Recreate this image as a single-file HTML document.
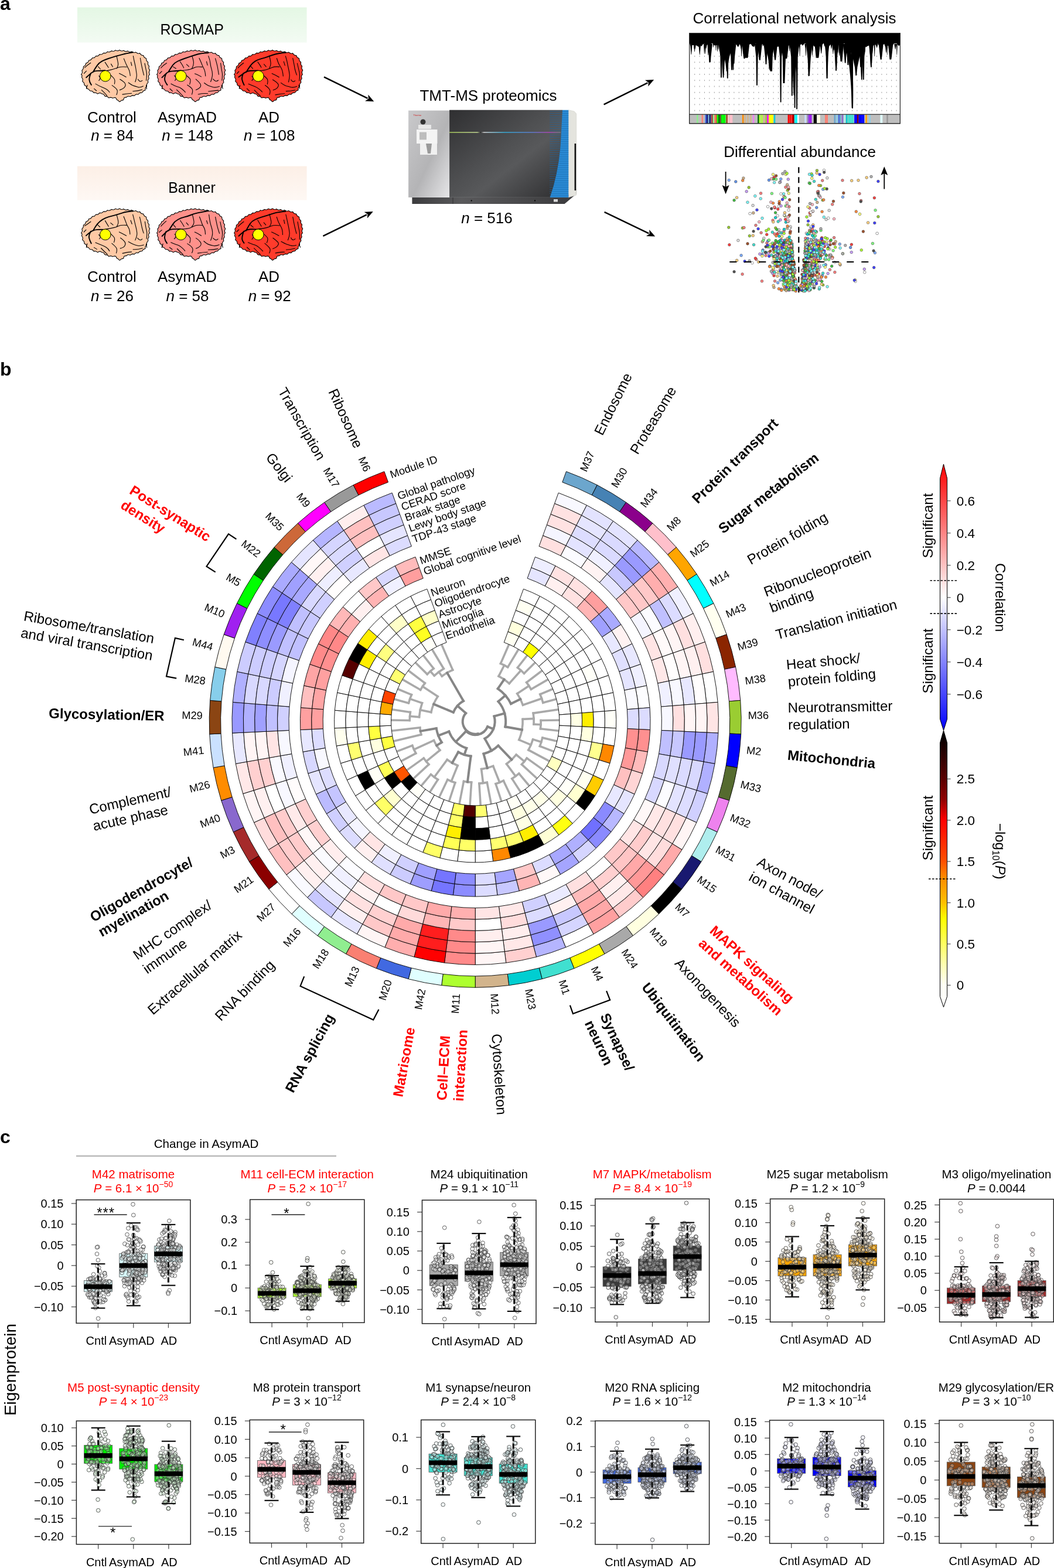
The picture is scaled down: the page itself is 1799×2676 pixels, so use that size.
<!DOCTYPE html><html><head><meta charset="utf-8"><title>Figure</title><style>html,body{margin:0;padding:0;background:#fff}svg{display:block}text{font-family:"Liberation Sans",Arial,Helvetica,sans-serif}</style></head><body><svg xmlns="http://www.w3.org/2000/svg" width="1799" height="2676" viewBox="0 0 1799 2676"><rect width="1799" height="2676" fill="#fff"/><text x="0" y="17" font-size="32" font-weight="bold">a</text>
<defs><linearGradient id="gR" x1="0" y1="0" x2="0" y2="1"><stop offset="0" stop-color="#E4F7E4"/><stop offset="1" stop-color="#F3FBF3"/></linearGradient><linearGradient id="gB" x1="0" y1="0" x2="0" y2="1"><stop offset="0" stop-color="#FCEFE6"/><stop offset="1" stop-color="#FEF8F4"/></linearGradient></defs>
<rect x="132" y="12.6" width="391.6" height="60" fill="url(#gR)"/>
<rect x="132" y="283.6" width="391.6" height="58" fill="url(#gB)"/>
<text x="327.7" y="59" font-size="25" text-anchor="middle">ROSMAP</text>
<text x="327.5" y="328.5" font-size="25" text-anchor="middle">Banner</text>
<path d="M138.6,127.1 L139.4,126.0 L140.0,124.9 L140.4,123.6 L140.4,122.3 L139.9,120.8 L140.3,119.6 L141.2,118.6 L142.0,117.3 L142.3,116.1 L142.3,114.7 L142.8,113.3 L144.4,112.4 L145.3,111.7 L146.0,110.6 L146.4,109.2 L146.9,107.8 L148.5,107.3 L149.8,106.6 L150.6,105.5 L151.2,104.2 L151.7,102.9 L153.1,102.7 L154.3,102.4 L155.4,101.8 L156.2,100.9 L156.9,99.8 L157.7,98.9 L159.1,98.8 L160.5,98.6 L161.6,98.0 L162.5,97.0 L163.4,95.7 L164.8,95.6 L166.3,95.6 L167.6,95.2 L168.7,94.3 L169.6,93.1 L170.9,92.8 L172.3,93.0 L173.7,92.7 L174.8,92.1 L175.9,91.1 L177.1,90.4 L178.5,90.6 L179.9,90.6 L181.1,90.2 L182.2,89.4 L183.2,88.3 L184.6,88.6 L186.0,88.8 L187.2,88.6 L188.4,88.1 L189.5,87.2 L190.8,86.9 L192.1,87.3 L193.3,87.5 L194.5,87.3 L195.6,86.7 L196.7,85.9 L198.0,86.0 L199.2,86.5 L200.4,86.8 L201.6,86.6 L202.8,86.1 L204.1,85.3 L205.4,86.2 L206.7,86.8 L208.0,87.0 L209.3,86.8 L210.8,86.2 L212.0,86.7 L213.3,87.5 L214.6,87.9 L215.8,87.8 L217.1,87.4 L218.3,87.1 L219.4,87.9 L220.6,88.5 L221.8,88.7 L223.0,88.6 L224.3,88.1 L225.5,88.2 L226.6,89.1 L227.7,89.7 L229.0,89.8 L230.3,89.6 L231.6,89.1 L232.8,89.7 L233.8,90.6 L234.9,91.1 L236.1,91.2 L237.4,91.1 L238.8,90.9 L239.6,92.2 L240.5,93.3 L241.6,94.1 L243.0,94.4 L244.6,94.6 L245.3,95.9 L245.8,97.2 L246.6,98.2 L247.7,98.8 L249.1,99.5 L249.8,100.6 L249.8,102.0 L250.1,103.3 L250.8,104.4 L251.9,105.4 L252.7,106.6 L252.4,108.2 L252.4,109.4 L252.8,110.5 L253.5,111.6 L254.5,112.7 L254.3,114.1 L254.0,115.4 L254.0,116.7 L254.4,117.8 L255.1,118.9 L255.7,120.0 L254.9,121.5 L254.5,122.8 L254.4,124.2 L254.8,125.5 L255.4,126.9 L254.4,128.1 L253.7,129.4 L253.5,130.6 L253.6,131.8 L254.1,133.1 L254.0,134.3 L253.2,135.4 L252.6,136.5 L252.4,137.7 L252.5,139.0 L252.9,140.4 L252.1,141.5 L251.2,142.6 L250.6,143.8 L250.4,145.1 L250.5,146.5 L250.4,147.7 L249.4,148.5 L248.3,149.9 L248.0,151.2 L248.0,152.6 L247.8,154.1 L246.2,154.6 L245.2,155.1 L244.2,155.7 L243.4,156.7 L242.6,158.0 L241.2,158.3 L239.6,158.4 L238.2,158.9 L237.3,159.7 L236.5,160.7 L235.3,161.2 L233.9,160.9 L232.6,161.0 L231.4,161.5 L230.3,162.4 L229.3,163.5 L227.8,163.1 L226.5,162.9 L225.3,163.1 L224.1,163.7 L222.9,164.7 L221.5,164.7 L220.1,164.2 L218.8,164.2 L217.6,164.6 L216.5,165.4 L215.7,166.2 L214.6,166.1 L212.6,166.4 L211.5,167.6 L211.2,168.9 L210.8,170.3 L209.6,170.9 L208.1,171.1 L206.9,171.6 L206.0,172.4 L205.2,173.2 L203.9,173.6 L202.8,172.6 L201.9,171.6 L201.0,171.1 L200.1,170.6 L199.0,169.8 L198.6,168.5 L197.6,167.0 L196.4,166.6 L195.1,166.6 L193.7,167.1 L192.3,167.5 L190.9,166.7 L189.5,166.3 L188.1,166.4 L186.9,166.7 L185.4,166.9 L184.4,165.8 L183.4,165.0 L182.3,164.5 L181.1,164.3 L179.8,164.4 L178.8,163.9 L178.0,162.4 L177.2,161.3 L176.1,160.5 L174.6,160.2 L173.3,160.0 L172.1,159.1 L170.7,158.6 L169.3,158.8 L167.9,159.5 L166.6,160.2 L165.4,159.4 L164.2,158.6 L163.0,158.2 L161.7,158.1 L160.1,158.3 L159.0,157.1 L158.2,156.2 L157.1,155.5 L155.7,155.3 L154.2,155.3 L153.1,154.7 L152.3,153.5 L151.6,152.6 L150.6,151.9 L149.5,151.5 L148.2,151.1 L147.8,149.9 L147.6,148.5 L147.0,147.3 L146.1,146.4 L144.9,145.7 L143.9,144.7 L143.8,143.1 L143.4,141.7 L142.7,140.7 L141.7,139.8 L140.7,138.7 L141.0,137.3 L141.3,136.0 L141.1,134.8 L140.6,133.7 L139.9,132.7 L139.5,131.3 L139.9,129.9 L140.0,128.6Z" fill="#FFC9A5" stroke="#000" stroke-width="1.1"/>
<path d="M158.6,123.2 Q162.7,116.1 166.1,111.4 Q169.5,106.7 174.2,104.3 Q179.0,102.0 184.8,100.0 Q190.5,98.1 197.0,96.2 Q203.4,94.4 209.2,92.8 Q215.1,91.3 226.9,89.3 M147.2,132.3 Q154.9,125.0 158.2,123.0 Q161.5,121.0 166.4,120.9 Q171.2,120.9 179.4,120.2 M155.3,124.7 Q152.0,132.4 152.4,136.4 Q152.8,140.4 155.9,144.9" fill="none" stroke="#000" stroke-width="1.9" stroke-linecap="round"/>
<path d="M179.5,121.3 Q191.5,119.0 195.0,117.6 Q198.6,116.2 203.1,114.8 Q207.6,113.4 216.2,114.3 M199.0,95.4 Q200.8,103.6 201.5,107.8 Q202.1,112.0 199.2,117.0 M211.4,100.1 Q214.2,107.1 215.8,110.6 Q217.4,114.1 219.5,117.8 Q221.5,121.6 222.3,129.2 M227.4,95.6 Q228.7,103.0 230.1,108.5 Q231.4,114.1 232.0,118.0 Q232.5,121.9 233.2,126.5 Q233.9,131.1 230.8,139.8 M239.4,99.0 Q241.1,109.0 242.2,114.1 Q243.3,119.3 245.5,128.1 M247.0,108.1 Q248.8,117.0 249.9,122.0 Q251.1,126.9 249.6,137.4 M163.1,143.1 Q169.5,146.9 173.6,148.5 Q177.8,150.1 181.6,152.2 Q185.5,154.4 187.0,157.5 M191.2,145.6 Q197.1,149.6 199.3,152.6 Q201.5,155.5 198.9,161.8 M204.7,135.3 Q211.6,139.5 213.3,142.2 Q215.1,144.9 213.0,148.3 Q210.9,151.6 204.4,153.6 M219.2,141.0 Q225.2,145.5 228.2,146.4 Q231.2,147.3 235.2,148.6 Q239.2,149.8 244.4,147.0 M179.2,106.1 Q182.7,111.4 185.1,115.3 M168.8,129.3 Q172.8,133.6 168.8,137.4 M187.3,126.9 Q193.1,131.8 194.9,134.5 Q196.8,137.2 195.4,143.2 M144.6,115.4 Q149.2,111.0 154.8,107.3 M143.4,125.4 L147.4,121.1 M226.8,155.7 Q235.5,155.4 242.7,153.0 M209.0,161.1 Q217.4,159.9 224.6,159.2 M173.4,153.7 Q179.4,159.3 182.6,163.3 M235.4,135.2 Q238.8,141.4 242.9,137.4 M189.5,109.1 L192.4,114.0 M223.5,106.1 L224.9,112.0 M203.5,125.2 Q209.3,127.9 215.2,131.5 M160.7,151.3 L164.7,155.0 M149.1,145.2 L147.4,151.0 M167.5,113.7 L171.5,118.0 M249.5,145.6 L250.4,151.8" fill="none" stroke="#000" stroke-width="1.1" stroke-linecap="round"/>
<circle cx="179.8" cy="129.8" r="9.3" fill="#FFFF00" stroke="#000" stroke-width="1"/>
<path d="M267.6,127.1 L268.4,126.0 L269.0,124.9 L269.4,123.6 L269.4,122.3 L268.9,120.8 L269.3,119.6 L270.2,118.6 L271.0,117.3 L271.3,116.1 L271.3,114.7 L271.8,113.3 L273.4,112.4 L274.3,111.7 L275.0,110.6 L275.4,109.2 L275.9,107.8 L277.5,107.3 L278.8,106.6 L279.6,105.5 L280.2,104.2 L280.7,102.9 L282.1,102.7 L283.3,102.4 L284.4,101.8 L285.2,100.9 L285.9,99.8 L286.7,98.9 L288.1,98.8 L289.5,98.6 L290.6,98.0 L291.5,97.0 L292.4,95.7 L293.8,95.6 L295.3,95.6 L296.6,95.2 L297.7,94.3 L298.6,93.1 L299.9,92.8 L301.3,93.0 L302.7,92.7 L303.8,92.1 L304.9,91.1 L306.1,90.4 L307.5,90.6 L308.9,90.6 L310.1,90.2 L311.2,89.4 L312.2,88.3 L313.6,88.6 L315.0,88.8 L316.2,88.6 L317.4,88.1 L318.5,87.2 L319.8,86.9 L321.1,87.3 L322.3,87.5 L323.5,87.3 L324.6,86.7 L325.7,85.9 L327.0,86.0 L328.2,86.5 L329.4,86.8 L330.6,86.6 L331.8,86.1 L333.1,85.3 L334.4,86.2 L335.7,86.8 L337.0,87.0 L338.3,86.8 L339.8,86.2 L341.0,86.7 L342.3,87.5 L343.6,87.9 L344.8,87.8 L346.1,87.4 L347.3,87.1 L348.4,87.9 L349.6,88.5 L350.8,88.7 L352.0,88.6 L353.3,88.1 L354.5,88.2 L355.6,89.1 L356.7,89.7 L358.0,89.8 L359.3,89.6 L360.6,89.1 L361.8,89.7 L362.8,90.6 L363.9,91.1 L365.1,91.2 L366.4,91.1 L367.8,90.9 L368.6,92.2 L369.5,93.3 L370.6,94.1 L372.0,94.4 L373.6,94.6 L374.3,95.9 L374.8,97.2 L375.6,98.2 L376.7,98.8 L378.1,99.5 L378.8,100.6 L378.8,102.0 L379.1,103.3 L379.8,104.4 L380.9,105.4 L381.7,106.6 L381.4,108.2 L381.4,109.4 L381.8,110.5 L382.5,111.6 L383.5,112.7 L383.3,114.1 L383.0,115.4 L383.0,116.7 L383.4,117.8 L384.1,118.9 L384.7,120.0 L383.9,121.5 L383.5,122.8 L383.4,124.2 L383.8,125.5 L384.4,126.9 L383.4,128.1 L382.7,129.4 L382.5,130.6 L382.6,131.8 L383.1,133.1 L383.0,134.3 L382.2,135.4 L381.6,136.5 L381.4,137.7 L381.5,139.0 L381.9,140.4 L381.1,141.5 L380.2,142.6 L379.6,143.8 L379.4,145.1 L379.5,146.5 L379.4,147.7 L378.4,148.5 L377.3,149.9 L377.0,151.2 L377.0,152.6 L376.8,154.1 L375.2,154.6 L374.2,155.1 L373.2,155.7 L372.4,156.7 L371.6,158.0 L370.2,158.3 L368.6,158.4 L367.2,158.9 L366.3,159.7 L365.5,160.7 L364.3,161.2 L362.9,160.9 L361.6,161.0 L360.4,161.5 L359.3,162.4 L358.3,163.5 L356.8,163.1 L355.5,162.9 L354.3,163.1 L353.1,163.7 L351.9,164.7 L350.5,164.7 L349.1,164.2 L347.8,164.2 L346.6,164.6 L345.5,165.4 L344.7,166.2 L343.6,166.1 L341.6,166.4 L340.5,167.6 L340.2,168.9 L339.8,170.3 L338.6,170.9 L337.1,171.1 L335.9,171.6 L335.0,172.4 L334.2,173.2 L332.9,173.6 L331.8,172.6 L330.9,171.6 L330.0,171.1 L329.1,170.6 L328.0,169.8 L327.6,168.5 L326.6,167.0 L325.4,166.6 L324.1,166.6 L322.7,167.1 L321.3,167.5 L319.9,166.7 L318.5,166.3 L317.1,166.4 L315.9,166.7 L314.4,166.9 L313.4,165.8 L312.4,165.0 L311.3,164.5 L310.1,164.3 L308.8,164.4 L307.8,163.9 L307.0,162.4 L306.2,161.3 L305.1,160.5 L303.6,160.2 L302.3,160.0 L301.1,159.1 L299.7,158.6 L298.3,158.8 L296.9,159.5 L295.6,160.2 L294.4,159.4 L293.2,158.6 L292.0,158.2 L290.7,158.1 L289.1,158.3 L288.0,157.1 L287.2,156.2 L286.1,155.5 L284.7,155.3 L283.2,155.3 L282.1,154.7 L281.3,153.5 L280.6,152.6 L279.6,151.9 L278.5,151.5 L277.2,151.1 L276.8,149.9 L276.6,148.5 L276.0,147.3 L275.1,146.4 L273.9,145.7 L272.9,144.7 L272.8,143.1 L272.4,141.7 L271.7,140.7 L270.7,139.8 L269.7,138.7 L270.0,137.3 L270.3,136.0 L270.1,134.8 L269.6,133.7 L268.9,132.7 L268.5,131.3 L268.9,129.9 L269.0,128.6Z" fill="#FF918B" stroke="#000" stroke-width="1.1"/>
<path d="M287.6,122.6 Q291.8,115.6 294.8,111.3 Q297.8,107.1 303.4,104.5 Q309.1,102.0 314.6,100.0 Q320.1,98.1 326.0,96.1 Q331.8,94.1 337.6,92.5 Q343.3,90.8 355.4,90.2 M276.4,132.3 Q284.3,124.3 287.2,123.0 Q290.1,121.7 295.1,121.4 Q300.2,121.2 309.1,120.3 M284.0,124.9 Q280.7,131.5 281.1,135.5 Q281.5,139.4 285.5,144.9" fill="none" stroke="#000" stroke-width="1.9" stroke-linecap="round"/>
<path d="M308.7,120.6 Q320.5,119.6 324.5,118.3 Q328.5,116.9 332.2,115.2 Q336.0,113.4 345.1,114.4 M327.6,95.3 Q330.4,103.0 330.4,107.3 Q330.5,111.7 327.7,116.5 M340.0,99.3 Q343.6,107.1 344.7,110.1 Q345.9,113.1 348.0,117.2 Q350.2,121.2 350.8,129.8 M355.8,95.6 Q358.5,103.0 359.0,108.1 Q359.5,113.2 360.9,117.4 Q362.3,121.6 362.5,126.5 Q362.7,131.3 359.6,139.5 M367.5,99.7 Q370.5,110.0 371.4,115.0 Q372.3,120.1 373.4,127.2 M376.6,107.8 Q377.9,118.0 379.0,123.0 Q380.1,127.9 378.8,137.1 M291.9,143.1 Q298.9,147.1 302.8,148.0 Q306.8,148.9 310.1,151.5 Q313.5,154.1 316.3,157.3 M319.7,145.0 Q326.6,149.4 328.1,152.2 Q329.6,155.0 327.5,161.1 M334.2,135.1 Q339.4,139.5 341.6,142.8 Q343.7,146.1 341.6,148.8 Q339.5,151.5 334.3,153.4 M348.6,141.5 Q353.7,145.4 356.6,146.4 Q359.4,147.4 363.6,148.7 Q367.7,150.0 374.4,147.5 M307.4,105.2 Q311.7,111.1 313.7,115.9 M297.6,129.0 Q302.5,133.6 298.6,137.4 M316.5,127.7 Q322.3,131.8 324.2,134.4 Q326.0,137.0 323.7,143.9 M274.5,116.0 Q277.8,111.7 284.4,107.7 M272.4,125.5 L276.2,121.7 M355.7,156.0 Q364.5,155.0 372.6,154.1 M338.2,161.0 Q346.5,159.1 354.6,159.7 M301.5,153.1 Q308.2,159.6 312.3,164.0 M363.7,134.9 Q368.5,140.9 372.5,137.0 M318.4,109.8 L322.5,113.6 M352.5,105.1 L354.2,111.3 M332.5,125.8 Q338.0,127.5 343.4,130.9 M290.1,151.5 L294.4,155.6 M277.6,145.3 L276.3,151.5 M295.4,113.9 L300.4,117.0 M378.1,145.4 L380.3,151.3" fill="none" stroke="#000" stroke-width="1.1" stroke-linecap="round"/>
<circle cx="308.8" cy="129.8" r="9.3" fill="#FFFF00" stroke="#000" stroke-width="1"/>
<path d="M399.6,127.1 L400.4,126.0 L401.0,124.9 L401.4,123.6 L401.4,122.3 L400.9,120.8 L401.3,119.6 L402.2,118.6 L403.0,117.3 L403.3,116.1 L403.3,114.7 L403.8,113.3 L405.4,112.4 L406.3,111.7 L407.0,110.6 L407.4,109.2 L407.9,107.8 L409.5,107.3 L410.8,106.6 L411.6,105.5 L412.2,104.2 L412.7,102.9 L414.1,102.7 L415.3,102.4 L416.4,101.8 L417.2,100.9 L417.9,99.8 L418.7,98.9 L420.1,98.8 L421.5,98.6 L422.6,98.0 L423.5,97.0 L424.4,95.7 L425.8,95.6 L427.3,95.6 L428.6,95.2 L429.7,94.3 L430.6,93.1 L431.9,92.8 L433.3,93.0 L434.7,92.7 L435.8,92.1 L436.9,91.1 L438.1,90.4 L439.5,90.6 L440.9,90.6 L442.1,90.2 L443.2,89.4 L444.2,88.3 L445.6,88.6 L447.0,88.8 L448.2,88.6 L449.4,88.1 L450.5,87.2 L451.8,86.9 L453.1,87.3 L454.3,87.5 L455.5,87.3 L456.6,86.7 L457.7,85.9 L459.0,86.0 L460.2,86.5 L461.4,86.8 L462.6,86.6 L463.8,86.1 L465.1,85.3 L466.4,86.2 L467.7,86.8 L469.0,87.0 L470.3,86.8 L471.8,86.2 L473.0,86.7 L474.3,87.5 L475.6,87.9 L476.8,87.8 L478.1,87.4 L479.3,87.1 L480.4,87.9 L481.6,88.5 L482.8,88.7 L484.0,88.6 L485.3,88.1 L486.5,88.2 L487.6,89.1 L488.7,89.7 L490.0,89.8 L491.3,89.6 L492.6,89.1 L493.8,89.7 L494.8,90.6 L495.9,91.1 L497.1,91.2 L498.4,91.1 L499.8,90.9 L500.6,92.2 L501.5,93.3 L502.6,94.1 L504.0,94.4 L505.6,94.6 L506.3,95.9 L506.8,97.2 L507.6,98.2 L508.7,98.8 L510.1,99.5 L510.8,100.6 L510.8,102.0 L511.1,103.3 L511.8,104.4 L512.9,105.4 L513.7,106.6 L513.4,108.2 L513.4,109.4 L513.8,110.5 L514.5,111.6 L515.5,112.7 L515.3,114.1 L515.0,115.4 L515.0,116.7 L515.4,117.8 L516.1,118.9 L516.7,120.0 L515.9,121.5 L515.5,122.8 L515.4,124.2 L515.8,125.5 L516.4,126.9 L515.4,128.1 L514.7,129.4 L514.5,130.6 L514.6,131.8 L515.1,133.1 L515.0,134.3 L514.2,135.4 L513.6,136.5 L513.4,137.7 L513.5,139.0 L513.9,140.4 L513.1,141.5 L512.2,142.6 L511.6,143.8 L511.4,145.1 L511.5,146.5 L511.4,147.7 L510.4,148.5 L509.3,149.9 L509.0,151.2 L509.0,152.6 L508.8,154.1 L507.2,154.6 L506.2,155.1 L505.2,155.7 L504.4,156.7 L503.6,158.0 L502.2,158.3 L500.6,158.4 L499.2,158.9 L498.3,159.7 L497.5,160.7 L496.3,161.2 L494.9,160.9 L493.6,161.0 L492.4,161.5 L491.3,162.4 L490.3,163.5 L488.8,163.1 L487.5,162.9 L486.3,163.1 L485.1,163.7 L483.9,164.7 L482.5,164.7 L481.1,164.2 L479.8,164.2 L478.6,164.6 L477.5,165.4 L476.7,166.2 L475.6,166.1 L473.6,166.4 L472.5,167.6 L472.2,168.9 L471.8,170.3 L470.6,170.9 L469.1,171.1 L467.9,171.6 L467.0,172.4 L466.2,173.2 L464.9,173.6 L463.8,172.6 L462.9,171.6 L462.0,171.1 L461.1,170.6 L460.0,169.8 L459.6,168.5 L458.6,167.0 L457.4,166.6 L456.1,166.6 L454.7,167.1 L453.3,167.5 L451.9,166.7 L450.5,166.3 L449.1,166.4 L447.9,166.7 L446.4,166.9 L445.4,165.8 L444.4,165.0 L443.3,164.5 L442.1,164.3 L440.8,164.4 L439.8,163.9 L439.0,162.4 L438.2,161.3 L437.1,160.5 L435.6,160.2 L434.3,160.0 L433.1,159.1 L431.7,158.6 L430.3,158.8 L428.9,159.5 L427.6,160.2 L426.4,159.4 L425.2,158.6 L424.0,158.2 L422.7,158.1 L421.1,158.3 L420.0,157.1 L419.2,156.2 L418.1,155.5 L416.7,155.3 L415.2,155.3 L414.1,154.7 L413.3,153.5 L412.6,152.6 L411.6,151.9 L410.5,151.5 L409.2,151.1 L408.8,149.9 L408.6,148.5 L408.0,147.3 L407.1,146.4 L405.9,145.7 L404.9,144.7 L404.8,143.1 L404.4,141.7 L403.7,140.7 L402.7,139.8 L401.7,138.7 L402.0,137.3 L402.3,136.0 L402.1,134.8 L401.6,133.7 L400.9,132.7 L400.5,131.3 L400.9,129.9 L401.0,128.6Z" fill="#FF3B2B" stroke="#000" stroke-width="1.1"/>
<path d="M420.0,123.4 Q424.3,116.5 427.4,112.1 Q430.6,107.7 435.3,104.6 Q440.0,101.6 446.2,100.1 Q452.3,98.6 458.3,96.3 Q464.3,93.9 470.0,92.5 Q475.7,91.0 487.8,89.8 M407.4,131.6 Q415.6,125.2 419.1,123.1 Q422.6,121.1 427.4,120.7 Q432.3,120.4 440.7,120.4 M415.3,125.1 Q412.4,131.6 413.2,136.0 Q414.1,140.3 416.7,145.1" fill="none" stroke="#000" stroke-width="1.9" stroke-linecap="round"/>
<path d="M440.6,121.0 Q451.6,120.0 455.9,118.5 Q460.2,117.1 464.4,115.2 Q468.5,113.3 476.8,114.1 M459.6,95.0 Q461.8,103.6 462.1,107.7 Q462.4,111.7 459.8,116.3 M472.4,99.5 Q474.8,107.5 476.5,110.2 Q478.2,113.0 480.4,116.9 Q482.6,120.9 483.3,129.9 M487.4,95.8 Q489.8,103.6 490.6,108.3 Q491.4,113.0 492.5,117.5 Q493.6,122.0 494.1,126.9 Q494.6,131.8 492.5,140.0 M499.8,99.3 Q502.0,109.8 502.8,114.8 Q503.5,119.8 506.4,127.9 M507.4,108.0 Q509.5,117.3 510.8,122.7 Q512.1,128.0 510.8,138.0 M424.1,143.3 Q430.8,146.1 434.6,147.6 Q438.5,149.1 442.4,152.1 Q446.2,155.1 447.6,157.0 M452.6,145.5 Q457.9,149.2 460.0,152.5 Q462.1,155.9 459.9,161.4 M465.5,136.0 Q471.4,139.5 473.9,142.3 Q476.4,145.1 474.3,148.5 Q472.3,152.0 466.2,153.8 M479.5,141.4 Q485.6,145.9 488.7,146.7 Q491.8,147.4 496.2,148.7 Q500.6,149.9 506.6,147.4 M440.0,105.8 Q444.0,111.2 445.9,115.1 M429.9,130.1 Q434.6,133.7 430.0,137.3 M447.5,127.2 Q454.3,131.9 456.1,134.9 Q457.8,137.8 456.3,143.7 M406.2,115.8 Q409.8,111.7 415.7,107.5 M404.3,125.7 L407.8,122.0 M488.2,155.6 Q495.4,155.6 503.7,153.7 M470.0,161.9 Q478.2,159.9 485.8,159.7 M434.3,153.9 Q439.8,159.9 444.4,163.7 M496.6,136.0 Q500.0,141.5 503.6,137.9 M450.5,109.5 L454.2,113.8 M484.3,105.1 L486.3,111.6 M464.2,125.4 Q470.1,127.8 476.2,131.8 M421.4,151.1 L425.9,155.7 M409.7,145.7 L408.2,151.0 M428.0,113.2 L431.5,117.1 M509.8,145.1 L511.6,150.9" fill="none" stroke="#000" stroke-width="1.1" stroke-linecap="round"/>
<circle cx="440.8" cy="129.8" r="9.3" fill="#FFFF00" stroke="#000" stroke-width="1"/>
<path d="M138.6,397.6 L139.4,396.5 L140.0,395.4 L140.4,394.1 L140.4,392.8 L139.9,391.3 L140.3,390.1 L141.2,389.1 L142.0,387.8 L142.3,386.6 L142.3,385.2 L142.8,383.8 L144.4,382.9 L145.3,382.2 L146.0,381.1 L146.4,379.7 L146.9,378.3 L148.5,377.8 L149.8,377.1 L150.6,376.0 L151.2,374.7 L151.7,373.4 L153.1,373.2 L154.3,372.9 L155.4,372.3 L156.2,371.4 L156.9,370.3 L157.7,369.4 L159.1,369.3 L160.5,369.1 L161.6,368.5 L162.5,367.5 L163.4,366.2 L164.8,366.1 L166.3,366.1 L167.6,365.7 L168.7,364.8 L169.6,363.6 L170.9,363.3 L172.3,363.5 L173.7,363.2 L174.8,362.6 L175.9,361.6 L177.1,360.9 L178.5,361.1 L179.9,361.1 L181.1,360.7 L182.2,359.9 L183.2,358.8 L184.6,359.1 L186.0,359.3 L187.2,359.1 L188.4,358.6 L189.5,357.7 L190.8,357.4 L192.1,357.8 L193.3,358.0 L194.5,357.8 L195.6,357.2 L196.7,356.4 L198.0,356.5 L199.2,357.0 L200.4,357.3 L201.6,357.1 L202.8,356.6 L204.1,355.8 L205.4,356.7 L206.7,357.3 L208.0,357.5 L209.3,357.3 L210.8,356.7 L212.0,357.2 L213.3,358.0 L214.6,358.4 L215.8,358.3 L217.1,357.9 L218.3,357.6 L219.4,358.4 L220.6,359.0 L221.8,359.2 L223.0,359.1 L224.3,358.6 L225.5,358.7 L226.6,359.6 L227.7,360.2 L229.0,360.3 L230.3,360.1 L231.6,359.6 L232.8,360.2 L233.8,361.1 L234.9,361.6 L236.1,361.7 L237.4,361.6 L238.8,361.4 L239.6,362.7 L240.5,363.8 L241.6,364.6 L243.0,364.9 L244.6,365.1 L245.3,366.4 L245.8,367.7 L246.6,368.7 L247.7,369.3 L249.1,370.0 L249.8,371.1 L249.8,372.5 L250.1,373.8 L250.8,374.9 L251.9,375.9 L252.7,377.1 L252.4,378.7 L252.4,379.9 L252.8,381.0 L253.5,382.1 L254.5,383.2 L254.3,384.6 L254.0,385.9 L254.0,387.2 L254.4,388.3 L255.1,389.4 L255.7,390.5 L254.9,392.0 L254.5,393.3 L254.4,394.7 L254.8,396.0 L255.4,397.4 L254.4,398.6 L253.7,399.9 L253.5,401.1 L253.6,402.3 L254.1,403.6 L254.0,404.8 L253.2,405.9 L252.6,407.0 L252.4,408.2 L252.5,409.5 L252.9,410.9 L252.1,412.0 L251.2,413.1 L250.6,414.3 L250.4,415.6 L250.5,417.0 L250.4,418.2 L249.4,419.0 L248.3,420.4 L248.0,421.7 L248.0,423.1 L247.8,424.6 L246.2,425.1 L245.2,425.6 L244.2,426.2 L243.4,427.2 L242.6,428.5 L241.2,428.8 L239.6,428.9 L238.2,429.4 L237.3,430.2 L236.5,431.2 L235.3,431.7 L233.9,431.4 L232.6,431.5 L231.4,432.0 L230.3,432.9 L229.3,434.0 L227.8,433.6 L226.5,433.4 L225.3,433.6 L224.1,434.2 L222.9,435.2 L221.5,435.2 L220.1,434.7 L218.8,434.7 L217.6,435.1 L216.5,435.9 L215.7,436.7 L214.6,436.6 L212.6,436.9 L211.5,438.1 L211.2,439.4 L210.8,440.8 L209.6,441.4 L208.1,441.6 L206.9,442.1 L206.0,442.9 L205.2,443.7 L203.9,444.1 L202.8,443.1 L201.9,442.1 L201.0,441.6 L200.1,441.1 L199.0,440.3 L198.6,439.0 L197.6,437.5 L196.4,437.1 L195.1,437.1 L193.7,437.6 L192.3,438.0 L190.9,437.2 L189.5,436.8 L188.1,436.9 L186.9,437.2 L185.4,437.4 L184.4,436.3 L183.4,435.5 L182.3,435.0 L181.1,434.8 L179.8,434.9 L178.8,434.4 L178.0,432.9 L177.2,431.8 L176.1,431.0 L174.6,430.7 L173.3,430.5 L172.1,429.6 L170.7,429.1 L169.3,429.3 L167.9,430.0 L166.6,430.7 L165.4,429.9 L164.2,429.1 L163.0,428.7 L161.7,428.6 L160.1,428.8 L159.0,427.6 L158.2,426.7 L157.1,426.0 L155.7,425.8 L154.2,425.8 L153.1,425.2 L152.3,424.0 L151.6,423.1 L150.6,422.4 L149.5,422.0 L148.2,421.6 L147.8,420.4 L147.6,419.0 L147.0,417.8 L146.1,416.9 L144.9,416.2 L143.9,415.2 L143.8,413.6 L143.4,412.2 L142.7,411.2 L141.7,410.3 L140.7,409.2 L141.0,407.8 L141.3,406.5 L141.1,405.3 L140.6,404.2 L139.9,403.2 L139.5,401.8 L139.9,400.4 L140.0,399.1Z" fill="#FFC9A5" stroke="#000" stroke-width="1.1"/>
<path d="M159.0,393.5 Q163.0,386.1 166.3,382.1 Q169.7,378.1 174.7,374.9 Q179.8,371.7 185.3,370.2 Q190.8,368.7 196.7,367.1 Q202.5,365.4 208.9,363.3 Q215.3,361.3 227.1,360.3 M146.9,402.1 Q155.1,395.1 158.3,393.7 Q161.5,392.2 166.0,391.9 Q170.5,391.6 180.2,391.9 M155.0,394.7 Q151.1,402.0 152.1,406.1 Q153.0,410.2 155.8,415.5" fill="none" stroke="#000" stroke-width="1.9" stroke-linecap="round"/>
<path d="M179.4,391.4 Q190.9,389.5 195.0,388.4 Q199.1,387.4 202.8,385.5 Q206.6,383.7 215.9,384.4 M199.0,366.4 Q201.2,374.0 201.8,377.8 Q202.4,381.6 199.1,386.8 M211.1,369.5 Q214.3,377.5 215.5,380.9 Q216.6,384.4 219.1,388.1 Q221.5,391.9 221.9,399.7 M226.7,366.1 Q228.6,373.5 229.8,378.6 Q230.9,383.6 232.1,388.0 Q233.2,392.4 233.8,397.2 Q234.3,402.0 230.8,409.9 M238.4,370.3 Q240.8,379.8 241.6,384.9 Q242.5,389.9 245.1,397.9 M247.4,378.2 Q248.7,388.0 250.1,393.0 Q251.5,398.0 250.1,407.5 M163.0,414.0 Q169.9,416.9 174.0,418.5 Q178.1,420.0 181.5,422.3 Q185.0,424.6 186.9,428.6 M190.9,415.4 Q196.4,420.0 198.4,422.8 Q200.5,425.5 198.5,431.9 M205.6,406.0 Q211.0,409.9 213.0,412.9 Q215.0,415.9 213.1,419.2 Q211.3,422.5 205.2,423.9 M219.2,412.5 Q224.6,415.7 227.9,417.0 Q231.1,418.2 235.2,419.2 Q239.2,420.1 245.4,418.0 M179.4,376.6 Q182.9,382.4 185.3,386.5 M168.5,400.5 Q173.3,404.6 169.6,407.7 M187.2,397.6 Q193.1,402.5 194.9,405.2 Q196.6,407.8 194.5,413.6 M144.6,385.5 Q149.6,382.5 155.0,378.3 M143.2,396.0 L146.9,392.2 M227.1,425.7 Q234.8,426.2 243.2,423.7 M209.1,432.4 Q217.4,430.2 224.5,429.9 M172.5,423.5 Q178.7,429.9 183.3,434.2 M234.7,406.2 Q239.0,412.0 242.7,407.9 M188.8,380.3 L193.0,383.9 M223.0,376.0 L225.2,382.3 M203.4,395.9 Q209.4,398.6 215.6,402.3 M160.5,422.4 L165.4,425.4 M148.8,415.8 L147.3,422.1 M166.7,383.6 L170.6,387.5 M249.3,416.5 L250.7,422.3" fill="none" stroke="#000" stroke-width="1.1" stroke-linecap="round"/>
<circle cx="179.8" cy="400.3" r="9.3" fill="#FFFF00" stroke="#000" stroke-width="1"/>
<path d="M267.6,397.6 L268.4,396.5 L269.0,395.4 L269.4,394.1 L269.4,392.8 L268.9,391.3 L269.3,390.1 L270.2,389.1 L271.0,387.8 L271.3,386.6 L271.3,385.2 L271.8,383.8 L273.4,382.9 L274.3,382.2 L275.0,381.1 L275.4,379.7 L275.9,378.3 L277.5,377.8 L278.8,377.1 L279.6,376.0 L280.2,374.7 L280.7,373.4 L282.1,373.2 L283.3,372.9 L284.4,372.3 L285.2,371.4 L285.9,370.3 L286.7,369.4 L288.1,369.3 L289.5,369.1 L290.6,368.5 L291.5,367.5 L292.4,366.2 L293.8,366.1 L295.3,366.1 L296.6,365.7 L297.7,364.8 L298.6,363.6 L299.9,363.3 L301.3,363.5 L302.7,363.2 L303.8,362.6 L304.9,361.6 L306.1,360.9 L307.5,361.1 L308.9,361.1 L310.1,360.7 L311.2,359.9 L312.2,358.8 L313.6,359.1 L315.0,359.3 L316.2,359.1 L317.4,358.6 L318.5,357.7 L319.8,357.4 L321.1,357.8 L322.3,358.0 L323.5,357.8 L324.6,357.2 L325.7,356.4 L327.0,356.5 L328.2,357.0 L329.4,357.3 L330.6,357.1 L331.8,356.6 L333.1,355.8 L334.4,356.7 L335.7,357.3 L337.0,357.5 L338.3,357.3 L339.8,356.7 L341.0,357.2 L342.3,358.0 L343.6,358.4 L344.8,358.3 L346.1,357.9 L347.3,357.6 L348.4,358.4 L349.6,359.0 L350.8,359.2 L352.0,359.1 L353.3,358.6 L354.5,358.7 L355.6,359.6 L356.7,360.2 L358.0,360.3 L359.3,360.1 L360.6,359.6 L361.8,360.2 L362.8,361.1 L363.9,361.6 L365.1,361.7 L366.4,361.6 L367.8,361.4 L368.6,362.7 L369.5,363.8 L370.6,364.6 L372.0,364.9 L373.6,365.1 L374.3,366.4 L374.8,367.7 L375.6,368.7 L376.7,369.3 L378.1,370.0 L378.8,371.1 L378.8,372.5 L379.1,373.8 L379.8,374.9 L380.9,375.9 L381.7,377.1 L381.4,378.7 L381.4,379.9 L381.8,381.0 L382.5,382.1 L383.5,383.2 L383.3,384.6 L383.0,385.9 L383.0,387.2 L383.4,388.3 L384.1,389.4 L384.7,390.5 L383.9,392.0 L383.5,393.3 L383.4,394.7 L383.8,396.0 L384.4,397.4 L383.4,398.6 L382.7,399.9 L382.5,401.1 L382.6,402.3 L383.1,403.6 L383.0,404.8 L382.2,405.9 L381.6,407.0 L381.4,408.2 L381.5,409.5 L381.9,410.9 L381.1,412.0 L380.2,413.1 L379.6,414.3 L379.4,415.6 L379.5,417.0 L379.4,418.2 L378.4,419.0 L377.3,420.4 L377.0,421.7 L377.0,423.1 L376.8,424.6 L375.2,425.1 L374.2,425.6 L373.2,426.2 L372.4,427.2 L371.6,428.5 L370.2,428.8 L368.6,428.9 L367.2,429.4 L366.3,430.2 L365.5,431.2 L364.3,431.7 L362.9,431.4 L361.6,431.5 L360.4,432.0 L359.3,432.9 L358.3,434.0 L356.8,433.6 L355.5,433.4 L354.3,433.6 L353.1,434.2 L351.9,435.2 L350.5,435.2 L349.1,434.7 L347.8,434.7 L346.6,435.1 L345.5,435.9 L344.7,436.7 L343.6,436.6 L341.6,436.9 L340.5,438.1 L340.2,439.4 L339.8,440.8 L338.6,441.4 L337.1,441.6 L335.9,442.1 L335.0,442.9 L334.2,443.7 L332.9,444.1 L331.8,443.1 L330.9,442.1 L330.0,441.6 L329.1,441.1 L328.0,440.3 L327.6,439.0 L326.6,437.5 L325.4,437.1 L324.1,437.1 L322.7,437.6 L321.3,438.0 L319.9,437.2 L318.5,436.8 L317.1,436.9 L315.9,437.2 L314.4,437.4 L313.4,436.3 L312.4,435.5 L311.3,435.0 L310.1,434.8 L308.8,434.9 L307.8,434.4 L307.0,432.9 L306.2,431.8 L305.1,431.0 L303.6,430.7 L302.3,430.5 L301.1,429.6 L299.7,429.1 L298.3,429.3 L296.9,430.0 L295.6,430.7 L294.4,429.9 L293.2,429.1 L292.0,428.7 L290.7,428.6 L289.1,428.8 L288.0,427.6 L287.2,426.7 L286.1,426.0 L284.7,425.8 L283.2,425.8 L282.1,425.2 L281.3,424.0 L280.6,423.1 L279.6,422.4 L278.5,422.0 L277.2,421.6 L276.8,420.4 L276.6,419.0 L276.0,417.8 L275.1,416.9 L273.9,416.2 L272.9,415.2 L272.8,413.6 L272.4,412.2 L271.7,411.2 L270.7,410.3 L269.7,409.2 L270.0,407.8 L270.3,406.5 L270.1,405.3 L269.6,404.2 L268.9,403.2 L268.5,401.8 L268.9,400.4 L269.0,399.1Z" fill="#FF918B" stroke="#000" stroke-width="1.1"/>
<path d="M287.8,393.7 Q292.4,386.5 295.4,382.1 Q298.3,377.8 303.3,375.0 Q308.2,372.1 314.1,370.7 Q320.0,369.3 325.6,367.0 Q331.3,364.7 337.3,363.4 Q343.2,362.2 355.9,359.7 M276.6,403.0 Q284.1,395.3 287.0,393.4 Q289.9,391.4 294.9,391.1 Q299.9,390.8 308.2,391.0 M283.3,395.2 Q280.6,402.8 281.1,406.7 Q281.5,410.6 285.0,415.2" fill="none" stroke="#000" stroke-width="1.9" stroke-linecap="round"/>
<path d="M308.5,391.0 Q320.6,390.6 324.5,388.9 Q328.4,387.2 332.1,385.5 Q335.8,383.7 344.7,384.5 M328.3,365.9 Q330.4,373.9 331.0,378.1 Q331.5,382.4 327.4,386.7 M340.5,370.0 Q343.6,377.9 344.5,381.0 Q345.5,384.2 347.9,387.9 Q350.3,391.7 350.5,399.8 M356.6,366.3 Q357.5,373.7 358.5,378.6 Q359.5,383.5 360.9,387.5 Q362.4,391.6 362.7,396.8 Q363.1,401.9 359.6,410.3 M367.6,370.2 Q369.5,379.9 370.6,384.8 Q371.7,389.7 374.6,398.4 M375.8,378.5 Q377.7,387.9 379.0,393.0 Q380.4,398.2 378.5,408.6 M291.7,413.7 Q299.3,416.8 303.0,418.1 Q306.8,419.5 310.1,422.3 Q313.5,425.1 315.7,428.1 M319.8,415.9 Q326.6,420.0 328.3,423.2 Q330.1,426.4 327.6,431.6 M334.5,406.4 Q339.7,409.6 342.0,413.1 Q344.3,416.5 342.0,419.5 Q339.6,422.5 334.5,424.1 M347.9,411.5 Q353.4,416.6 356.6,417.4 Q359.7,418.2 363.7,419.3 Q367.7,420.4 374.1,417.8 M307.6,376.3 Q311.5,381.7 314.1,386.4 M298.1,399.7 Q302.5,403.6 297.4,407.7 M315.9,397.5 Q321.6,401.8 323.8,404.7 Q326.1,407.6 323.8,414.5 M274.6,386.2 Q278.2,382.1 283.6,377.4 M271.4,396.5 L276.2,392.6 M355.4,426.2 Q364.0,426.3 371.8,424.6 M337.5,432.1 Q346.3,430.5 354.3,430.2 M302.4,424.5 Q307.8,430.2 312.5,434.4 M363.9,406.3 Q368.4,412.1 372.1,407.9 M318.1,380.1 L321.5,384.2 M352.6,376.5 L354.3,381.9 M332.3,396.1 Q337.9,398.4 343.5,402.3 M289.4,422.1 L294.0,425.7 M278.2,416.0 L276.1,422.5 M295.7,383.4 L299.8,388.2 M377.6,415.6 L380.5,422.2" fill="none" stroke="#000" stroke-width="1.1" stroke-linecap="round"/>
<circle cx="308.8" cy="400.3" r="9.3" fill="#FFFF00" stroke="#000" stroke-width="1"/>
<path d="M399.6,397.6 L400.4,396.5 L401.0,395.4 L401.4,394.1 L401.4,392.8 L400.9,391.3 L401.3,390.1 L402.2,389.1 L403.0,387.8 L403.3,386.6 L403.3,385.2 L403.8,383.8 L405.4,382.9 L406.3,382.2 L407.0,381.1 L407.4,379.7 L407.9,378.3 L409.5,377.8 L410.8,377.1 L411.6,376.0 L412.2,374.7 L412.7,373.4 L414.1,373.2 L415.3,372.9 L416.4,372.3 L417.2,371.4 L417.9,370.3 L418.7,369.4 L420.1,369.3 L421.5,369.1 L422.6,368.5 L423.5,367.5 L424.4,366.2 L425.8,366.1 L427.3,366.1 L428.6,365.7 L429.7,364.8 L430.6,363.6 L431.9,363.3 L433.3,363.5 L434.7,363.2 L435.8,362.6 L436.9,361.6 L438.1,360.9 L439.5,361.1 L440.9,361.1 L442.1,360.7 L443.2,359.9 L444.2,358.8 L445.6,359.1 L447.0,359.3 L448.2,359.1 L449.4,358.6 L450.5,357.7 L451.8,357.4 L453.1,357.8 L454.3,358.0 L455.5,357.8 L456.6,357.2 L457.7,356.4 L459.0,356.5 L460.2,357.0 L461.4,357.3 L462.6,357.1 L463.8,356.6 L465.1,355.8 L466.4,356.7 L467.7,357.3 L469.0,357.5 L470.3,357.3 L471.8,356.7 L473.0,357.2 L474.3,358.0 L475.6,358.4 L476.8,358.3 L478.1,357.9 L479.3,357.6 L480.4,358.4 L481.6,359.0 L482.8,359.2 L484.0,359.1 L485.3,358.6 L486.5,358.7 L487.6,359.6 L488.7,360.2 L490.0,360.3 L491.3,360.1 L492.6,359.6 L493.8,360.2 L494.8,361.1 L495.9,361.6 L497.1,361.7 L498.4,361.6 L499.8,361.4 L500.6,362.7 L501.5,363.8 L502.6,364.6 L504.0,364.9 L505.6,365.1 L506.3,366.4 L506.8,367.7 L507.6,368.7 L508.7,369.3 L510.1,370.0 L510.8,371.1 L510.8,372.5 L511.1,373.8 L511.8,374.9 L512.9,375.9 L513.7,377.1 L513.4,378.7 L513.4,379.9 L513.8,381.0 L514.5,382.1 L515.5,383.2 L515.3,384.6 L515.0,385.9 L515.0,387.2 L515.4,388.3 L516.1,389.4 L516.7,390.5 L515.9,392.0 L515.5,393.3 L515.4,394.7 L515.8,396.0 L516.4,397.4 L515.4,398.6 L514.7,399.9 L514.5,401.1 L514.6,402.3 L515.1,403.6 L515.0,404.8 L514.2,405.9 L513.6,407.0 L513.4,408.2 L513.5,409.5 L513.9,410.9 L513.1,412.0 L512.2,413.1 L511.6,414.3 L511.4,415.6 L511.5,417.0 L511.4,418.2 L510.4,419.0 L509.3,420.4 L509.0,421.7 L509.0,423.1 L508.8,424.6 L507.2,425.1 L506.2,425.6 L505.2,426.2 L504.4,427.2 L503.6,428.5 L502.2,428.8 L500.6,428.9 L499.2,429.4 L498.3,430.2 L497.5,431.2 L496.3,431.7 L494.9,431.4 L493.6,431.5 L492.4,432.0 L491.3,432.9 L490.3,434.0 L488.8,433.6 L487.5,433.4 L486.3,433.6 L485.1,434.2 L483.9,435.2 L482.5,435.2 L481.1,434.7 L479.8,434.7 L478.6,435.1 L477.5,435.9 L476.7,436.7 L475.6,436.6 L473.6,436.9 L472.5,438.1 L472.2,439.4 L471.8,440.8 L470.6,441.4 L469.1,441.6 L467.9,442.1 L467.0,442.9 L466.2,443.7 L464.9,444.1 L463.8,443.1 L462.9,442.1 L462.0,441.6 L461.1,441.1 L460.0,440.3 L459.6,439.0 L458.6,437.5 L457.4,437.1 L456.1,437.1 L454.7,437.6 L453.3,438.0 L451.9,437.2 L450.5,436.8 L449.1,436.9 L447.9,437.2 L446.4,437.4 L445.4,436.3 L444.4,435.5 L443.3,435.0 L442.1,434.8 L440.8,434.9 L439.8,434.4 L439.0,432.9 L438.2,431.8 L437.1,431.0 L435.6,430.7 L434.3,430.5 L433.1,429.6 L431.7,429.1 L430.3,429.3 L428.9,430.0 L427.6,430.7 L426.4,429.9 L425.2,429.1 L424.0,428.7 L422.7,428.6 L421.1,428.8 L420.0,427.6 L419.2,426.7 L418.1,426.0 L416.7,425.8 L415.2,425.8 L414.1,425.2 L413.3,424.0 L412.6,423.1 L411.6,422.4 L410.5,422.0 L409.2,421.6 L408.8,420.4 L408.6,419.0 L408.0,417.8 L407.1,416.9 L405.9,416.2 L404.9,415.2 L404.8,413.6 L404.4,412.2 L403.7,411.2 L402.7,410.3 L401.7,409.2 L402.0,407.8 L402.3,406.5 L402.1,405.3 L401.6,404.2 L400.9,403.2 L400.5,401.8 L400.9,400.4 L401.0,399.1Z" fill="#FF3B2B" stroke="#000" stroke-width="1.1"/>
<path d="M419.9,393.8 Q424.1,386.1 426.9,381.8 Q429.7,377.5 435.0,375.0 Q440.3,372.5 446.2,370.7 Q452.0,369.0 457.9,367.1 Q463.9,365.1 469.6,363.4 Q475.3,361.7 487.3,360.7 M407.5,402.8 Q415.4,395.4 418.7,393.7 Q422.1,391.9 427.2,391.3 Q432.3,390.7 440.1,391.8 M415.9,394.7 Q413.3,402.9 413.2,406.6 Q413.0,410.3 416.6,414.8" fill="none" stroke="#000" stroke-width="1.9" stroke-linecap="round"/>
<path d="M440.7,390.9 Q452.2,389.5 455.9,388.4 Q459.6,387.4 463.7,385.6 Q467.9,383.9 477.1,385.0 M459.9,365.4 Q462.3,374.6 462.9,378.4 Q463.6,382.2 459.8,386.8 M472.2,370.2 Q474.5,377.7 476.2,380.8 Q477.8,384.0 480.1,388.0 Q482.4,392.0 482.4,400.4 M487.9,366.0 Q489.7,373.9 490.8,379.1 Q491.9,384.3 492.7,388.2 Q493.5,392.1 494.1,397.1 Q494.6,402.2 491.4,409.7 M499.8,370.2 Q501.5,380.0 502.6,384.8 Q503.7,389.7 506.0,398.6 M508.0,378.5 Q509.6,388.5 510.7,393.1 Q511.8,397.6 511.3,408.5 M423.4,413.7 Q431.3,416.8 435.0,418.1 Q438.7,419.4 442.1,422.3 Q445.4,425.1 448.6,428.6 M452.0,415.4 Q457.8,420.3 460.1,423.3 Q462.4,426.2 459.7,432.0 M466.0,406.2 Q471.7,410.5 474.1,413.1 Q476.5,415.6 474.1,419.0 Q471.7,422.4 465.7,424.5 M480.0,412.2 Q486.2,415.7 489.0,416.7 Q491.7,417.7 496.0,419.0 Q500.2,420.2 505.6,418.5 M439.9,375.7 Q443.9,382.6 446.1,386.1 M430.5,400.6 Q434.3,403.9 430.1,408.5 M448.3,398.1 Q453.8,401.8 456.0,405.0 Q458.3,408.1 455.4,414.3 M406.5,386.4 Q410.5,382.5 416.0,378.3 M403.9,395.5 L407.8,391.8 M488.5,426.2 Q496.0,426.1 503.5,424.0 M470.2,431.9 Q477.7,429.9 485.8,430.2 M433.6,423.5 Q439.8,430.2 444.3,434.2 M496.5,405.8 Q499.4,412.0 503.9,407.6 M450.2,379.8 L453.7,383.8 M484.5,375.4 L485.8,381.7 M463.6,395.9 Q469.7,398.5 476.0,402.2 M421.6,422.0 L426.1,426.4 M409.7,416.0 L408.4,422.4 M427.7,384.0 L432.3,387.9 M510.2,416.2 L512.6,422.1" fill="none" stroke="#000" stroke-width="1.1" stroke-linecap="round"/>
<circle cx="440.8" cy="400.3" r="9.3" fill="#FFFF00" stroke="#000" stroke-width="1"/>
<text x="191.0" y="208.6" font-size="26" text-anchor="middle">Control</text>
<text x="191.0" y="480.7" font-size="26" text-anchor="middle">Control</text>
<text x="319.6" y="208.6" font-size="26" text-anchor="middle">AsymAD</text>
<text x="319.6" y="480.7" font-size="26" text-anchor="middle">AsymAD</text>
<text x="459.1" y="208.6" font-size="26" text-anchor="middle">AD</text>
<text x="459.1" y="480.7" font-size="26" text-anchor="middle">AD</text>
<text x="191.7" y="240.3" font-size="26" text-anchor="middle"><tspan font-style="italic">n</tspan> = 84</text>
<text x="319.9" y="240.3" font-size="26" text-anchor="middle"><tspan font-style="italic">n</tspan> = 148</text>
<text x="459.8" y="240.3" font-size="26" text-anchor="middle"><tspan font-style="italic">n</tspan> = 108</text>
<text x="191.4" y="514" font-size="26" text-anchor="middle"><tspan font-style="italic">n</tspan> = 26</text>
<text x="320.0" y="514" font-size="26" text-anchor="middle"><tspan font-style="italic">n</tspan> = 58</text>
<text x="460.2" y="514" font-size="26" text-anchor="middle"><tspan font-style="italic">n</tspan> = 92</text>
<line x1="553.0" y1="131.3" x2="627.5" y2="167.9" stroke="#000" stroke-width="2.4"/><path d="M638.3,173.2 L623.1,172.4 L628.9,168.6 L628.4,161.6Z" fill="#000"/>
<line x1="551.4" y1="402.9" x2="626.0" y2="366.3" stroke="#000" stroke-width="2.4"/><path d="M636.8,361.0 L626.9,372.6 L627.4,365.6 L621.6,361.8Z" fill="#000"/>
<line x1="1030.6" y1="178.3" x2="1105.4" y2="141.3" stroke="#000" stroke-width="2.4"/><path d="M1116.2,136.0 L1106.3,147.6 L1106.8,140.7 L1101.0,136.8Z" fill="#000"/>
<line x1="1031.6" y1="361.8" x2="1107.4" y2="398.4" stroke="#000" stroke-width="2.4"/><path d="M1118.2,403.6 L1103.0,402.9 L1108.7,399.0 L1108.2,392.1Z" fill="#000"/>
<text x="833.5" y="172" font-size="26" text-anchor="middle">TMT-MS proteomics</text>
<text x="831" y="381" font-size="26" text-anchor="middle"><tspan font-style="italic">n</tspan> = 516</text>
<defs><linearGradient id="gL" x1="0" y1="0" x2="1" y2="1"><stop offset="0" stop-color="#C9C9CB"/><stop offset="0.55" stop-color="#B4B4B6"/><stop offset="1" stop-color="#E6E6E8"/></linearGradient><linearGradient id="gD" x1="0" y1="0" x2="1" y2="1"><stop offset="0" stop-color="#2F2F31"/><stop offset="0.45" stop-color="#4F5052"/><stop offset="0.6" stop-color="#58595B"/><stop offset="1" stop-color="#2E2E30"/></linearGradient><linearGradient id="gBase" x1="0" y1="0" x2="1" y2="0"><stop offset="0" stop-color="#3C3C3E"/><stop offset="0.3" stop-color="#5A5A5C"/><stop offset="1" stop-color="#3A3A3C"/></linearGradient><linearGradient id="gLine" x1="0" y1="0" x2="1" y2="0"><stop offset="0" stop-color="#B8E060"/><stop offset="0.25" stop-color="#D8F0A0"/><stop offset="0.28" stop-color="#202020"/><stop offset="0.31" stop-color="#F0F0F0"/><stop offset="0.5" stop-color="#30B8E8"/><stop offset="0.75" stop-color="#6080E0"/><stop offset="0.9" stop-color="#C040C0"/><stop offset="1" stop-color="#808080"/></linearGradient></defs>
<path d="M703.4,336.9 L963.6,336.9 L983.7,322 L983.7,331 L963.6,348 L703.4,348Z" fill="url(#gBase)"/>
<line x1="773" y1="337" x2="773" y2="348" stroke="#2A2A2A" stroke-width="0.8"/>
<circle cx="804.7" cy="342.4" r="1.1" fill="#000"/><circle cx="913" cy="342.4" r="1.1" fill="#000"/>
<rect x="945" y="340" width="7" height="4.5" fill="#D8D8D8"/>
<rect x="697.1" y="188.6" width="70" height="148.3" fill="url(#gL)"/>
<rect x="767.1" y="187.7" width="193" height="149.2" fill="url(#gD)"/>
<path d="M970.3,187.7 L980,190 L983.7,194 L983.7,333 L970.3,336.9Z" fill="#E4E4DE" stroke="#C8C8C0" stroke-width="0.5"/>
<rect x="980.6" y="245" width="2.6" height="80" fill="#111"/>
<path d="M960,187.7 L970.3,187.7 L970.3,336.9 L938.7,336.9 Q955,290 957.5,235 Z" fill="#2A8AD4"/>
<line x1="938" y1="190.0" x2="970.3" y2="190.0" stroke="#1766A8" stroke-width="0.6"/>
<line x1="938" y1="193.7" x2="970.3" y2="193.7" stroke="#1766A8" stroke-width="0.6"/>
<line x1="938" y1="197.4" x2="970.3" y2="197.4" stroke="#1766A8" stroke-width="0.6"/>
<line x1="938" y1="201.1" x2="970.3" y2="201.1" stroke="#1766A8" stroke-width="0.6"/>
<line x1="938" y1="204.8" x2="970.3" y2="204.8" stroke="#1766A8" stroke-width="0.6"/>
<line x1="938" y1="208.5" x2="970.3" y2="208.5" stroke="#1766A8" stroke-width="0.6"/>
<line x1="938" y1="212.2" x2="970.3" y2="212.2" stroke="#1766A8" stroke-width="0.6"/>
<line x1="938" y1="215.9" x2="970.3" y2="215.9" stroke="#1766A8" stroke-width="0.6"/>
<line x1="938" y1="219.6" x2="970.3" y2="219.6" stroke="#1766A8" stroke-width="0.6"/>
<line x1="938" y1="223.3" x2="970.3" y2="223.3" stroke="#1766A8" stroke-width="0.6"/>
<line x1="938" y1="227.0" x2="970.3" y2="227.0" stroke="#1766A8" stroke-width="0.6"/>
<line x1="938" y1="230.7" x2="970.3" y2="230.7" stroke="#1766A8" stroke-width="0.6"/>
<line x1="938" y1="234.4" x2="970.3" y2="234.4" stroke="#1766A8" stroke-width="0.6"/>
<line x1="938" y1="238.1" x2="970.3" y2="238.1" stroke="#1766A8" stroke-width="0.6"/>
<line x1="938" y1="241.8" x2="970.3" y2="241.8" stroke="#1766A8" stroke-width="0.6"/>
<line x1="938" y1="245.5" x2="970.3" y2="245.5" stroke="#1766A8" stroke-width="0.6"/>
<line x1="938" y1="249.2" x2="970.3" y2="249.2" stroke="#1766A8" stroke-width="0.6"/>
<line x1="938" y1="252.9" x2="970.3" y2="252.9" stroke="#1766A8" stroke-width="0.6"/>
<line x1="938" y1="256.6" x2="970.3" y2="256.6" stroke="#1766A8" stroke-width="0.6"/>
<line x1="938" y1="260.3" x2="970.3" y2="260.3" stroke="#1766A8" stroke-width="0.6"/>
<line x1="938" y1="264.0" x2="970.3" y2="264.0" stroke="#1766A8" stroke-width="0.6"/>
<line x1="938" y1="267.7" x2="970.3" y2="267.7" stroke="#1766A8" stroke-width="0.6"/>
<line x1="938" y1="271.4" x2="970.3" y2="271.4" stroke="#1766A8" stroke-width="0.6"/>
<line x1="938" y1="275.1" x2="970.3" y2="275.1" stroke="#1766A8" stroke-width="0.6"/>
<line x1="938" y1="278.8" x2="970.3" y2="278.8" stroke="#1766A8" stroke-width="0.6"/>
<line x1="938" y1="282.5" x2="970.3" y2="282.5" stroke="#1766A8" stroke-width="0.6"/>
<line x1="938" y1="286.2" x2="970.3" y2="286.2" stroke="#1766A8" stroke-width="0.6"/>
<line x1="938" y1="289.9" x2="970.3" y2="289.9" stroke="#1766A8" stroke-width="0.6"/>
<line x1="938" y1="293.6" x2="970.3" y2="293.6" stroke="#1766A8" stroke-width="0.6"/>
<line x1="938" y1="297.3" x2="970.3" y2="297.3" stroke="#1766A8" stroke-width="0.6"/>
<line x1="938" y1="301.0" x2="970.3" y2="301.0" stroke="#1766A8" stroke-width="0.6"/>
<line x1="938" y1="304.7" x2="970.3" y2="304.7" stroke="#1766A8" stroke-width="0.6"/>
<line x1="938" y1="308.4" x2="970.3" y2="308.4" stroke="#1766A8" stroke-width="0.6"/>
<line x1="938" y1="312.1" x2="970.3" y2="312.1" stroke="#1766A8" stroke-width="0.6"/>
<line x1="938" y1="315.8" x2="970.3" y2="315.8" stroke="#1766A8" stroke-width="0.6"/>
<line x1="938" y1="319.5" x2="970.3" y2="319.5" stroke="#1766A8" stroke-width="0.6"/>
<line x1="938" y1="323.2" x2="970.3" y2="323.2" stroke="#1766A8" stroke-width="0.6"/>
<line x1="938" y1="326.9" x2="970.3" y2="326.9" stroke="#1766A8" stroke-width="0.6"/>
<line x1="938" y1="330.6" x2="970.3" y2="330.6" stroke="#1766A8" stroke-width="0.6"/>
<line x1="938" y1="334.3" x2="970.3" y2="334.3" stroke="#1766A8" stroke-width="0.6"/>
<path d="M960,187.7 L970.3,187.7 L970.3,336.9 L938.7,336.9 Q955,290 957.5,235 Z" fill="none"/>
<rect x="767.1" y="225.3" width="190" height="1.3" fill="url(#gLine)"/>
<rect x="711" y="221" width="35.4" height="24" fill="#F4F4F4"/><rect x="716" y="225.5" width="12" height="13" fill="#BDBDBD"/><rect x="717" y="245" width="29" height="19" fill="#F0F0F0"/><path d="M727,245 L737,245 L735,262 L730,262Z" fill="#9A9A9A"/><circle cx="722" cy="208" r="4.5" fill="#333"/><rect x="714" y="213" width="22" height="7" fill="#E8E8E8"/><text x="705.3" y="198.4" font-size="4" fill="#D02020">Thermo</text>
<text x="1356" y="39.7" font-size="26" text-anchor="middle">Correlational network analysis</text>
<line x1="1185.7" y1="95" x2="1185.7" y2="193" stroke="#555" stroke-width="0.6" stroke-dasharray="2 8.3"/>
<line x1="1194.1" y1="95" x2="1194.1" y2="193" stroke="#555" stroke-width="0.6" stroke-dasharray="2 8.3"/>
<line x1="1202.5" y1="95" x2="1202.5" y2="193" stroke="#555" stroke-width="0.6" stroke-dasharray="2 8.3"/>
<line x1="1210.9" y1="95" x2="1210.9" y2="193" stroke="#555" stroke-width="0.6" stroke-dasharray="2 8.3"/>
<line x1="1219.3" y1="95" x2="1219.3" y2="193" stroke="#555" stroke-width="0.6" stroke-dasharray="2 8.3"/>
<line x1="1227.7" y1="95" x2="1227.7" y2="193" stroke="#555" stroke-width="0.6" stroke-dasharray="2 8.3"/>
<line x1="1236.1" y1="95" x2="1236.1" y2="193" stroke="#555" stroke-width="0.6" stroke-dasharray="2 8.3"/>
<line x1="1244.5" y1="95" x2="1244.5" y2="193" stroke="#555" stroke-width="0.6" stroke-dasharray="2 8.3"/>
<line x1="1252.9" y1="95" x2="1252.9" y2="193" stroke="#555" stroke-width="0.6" stroke-dasharray="2 8.3"/>
<line x1="1261.3" y1="95" x2="1261.3" y2="193" stroke="#555" stroke-width="0.6" stroke-dasharray="2 8.3"/>
<line x1="1269.7" y1="95" x2="1269.7" y2="193" stroke="#555" stroke-width="0.6" stroke-dasharray="2 8.3"/>
<line x1="1278.1" y1="95" x2="1278.1" y2="193" stroke="#555" stroke-width="0.6" stroke-dasharray="2 8.3"/>
<line x1="1286.5" y1="95" x2="1286.5" y2="193" stroke="#555" stroke-width="0.6" stroke-dasharray="2 8.3"/>
<line x1="1294.9" y1="95" x2="1294.9" y2="193" stroke="#555" stroke-width="0.6" stroke-dasharray="2 8.3"/>
<line x1="1303.3" y1="95" x2="1303.3" y2="193" stroke="#555" stroke-width="0.6" stroke-dasharray="2 8.3"/>
<line x1="1311.7" y1="95" x2="1311.7" y2="193" stroke="#555" stroke-width="0.6" stroke-dasharray="2 8.3"/>
<line x1="1320.1" y1="95" x2="1320.1" y2="193" stroke="#555" stroke-width="0.6" stroke-dasharray="2 8.3"/>
<line x1="1328.5" y1="95" x2="1328.5" y2="193" stroke="#555" stroke-width="0.6" stroke-dasharray="2 8.3"/>
<line x1="1336.9" y1="95" x2="1336.9" y2="193" stroke="#555" stroke-width="0.6" stroke-dasharray="2 8.3"/>
<line x1="1345.3" y1="95" x2="1345.3" y2="193" stroke="#555" stroke-width="0.6" stroke-dasharray="2 8.3"/>
<line x1="1353.7" y1="95" x2="1353.7" y2="193" stroke="#555" stroke-width="0.6" stroke-dasharray="2 8.3"/>
<line x1="1362.1" y1="95" x2="1362.1" y2="193" stroke="#555" stroke-width="0.6" stroke-dasharray="2 8.3"/>
<line x1="1370.5" y1="95" x2="1370.5" y2="193" stroke="#555" stroke-width="0.6" stroke-dasharray="2 8.3"/>
<line x1="1378.9" y1="95" x2="1378.9" y2="193" stroke="#555" stroke-width="0.6" stroke-dasharray="2 8.3"/>
<line x1="1387.3" y1="95" x2="1387.3" y2="193" stroke="#555" stroke-width="0.6" stroke-dasharray="2 8.3"/>
<line x1="1395.7" y1="95" x2="1395.7" y2="193" stroke="#555" stroke-width="0.6" stroke-dasharray="2 8.3"/>
<line x1="1404.1" y1="95" x2="1404.1" y2="193" stroke="#555" stroke-width="0.6" stroke-dasharray="2 8.3"/>
<line x1="1412.5" y1="95" x2="1412.5" y2="193" stroke="#555" stroke-width="0.6" stroke-dasharray="2 8.3"/>
<line x1="1420.9" y1="95" x2="1420.9" y2="193" stroke="#555" stroke-width="0.6" stroke-dasharray="2 8.3"/>
<line x1="1429.3" y1="95" x2="1429.3" y2="193" stroke="#555" stroke-width="0.6" stroke-dasharray="2 8.3"/>
<line x1="1437.7" y1="95" x2="1437.7" y2="193" stroke="#555" stroke-width="0.6" stroke-dasharray="2 8.3"/>
<line x1="1446.1" y1="95" x2="1446.1" y2="193" stroke="#555" stroke-width="0.6" stroke-dasharray="2 8.3"/>
<line x1="1454.5" y1="95" x2="1454.5" y2="193" stroke="#555" stroke-width="0.6" stroke-dasharray="2 8.3"/>
<line x1="1462.9" y1="95" x2="1462.9" y2="193" stroke="#555" stroke-width="0.6" stroke-dasharray="2 8.3"/>
<line x1="1471.3" y1="95" x2="1471.3" y2="193" stroke="#555" stroke-width="0.6" stroke-dasharray="2 8.3"/>
<line x1="1479.7" y1="95" x2="1479.7" y2="193" stroke="#555" stroke-width="0.6" stroke-dasharray="2 8.3"/>
<line x1="1488.1" y1="95" x2="1488.1" y2="193" stroke="#555" stroke-width="0.6" stroke-dasharray="2 8.3"/>
<line x1="1496.5" y1="95" x2="1496.5" y2="193" stroke="#555" stroke-width="0.6" stroke-dasharray="2 8.3"/>
<line x1="1504.9" y1="95" x2="1504.9" y2="193" stroke="#555" stroke-width="0.6" stroke-dasharray="2 8.3"/>
<line x1="1513.3" y1="95" x2="1513.3" y2="193" stroke="#555" stroke-width="0.6" stroke-dasharray="2 8.3"/>
<line x1="1521.7" y1="95" x2="1521.7" y2="193" stroke="#555" stroke-width="0.6" stroke-dasharray="2 8.3"/>
<line x1="1530.1" y1="95" x2="1530.1" y2="193" stroke="#555" stroke-width="0.6" stroke-dasharray="2 8.3"/>
<path d="M1176.7,56.7 L1536.4,56.7 L1536.4,76.0 L1534.6,78.3 L1533.0,77.5 L1530.7,74.1 L1528.2,74.0 L1525.8,74.2 L1524.2,76.7 L1521.0,74.6 L1519.1,78.1 L1515.7,77.7 L1513.4,80.5 L1511.8,79.7 L1509.7,74.7 L1508.0,75.9 L1504.8,75.0 L1502.2,78.2 L1499.9,77.5 L1498.3,74.1 L1496.4,78.5 L1494.0,75.9 L1491.4,76.9 L1489.3,79.3 L1486.4,75.4 L1483.7,77.4 L1480.5,78.8 L1478.4,80.6 L1476.6,76.6 L1473.6,74.8 L1471.2,74.0 L1468.3,79.1 L1465.7,79.8 L1463.5,78.6 L1460.9,77.8 L1458.4,79.6 L1455.1,77.0 L1452.2,74.1 L1449.3,78.2 L1445.8,79.5 L1443.8,76.4 L1440.9,73.9 L1438.5,74.9 L1436.8,74.1 L1433.7,74.6 L1431.7,76.4 L1428.5,74.3 L1426.1,77.5 L1422.8,79.4 L1419.6,75.6 L1417.3,76.2 L1414.0,80.4 L1412.2,74.9 L1410.2,75.3 L1407.8,77.8 L1405.7,73.7 L1403.4,76.3 L1400.8,80.4 L1397.9,77.3 L1395.2,78.4 L1393.6,80.0 L1390.5,79.8 L1387.4,76.4 L1385.1,74.4 L1382.3,74.1 L1380.7,75.2 L1378.9,76.1 L1377.3,73.7 L1375.5,74.4 L1373.2,73.9 L1370.0,78.0 L1368.2,75.5 L1366.0,76.2 L1364.2,79.6 L1360.8,77.0 L1358.3,74.3 L1356.6,76.1 L1354.6,79.5 L1352.7,73.9 L1349.3,77.4 L1347.5,77.5 L1346.0,77.4 L1342.5,79.7 L1339.6,75.5 L1337.4,74.9 L1334.4,77.4 L1331.3,76.0 L1329.4,79.4 L1325.9,79.7 L1322.8,79.4 L1319.8,75.3 L1317.3,76.2 L1315.7,73.9 L1313.6,75.5 L1310.8,80.4 L1308.4,80.3 L1304.9,80.4 L1302.7,75.2 L1300.7,75.1 L1298.8,78.1 L1295.5,79.6 L1293.0,78.3 L1289.9,74.3 L1287.1,80.1 L1284.1,79.0 L1281.6,74.9 L1278.5,76.0 L1275.4,80.5 L1273.1,76.5 L1269.7,78.8 L1267.9,74.6 L1266.1,80.0 L1263.0,74.7 L1259.8,80.6 L1257.0,76.2 L1254.4,74.6 L1252.9,80.5 L1250.1,77.4 L1246.7,76.7 L1243.5,79.5 L1241.6,75.5 L1239.5,75.4 L1236.8,75.5 L1234.5,74.6 L1231.1,76.2 L1228.7,77.8 L1225.4,76.6 L1222.1,77.2 L1219.5,77.4 L1218.0,76.8 L1216.1,73.7 L1213.0,74.9 L1210.6,78.8 L1207.9,76.0 L1205.4,77.6 L1202.3,74.4 L1199.7,75.4 L1197.7,79.1 L1195.2,77.6 L1192.1,80.1 L1189.7,78.0 L1187.2,77.3 L1184.3,76.9 L1181.8,77.0 L1178.4,78.6 L1176.7,72.7Z" fill="#000"/>
<path d="M1512.3,74.7 L1515.4,74.7 L1514.1,82.6 L1513.5,82.6Z" fill="#000"/>
<path d="M1513.2,74.7 L1515.2,74.7 L1514.5,93.7 L1513.9,93.7Z" fill="#000"/>
<path d="M1221.1,74.7 L1222.9,74.7 L1222.3,86.1 L1221.7,86.1Z" fill="#000"/>
<path d="M1262.6,74.7 L1266.0,74.7 L1264.6,79.1 L1264.0,79.1Z" fill="#000"/>
<path d="M1456.5,74.7 L1458.6,74.7 L1457.8,94.7 L1457.2,94.7Z" fill="#000"/>
<path d="M1432.4,74.7 L1434.4,74.7 L1433.7,90.2 L1433.1,90.2Z" fill="#000"/>
<path d="M1491.6,74.7 L1493.8,74.7 L1493.0,96.1 L1492.4,96.1Z" fill="#000"/>
<path d="M1516.0,74.7 L1519.0,74.7 L1517.8,85.3 L1517.2,85.3Z" fill="#000"/>
<path d="M1529.8,74.7 L1531.8,74.7 L1531.1,93.5 L1530.5,93.5Z" fill="#000"/>
<path d="M1330.9,74.7 L1333.5,74.7 L1332.5,87.5 L1331.9,87.5Z" fill="#000"/>
<path d="M1246.5,74.7 L1250.1,74.7 L1248.6,83.8 L1248.0,83.8Z" fill="#000"/>
<path d="M1184.2,74.7 L1187.0,74.7 L1185.9,88.2 L1185.3,88.2Z" fill="#000"/>
<path d="M1183.5,74.7 L1186.8,74.7 L1185.4,84.0 L1184.8,84.0Z" fill="#000"/>
<path d="M1358.7,74.7 L1363.1,74.7 L1361.2,78.9 L1360.6,78.9Z" fill="#000"/>
<path d="M1458.2,74.7 L1460.1,74.7 L1459.4,96.2 L1458.8,96.2Z" fill="#000"/>
<path d="M1271.3,74.7 L1275.1,74.7 L1273.5,78.5 L1272.9,78.5Z" fill="#000"/>
<path d="M1273.5,74.7 L1276.3,74.7 L1275.2,80.2 L1274.6,80.2Z" fill="#000"/>
<path d="M1501.7,74.7 L1504.1,74.7 L1503.2,93.3 L1502.6,93.3Z" fill="#000"/>
<path d="M1230.2,74.7 L1233.4,74.7 L1232.1,95.2 L1231.5,95.2Z" fill="#000"/>
<path d="M1427.0,74.7 L1428.7,74.7 L1428.1,79.4 L1427.5,79.4Z" fill="#000"/>
<path d="M1422.6,74.7 L1424.4,74.7 L1423.8,85.8 L1423.2,85.8Z" fill="#000"/>
<path d="M1510.5,74.7 L1514.4,74.7 L1512.8,89.8 L1512.2,89.8Z" fill="#000"/>
<path d="M1207.6,74.7 L1209.4,74.7 L1208.8,94.0 L1208.2,94.0Z" fill="#000"/>
<path d="M1484.3,74.7 L1486.9,74.7 L1485.9,86.3 L1485.3,86.3Z" fill="#000"/>
<path d="M1374.2,74.7 L1376.6,74.7 L1375.7,95.3 L1375.1,95.3Z" fill="#000"/>
<path d="M1223.5,74.7 L1225.8,74.7 L1225.0,87.7 L1224.4,87.7Z" fill="#000"/>
<path d="M1216.8,74.7 L1218.5,74.7 L1217.9,80.8 L1217.3,80.8Z" fill="#000"/>
<path d="M1249.2,74.7 L1251.7,74.7 L1250.8,83.6 L1250.2,83.6Z" fill="#000"/>
<path d="M1447.4,74.7 L1450.4,74.7 L1449.2,83.2 L1448.6,83.2Z" fill="#000"/>
<path d="M1241.2,74.7 L1242.8,74.7 L1242.3,84.3 L1241.7,84.3Z" fill="#000"/>
<path d="M1266.0,74.7 L1269.6,74.7 L1268.1,78.0 L1267.5,78.0Z" fill="#000"/>
<path d="M1373.2,74.7 L1376.2,74.7 L1375.0,81.3 L1374.4,81.3Z" fill="#000"/>
<path d="M1509.2,74.7 L1513.1,74.7 L1511.5,79.7 L1510.9,79.7Z" fill="#000"/>
<path d="M1330.5,74.7 L1334.4,74.7 L1332.7,87.1 L1332.1,87.1Z" fill="#000"/>
<path d="M1316.8,74.7 L1320.3,74.7 L1318.8,87.3 L1318.2,87.3Z" fill="#000"/>
<path d="M1526.2,74.7 L1530.1,74.7 L1528.5,84.2 L1527.9,84.2Z" fill="#000"/>
<path d="M1428.7,74.7 L1431.4,74.7 L1430.4,89.8 L1429.8,89.8Z" fill="#000"/>
<path d="M1301.3,74.7 L1303.3,74.7 L1302.6,78.7 L1302.0,78.7Z" fill="#000"/>
<path d="M1202.7,74.7 L1205.0,74.7 L1204.2,91.8 L1203.6,91.8Z" fill="#000"/>
<path d="M1234.8,74.7 L1238.7,74.7 L1237.1,79.3 L1236.5,79.3Z" fill="#000"/>
<path d="M1487.2,74.7 L1489.5,74.7 L1488.7,90.4 L1488.1,90.4Z" fill="#000"/>
<path d="M1263.4,74.7 L1266.3,74.7 L1265.2,83.3 L1264.6,83.3Z" fill="#000"/>
<path d="M1233.6,74.7 L1235.9,74.7 L1235.0,86.2 L1234.4,86.2Z" fill="#000"/>
<path d="M1519.2,74.7 L1522.4,74.7 L1521.1,96.2 L1520.5,96.2Z" fill="#000"/>
<path d="M1264.4,74.7 L1266.9,74.7 L1265.9,96.0 L1265.3,96.0Z" fill="#000"/>
<path d="M1304.2,74.7 L1306.9,74.7 L1305.8,77.7 L1305.2,77.7Z" fill="#000"/>
<path d="M1346.4,74.7 L1348.6,74.7 L1347.8,87.3 L1347.2,87.3Z" fill="#000"/>
<path d="M1357.1,74.7 L1359.4,74.7 L1358.5,77.8 L1357.9,77.8Z" fill="#000"/>
<path d="M1209.8,74.7 L1211.5,74.7 L1210.9,85.3 L1210.3,85.3Z" fill="#000"/>
<path d="M1185.6,74.7 L1187.8,74.7 L1187.0,83.5 L1186.4,83.5Z" fill="#000"/>
<path d="M1385.1,74.7 L1388.8,74.7 L1387.3,87.8 L1386.7,87.8Z" fill="#000"/>
<path d="M1410.6,74.7 L1414.6,74.7 L1412.9,91.3 L1412.3,91.3Z" fill="#000"/>
<path d="M1315.1,74.7 L1319.4,74.7 L1317.6,83.9 L1317.0,83.9Z" fill="#000"/>
<path d="M1230.2,74.7 L1233.6,74.7 L1232.2,91.5 L1231.6,91.5Z" fill="#000"/>
<path d="M1192.2,74.7 L1196.3,74.7 L1194.6,93.6 L1194.0,93.6Z" fill="#000"/>
<path d="M1399.9,74.7 L1403.8,74.7 L1402.1,91.6 L1401.5,91.6Z" fill="#000"/>
<path d="M1226.7,74.7 L1229.8,74.7 L1228.6,87.7 L1228.0,87.7Z" fill="#000"/>
<path d="M1473.7,74.7 L1477.6,74.7 L1476.0,93.0 L1475.4,93.0Z" fill="#000"/>
<path d="M1384.7,74.7 L1388.2,74.7 L1386.8,94.7 L1386.2,94.7Z" fill="#000"/>
<path d="M1424.5,74.7 L1426.2,74.7 L1425.6,82.1 L1425.0,82.1Z" fill="#000"/>
<path d="M1225.1,74.7 L1227.0,74.7 L1226.3,84.6 L1225.7,84.6Z" fill="#000"/>
<path d="M1474.3,74.7 L1477.7,74.7 L1476.3,88.3 L1475.7,88.3Z" fill="#000"/>
<path d="M1400.0,74.7 L1402.9,74.7 L1401.7,90.6 L1401.1,90.6Z" fill="#000"/>
<path d="M1178.0,74.7 L1181.7,74.7 L1180.2,92.9 L1179.6,92.9Z" fill="#000"/>
<path d="M1355.9,74.7 L1359.3,74.7 L1357.9,87.9 L1357.3,87.9Z" fill="#000"/>
<path d="M1201.0,74.7 L1203.3,74.7 L1202.5,91.7 L1201.9,91.7Z" fill="#000"/>
<path d="M1203.4,74.7 L1207.0,74.7 L1205.5,82.7 L1204.9,82.7Z" fill="#000"/>
<path d="M1249.5,74.7 L1253.9,74.7 L1252.0,91.8 L1251.4,91.8Z" fill="#000"/>
<path d="M1352.9,74.7 L1355.9,74.7 L1354.7,85.0 L1354.1,85.0Z" fill="#000"/>
<path d="M1420.2,74.7 L1423.6,74.7 L1422.2,92.3 L1421.6,92.3Z" fill="#000"/>
<path d="M1406.3,74.7 L1408.3,74.7 L1407.6,79.2 L1407.0,79.2Z" fill="#000"/>
<path d="M1267.8,74.7 L1270.3,74.7 L1269.3,91.8 L1268.7,91.8Z" fill="#000"/>
<path d="M1379.8,74.7 L1381.5,74.7 L1381.0,77.9 L1380.4,77.9Z" fill="#000"/>
<path d="M1272.5,74.7 L1276.1,74.7 L1274.6,90.5 L1274.0,90.5Z" fill="#000"/>
<path d="M1417.5,74.7 L1420.6,74.7 L1419.3,83.2 L1418.7,83.2Z" fill="#000"/>
<path d="M1343.0,74.7 L1344.9,74.7 L1344.3,86.6 L1343.7,86.6Z" fill="#000"/>
<path d="M1494.4,74.7 L1498.7,74.7 L1496.9,81.5 L1496.3,81.5Z" fill="#000"/>
<path d="M1510.3,74.7 L1513.2,74.7 L1512.0,78.0 L1511.4,78.0Z" fill="#000"/>
<path d="M1468.9,74.7 L1471.8,74.7 L1470.6,96.1 L1470.0,96.1Z" fill="#000"/>
<path d="M1272.1,74.7 L1276.4,74.7 L1274.6,81.7 L1274.0,81.7Z" fill="#000"/>
<path d="M1252.7,74.7 L1254.6,74.7 L1253.9,88.7 L1253.3,88.7Z" fill="#000"/>
<path d="M1364.1,74.7 L1366.1,74.7 L1365.4,95.8 L1364.8,95.8Z" fill="#000"/>
<path d="M1468.4,74.7 L1472.5,74.7 L1470.8,87.4 L1470.2,87.4Z" fill="#000"/>
<path d="M1426.8,74.7 L1430.9,74.7 L1429.2,82.1 L1428.6,82.1Z" fill="#000"/>
<path d="M1350.8,74.7 L1352.4,74.7 L1351.9,78.2 L1351.3,78.2Z" fill="#000"/>
<path d="M1352.4,74.7 L1354.8,74.7 L1353.9,86.3 L1353.3,86.3Z" fill="#000"/>
<path d="M1227.5,74.7 L1230.0,74.7 L1229.0,84.2 L1228.4,84.2Z" fill="#000"/>
<path d="M1475.7,74.7 L1479.4,74.7 L1477.9,77.7 L1477.3,77.7Z" fill="#000"/>
<path d="M1475.1,74.7 L1479.3,74.7 L1477.5,80.0 L1476.9,80.0Z" fill="#000"/>
<path d="M1431.1,74.7 L1433.5,74.7 L1432.6,94.8 L1432.0,94.8Z" fill="#000"/>
<path d="M1207.9,74.7 L1215.9,74.7 L1213.5,96.7 L1212.8,106.2 L1211.0,106.2 L1210.3,96.7Z" fill="#000"/>
<path d="M1227.0,74.7 L1235.0,74.7 L1232.6,96.7 L1231.9,132.5 L1230.1,132.5 L1229.4,96.7Z" fill="#000"/>
<path d="M1237.8,74.7 L1245.8,74.7 L1243.4,96.7 L1242.7,133.7 L1240.9,133.7 L1240.2,96.7Z" fill="#000"/>
<path d="M1244.9,74.7 L1252.9,74.7 L1250.5,96.7 L1249.8,119.4 L1248.0,119.4 L1247.3,96.7Z" fill="#000"/>
<path d="M1248.5,74.7 L1256.5,74.7 L1254.1,96.7 L1253.4,108.6 L1251.6,108.6 L1250.9,96.7Z" fill="#000"/>
<path d="M1266.5,74.7 L1274.5,74.7 L1272.1,96.7 L1271.4,100.2 L1269.6,100.2 L1268.9,96.7Z" fill="#000"/>
<path d="M1271.2,74.7 L1279.2,74.7 L1276.8,96.7 L1276.1,99.0 L1274.3,99.0 L1273.6,96.7Z" fill="#000"/>
<path d="M1288.0,74.7 L1296.0,74.7 L1293.6,96.7 L1292.9,145.7 L1291.1,145.7 L1290.4,96.7Z" fill="#000"/>
<path d="M1292.8,74.7 L1300.8,74.7 L1298.4,96.7 L1297.7,102.6 L1295.9,102.6 L1295.2,96.7Z" fill="#000"/>
<path d="M1303.5,74.7 L1311.5,74.7 L1309.1,96.7 L1308.4,109.8 L1306.6,109.8 L1305.9,96.7Z" fill="#000"/>
<path d="M1309.5,74.7 L1317.5,74.7 L1315.1,96.7 L1314.4,117.0 L1312.6,117.0 L1311.9,96.7Z" fill="#000"/>
<path d="M1313.1,74.7 L1321.1,74.7 L1318.7,96.7 L1318.0,121.8 L1316.2,121.8 L1315.5,96.7Z" fill="#000"/>
<path d="M1319.1,74.7 L1327.1,74.7 L1324.7,96.7 L1324.0,102.6 L1322.2,102.6 L1321.5,96.7Z" fill="#000"/>
<path d="M1328.6,74.7 L1336.6,74.7 L1334.2,96.7 L1333.5,174.4 L1331.7,174.4 L1331.0,96.7Z" fill="#000"/>
<path d="M1333.4,74.7 L1341.4,74.7 L1339.0,96.7 L1338.3,142.1 L1336.5,142.1 L1335.8,96.7Z" fill="#000"/>
<path d="M1338.2,74.7 L1346.2,74.7 L1343.8,96.7 L1343.1,100.2 L1341.3,100.2 L1340.6,96.7Z" fill="#000"/>
<path d="M1347.8,74.7 L1355.8,74.7 L1353.4,96.7 L1352.7,163.6 L1350.9,163.6 L1350.2,96.7Z" fill="#000"/>
<path d="M1352.6,74.7 L1360.6,74.7 L1358.2,96.7 L1357.5,183.9 L1355.7,183.9 L1355.0,96.7Z" fill="#000"/>
<path d="M1356.1,74.7 L1364.1,74.7 L1361.7,96.7 L1361.0,186.3 L1359.2,186.3 L1358.5,96.7Z" fill="#000"/>
<path d="M1376.5,74.7 L1384.5,74.7 L1382.1,96.7 L1381.4,130.1 L1379.6,130.1 L1378.9,96.7Z" fill="#000"/>
<path d="M1392.0,74.7 L1400.0,74.7 L1397.6,96.7 L1396.9,99.0 L1395.1,99.0 L1394.4,96.7Z" fill="#000"/>
<path d="M1407.6,74.7 L1415.6,74.7 L1413.2,96.7 L1412.5,133.7 L1410.7,133.7 L1410.0,96.7Z" fill="#000"/>
<path d="M1423.1,74.7 L1431.1,74.7 L1428.7,96.7 L1428.0,120.6 L1426.2,120.6 L1425.5,96.7Z" fill="#000"/>
<path d="M1431.5,74.7 L1439.5,74.7 L1437.1,96.7 L1436.4,105.0 L1434.6,105.0 L1433.9,96.7Z" fill="#000"/>
<path d="M1438.7,74.7 L1446.7,74.7 L1444.3,96.7 L1443.6,107.4 L1441.8,107.4 L1441.1,96.7Z" fill="#000"/>
<path d="M1443.4,74.7 L1451.4,74.7 L1449.0,96.7 L1448.3,111.0 L1446.5,111.0 L1445.8,96.7Z" fill="#000"/>
<path d="M1450.6,74.7 L1458.6,74.7 L1456.2,96.7 L1455.5,183.9 L1453.7,183.9 L1453.0,96.7Z" fill="#000"/>
<path d="M1459.0,74.7 L1467.0,74.7 L1464.6,96.7 L1463.9,102.6 L1462.1,102.6 L1461.4,96.7Z" fill="#000"/>
<path d="M1465.0,74.7 L1473.0,74.7 L1470.6,96.7 L1469.9,114.6 L1468.1,114.6 L1467.4,96.7Z" fill="#000"/>
<path d="M1469.8,74.7 L1477.8,74.7 L1475.4,96.7 L1474.7,136.1 L1472.9,136.1 L1472.2,96.7Z" fill="#000"/>
<path d="M1482.9,74.7 L1490.9,74.7 L1488.5,96.7 L1487.8,114.6 L1486.0,114.6 L1485.3,96.7Z" fill="#000"/>
<path d="M1499.7,74.7 L1507.7,74.7 L1505.3,96.7 L1504.6,101.4 L1502.8,101.4 L1502.1,96.7Z" fill="#000"/>
<path d="M1516.4,74.7 L1524.4,74.7 L1522.0,96.7 L1521.3,101.4 L1519.5,101.4 L1518.8,96.7Z" fill="#000"/>
<path d="M1227.4,71.7 L1253.7,71.7 Q1242.6,96.7 1241.4,121.8 L1239.8,121.8 Q1238.6,96.7 1227.4,71.7Z" fill="#000"/>
<path d="M1229.8,71.7 L1239.4,71.7 Q1236.6,102.1 1235.4,132.5 L1233.8,132.5 Q1232.6,102.1 1229.8,71.7Z" fill="#000"/>
<path d="M1303.9,71.7 L1324.3,71.7 Q1316.1,95.5 1314.9,119.4 L1313.3,119.4 Q1312.1,95.5 1303.9,71.7Z" fill="#000"/>
<path d="M1311.1,71.7 L1319.5,71.7 Q1317.3,96.7 1316.1,121.8 L1314.5,121.8 Q1313.3,96.7 1311.1,71.7Z" fill="#000"/>
<path d="M1347.0,71.7 L1364.9,71.7 Q1358.0,108.7 1356.8,145.7 L1355.2,145.7 Q1354.0,108.7 1347.0,71.7Z" fill="#000"/>
<path d="M1349.4,71.7 L1361.3,71.7 Q1357.4,117.1 1356.2,162.4 L1354.6,162.4 Q1353.4,117.1 1349.4,71.7Z" fill="#000"/>
<path d="M1445.1,71.7 L1477.3,71.7 Q1463.2,100.3 1462.0,128.9 L1460.4,128.9 Q1459.2,100.3 1445.1,71.7Z" fill="#000"/>
<path d="M1466.6,71.7 L1475.0,71.7 Q1472.8,103.9 1471.6,136.1 L1470.0,136.1 Q1468.8,103.9 1466.6,71.7Z" fill="#000"/>
<path d="M1375.7,71.7 L1386.5,71.7 Q1383.1,100.3 1381.9,128.9 L1380.3,128.9 Q1379.1,100.3 1375.7,71.7Z" fill="#000"/>
<path d="M1268.1,71.7 L1277.6,71.7 Q1274.8,85.4 1273.6,99.0 L1272.0,99.0 Q1270.8,85.4 1268.1,71.7Z" fill="#000"/>
<path d="M1208.3,71.7 L1214.2,71.7 Q1213.3,89.0 1212.1,106.2 L1210.5,106.2 Q1209.3,89.0 1208.3,71.7Z" fill="#000"/>
<path d="M1483.3,71.7 L1490.5,71.7 Q1488.9,93.1 1487.7,114.6 L1486.1,114.6 Q1484.9,93.1 1483.3,71.7Z" fill="#000"/>
<path d="M1500.1,71.7 L1507.2,71.7 Q1505.7,86.6 1504.5,101.4 L1502.9,101.4 Q1501.7,86.6 1500.1,71.7Z" fill="#000"/>
<path d="M1423.5,71.7 L1430.7,71.7 Q1429.1,96.1 1427.9,120.6 L1426.3,120.6 Q1425.1,96.1 1423.5,71.7Z" fill="#000"/>
<path d="M1409.2,71.7 L1414.0,71.7 Q1413.6,102.7 1412.4,133.7 L1410.8,133.7 Q1409.6,102.7 1409.2,71.7Z" fill="#000"/>
<path d="M1335.0,71.7 L1342.2,71.7 Q1340.6,106.9 1339.4,142.1 L1337.8,142.1 Q1336.6,106.9 1335.0,71.7Z" fill="#000"/>
<path d="M1294.4,71.7 L1299.2,71.7 Q1298.8,87.2 1297.6,102.6 L1296.0,102.6 Q1294.8,87.2 1294.4,71.7Z" fill="#000"/>
<path d="M1390.0,71.7 L1397.2,71.7 Q1395.6,85.4 1394.4,99.0 L1392.8,99.0 Q1391.6,85.4 1390.0,71.7Z" fill="#000"/>
<path d="M1433.1,71.7 L1440.3,71.7 Q1438.7,88.4 1437.5,105.0 L1435.9,105.0 Q1434.7,88.4 1433.1,71.7Z" fill="#000"/>
<path d="M1515.6,71.7 L1522.8,71.7 Q1521.2,86.6 1520.0,101.4 L1518.4,101.4 Q1517.2,86.6 1515.6,71.7Z" fill="#000"/>
<path d="M1248.9,71.7 L1253.7,71.7 Q1253.3,95.5 1252.1,119.4 L1250.5,119.4 Q1249.3,95.5 1248.9,71.7Z" fill="#000"/>
<path d="M1446,64.7 Q1458,90 1456,185 L1454,185 Q1452,100 1440,66.7Z" fill="#000"/>
<rect x="1176.7" y="56.7" width="359.7" height="154.0" fill="none" stroke="#222" stroke-width="1.2"/>
<rect x="1176.7" y="195.2" width="359.7" height="15.5" fill="#BEBEBE"/>
<rect x="1189.1" y="195.2" width="2.6" height="15.5" fill="#90EE90"/>
<rect x="1197.5" y="195.2" width="2.6" height="15.5" fill="#FA8072"/>
<rect x="1203.5" y="195.2" width="2.6" height="15.5" fill="#4169E1"/>
<rect x="1205.9" y="195.2" width="2.6" height="15.5" fill="#191970"/>
<rect x="1208.3" y="195.2" width="2.6" height="15.5" fill="#6CA6CD"/>
<rect x="1210.7" y="195.2" width="2.6" height="15.5" fill="#191970"/>
<rect x="1214.2" y="195.2" width="2.6" height="15.5" fill="#A52A2A"/>
<rect x="1216.6" y="195.2" width="2.6" height="15.5" fill="#90EE90"/>
<rect x="1219.0" y="195.2" width="2.6" height="15.5" fill="#FA8072"/>
<rect x="1221.4" y="195.2" width="2.6" height="15.5" fill="#CD6839"/>
<rect x="1223.8" y="195.2" width="2.6" height="15.5" fill="#00FF00"/>
<rect x="1226.2" y="195.2" width="2.6" height="15.5" fill="#006400"/>
<rect x="1228.6" y="195.2" width="2.6" height="15.5" fill="#556B2F"/>
<rect x="1231.0" y="195.2" width="2.6" height="15.5" fill="#00FF00"/>
<rect x="1233.4" y="195.2" width="2.6" height="15.5" fill="#00FF00"/>
<rect x="1235.8" y="195.2" width="2.6" height="15.5" fill="#00FF00"/>
<rect x="1239.4" y="195.2" width="2.6" height="15.5" fill="#8B4513"/>
<rect x="1241.8" y="195.2" width="2.6" height="15.5" fill="#FFC0CB"/>
<rect x="1245.3" y="195.2" width="2.6" height="15.5" fill="#FFC0CB"/>
<rect x="1247.7" y="195.2" width="2.6" height="15.5" fill="#FFC0CB"/>
<rect x="1266.9" y="195.2" width="2.6" height="15.5" fill="#FF8C00"/>
<rect x="1270.5" y="195.2" width="2.6" height="15.5" fill="#D2B48C"/>
<rect x="1275.2" y="195.2" width="2.6" height="15.5" fill="#D2B48C"/>
<rect x="1280.0" y="195.2" width="2.6" height="15.5" fill="#D2B48C"/>
<rect x="1284.8" y="195.2" width="2.6" height="15.5" fill="#EE82EE"/>
<rect x="1293.2" y="195.2" width="2.6" height="15.5" fill="#006400"/>
<rect x="1295.6" y="195.2" width="2.6" height="15.5" fill="#ADFF2F"/>
<rect x="1299.2" y="195.2" width="2.6" height="15.5" fill="#ADFF2F"/>
<rect x="1302.7" y="195.2" width="2.6" height="15.5" fill="#D2B48C"/>
<rect x="1306.3" y="195.2" width="2.6" height="15.5" fill="#9ACD32"/>
<rect x="1309.2" y="195.2" width="2.6" height="15.5" fill="#FF00FF"/>
<rect x="1312.3" y="195.2" width="2.6" height="15.5" fill="#FFFF00"/>
<rect x="1314.7" y="195.2" width="2.6" height="15.5" fill="#FFFF00"/>
<rect x="1317.1" y="195.2" width="2.6" height="15.5" fill="#FFFF00"/>
<rect x="1320.7" y="195.2" width="2.6" height="15.5" fill="#00CED1"/>
<rect x="1344.6" y="195.2" width="2.6" height="15.5" fill="#FF0000"/>
<rect x="1347.5" y="195.2" width="2.6" height="15.5" fill="#FF0000"/>
<rect x="1350.6" y="195.2" width="2.6" height="15.5" fill="#FF0000"/>
<rect x="1353.0" y="195.2" width="2.6" height="15.5" fill="#8B0000"/>
<rect x="1356.1" y="195.2" width="2.6" height="15.5" fill="#00FFFF"/>
<rect x="1359.0" y="195.2" width="2.6" height="15.5" fill="#00FFFF"/>
<rect x="1360.9" y="195.2" width="2.6" height="15.5" fill="#FFFFFF"/>
<rect x="1373.3" y="195.2" width="2.6" height="15.5" fill="#CAE1FF"/>
<rect x="1378.1" y="195.2" width="2.6" height="15.5" fill="#8968CD"/>
<rect x="1380.5" y="195.2" width="2.6" height="15.5" fill="#A020F0"/>
<rect x="1382.9" y="195.2" width="2.6" height="15.5" fill="#A020F0"/>
<rect x="1388.8" y="195.2" width="2.6" height="15.5" fill="#000000"/>
<rect x="1391.2" y="195.2" width="2.6" height="15.5" fill="#000000"/>
<rect x="1394.8" y="195.2" width="2.6" height="15.5" fill="#FFFFF0"/>
<rect x="1397.2" y="195.2" width="2.6" height="15.5" fill="#FFFFE0"/>
<rect x="1408.0" y="195.2" width="2.6" height="15.5" fill="#FA8072"/>
<rect x="1410.4" y="195.2" width="2.6" height="15.5" fill="#FA8072"/>
<rect x="1423.5" y="195.2" width="2.6" height="15.5" fill="#6CA6CD"/>
<rect x="1427.1" y="195.2" width="2.6" height="15.5" fill="#87CEEB"/>
<rect x="1430.7" y="195.2" width="2.6" height="15.5" fill="#4169E1"/>
<rect x="1433.1" y="195.2" width="2.6" height="15.5" fill="#6CA6CD"/>
<rect x="1436.7" y="195.2" width="2.6" height="15.5" fill="#8968CD"/>
<rect x="1440.3" y="195.2" width="2.6" height="15.5" fill="#AFEEEE"/>
<rect x="1443.9" y="195.2" width="2.6" height="15.5" fill="#00CED1"/>
<rect x="1447.4" y="195.2" width="2.6" height="15.5" fill="#40E0D0"/>
<rect x="1449.8" y="195.2" width="2.6" height="15.5" fill="#40E0D0"/>
<rect x="1452.2" y="195.2" width="2.6" height="15.5" fill="#40E0D0"/>
<rect x="1454.6" y="195.2" width="2.6" height="15.5" fill="#40E0D0"/>
<rect x="1458.2" y="195.2" width="2.6" height="15.5" fill="#0000FF"/>
<rect x="1460.6" y="195.2" width="2.6" height="15.5" fill="#0000FF"/>
<rect x="1463.0" y="195.2" width="2.6" height="15.5" fill="#8B0000"/>
<rect x="1465.4" y="195.2" width="2.6" height="15.5" fill="#0000FF"/>
<rect x="1467.8" y="195.2" width="2.6" height="15.5" fill="#0000FF"/>
<rect x="1470.2" y="195.2" width="2.6" height="15.5" fill="#0000FF"/>
<rect x="1472.6" y="195.2" width="2.6" height="15.5" fill="#0000FF"/>
<rect x="1477.3" y="195.2" width="2.6" height="15.5" fill="#FFA500"/>
<rect x="1483.3" y="195.2" width="2.6" height="15.5" fill="#87CEEB"/>
<rect x="1502.5" y="195.2" width="2.6" height="15.5" fill="#E0FFFF"/>
<rect x="1503.7" y="195.2" width="2.6" height="15.5" fill="#E0FFFF"/>
<rect x="1513.2" y="195.2" width="2.6" height="15.5" fill="#999999"/>
<rect x="1176.7" y="195.2" width="359.7" height="15.5" fill="none" stroke="#222" stroke-width="1.2"/>
<text x="1365" y="267.5" font-size="26" text-anchor="middle">Differential abundance</text>
<defs><marker id="m1" markerUnits="userSpaceOnUse" markerWidth="7.6" markerHeight="7.6" refX="3.80" refY="3.80" overflow="visible"><circle cx="3.80" cy="3.80" r="2.3" fill="#F08080" stroke="#333" stroke-width="0.5"/></marker></defs><path d="M1322.6 415.5l66 18.9l-4.3 -18.8l31.4 19.9l-125.7 -51.0l93 52.1l-1.1 -81.5l-82.8 42.1l50.2 -2.4l23.9 66.1l-46.3 -29.8l111.1 -123.3l-58.9 169.2l-28.8 -65.7l-6.7 19.7l53 -104.3l-1.8 103.1l-68.9 18.9l67.9 -5.6l75.8 -100.7l-127.7 152.6l27.1 -19.1l-78.2 -33.2l118.3 9.2l-58.1 -20.5l21.4 14.7l-.1 43.2l5.3 -52.9l26.1 -128.3l-57.9 105.8l4.9 18.8l22.9 44.9l51.2 -61.5l-84.7 21.1l76.8 -25.3l-75.8 23.1l5.7 12.3l10.9 30.1l40.1 -33.5l-15.6 29.8l-59.6 6.0l101 -74.1l-69.6 77.2l-20.8 -45.8l13.8 -84.2l25.9 107.5l24.5 -40.4l-48.5 14.8l40.9 7.6l-4 -5.1l-29.2 28.5l-15 -16.1l47.8 20.0l-56 -60.8l49.7 2.5l12.4 -83.9l-86.6 87.3l158.1 -84.2l-123.9 106.9l37.4 -.6" fill="none" stroke="none" marker-start="url(#m1)" marker-mid="url(#m1)" marker-end="url(#m1)"/>
<defs><marker id="m2" markerUnits="userSpaceOnUse" markerWidth="7.6" markerHeight="7.6" refX="3.80" refY="3.80" overflow="visible"><circle cx="3.80" cy="3.80" r="2.3" fill="#9ACD32" stroke="#333" stroke-width="0.5"/></marker></defs><path d="M1346.8 408.2l22.6 73.7l-15.7 12.7l33 -46.0l-47.5 45.0l-14 -80.5l52.2 65.5l27.3 7.7l-126.5 -166.4l1.2 82.7l64.9 59.5l-5.7 -126.4l62 -19.0l-90.1 104.6l28.9 -53.1l40.8 90.7l-1.1 -75.2l-4 67.1l-33.9 -5.5l-20.3 -14.9l55.8 51.7l25.7 -46.7l-60.9 -1.6l-74.1 -44.7l85.2 41.9l-10.1 36.9l43.1 -42.9l-9 33.5l5.7 -2.5l-30 34.1l-28.5 -101.0l31.7 94.1l23.5 -63.1l119.9 -50.3l-104.4 -78.8l12.7 121.9l-163.4 -24.8l107.6 63.0l17.5 37.1l-24.7 -163.4l32.7 161.3l-4.8 -11.0l8.6 -8.3l-35.2 -4.8l-3.1 -36.4l43.6 -15.0l-2 25.8l20.1 -94.9" fill="none" stroke="none" marker-start="url(#m2)" marker-mid="url(#m2)" marker-end="url(#m2)"/>
<defs><marker id="m3" markerUnits="userSpaceOnUse" markerWidth="7.6" markerHeight="7.6" refX="3.80" refY="3.80" overflow="visible"><circle cx="3.80" cy="3.80" r="2.3" fill="#FF4040" stroke="#333" stroke-width="0.5"/></marker></defs><path d="M1397.5 467.4l-27.3 -6.3l17 -100.3l8.6 71.4l-68.4 21.3l75.8 -43.6l4.1 10.8l-48 68.5l13.8 -25.2l1.7 -40.4l7.1 40.0l-92.5 -22.8l51.2 -66.5l62.1 31.5l-61.7 29.6l42.2 42.7l-31.8 1.7l24.8 -42.6l-48.4 -80.3l13.3 96.4l51.8 -5.5l-71.9 22.6l1.6 -115.7l32.8 102.8l-34.4 -154.6l-12.2 97.3l29.1 22.6l5.3 24.0l39.1 -83.4l-35.3 111.2l31.9 -46.8l-51.9 -28.9l-6.5 39.4l72.6 31.3l99.3 -131.9l-247.5 80.1l98.1 22.4l110.4 -22.9l-72.5 42.6" fill="none" stroke="none" marker-start="url(#m3)" marker-mid="url(#m3)" marker-end="url(#m3)"/>
<defs><marker id="m4" markerUnits="userSpaceOnUse" markerWidth="7.6" markerHeight="7.6" refX="3.80" refY="3.80" overflow="visible"><circle cx="3.80" cy="3.80" r="2.3" fill="#E0E0E0" stroke="#333" stroke-width="0.5"/></marker></defs><path d="M1389.1 459.3l-40.6 -70.5l-7.3 55.5l-56.1 -93.7l49.8 68.5l83.6 17.5l-94.5 .7l21.7 -13.0l-13.6 8.0l12.7 -16.7l40.9 15.1l.1 43.7l-3.5 15.7l-34.6 -33.3l-13.1 -8.1l77.3 -145.0l-82.5 88.4l2 67.6l7.3 -92.4l7.8 60.4l2.8 17.8l65.9 -86.4l-78.1 71.2l10.7 62.8l41.2 -69.3l-12.8 40.7l33.9 -90.0l-106.3 32.1l112.2 18.3l-33 12.6l1.5 -26.8l-35.4 -23.8l19 99.5l15.7 -34.4l-60.9 -5.7l13 31.7l51.7 -117.7l-19.7 127.6l-108 -77.6l116.5 -12.3l-32.1 -47.5l-11.1 120.6l47.1 -31.2l-5.2 -24.1l5.7 30.5l-58.8 -30.2l7.2 49.4l46.9 19.7" fill="none" stroke="none" marker-start="url(#m4)" marker-mid="url(#m4)" marker-end="url(#m4)"/>
<defs><marker id="m5" markerUnits="userSpaceOnUse" markerWidth="7.6" markerHeight="7.6" refX="3.80" refY="3.80" overflow="visible"><circle cx="3.80" cy="3.80" r="2.3" fill="#7FAFFF" stroke="#333" stroke-width="0.5"/></marker></defs><path d="M1388.1 480.8l-4 -92.7l-31.9 84.2l.1 -41.8l-87.2 5.4l121.2 40.6l-6.4 -39.1l-2.6 9.8l-40.6 21.2l-8.8 -41.8l81 25.4l-69 -7.4l36.3 49.8l-25.4 -57.0l8.3 51.4l16.1 2.2l-47.5 -8.4l105.6 -66.0l-80.1 75.8l-21.4 -14.2l65.3 -49.7l-42.5 21.0l31.6 1.0l-47.2 -3.4l15.2 4.3l19.5 44.4l119.7 -64.3l-119 28.9l-25.4 -13.7l55.7 -123.6l-52 155.3l23 -12.5l-35.3 -9.4l-17.4 -3.6l71.4 -35.3l-16.7 32.8l60.8 -114.1l-49.7 98.9l2.9 1.5l-58.9 -131.2l1.8 92.0l69.1 72.8l-27.2 -33.6l-24.1 4.1l28.1 -4.5l3 .1l-55.9 -1.8l6.9 .2l63.2 -13.1l-64.2 71.9l-89.3 -186.1l158.1 100.3l-65.4 37.4l71.4 -11.6l-33.6 -22.8l39.1 7.6l-28.5 30.3l-59.3 -11.9" fill="none" stroke="none" marker-start="url(#m5)" marker-mid="url(#m5)" marker-end="url(#m5)"/>
<defs><marker id="m6" markerUnits="userSpaceOnUse" markerWidth="7.6" markerHeight="7.6" refX="3.80" refY="3.80" overflow="visible"><circle cx="3.80" cy="3.80" r="2.3" fill="#FF7F7F" stroke="#333" stroke-width="0.5"/></marker></defs><path d="M1357.4 477.3l59 -17.0l-117.8 -130.4l80.8 139.6l-60 -8.8l56.1 -31.1l-37.3 -35.8l3 83.3l33.7 -70.5l-53.1 8.8l-2.7 -39.4l101.6 -27.2l-28.3 98.6l-51.5 -128.0l13.8 172.6l32 -100.6l-3.1 41.9l-50.1 9.4l-26.4 -6.6l25.5 25.4l43.2 -46.8l7.8 2.0l-36.7 20.8l24 23.3l-49 -107.4l103 111.2l-77.2 11.8l49.8 -65.3l-53.3 36.1l2.5 -10.9l-14.2 -12.0l22.4 55.9l-32.8 -81.0l32.1 52.8l19.7 2.7l-3.9 19.1l15.1 -50.5l-84.6 56.5l31.4 -60.8l53.3 -1.7l-118.1 50.6l84.6 -1.2l-29.7 -51.4l57.7 15.6l-33.4 -12.3l-76.4 -30.1l65.1 49.0l51.5 22.9l-4.8 -67.2" fill="none" stroke="none" marker-start="url(#m6)" marker-mid="url(#m6)" marker-end="url(#m6)"/>
<defs><marker id="m7" markerUnits="userSpaceOnUse" markerWidth="7.6" markerHeight="7.6" refX="3.80" refY="3.80" overflow="visible"><circle cx="3.80" cy="3.80" r="2.3" fill="#6495ED" stroke="#333" stroke-width="0.5"/></marker></defs><path d="M1383.9 469.7l3.8 -74.3l-37.6 40.2l-37.6 -128.2l139.1 115.0l-97.8 33.0l39.6 -59.8l-14.8 62.5l-32.5 -25.7l-12.4 -8.5l63.4 -6.1l-72 4.8l-24.1 11.6l92.8 -80.0l-11.7 114.8l-48.9 -57.2l57.9 1.0l-42.8 39.7l-2.7 -19.3l-5.8 -3.5l13 56.1l28.3 -86.5l-6.9 54.2l6.1 -16.9l-34.7 21.1l31.9 -17.4l-66.8 -29.0l74.3 11.2l-82.9 4.2l76.6 -19.7l14.5 2.6l-55.1 27.9l8.5 4.1l11.4 42.0l-25.8 -31.1l-76.4 -142.5l96.1 106.0l20.5 39.6" fill="none" stroke="none" marker-start="url(#m7)" marker-mid="url(#m7)" marker-end="url(#m7)"/>
<defs><marker id="m8" markerUnits="userSpaceOnUse" markerWidth="7.6" markerHeight="7.6" refX="3.80" refY="3.80" overflow="visible"><circle cx="3.80" cy="3.80" r="2.3" fill="#D2B48C" stroke="#333" stroke-width="0.5"/></marker></defs><path d="M1382.9 367.4l15.3 48.2l-56.3 80.3l-40.6 -83.3l68.2 66.4l-28 -10.4l-72.6 -164.6l74.9 152.1l51.5 16.7l-8.2 -23.8l-34 44.5l-22.2 -72.3l14.8 .5l-7.8 -86.1l35.2 134.2l-87.3 -106.4l64.5 115.3l30.9 -35.0l-28.7 5.6l-6.2 24.5l37.8 -60.1l-32.4 63.5l43.1 -131.8l39.3 106.7l-90.4 -136.9l9 122.1l-32.2 -21.7l51 81.1l-29.5 -52.2l-2.5 47.4l4 -84.5l.5 29.2l32.8 32.3l3.1 -43.5l6.6 59.3l-42.7 -95.3l14.5 95.8l-37.3 5.3l66.9 -29.5l-37.6 1.3l75.9 -50.1l-73.6 16.3l25.5 10.9l-30.6 10.7l38.2 20.4" fill="none" stroke="none" marker-start="url(#m8)" marker-mid="url(#m8)" marker-end="url(#m8)"/>
<defs><marker id="m9" markerUnits="userSpaceOnUse" markerWidth="7.6" markerHeight="7.6" refX="3.80" refY="3.80" overflow="visible"><circle cx="3.80" cy="3.80" r="2.3" fill="#FFD27F" stroke="#333" stroke-width="0.5"/></marker></defs><path d="M1349.0 485.6l-7.8 -27.5l123.8 -150.4l-138.6 132.6l28 22.3l25.6 -16.1l-48.6 -14.1l69.2 -2.6l-6.4 -134.5l-99.5 151.8l45.9 -22.0l16.3 69.6l-31.8 -49.5l18.1 8.6l1.6 40.1l-17.9 -22.7l106.6 -20.9l-25.9 -7.8l-72.5 13.2l67.2 29.4l-82.5 -106.3l.8 43.5l-63 -85.1l118.7 111.5l-40.1 -14.3l38.9 33.1l-29.9 -.7l-8.3 1.6l-25.1 -37.5l89.7 40.8l-56.3 -19.3l-5.7 -89.4l36 84.5l-30 -22.2l36 42.6l-123.8 -23.5l84.1 19.9l137.4 -161.2l-152.3 147.5l75.2 -15.0l-23.5 34.3l103 -89.9l-93.8 3.7l-102.6 18.4l88.4 77.3l-24.2 -57.8l42.9 15.1l-36.4 37.6l-35.8 12.9l56 -27.2l27.1 -44.4l-16.5 36.1l67 -143.4l-115.3 123.4" fill="none" stroke="none" marker-start="url(#m9)" marker-mid="url(#m9)" marker-end="url(#m9)"/>
<defs><marker id="m10" markerUnits="userSpaceOnUse" markerWidth="7.6" markerHeight="7.6" refX="3.80" refY="3.80" overflow="visible"><circle cx="3.80" cy="3.80" r="2.3" fill="#FFFF7F" stroke="#333" stroke-width="0.5"/></marker></defs><path d="M1375.9 412.8l-32 4.0l41.6 39.5l-13 -3.5l-53 -155.1l68.4 102.1l-66.8 42.1l20.9 20.2l44.1 -25.4l-35.9 -3.9l28.7 -12.1l-26.9 63.0l-18 -22.8l5.9 2.8l11.2 -47.8l-1.4 65.0l33 -48.5l-7.7 -2.0l-1.5 28.5l-27.1 -45.6l32.6 -60.2l-58.6 105.2l48.4 31.4l-34.2 -86.1l11.7 -73.6l-2.1 105.5l-8.4 38.9l17 -10.6l-51.9 -26.9l85.2 4.4l-48.9 -13.0l48.2 9.1l-47.9 -3.2l57.5 34.0l-42.7 -15.3l41.7 -.3l-79 -35.5l73.2 -4.5l-50.8 74.7l15.7 -5.4l32.7 -177.7l-44.5 -6.6l47.7 156.0l78.6 -88.2l-148.3 91.4l71.7 -21.3l-43.5 1.7l41.2 -9.2l71 49.9l-51.3 -22.1l-66.3 5.3l8.3 28.1l-17.5 -26.2l15.5 -9.4l31 -18.6l-4.5 -23.0l-47.9 52.3l69.8 -28.6l13.9 -22.5l-32.9 22.4l18.3 -105.7" fill="none" stroke="none" marker-start="url(#m10)" marker-mid="url(#m10)" marker-end="url(#m10)"/>
<defs><marker id="m11" markerUnits="userSpaceOnUse" markerWidth="7.6" markerHeight="7.6" refX="3.80" refY="3.80" overflow="visible"><circle cx="3.80" cy="3.80" r="2.3" fill="#7FFF7F" stroke="#333" stroke-width="0.5"/></marker></defs><path d="M1351.2 439.5l8.3 49.6l25.3 -27.4l-47.1 -28.0l32.7 53.2l26.9 -55.1l-42 54.9l-8.4 -49.7l44.6 -34.5l102.6 -43.7l-101.2 37.5l-45.9 84.6l30.1 -66.7l32.3 28.7l-69.3 -105.7l14.7 154.2l-8.4 -53.1l34.3 -40.9l-67 24.1l79.9 8.6l-38.3 18.9l-15 -25.3l26 69.7l-9.8 -7.2l40 -29.6l93 -41.1l-152.3 69.2l19.9 8.1l23.4 -55.5l20.6 -44.1l-98.2 16.9l49.4 83.4l40.1 -61.8l-51.3 -80.2l-22.5 63.5l64.1 -20.5l-29.9 53.8l28.4 -136.1l-28.9 108.8l37.2 70.4l-49.5 -59.5l14.5 37.7l-42 -59.8l73.3 36.4l-68.4 -116.0l97.3 112.9l-69.5 -65.2l44.8 49.2l-15.4 2.7l47.5 -2.1l-70.4 -1.2l-27.1 -120.6l79.1 128.1l-56.5 9.5l36 41.8l-52.4 -74.2l2.6 57.1l45.8 -31.5l-40 24.0l38.1 -50.5l-36.5 14.0l36.1 62.7l1.5 -.7l-25.7 -28.5l35.7 -33.1" fill="none" stroke="none" marker-start="url(#m11)" marker-mid="url(#m11)" marker-end="url(#m11)"/>
<defs><marker id="m12" markerUnits="userSpaceOnUse" markerWidth="7.6" markerHeight="7.6" refX="3.80" refY="3.80" overflow="visible"><circle cx="3.80" cy="3.80" r="2.3" fill="#00CED1" stroke="#333" stroke-width="0.5"/></marker></defs><path d="M1331.2 437.5l9.3 8.3l-.1 30.8l-12.2 -62.4l45 44.0l-38.9 -15.8l12.9 -37.8l22.8 56.2l-40 -57.7l6 13.5l9.5 57.7l-4.7 -31.1l37.3 -43.5l12.9 52.3l-67.4 -80.5l29.1 97.1l42.8 -35.6l4 -15.6l-60.1 56.8l-1.6 -23.3l33.1 18.1l-22.2 -19.1l3 -31.7l21.6 54.7l-59.1 -18.7l23 .3l49.7 -17.2l-8.1 -8.3l-31.3 .9l-21.3 16.0l12.2 -54.5l49.7 62.2l-56.1 -43.3l48.5 24.4l-41.4 -24.7l2.3 -30.8l45.1 22.7l-1.7 26.3l-77.7 2.4l77.7 48.2l20.8 -48.1l-11.2 -4.5" fill="none" stroke="none" marker-start="url(#m12)" marker-mid="url(#m12)" marker-end="url(#m12)"/>
<defs><marker id="m13" markerUnits="userSpaceOnUse" markerWidth="7.6" markerHeight="7.6" refX="3.80" refY="3.80" overflow="visible"><circle cx="3.80" cy="3.80" r="2.3" fill="#FFFFFF" stroke="#333" stroke-width="0.5"/></marker></defs><path d="M1372.1 477.7l-24.6 -88.3l70.2 49.3l-71.5 -69.6l38.8 17.5l-44.4 70.6l38.4 -44.9l8.7 23.5l-54.7 -104.9l52.7 88.2l-3.2 37.6l-9.2 -2.5l-93.2 -89.7l65.9 -6.0l151.1 39.8l-102 37.7l-46.7 -25.9l46.1 67.1l-15 -63.8l-6.9 83.6l41.2 -124.8l-29.9 39.8l-60.4 8.0l101.3 27.5l-18.3 -156.9l-16.3 133.3l-57 .0l25.1 59.3l25.6 -74.5l6.7 76.1l-8 -39.3l-3.9 .3l2.6 46.5l-70.7 -139.6l23.5 105.1l-7 -89.6l71.6 84.1l-52.6 -75.5l1.9 62.7l111.9 40.7l15.9 -15.5l-146.2 -112.7l22.1 124.0l46.4 .1l-14.2 -113.9l-1.8 47.1l-7.8 68.9l-2.3 6.9l-88.1 -36.4l66.3 -4.6l20.4 17.4l-45.8 1.8" fill="none" stroke="none" marker-start="url(#m13)" marker-mid="url(#m13)" marker-end="url(#m13)"/>
<defs><marker id="m14" markerUnits="userSpaceOnUse" markerWidth="7.6" markerHeight="7.6" refX="3.80" refY="3.80" overflow="visible"><circle cx="3.80" cy="3.80" r="2.3" fill="#505050" stroke="#333" stroke-width="0.5"/></marker></defs><path d="M1307.1 421.1l75.9 31.0l-34.1 39.8l-95.8 -28.2l143.3 -134.0l-23.4 125.4l-34.8 18.1l31.2 11.0l37.3 -190.1l6.6 129.1l-24.1 67.6l5 -26.2l-56.1 -41.0l-4.1 28.3l48.5 -13.6l-45.5 -25.5l53.7 43.6l-38.9 -32.6l-2.1 35.8l-43.3 -28.7l65.5 12.9l39.3 -121.4l-37.3 149.0l-57.1 -115.3l12 76.9l19.4 32.2l27.1 12.1l115.8 -49.3l-136.9 29.1l25.7 -38.1l-4.3 14.7l-31.1 7.0l-.2 -20.1l1.1 27.9l36.2 21.3l-26.1 10.0l-17.7 -64.9l37.1 34.6l12.9 17.0l-42.5 -32.3l124 -90.2l-149.3 77.3l-33.9 -26.5l100.7 75.9l17.6 -54.0l-28.3 77.2l-23.9 -26.5" fill="none" stroke="none" marker-start="url(#m14)" marker-mid="url(#m14)" marker-end="url(#m14)"/>
<defs><marker id="m15" markerUnits="userSpaceOnUse" markerWidth="7.6" markerHeight="7.6" refX="3.80" refY="3.80" overflow="visible"><circle cx="3.80" cy="3.80" r="2.3" fill="#C9A0FF" stroke="#333" stroke-width="0.5"/></marker></defs><path d="M1346.6 495.4l-28.1 -29.1l-6.9 -34.1l70 27.6l5.9 -20.7l-61.8 -3.9l6 -124.6l48.2 126.9l-47.1 17.9l120.5 -24.9l-120.2 -79.1l42.7 135.7l-31.4 -49.7l3.1 28.1l50.6 -40.0l-66.2 -50.2l37.3 110.5l30.9 -7.4l-23.1 -25.4l.2 -16.0l-26.4 -14.3l48.9 -7.7l-31.8 77.2l-32.7 -81.3l18 34.0l56.8 -28.6l-113.1 17.2l97 46.3l-119.7 -153.1l100 105.6l-20.9 35.6l-8 -161.9l130 153.3l-104.7 11.7l3 -8.1l2.3 11.9l-40.3 -50.1l-4.6 11.7l68.3 19.2l-26.6 26.1l8.9 -65.4l-43.3 35.2l5.4 19.9l-1.5 3.8l70.9 -8.5l-74.3 -25.5l12 -12.8" fill="none" stroke="none" marker-start="url(#m15)" marker-mid="url(#m15)" marker-end="url(#m15)"/>
<defs><marker id="m16" markerUnits="userSpaceOnUse" markerWidth="7.6" markerHeight="7.6" refX="3.80" refY="3.80" overflow="visible"><circle cx="3.80" cy="3.80" r="2.3" fill="#FF8C40" stroke="#333" stroke-width="0.5"/></marker></defs><path d="M1393.7 444.1l-45.6 -13.7l54.3 42.6l7.1 -.1l-51.3 23.9l-16.2 -16.9l24.8 7.7l-17 -72.5l.5 15.3l30.6 -5.1l-67.3 29.6l32.1 -12.8l-.3 -31.1l52.3 -94.5l-23.2 143.2l46.5 -20.4l-17.9 -78.1l-16.2 75.9l-50.9 -16.9l67.7 5.5l-55.1 -27.4l24.5 89.1l-34.5 -35.4l122.7 -90.9l-107.1 83.8l42.5 -24.7l-67.3 72.7l.8 -148.9l75.6 -2.9l-66.1 148.6l48.7 -72.0l-45.8 -6.7l32.1 13.1l-28.1 5.5l39 17.0l-51.8 48.8l18.3 -65.6l-27.3 -27.2l-57.1 -94.6l76.4 77.9l-16.2 68.7l67.7 6.0l-76 -113.9l53 136.0l30.5 -54.1" fill="none" stroke="none" marker-start="url(#m16)" marker-mid="url(#m16)" marker-end="url(#m16)"/>
<defs><marker id="m17" markerUnits="userSpaceOnUse" markerWidth="7.6" markerHeight="7.6" refX="3.80" refY="3.80" overflow="visible"><circle cx="3.80" cy="3.80" r="2.3" fill="#A0522D" stroke="#333" stroke-width="0.5"/></marker></defs><path d="M1375.6 438.9l-54.8 -21.3l51.2 34.9l-57.2 -23.9l19.4 15.9l-.5 -30.4l1.3 48.4l64 -45.3l-61.8 48.4l-11.3 -10.7l8.6 -18.8l17.8 .2l22.8 -16.2l-33.5 16.4l5.1 -7.5l25.2 14.2l-20.3 8.5l-8.8 17.3l12.9 -17.8l13.3 17.1l-14.5 3.6l21.1 14.0l97.8 -90.8l-148.7 -95.1l97.6 115.9l-56.1 78.8l-36.2 -147.4l54.5 118.5l-52.5 -23.3l-56 -26.6l163.8 -86.5l-93.1 135.2l1.9 -68.4l68.5 21.5l-69.4 -76.8l2.4 80.8l72.4 -78.2l-41.9 120.3l-30.2 -20.1l35.4 -6.6l-37.4 -21.5l52 21.4l-21.4 -20.3l6.8 54.0l-39.8 -148.1l-26.1 103.0l32.9 38.9l-5.3 -97.4l48.8 48.2l-22.1 16.0l10.1 -36.3" fill="none" stroke="none" marker-start="url(#m17)" marker-mid="url(#m17)" marker-end="url(#m17)"/>
<defs><marker id="m18" markerUnits="userSpaceOnUse" markerWidth="7.6" markerHeight="7.6" refX="3.80" refY="3.80" overflow="visible"><circle cx="3.80" cy="3.80" r="2.3" fill="#40C040" stroke="#333" stroke-width="0.5"/></marker></defs><path d="M1343.0 482.8l35.1 -65.1l-7.7 56.7l-16.4 12.8l36.9 -8.5l-43.7 -63.1l39.1 39.1l-12.3 -26.6l-32.3 43.8l58.6 -31.8l-26.5 21.8l-24.1 22.9l37.2 -8.8l-58.4 -63.4l-4.9 -49.6l.5 47.6l1.8 -18.8l54.5 46.9l-60.4 -133.2l54.8 156.3l3.6 30.0l-40.9 -34.1l21.8 34.8l17.7 -39.4l21.4 -28.9l-145.3 -82.4l129.3 -28.7l-31.4 121.9l-14.5 17.1l54.1 5.9l-53.3 10.4l.5 10.8l-16.3 -41.7l54.9 -5.2l6.5 62.3l19.9 -14.4l-10 -32.0l-44.9 8.1l52.9 -42.3l-54.6 73.1l.4 6.9l-6.5 -63.1l78.2 -21.0l-7.9 25.9l-68.2 -21.5l33.2 23.2l44.3 16.7l-37.4 29.6l-28.5 -11.8l15.2 23.7" fill="none" stroke="none" marker-start="url(#m18)" marker-mid="url(#m18)" marker-end="url(#m18)"/>
<defs><marker id="m19" markerUnits="userSpaceOnUse" markerWidth="7.6" markerHeight="7.6" refX="3.80" refY="3.80" overflow="visible"><circle cx="3.80" cy="3.80" r="2.3" fill="#FFB6C1" stroke="#333" stroke-width="0.5"/></marker></defs><path d="M1343.1 417.8l53.2 60.0l-14.9 -.1l-.6 18.3l-38.2 -44.2l-21.1 15.2l28.8 27.1l29.7 -15.9l-4.4 2.6l11.5 -35.6l-36.7 -25.7l-16.9 27.1l13 -26.4l-1.7 -49.8l41.2 63.8l-69.3 -129.1l14.5 132.0l66.4 -103.1l-11.1 15.1l-70.7 -4.1l27.4 1.2l36 68.2l8.8 41.7l-10.5 33.3l-36.7 -5.2l63 -50.4l-56.4 21.5l-12.5 -2.5l10.9 -133.6l.1 134.7l-13.6 1.8l-36.5 -77.0l103.6 98.1l24.2 -103.2l-32.9 77.4l-1.2 -54.0l-2.7 24.7l-46.8 -.5l51.6 -11.0l-59.4 51.6l88.2 -20.8l-63.6 20.2l-13.4 -109.1l56.8 -15.4l-18.4 114.0l-12.1 10.8l-25.1 -83.7" fill="none" stroke="none" marker-start="url(#m19)" marker-mid="url(#m19)" marker-end="url(#m19)"/>
<defs><marker id="m20" markerUnits="userSpaceOnUse" markerWidth="7.6" markerHeight="7.6" refX="3.80" refY="3.80" overflow="visible"><circle cx="3.80" cy="3.80" r="2.3" fill="#4040FF" stroke="#333" stroke-width="0.5"/></marker></defs><path d="M1492.8 380.5l-144.6 57.0l50.9 -139.8l-107.1 60.5l2.1 32.3l24.4 30.3l88.5 7.6l-71.3 34.9l48.8 17.1l-74.5 -61.9l77.8 -32.1l-8.3 -9.1l11.5 81.1l-48.4 31.4l32 -20.7l-49.6 -21.5l68.6 -9.7l-16 -13.3l-106.5 21.3l107.4 -28.3l15.1 66.5l-25.5 10.3l-31.6 -21.4l34.6 -.3l120.6 -16.1l-159.5 5.9l14.1 -26.9l44.8 17.0l-65 -31.5l78.8 -5.0l-59.8 23.8l45.3 19.1l-6.3 -27.1l-48.6 -91.5l-22.7 96.9l14 -7.9l10.4 -11.6l-2.7 5.0l54.4 4.2l13.2 -19.4l-58.8 21.9l46.1 -6.0l109.5 -114.0l-122.8 110.4l1.4 19.5l2.7 -8.5l-21.4 63.1l99.5 -15.7l-63.7 -61.8" fill="none" stroke="none" marker-start="url(#m20)" marker-mid="url(#m20)" marker-end="url(#m20)"/>
<defs><marker id="m21" markerUnits="userSpaceOnUse" markerWidth="7.6" markerHeight="7.6" refX="3.80" refY="3.80" overflow="visible"><circle cx="3.80" cy="3.80" r="2.3" fill="#ADFF2F" stroke="#333" stroke-width="0.5"/></marker></defs><path d="M1371.8 481.7l9.6 -6.9l-34.5 -59.8l60.5 -93.2l-18 97.3l-51.2 -20.8l10 84.0l-14.8 -37.5l60.9 3.1l-48.6 -21.8l-15.2 -7.6l66.1 -4.0l-51.7 72.4l-4.7 -60.9l3 -130.1l34 192.7l-48.1 -40.5l56.4 -13.4l27.5 -9.9l-36 -54.6l11.7 75.9l-37 43.0l74 -67.2l-40.6 -125.2l26.9 110.6l-65 24.8l-4.9 -10.2l128.2 4.9l-147.5 23.2l-10.9 -58.9l39.1 36.1l-4.6 51.0l26.8 -32.7l8.5 -21.9l-73.8 -29.9l47.9 100.4l-2.8 -26.1l55.6 -62.2l-28 26.0l-3.7 1.0l-45.7 -2.7l24.4 32.1l82.9 -29.3" fill="none" stroke="none" marker-start="url(#m21)" marker-mid="url(#m21)" marker-end="url(#m21)"/>
<defs><marker id="m22" markerUnits="userSpaceOnUse" markerWidth="7.6" markerHeight="7.6" refX="3.80" refY="3.80" overflow="visible"><circle cx="3.80" cy="3.80" r="2.3" fill="#40E0D0" stroke="#333" stroke-width="0.5"/></marker></defs><path d="M1351.9 483.8l-13.4 -24.1l63.9 -42.0l-48.7 67.7l38.6 -145.1l-.7 117.6l-12.3 -21.6l-52.4 4.9l69.5 -4.0l-4.9 -42.8l-73.1 1.8l83.8 28.7l-30.5 43.9l9.2 -34.7l5.2 -134.9l-34 131.2l-7.3 -5.5l-11.5 -11.2l2.3 19.5l13.6 -22.7l39.2 25.2l-5.5 23.4l-66.2 -23.9l-30.1 -17.5l41.5 -39.6l70.2 115.1l-8.1 -59.1l-38 7.9l-28.3 -14.0l50.3 68.4l4.2 -31.7l-55 -28.5l81.2 30.0l-29.4 -34.6l-40 .4l9 13.2l56.3 -4.3l-10.9 -131.4l-44.1 127.5l33.7 .4l-7.3 42.2l2.7 -.3l-52.8 -14.8l4.5 -23.6l64.2 -4.8l-6.7 28.8l-51.2 -67.6l56.5 8.1l-55.2 32.7" fill="none" stroke="none" marker-start="url(#m22)" marker-mid="url(#m22)" marker-end="url(#m22)"/>
<defs><marker id="m23" markerUnits="userSpaceOnUse" markerWidth="7.6" markerHeight="7.6" refX="3.80" refY="3.80" overflow="visible"><circle cx="3.80" cy="3.80" r="2.3" fill="#7FFFFF" stroke="#333" stroke-width="0.5"/></marker></defs><path d="M1390.0 461.0l-56.1 15.5l8.6 -46.4l-40.9 -1.3l-3.3 -89.8l100.4 151.7l-47.9 -42.5l-2 38.8l-10.7 -60.6l52.7 -4.0l-102 -87.9l12.2 37.9l47.5 69.8l-10.9 -111.4l4.5 134.4l33.6 -28.9l-27.7 37.7l27.1 -37.7l37 52.9l-55.8 -29.8l28.8 3.2l19.7 -43.3l-83.2 -107.8l7 117.2l30.1 51.6l46.7 -50.1l-59.5 12.3l28.9 .9l-32.1 31.1l17.1 14.6l30.1 -58.6l-61 19.5l59.9 30.7l20.2 -40.6l-3.1 12.4l.4 -81.9l-53 85.5l28.4 38.0l-41.5 -55.1l41.4 -141.6l-105.6 47.8l64 139.8l54.3 -54.0l-10.6 -17.7l4 62.5l46.4 -52.6l-50.7 68.5l-6.8 -70.4l-28.3 41.5l-12.4 -22.8l47.3 -11.9l-34.3 35.1" fill="none" stroke="none" marker-start="url(#m23)" marker-mid="url(#m23)" marker-end="url(#m23)"/>
<defs><marker id="m24" markerUnits="userSpaceOnUse" markerWidth="7.6" markerHeight="7.6" refX="3.80" refY="3.80" overflow="visible"><circle cx="3.80" cy="3.80" r="2.3" fill="#B0B0B0" stroke="#333" stroke-width="0.5"/></marker></defs><path d="M1374.2 432.3l112.8 -130.8l-96.4 110.1l-55.6 56.3l.9 -171.5l11.5 132.7l-3.9 -1.4l32.6 -1.5l5.5 27.4l-28.5 -18.3l38.8 1.2l24.4 1.4l-31.6 -28.3l3.8 41.9l-44 -21.5l5.9 59.7l17.5 2.6l74.9 -73.5l-87.7 44.7l-35.9 -15.6l81.7 -16.0l-17 46.2l-32.6 8.5l5.6 2.1l25.7 -141.3l-66.2 115.7l56 11.5l4.5 -42.9l40.9 3.3l-138.7 10.3l102.3 21.5l-27.9 -17.7l37.4 -14.4l-15.7 -16.1l-27.3 25.3l39 21.7l-4.2 14.4l-38.1 -66.5l56.4 -23.1l-77.6 47.0l6.2 -40.9l3.1 36.9l23.9 28.3l-15.7 5.1l56.3 -5.8l-71.4 -13.0l5 -136.6l48 145.8l-28.1 17.9l-10.8 -182.3l98.4 140.1l-61.3 -16.7l12.7 72.1l9.2 -154.2" fill="none" stroke="none" marker-start="url(#m24)" marker-mid="url(#m24)" marker-end="url(#m24)"/>
<line x1="1363.3" y1="285.3" x2="1363.3" y2="500.5" stroke="#000" stroke-width="2.2" stroke-dasharray="10 7"/>
<line x1="1245.3" y1="447" x2="1488.3" y2="447" stroke="#000" stroke-width="2.2" stroke-dasharray="12 13"/>
<line x1="1238.6" y1="293" x2="1238.6" y2="322" stroke="#000" stroke-width="1.8"/><path d="M1238.6,331.2 L1232.6,316 L1238.6,319 L1244.6,316Z" fill="#000"/>
<line x1="1509.3" y1="322.6" x2="1509.3" y2="293" stroke="#000" stroke-width="1.8"/><path d="M1509.3,284.3 L1503.3,299 L1509.3,296 L1515.3,299Z" fill="#000"/>
<text x="0" y="641" font-size="32" font-weight="bold">b</text>
<g stroke-linecap="square"><line x1="854.5" y1="1132.4" x2="868.9" y2="1099.4" stroke="#A9A9A9" stroke-width="3.6"/><line x1="866.7" y1="1138.6" x2="885.2" y2="1107.8" stroke="#A9A9A9" stroke-width="3.6"/><path d="M854.50,1132.36A108,108 0 0 1 866.68,1138.64" fill="none" stroke="#A9A9A9" stroke-width="3.6"/><line x1="883.5" y1="1139.3" x2="900.2" y2="1118.1" stroke="#A9A9A9" stroke-width="3.6"/><line x1="894.6" y1="1149.2" x2="913.8" y2="1130.3" stroke="#A9A9A9" stroke-width="3.6"/><path d="M883.52,1139.33A117,117 0 0 1 894.59,1149.23" fill="none" stroke="#A9A9A9" stroke-width="3.6"/><line x1="851.1" y1="1154.0" x2="860.7" y2="1135.3" stroke="#A9A9A9" stroke-width="3.6"/><line x1="869.2" y1="1166.5" x2="889.2" y2="1144.1" stroke="#A9A9A9" stroke-width="3.6"/><path d="M851.07,1153.97A87,87 0 0 1 869.21,1166.46" fill="none" stroke="#A9A9A9" stroke-width="3.6"/><line x1="898.7" y1="1164.7" x2="925.8" y2="1144.1" stroke="#A9A9A9" stroke-width="3.6"/><line x1="906.5" y1="1176.3" x2="935.9" y2="1159.3" stroke="#A9A9A9" stroke-width="3.6"/><path d="M898.73,1164.68A110,110 0 0 1 906.46,1176.30" fill="none" stroke="#A9A9A9" stroke-width="3.6"/><line x1="921.9" y1="1184.9" x2="944.0" y2="1175.7" stroke="#A9A9A9" stroke-width="3.6"/><line x1="926.9" y1="1199.3" x2="950.0" y2="1192.9" stroke="#A9A9A9" stroke-width="3.6"/><path d="M921.88,1184.94A120,120 0 0 1 926.86,1199.32" fill="none" stroke="#A9A9A9" stroke-width="3.6"/><line x1="882.8" y1="1183.7" x2="902.8" y2="1170.4" stroke="#A9A9A9" stroke-width="3.6"/><line x1="892.5" y1="1203.2" x2="924.6" y2="1192.1" stroke="#A9A9A9" stroke-width="3.6"/><path d="M882.80,1183.66A86,86 0 0 1 892.47,1203.17" fill="none" stroke="#A9A9A9" stroke-width="3.6"/><line x1="923.2" y1="1229.5" x2="955.2" y2="1229.0" stroke="#A9A9A9" stroke-width="3.6"/><line x1="922.5" y1="1243.7" x2="954.3" y2="1247.3" stroke="#A9A9A9" stroke-width="3.6"/><path d="M923.19,1229.52A112,112 0 0 1 922.51,1243.71" fill="none" stroke="#A9A9A9" stroke-width="3.6"/><line x1="910.2" y1="1217.1" x2="953.7" y2="1210.8" stroke="#A9A9A9" stroke-width="3.6"/><line x1="911.1" y1="1236.1" x2="923.1" y2="1236.6" stroke="#A9A9A9" stroke-width="3.6"/><path d="M910.18,1217.07A100,100 0 0 1 911.09,1236.06" fill="none" stroke="#A9A9A9" stroke-width="3.6"/><line x1="925.9" y1="1259.1" x2="951.1" y2="1265.2" stroke="#A9A9A9" stroke-width="3.6"/><line x1="921.4" y1="1273.4" x2="945.7" y2="1282.7" stroke="#A9A9A9" stroke-width="3.6"/><path d="M925.87,1259.12A118,118 0 0 1 921.43,1273.41" fill="none" stroke="#A9A9A9" stroke-width="3.6"/><line x1="909.6" y1="1261.9" x2="923.9" y2="1266.3" stroke="#A9A9A9" stroke-width="3.6"/><line x1="902.0" y1="1279.9" x2="938.1" y2="1299.3" stroke="#A9A9A9" stroke-width="3.6"/><path d="M909.55,1261.88A103,103 0 0 1 901.99,1279.94" fill="none" stroke="#A9A9A9" stroke-width="3.6"/><line x1="892.1" y1="1227.4" x2="911.1" y2="1226.5" stroke="#A9A9A9" stroke-width="3.6"/><line x1="885.9" y1="1262.6" x2="906.2" y2="1271.1" stroke="#A9A9A9" stroke-width="3.6"/><path d="M892.11,1227.45A81,81 0 0 1 885.91,1262.59" fill="none" stroke="#A9A9A9" stroke-width="3.6"/><line x1="899.2" y1="1293.9" x2="928.5" y2="1314.8" stroke="#A9A9A9" stroke-width="3.6"/><line x1="890.5" y1="1304.6" x2="917.0" y2="1329.0" stroke="#A9A9A9" stroke-width="3.6"/><path d="M899.17,1293.95A108,108 0 0 1 890.54,1304.58" fill="none" stroke="#A9A9A9" stroke-width="3.6"/><line x1="885.8" y1="1320.2" x2="903.8" y2="1341.6" stroke="#A9A9A9" stroke-width="3.6"/><line x1="873.9" y1="1328.9" x2="889.1" y2="1352.4" stroke="#A9A9A9" stroke-width="3.6"/><path d="M885.76,1320.16A116,116 0 0 1 873.91,1328.89" fill="none" stroke="#A9A9A9" stroke-width="3.6"/><line x1="881.1" y1="1288.0" x2="895.0" y2="1299.4" stroke="#A9A9A9" stroke-width="3.6"/><line x1="864.6" y1="1303.8" x2="880.0" y2="1324.7" stroke="#A9A9A9" stroke-width="3.6"/><path d="M881.05,1288.05A90,90 0 0 1 864.56,1303.77" fill="none" stroke="#A9A9A9" stroke-width="3.6"/><line x1="859.3" y1="1332.4" x2="873.1" y2="1361.3" stroke="#A9A9A9" stroke-width="3.6"/><line x1="846.1" y1="1337.7" x2="856.1" y2="1368.1" stroke="#A9A9A9" stroke-width="3.6"/><path d="M859.34,1332.43A112,112 0 0 1 846.15,1337.71" fill="none" stroke="#A9A9A9" stroke-width="3.6"/><line x1="831.3" y1="1335.4" x2="838.5" y2="1372.7" stroke="#A9A9A9" stroke-width="3.6"/><line x1="817.9" y1="1337.1" x2="820.3" y2="1375.0" stroke="#A9A9A9" stroke-width="3.6"/><path d="M831.26,1335.38A106,106 0 0 1 817.92,1337.09" fill="none" stroke="#A9A9A9" stroke-width="3.6"/><line x1="841.7" y1="1307.4" x2="852.8" y2="1335.3" stroke="#A9A9A9" stroke-width="3.6"/><line x1="821.6" y1="1312.6" x2="824.6" y2="1336.4" stroke="#A9A9A9" stroke-width="3.6"/><path d="M841.68,1307.43A82,82 0 0 1 821.58,1312.64" fill="none" stroke="#A9A9A9" stroke-width="3.6"/><line x1="804.6" y1="1335.1" x2="802.1" y2="1375.0" stroke="#A9A9A9" stroke-width="3.6"/><line x1="791.5" y1="1333.4" x2="783.9" y2="1372.7" stroke="#A9A9A9" stroke-width="3.6"/><path d="M804.60,1335.09A104,104 0 0 1 791.52,1333.42" fill="none" stroke="#A9A9A9" stroke-width="3.6"/><line x1="776.9" y1="1335.8" x2="766.3" y2="1368.1" stroke="#A9A9A9" stroke-width="3.6"/><line x1="763.9" y1="1330.6" x2="749.3" y2="1361.3" stroke="#A9A9A9" stroke-width="3.6"/><path d="M776.88,1335.81A110,110 0 0 1 763.92,1330.62" fill="none" stroke="#A9A9A9" stroke-width="3.6"/><line x1="747.4" y1="1330.6" x2="733.3" y2="1352.4" stroke="#A9A9A9" stroke-width="3.6"/><line x1="735.4" y1="1321.7" x2="718.6" y2="1341.6" stroke="#A9A9A9" stroke-width="3.6"/><path d="M747.40,1330.57A118,118 0 0 1 735.35,1321.69" fill="none" stroke="#A9A9A9" stroke-width="3.6"/><line x1="781.1" y1="1306.5" x2="770.3" y2="1333.4" stroke="#A9A9A9" stroke-width="3.6"/><line x1="763.2" y1="1296.5" x2="741.2" y2="1326.3" stroke="#A9A9A9" stroke-width="3.6"/><path d="M781.10,1306.50A81,81 0 0 1 763.17,1296.53" fill="none" stroke="#A9A9A9" stroke-width="3.6"/><line x1="731.9" y1="1304.6" x2="705.4" y2="1329.0" stroke="#A9A9A9" stroke-width="3.6"/><line x1="723.2" y1="1293.9" x2="693.9" y2="1314.8" stroke="#A9A9A9" stroke-width="3.6"/><path d="M731.86,1304.58A108,108 0 0 1 723.23,1293.95" fill="none" stroke="#A9A9A9" stroke-width="3.6"/><line x1="709.8" y1="1285.6" x2="684.3" y2="1299.3" stroke="#A9A9A9" stroke-width="3.6"/><line x1="703.8" y1="1272.3" x2="676.7" y2="1282.7" stroke="#A9A9A9" stroke-width="3.6"/><path d="M709.83,1285.61A115,115 0 0 1 703.77,1272.34" fill="none" stroke="#A9A9A9" stroke-width="3.6"/><line x1="750.9" y1="1280.3" x2="727.4" y2="1299.4" stroke="#A9A9A9" stroke-width="3.6"/><line x1="740.5" y1="1263.6" x2="706.6" y2="1279.1" stroke="#A9A9A9" stroke-width="3.6"/><path d="M750.89,1280.29A77.7,77.7 0 0 1 740.52,1263.58" fill="none" stroke="#A9A9A9" stroke-width="3.6"/><line x1="718.9" y1="1253.7" x2="671.3" y2="1265.2" stroke="#A9A9A9" stroke-width="3.6"/><line x1="716.8" y1="1241.8" x2="668.1" y2="1247.3" stroke="#A9A9A9" stroke-width="3.6"/><path d="M718.88,1253.70A95,95 0 0 1 716.79,1241.83" fill="none" stroke="#A9A9A9" stroke-width="3.6"/><line x1="699.2" y1="1229.5" x2="667.2" y2="1229.0" stroke="#A9A9A9" stroke-width="3.6"/><line x1="700.3" y1="1215.4" x2="668.7" y2="1210.8" stroke="#A9A9A9" stroke-width="3.6"/><path d="M699.21,1229.52A112,112 0 0 1 700.34,1215.36" fill="none" stroke="#A9A9A9" stroke-width="3.6"/><line x1="697.5" y1="1199.9" x2="672.4" y2="1192.9" stroke="#A9A9A9" stroke-width="3.6"/><line x1="702.4" y1="1185.7" x2="678.4" y2="1175.7" stroke="#A9A9A9" stroke-width="3.6"/><path d="M697.47,1199.86A118,118 0 0 1 702.36,1185.71" fill="none" stroke="#A9A9A9" stroke-width="3.6"/><line x1="715.5" y1="1223.7" x2="699.6" y2="1222.4" stroke="#A9A9A9" stroke-width="3.6"/><line x1="720.5" y1="1199.9" x2="699.7" y2="1192.7" stroke="#A9A9A9" stroke-width="3.6"/><path d="M715.50,1223.69A96,96 0 0 1 720.48,1199.90" fill="none" stroke="#A9A9A9" stroke-width="3.6"/><line x1="717.7" y1="1177.3" x2="686.5" y2="1159.3" stroke="#A9A9A9" stroke-width="3.6"/><line x1="725.3" y1="1165.9" x2="696.6" y2="1144.1" stroke="#A9A9A9" stroke-width="3.6"/><path d="M717.67,1177.30A108,108 0 0 1 725.26,1165.89" fill="none" stroke="#A9A9A9" stroke-width="3.6"/><line x1="735.8" y1="1215.5" x2="717.2" y2="1211.6" stroke="#A9A9A9" stroke-width="3.6"/><line x1="747.1" y1="1188.6" x2="721.3" y2="1171.5" stroke="#A9A9A9" stroke-width="3.6"/><path d="M735.83,1215.53A77,77 0 0 1 747.09,1188.65" fill="none" stroke="#A9A9A9" stroke-width="3.6"/><line x1="729.2" y1="1150.6" x2="708.6" y2="1130.3" stroke="#A9A9A9" stroke-width="3.6"/><line x1="740.1" y1="1140.9" x2="722.2" y2="1118.1" stroke="#A9A9A9" stroke-width="3.6"/><path d="M729.24,1150.63A115,115 0 0 1 740.11,1140.90" fill="none" stroke="#A9A9A9" stroke-width="3.6"/><line x1="741.2" y1="1153.0" x2="734.5" y2="1145.6" stroke="#A9A9A9" stroke-width="3.6"/><line x1="757.3" y1="1141.2" x2="737.2" y2="1107.8" stroke="#A9A9A9" stroke-width="3.6"/><path d="M741.19,1153.05A105,105 0 0 1 757.26,1141.21" fill="none" stroke="#A9A9A9" stroke-width="3.6"/><line x1="754.3" y1="1154.0" x2="748.9" y2="1146.7" stroke="#A9A9A9" stroke-width="3.6"/><line x1="772.7" y1="1143.4" x2="753.5" y2="1099.4" stroke="#A9A9A9" stroke-width="3.6"/><path d="M754.28,1153.99A96,96 0 0 1 772.71,1143.35" fill="none" stroke="#A9A9A9" stroke-width="3.6"/><line x1="849.8" y1="1175.3" x2="860.5" y2="1159.6" stroke="#868686" stroke-width="4.0"/><line x1="872.1" y1="1201.1" x2="888.3" y2="1193.1" stroke="#868686" stroke-width="4.0"/><path d="M849.76,1175.29A68,68 0 0 1 872.13,1201.10" fill="none" stroke="#868686" stroke-width="4.0"/><line x1="850.5" y1="1197.2" x2="862.6" y2="1186.8" stroke="#868686" stroke-width="4.0"/><line x1="862.4" y1="1240.3" x2="891.0" y2="1245.4" stroke="#868686" stroke-width="4.0"/><path d="M850.50,1197.25A52,52 0 0 1 862.41,1240.33" fill="none" stroke="#868686" stroke-width="4.0"/><line x1="850.5" y1="1272.6" x2="873.3" y2="1296.4" stroke="#868686" stroke-width="4.0"/><line x1="825.5" y1="1286.5" x2="831.8" y2="1310.7" stroke="#868686" stroke-width="4.0"/><path d="M850.53,1272.55A57,57 0 0 1 825.52,1286.47" fill="none" stroke="#868686" stroke-width="4.0"/><line x1="843.5" y1="1222.4" x2="861.3" y2="1217.4" stroke="#868686" stroke-width="4.0"/><line x1="827.5" y1="1260.6" x2="838.9" y2="1281.1" stroke="#868686" stroke-width="4.0"/><path d="M843.49,1222.37A33.5,33.5 0 0 1 827.49,1260.57" fill="none" stroke="#868686" stroke-width="4.0"/><line x1="803.6" y1="1290.5" x2="798.0" y2="1334.5" stroke="#868686" stroke-width="4.0"/><line x1="782.2" y1="1283.5" x2="771.8" y2="1302.1" stroke="#868686" stroke-width="4.0"/><path d="M803.64,1290.52A59.7,59.7 0 0 1 782.17,1283.47" fill="none" stroke="#868686" stroke-width="4.0"/><line x1="753.8" y1="1266.9" x2="745.2" y2="1272.3" stroke="#868686" stroke-width="4.0"/><line x1="744.7" y1="1243.0" x2="717.6" y2="1247.8" stroke="#868686" stroke-width="4.0"/><path d="M753.84,1266.89A67.5,67.5 0 0 1 744.73,1243.02" fill="none" stroke="#868686" stroke-width="4.0"/><line x1="796.2" y1="1276.9" x2="792.6" y2="1288.0" stroke="#868686" stroke-width="4.0"/><line x1="766.4" y1="1248.4" x2="748.1" y2="1255.4" stroke="#868686" stroke-width="4.0"/><path d="M796.22,1276.90A48,48 0 0 1 766.36,1248.43" fill="none" stroke="#868686" stroke-width="4.0"/><line x1="832.2" y1="1240.1" x2="842.1" y2="1244.2" stroke="#868686" stroke-width="4.0"/><line x1="795.5" y1="1247.8" x2="778.1" y2="1266.0" stroke="#868686" stroke-width="4.0"/><path d="M832.23,1240.11A22.8,22.8 0 0 1 795.47,1247.80" fill="none" stroke="#868686" stroke-width="4.0"/><line x1="773.8" y1="1215.7" x2="740.2" y2="1201.6" stroke="#868686" stroke-width="4.0"/><line x1="791.0" y1="1196.2" x2="763.2" y2="1148.2" stroke="#868686" stroke-width="4.0"/><path d="M773.84,1215.65A40.5,40.5 0 0 1 790.95,1196.23" fill="none" stroke="#868686" stroke-width="4.0"/><line x1="815.6" y1="1252.3" x2="815.9" y2="1253.6" stroke="#868686" stroke-width="4.0"/><line x1="795.1" y1="1217.1" x2="780.8" y2="1204.5" stroke="#868686" stroke-width="4.0"/><path d="M815.60,1252.34A21.5,21.5 0 0 1 795.06,1217.09" fill="none" stroke="#868686" stroke-width="4.0"/></g>
<g stroke="#000" stroke-width="0.9" stroke-linejoin="round"><path d="M953.21,841.14A415.2,415.2 0 0 1 1001.46,862.26L992.57,879.50A395.8,395.8 0 0 0 946.57,859.37Z" fill="#F8F8FF"/><path d="M946.57,859.37A395.8,395.8 0 0 1 992.57,879.50L983.68,896.74A376.40000000000003,376.40000000000003 0 0 0 939.94,877.60Z" fill="#FFE2E2"/><path d="M939.94,877.60A376.4,376.4 0 0 1 983.68,896.74L974.79,913.99A357.0,357.0 0 0 0 933.30,895.83Z" fill="#FFE2E2"/><path d="M933.30,895.83A357.0,357.0 0 0 1 974.79,913.99L965.90,931.23A337.6,337.6 0 0 0 926.67,914.06Z" fill="#F5F5FF"/><path d="M926.67,914.06A337.6,337.6 0 0 1 965.90,931.23L957.01,948.47A318.20000000000005,318.20000000000005 0 0 0 920.03,932.29Z" fill="#FFE0E0"/><path d="M913.40,950.52A298.8,298.8 0 0 1 948.12,965.72L939.23,982.96A279.4,279.4 0 0 0 906.76,968.75Z" fill="#EEEEFF"/><path d="M906.76,968.75A279.4,279.4 0 0 1 939.23,982.96L930.34,1000.20A260.0,260.0 0 0 0 900.13,986.98Z" fill="#E5E5FF"/><path d="M893.49,1005.21A240.6,240.6 0 0 1 921.45,1017.45L912.56,1034.69A221.2,221.2 0 0 0 886.85,1023.44Z" fill="#FFFFFF"/><path d="M886.85,1023.44A221.2,221.2 0 0 1 912.56,1034.69L903.67,1051.93A201.79999999999998,201.79999999999998 0 0 0 880.22,1041.67Z" fill="#FFFFF2"/><path d="M880.22,1041.67A201.8,201.8 0 0 1 903.67,1051.93L894.78,1069.18A182.4,182.4 0 0 0 873.58,1059.90Z" fill="#FFFFFF"/><path d="M873.58,1059.90A182.4,182.4 0 0 1 894.78,1069.18L885.89,1086.42A163.0,163.0 0 0 0 866.95,1078.13Z" fill="#FFFFDD"/><path d="M866.95,1078.13A163.0,163.0 0 0 1 885.89,1086.42L877.00,1103.66A143.6,143.6 0 0 0 860.31,1096.36Z" fill="#FFFFF2"/><path d="M966.48,804.68A454.0,454.0 0 0 1 1019.23,827.77L1010.35,845.01A434.6,434.6 0 0 0 959.84,822.91Z" fill="#6CA6CD"/><path d="M1001.46,862.26A415.2,415.2 0 0 1 1046.64,889.31L1035.64,905.29A395.8,395.8 0 0 0 992.57,879.50Z" fill="#E3E3FF"/><path d="M992.57,879.50A395.8,395.8 0 0 1 1035.64,905.29L1024.64,921.27A376.40000000000003,376.40000000000003 0 0 0 983.68,896.74Z" fill="#E5E5FF"/><path d="M983.68,896.74A376.4,376.4 0 0 1 1024.64,921.27L1013.64,937.25A357.0,357.0 0 0 0 974.79,913.99Z" fill="#DDDDFF"/><path d="M974.79,913.99A357.0,357.0 0 0 1 1013.64,937.25L1002.64,953.23A337.6,337.6 0 0 0 965.90,931.23Z" fill="#E3E3FF"/><path d="M965.90,931.23A337.6,337.6 0 0 1 1002.64,953.23L991.64,969.21A318.20000000000005,318.20000000000005 0 0 0 957.01,948.47Z" fill="#FBFBFF"/><path d="M948.12,965.72A298.8,298.8 0 0 1 980.64,985.19L969.64,1001.16A279.4,279.4 0 0 0 939.23,982.96Z" fill="#FFE2E2"/><path d="M939.23,982.96A279.4,279.4 0 0 1 969.64,1001.16L958.64,1017.14A260.0,260.0 0 0 0 930.34,1000.20Z" fill="#FFF0F0"/><path d="M921.45,1017.45A240.6,240.6 0 0 1 947.63,1033.12L936.63,1049.10A221.2,221.2 0 0 0 912.56,1034.69Z" fill="#FFFFFF"/><path d="M912.56,1034.69A221.2,221.2 0 0 1 936.63,1049.10L925.63,1065.08A201.79999999999998,201.79999999999998 0 0 0 903.67,1051.93Z" fill="#FFFFFF"/><path d="M903.67,1051.93A201.8,201.8 0 0 1 925.63,1065.08L914.63,1081.06A182.4,182.4 0 0 0 894.78,1069.18Z" fill="#FFFFFF"/><path d="M894.78,1069.18A182.4,182.4 0 0 1 914.63,1081.06L903.63,1097.04A163.0,163.0 0 0 0 885.89,1086.42Z" fill="#FFFFFF"/><path d="M885.89,1086.42A163.0,163.0 0 0 1 903.63,1097.04L892.63,1113.02A143.6,143.6 0 0 0 877.00,1103.66Z" fill="#FFFFFF"/><path d="M1019.23,827.77A454.0,454.0 0 0 1 1068.65,857.35L1057.64,873.33A434.6,434.6 0 0 0 1010.35,845.01Z" fill="#4682B4"/><path d="M1046.64,889.31A415.2,415.2 0 0 1 1088.04,921.87L1075.11,936.32A395.8,395.8 0 0 0 1035.64,905.29Z" fill="#E3E3FF"/><path d="M1035.64,905.29A395.8,395.8 0 0 1 1075.11,936.32L1062.17,950.78A376.40000000000003,376.40000000000003 0 0 0 1024.64,921.27Z" fill="#DADAFF"/><path d="M1024.64,921.27A376.4,376.4 0 0 1 1062.17,950.78L1049.24,965.24A357.0,357.0 0 0 0 1013.64,937.25Z" fill="#DADAFF"/><path d="M1013.64,937.25A357.0,357.0 0 0 1 1049.24,965.24L1036.30,979.70A337.6,337.6 0 0 0 1002.64,953.23Z" fill="#F0F0FF"/><path d="M1002.64,953.23A337.6,337.6 0 0 1 1036.30,979.70L1023.37,994.16A318.20000000000005,318.20000000000005 0 0 0 991.64,969.21Z" fill="#FFF3F3"/><path d="M980.64,985.19A298.8,298.8 0 0 1 1010.43,1008.61L997.50,1023.07A279.4,279.4 0 0 0 969.64,1001.16Z" fill="#FFE2E2"/><path d="M969.64,1001.16A279.4,279.4 0 0 1 997.50,1023.07L984.56,1037.53A260.0,260.0 0 0 0 958.64,1017.14Z" fill="#FFE2E2"/><path d="M947.63,1033.12A240.6,240.6 0 0 1 971.62,1051.99L958.69,1066.45A221.2,221.2 0 0 0 936.63,1049.10Z" fill="#FFFFFF"/><path d="M936.63,1049.10A221.2,221.2 0 0 1 958.69,1066.45L945.75,1080.91A201.79999999999998,201.79999999999998 0 0 0 925.63,1065.08Z" fill="#FFFFFF"/><path d="M925.63,1065.08A201.8,201.8 0 0 1 945.75,1080.91L932.82,1095.36A182.4,182.4 0 0 0 914.63,1081.06Z" fill="#FFFFFF"/><path d="M914.63,1081.06A182.4,182.4 0 0 1 932.82,1095.36L919.88,1109.82A163.0,163.0 0 0 0 903.63,1097.04Z" fill="#FFFFFF"/><path d="M903.63,1097.04A163.0,163.0 0 0 1 919.88,1109.82L906.95,1124.28A143.6,143.6 0 0 0 892.63,1113.02Z" fill="#FFFF00"/><path d="M1068.65,857.35A454.0,454.0 0 0 1 1113.91,892.95L1100.98,907.41A434.6,434.6 0 0 0 1057.64,873.33Z" fill="#8B008B"/><path d="M1088.04,921.87A415.2,415.2 0 0 1 1124.99,959.40L1110.33,972.11A395.8,395.8 0 0 0 1075.11,936.32Z" fill="#B8B8FF"/><path d="M1075.11,936.32A395.8,395.8 0 0 1 1110.33,972.11L1095.66,984.81A376.40000000000003,376.40000000000003 0 0 0 1062.17,950.78Z" fill="#9A9AFF"/><path d="M1062.17,950.78A376.4,376.4 0 0 1 1095.66,984.81L1081.00,997.51A357.0,357.0 0 0 0 1049.24,965.24Z" fill="#9A9AFF"/><path d="M1049.24,965.24A357.0,357.0 0 0 1 1081.00,997.51L1066.34,1010.22A337.6,337.6 0 0 0 1036.30,979.70Z" fill="#C8C8FF"/><path d="M1036.30,979.70A337.6,337.6 0 0 1 1066.34,1010.22L1051.68,1022.92A318.20000000000005,318.20000000000005 0 0 0 1023.37,994.16Z" fill="#E5E5FF"/><path d="M1010.43,1008.61A298.8,298.8 0 0 1 1037.02,1035.63L1022.36,1048.33A279.4,279.4 0 0 0 997.50,1023.07Z" fill="#FF9E9E"/><path d="M997.50,1023.07A279.4,279.4 0 0 1 1022.36,1048.33L1007.69,1061.04A260.0,260.0 0 0 0 984.56,1037.53Z" fill="#FFB5B5"/><path d="M971.62,1051.99A240.6,240.6 0 0 1 993.03,1073.74L978.37,1086.44A221.2,221.2 0 0 0 958.69,1066.45Z" fill="#FFFFFF"/><path d="M958.69,1066.45A221.2,221.2 0 0 1 978.37,1086.44L963.71,1099.15A201.79999999999998,201.79999999999998 0 0 0 945.75,1080.91Z" fill="#FFFFFF"/><path d="M945.75,1080.91A201.8,201.8 0 0 1 963.71,1099.15L949.05,1111.85A182.4,182.4 0 0 0 932.82,1095.36Z" fill="#FFFFFF"/><path d="M932.82,1095.36A182.4,182.4 0 0 1 949.05,1111.85L934.39,1124.56A163.0,163.0 0 0 0 919.88,1109.82Z" fill="#FFFFFF"/><path d="M919.88,1109.82A163.0,163.0 0 0 1 934.39,1124.56L919.73,1137.26A143.6,143.6 0 0 0 906.95,1124.28Z" fill="#FFFFFF"/><path d="M1113.91,892.95A454.0,454.0 0 0 1 1154.31,933.99L1139.65,946.70A434.6,434.6 0 0 0 1100.98,907.41Z" fill="#FFC0CB"/><path d="M1124.99,959.40A415.2,415.2 0 0 1 1156.88,1001.31L1140.73,1012.06A395.8,395.8 0 0 0 1110.33,972.11Z" fill="#FFB0B0"/><path d="M1110.33,972.11A395.8,395.8 0 0 1 1140.73,1012.06L1124.58,1022.80A376.40000000000003,376.40000000000003 0 0 0 1095.66,984.81Z" fill="#FFAEAE"/><path d="M1095.66,984.81A376.4,376.4 0 0 1 1124.58,1022.80L1108.43,1033.55A357.0,357.0 0 0 0 1081.00,997.51Z" fill="#FFC8C8"/><path d="M1081.00,997.51A357.0,357.0 0 0 1 1108.43,1033.55L1092.28,1044.30A337.6,337.6 0 0 0 1066.34,1010.22Z" fill="#FFC8C8"/><path d="M1066.34,1010.22A337.6,337.6 0 0 1 1092.28,1044.30L1076.12,1055.04A318.20000000000005,318.20000000000005 0 0 0 1051.68,1022.92Z" fill="#FFC8C8"/><path d="M1037.02,1035.63A298.8,298.8 0 0 1 1059.97,1065.79L1043.82,1076.53A279.4,279.4 0 0 0 1022.36,1048.33Z" fill="#AAAAFF"/><path d="M1022.36,1048.33A279.4,279.4 0 0 1 1043.82,1076.53L1027.67,1087.28A260.0,260.0 0 0 0 1007.69,1061.04Z" fill="#A0A0FF"/><path d="M993.03,1073.74A240.6,240.6 0 0 1 1011.52,1098.03L995.36,1108.77A221.2,221.2 0 0 0 978.37,1086.44Z" fill="#FFFFFF"/><path d="M978.37,1086.44A221.2,221.2 0 0 1 995.36,1108.77L979.21,1119.52A201.79999999999998,201.79999999999998 0 0 0 963.71,1099.15Z" fill="#FFFFFF"/><path d="M963.71,1099.15A201.8,201.8 0 0 1 979.21,1119.52L963.06,1130.26A182.4,182.4 0 0 0 949.05,1111.85Z" fill="#FFFFFF"/><path d="M949.05,1111.85A182.4,182.4 0 0 1 963.06,1130.26L946.91,1141.01A163.0,163.0 0 0 0 934.39,1124.56Z" fill="#FFFFFF"/><path d="M934.39,1124.56A163.0,163.0 0 0 1 946.91,1141.01L930.76,1151.76A143.6,143.6 0 0 0 919.73,1137.26Z" fill="#FFFFFF"/><path d="M1154.31,933.99A454.0,454.0 0 0 1 1189.19,979.82L1173.03,990.57A434.6,434.6 0 0 0 1139.65,946.70Z" fill="#FFA500"/><path d="M1156.88,1001.31A415.2,415.2 0 0 1 1183.22,1046.92L1165.83,1055.54A395.8,395.8 0 0 0 1140.73,1012.06Z" fill="#F0F0FF"/><path d="M1140.73,1012.06A395.8,395.8 0 0 1 1165.83,1055.54L1148.45,1064.15A376.40000000000003,376.40000000000003 0 0 0 1124.58,1022.80Z" fill="#DCDCFF"/><path d="M1124.58,1022.80A376.4,376.4 0 0 1 1148.45,1064.15L1131.07,1072.77A357.0,357.0 0 0 0 1108.43,1033.55Z" fill="#C0C0FF"/><path d="M1108.43,1033.55A357.0,357.0 0 0 1 1131.07,1072.77L1113.69,1081.38A337.6,337.6 0 0 0 1092.28,1044.30Z" fill="#FCFCFF"/><path d="M1092.28,1044.30A337.6,337.6 0 0 1 1113.69,1081.38L1096.31,1090.00A318.20000000000005,318.20000000000005 0 0 0 1076.12,1055.04Z" fill="#F5F5FF"/><path d="M1059.97,1065.79A298.8,298.8 0 0 1 1078.92,1098.61L1061.54,1107.23A279.4,279.4 0 0 0 1043.82,1076.53Z" fill="#FFF2F2"/><path d="M1043.82,1076.53A279.4,279.4 0 0 1 1061.54,1107.23L1044.16,1115.84A260.0,260.0 0 0 0 1027.67,1087.28Z" fill="#E8E8FF"/><path d="M1011.52,1098.03A240.6,240.6 0 0 1 1026.78,1124.46L1009.39,1133.07A221.2,221.2 0 0 0 995.36,1108.77Z" fill="#FFFFFF"/><path d="M995.36,1108.77A221.2,221.2 0 0 1 1009.39,1133.07L992.01,1141.69A201.79999999999998,201.79999999999998 0 0 0 979.21,1119.52Z" fill="#FFFFFF"/><path d="M979.21,1119.52A201.8,201.8 0 0 1 992.01,1141.69L974.63,1150.30A182.4,182.4 0 0 0 963.06,1130.26Z" fill="#FFFFFF"/><path d="M963.06,1130.26A182.4,182.4 0 0 1 974.63,1150.30L957.25,1158.92A163.0,163.0 0 0 0 946.91,1141.01Z" fill="#FFFFFF"/><path d="M946.91,1141.01A163.0,163.0 0 0 1 957.25,1158.92L939.86,1167.53A143.6,143.6 0 0 0 930.76,1151.76Z" fill="#FFFFFF"/><path d="M1189.19,979.82A454.0,454.0 0 0 1 1217.98,1029.69L1200.60,1038.31A434.6,434.6 0 0 0 1173.03,990.57Z" fill="#00FFFF"/><path d="M1183.22,1046.92A415.2,415.2 0 0 1 1203.56,1095.50L1185.23,1101.85A395.8,395.8 0 0 0 1165.83,1055.54Z" fill="#FFEFEF"/><path d="M1165.83,1055.54A395.8,395.8 0 0 1 1185.23,1101.85L1166.90,1108.19A376.40000000000003,376.40000000000003 0 0 0 1148.45,1064.15Z" fill="#FFE0E0"/><path d="M1148.45,1064.15A376.4,376.4 0 0 1 1166.90,1108.19L1148.57,1114.54A357.0,357.0 0 0 0 1131.07,1072.77Z" fill="#FFF5F5"/><path d="M1131.07,1072.77A357.0,357.0 0 0 1 1148.57,1114.54L1130.23,1120.88A337.6,337.6 0 0 0 1113.69,1081.38Z" fill="#FFFAFA"/><path d="M1113.69,1081.38A337.6,337.6 0 0 1 1130.23,1120.88L1111.90,1127.23A318.20000000000005,318.20000000000005 0 0 0 1096.31,1090.00Z" fill="#FFE5E5"/><path d="M1078.92,1098.61A298.8,298.8 0 0 1 1093.57,1133.57L1075.23,1139.92A279.4,279.4 0 0 0 1061.54,1107.23Z" fill="#E8E8FF"/><path d="M1061.54,1107.23A279.4,279.4 0 0 1 1075.23,1139.92L1056.90,1146.26A260.0,260.0 0 0 0 1044.16,1115.84Z" fill="#E0E0FF"/><path d="M1026.78,1124.46A240.6,240.6 0 0 1 1038.57,1152.61L1020.23,1158.95A221.2,221.2 0 0 0 1009.39,1133.07Z" fill="#FFFFFF"/><path d="M1009.39,1133.07A221.2,221.2 0 0 1 1020.23,1158.95L1001.90,1165.30A201.79999999999998,201.79999999999998 0 0 0 992.01,1141.69Z" fill="#FFFFF8"/><path d="M992.01,1141.69A201.8,201.8 0 0 1 1001.90,1165.30L983.57,1171.64A182.4,182.4 0 0 0 974.63,1150.30Z" fill="#FFFFFF"/><path d="M974.63,1150.30A182.4,182.4 0 0 1 983.57,1171.64L965.24,1177.99A163.0,163.0 0 0 0 957.25,1158.92Z" fill="#FFFFFF"/><path d="M957.25,1158.92A163.0,163.0 0 0 1 965.24,1177.99L946.90,1184.33A143.6,143.6 0 0 0 939.86,1167.53Z" fill="#FFFFFF"/><path d="M1217.98,1029.69A454.0,454.0 0 0 1 1240.23,1082.81L1221.90,1089.16A434.6,434.6 0 0 0 1200.60,1038.31Z" fill="#FFFFF0"/><path d="M1203.56,1095.50A415.2,415.2 0 0 1 1217.60,1146.26L1198.61,1150.24A395.8,395.8 0 0 0 1185.23,1101.85Z" fill="#FFE0E0"/><path d="M1185.23,1101.85A395.8,395.8 0 0 1 1198.61,1150.24L1179.62,1154.21A376.40000000000003,376.40000000000003 0 0 0 1166.90,1108.19Z" fill="#FFF0F0"/><path d="M1166.90,1108.19A376.4,376.4 0 0 1 1179.62,1154.21L1160.63,1158.18A357.0,357.0 0 0 0 1148.57,1114.54Z" fill="#FFF5F5"/><path d="M1148.57,1114.54A357.0,357.0 0 0 1 1160.63,1158.18L1141.64,1162.16A337.6,337.6 0 0 0 1130.23,1120.88Z" fill="#FFFDFD"/><path d="M1130.23,1120.88A337.6,337.6 0 0 1 1141.64,1162.16L1122.65,1166.13A318.20000000000005,318.20000000000005 0 0 0 1111.90,1127.23Z" fill="#FFE8E8"/><path d="M1093.57,1133.57A298.8,298.8 0 0 1 1103.67,1170.10L1084.68,1174.08A279.4,279.4 0 0 0 1075.23,1139.92Z" fill="#F0F0FF"/><path d="M1075.23,1139.92A279.4,279.4 0 0 1 1084.68,1174.08L1065.69,1178.05A260.0,260.0 0 0 0 1056.90,1146.26Z" fill="#E5E5FF"/><path d="M1038.57,1152.61A240.6,240.6 0 0 1 1046.70,1182.02L1027.71,1186.00A221.2,221.2 0 0 0 1020.23,1158.95Z" fill="#FFFFFF"/><path d="M1020.23,1158.95A221.2,221.2 0 0 1 1027.71,1186.00L1008.72,1189.97A201.79999999999998,201.79999999999998 0 0 0 1001.90,1165.30Z" fill="#FFFFFF"/><path d="M1001.90,1165.30A201.8,201.8 0 0 1 1008.72,1189.97L989.73,1193.94A182.4,182.4 0 0 0 983.57,1171.64Z" fill="#FFFFFF"/><path d="M983.57,1171.64A182.4,182.4 0 0 1 989.73,1193.94L970.74,1197.92A163.0,163.0 0 0 0 965.24,1177.99Z" fill="#FFFFFF"/><path d="M965.24,1177.99A163.0,163.0 0 0 1 970.74,1197.92L951.76,1201.89A143.6,143.6 0 0 0 946.90,1184.33Z" fill="#FFFFFF"/><path d="M1240.23,1082.81A454.0,454.0 0 0 1 1255.58,1138.32L1236.59,1142.29A434.6,434.6 0 0 0 1221.90,1089.16Z" fill="#8B2500"/><path d="M1217.60,1146.26A415.2,415.2 0 0 1 1225.09,1198.40L1205.76,1199.93A395.8,395.8 0 0 0 1198.61,1150.24Z" fill="#FFFFFF"/><path d="M1198.61,1150.24A395.8,395.8 0 0 1 1205.76,1199.93L1186.42,1201.47A376.40000000000003,376.40000000000003 0 0 0 1179.62,1154.21Z" fill="#FFFDFD"/><path d="M1179.62,1154.21A376.4,376.4 0 0 1 1186.42,1201.47L1167.08,1203.01A357.0,357.0 0 0 0 1160.63,1158.18Z" fill="#E8E8FF"/><path d="M1160.63,1158.18A357.0,357.0 0 0 1 1167.08,1203.01L1147.74,1204.55A337.6,337.6 0 0 0 1141.64,1162.16Z" fill="#F8F8FF"/><path d="M1141.64,1162.16A337.6,337.6 0 0 1 1147.74,1204.55L1128.40,1206.08A318.20000000000005,318.20000000000005 0 0 0 1122.65,1166.13Z" fill="#F0F0FF"/><path d="M1103.67,1170.10A298.8,298.8 0 0 1 1109.06,1207.62L1089.72,1209.16A279.4,279.4 0 0 0 1084.68,1174.08Z" fill="#FDFDFF"/><path d="M1084.68,1174.08A279.4,279.4 0 0 1 1089.72,1209.16L1070.38,1210.70A260.0,260.0 0 0 0 1065.69,1178.05Z" fill="#FAFAFF"/><path d="M1046.70,1182.02A240.6,240.6 0 0 1 1051.04,1212.23L1031.70,1213.77A221.2,221.2 0 0 0 1027.71,1186.00Z" fill="#FFFFFF"/><path d="M1027.71,1186.00A221.2,221.2 0 0 1 1031.70,1213.77L1012.37,1215.31A201.79999999999998,201.79999999999998 0 0 0 1008.72,1189.97Z" fill="#FFFFFF"/><path d="M1008.72,1189.97A201.8,201.8 0 0 1 1012.37,1215.31L993.03,1216.84A182.4,182.4 0 0 0 989.73,1193.94Z" fill="#FFFFFF"/><path d="M989.73,1193.94A182.4,182.4 0 0 1 993.03,1216.84L973.69,1218.38A163.0,163.0 0 0 0 970.74,1197.92Z" fill="#FFFFFF"/><path d="M970.74,1197.92A163.0,163.0 0 0 1 973.69,1218.38L954.35,1219.92A143.6,143.6 0 0 0 951.76,1201.89Z" fill="#FFFFFF"/><path d="M1255.58,1138.32A454.0,454.0 0 0 1 1263.77,1195.32L1244.43,1196.86A434.6,434.6 0 0 0 1236.59,1142.29Z" fill="#FFBBFF"/><path d="M1225.09,1198.40A415.2,415.2 0 0 1 1225.93,1251.06L1206.55,1250.13A395.8,395.8 0 0 0 1205.76,1199.93Z" fill="#FFE5E5"/><path d="M1205.76,1199.93A395.8,395.8 0 0 1 1206.55,1250.13L1187.17,1249.21A376.40000000000003,376.40000000000003 0 0 0 1186.42,1201.47Z" fill="#FFF5F5"/><path d="M1186.42,1201.47A376.4,376.4 0 0 1 1187.17,1249.21L1167.80,1248.29A357.0,357.0 0 0 0 1167.08,1203.01Z" fill="#FFF5F5"/><path d="M1167.08,1203.01A357.0,357.0 0 0 1 1167.80,1248.29L1148.42,1247.36A337.6,337.6 0 0 0 1147.74,1204.55Z" fill="#FFE0E0"/><path d="M1147.74,1204.55A337.6,337.6 0 0 1 1148.42,1247.36L1129.04,1246.44A318.20000000000005,318.20000000000005 0 0 0 1128.40,1206.08Z" fill="#F8F8FF"/><path d="M1109.06,1207.62A298.8,298.8 0 0 1 1109.66,1245.52L1090.28,1244.59A279.4,279.4 0 0 0 1089.72,1209.16Z" fill="#DCDCFF"/><path d="M1089.72,1209.16A279.4,279.4 0 0 1 1090.28,1244.59L1070.91,1243.67A260.0,260.0 0 0 0 1070.38,1210.70Z" fill="#DCDCFF"/><path d="M1051.04,1212.23A240.6,240.6 0 0 1 1051.53,1242.75L1032.15,1241.83A221.2,221.2 0 0 0 1031.70,1213.77Z" fill="#FFFFF8"/><path d="M1031.70,1213.77A221.2,221.2 0 0 1 1032.15,1241.83L1012.77,1240.90A201.79999999999998,201.79999999999998 0 0 0 1012.37,1215.31Z" fill="#FFFFFF"/><path d="M1012.37,1215.31A201.8,201.8 0 0 1 1012.77,1240.90L993.39,1239.98A182.4,182.4 0 0 0 993.03,1216.84Z" fill="#FFEE00"/><path d="M993.03,1216.84A182.4,182.4 0 0 1 993.39,1239.98L974.02,1239.06A163.0,163.0 0 0 0 973.69,1218.38Z" fill="#FFFFE5"/><path d="M973.69,1218.38A163.0,163.0 0 0 1 974.02,1239.06L954.64,1238.13A143.6,143.6 0 0 0 954.35,1219.92Z" fill="#FFFFFF"/><path d="M1263.77,1195.32A454.0,454.0 0 0 1 1264.69,1252.90L1245.31,1251.98A434.6,434.6 0 0 0 1244.43,1196.86Z" fill="#9ACD32"/><path d="M1225.93,1251.06A415.2,415.2 0 0 1 1220.09,1303.40L1200.99,1300.03A395.8,395.8 0 0 0 1206.55,1250.13Z" fill="#B0B0FF"/><path d="M1206.55,1250.13A395.8,395.8 0 0 1 1200.99,1300.03L1181.88,1296.66A376.40000000000003,376.40000000000003 0 0 0 1187.17,1249.21Z" fill="#9A9AFF"/><path d="M1187.17,1249.21A376.4,376.4 0 0 1 1181.88,1296.66L1162.78,1293.29A357.0,357.0 0 0 0 1167.80,1248.29Z" fill="#9A9AFF"/><path d="M1167.80,1248.29A357.0,357.0 0 0 1 1162.78,1293.29L1143.67,1289.92A337.6,337.6 0 0 0 1148.42,1247.36Z" fill="#C8C8FF"/><path d="M1148.42,1247.36A337.6,337.6 0 0 1 1143.67,1289.92L1124.57,1286.55A318.20000000000005,318.20000000000005 0 0 0 1129.04,1246.44Z" fill="#C0C0FF"/><path d="M1109.66,1245.52A298.8,298.8 0 0 1 1105.46,1283.19L1086.36,1279.82A279.4,279.4 0 0 0 1090.28,1244.59Z" fill="#FF9090"/><path d="M1090.28,1244.59A279.4,279.4 0 0 1 1086.36,1279.82L1067.25,1276.45A260.0,260.0 0 0 0 1070.91,1243.67Z" fill="#FF9090"/><path d="M1051.53,1242.75A240.6,240.6 0 0 1 1048.14,1273.08L1029.04,1269.71A221.2,221.2 0 0 0 1032.15,1241.83Z" fill="#FFFFFF"/><path d="M1032.15,1241.83A221.2,221.2 0 0 1 1029.04,1269.71L1009.93,1266.34A201.79999999999998,201.79999999999998 0 0 0 1012.77,1240.90Z" fill="#FFFFFF"/><path d="M1012.77,1240.90A201.8,201.8 0 0 1 1009.93,1266.34L990.83,1262.97A182.4,182.4 0 0 0 993.39,1239.98Z" fill="#FFFFE0"/><path d="M993.39,1239.98A182.4,182.4 0 0 1 990.83,1262.97L971.72,1259.60A163.0,163.0 0 0 0 974.02,1239.06Z" fill="#FFFFFF"/><path d="M974.02,1239.06A163.0,163.0 0 0 1 971.72,1259.60L952.62,1256.24A143.6,143.6 0 0 0 954.64,1238.13Z" fill="#FFFFFF"/><path d="M1264.69,1252.90A454.0,454.0 0 0 1 1258.30,1310.14L1239.20,1306.77A434.6,434.6 0 0 0 1245.31,1251.98Z" fill="#0000FF"/><path d="M1220.09,1303.40A415.2,415.2 0 0 1 1207.68,1354.58L1189.15,1348.82A395.8,395.8 0 0 0 1200.99,1300.03Z" fill="#B0B0FF"/><path d="M1200.99,1300.03A395.8,395.8 0 0 1 1189.15,1348.82L1170.63,1343.06A376.40000000000003,376.40000000000003 0 0 0 1181.88,1296.66Z" fill="#D8D8FF"/><path d="M1181.88,1296.66A376.4,376.4 0 0 1 1170.63,1343.06L1152.10,1337.30A357.0,357.0 0 0 0 1162.78,1293.29Z" fill="#DADAFF"/><path d="M1162.78,1293.29A357.0,357.0 0 0 1 1152.10,1337.30L1133.57,1331.54A337.6,337.6 0 0 0 1143.67,1289.92Z" fill="#E0E0FF"/><path d="M1143.67,1289.92A337.6,337.6 0 0 1 1133.57,1331.54L1115.05,1325.78A318.20000000000005,318.20000000000005 0 0 0 1124.57,1286.55Z" fill="#D8D8FF"/><path d="M1105.46,1283.19A298.8,298.8 0 0 1 1096.52,1320.02L1078.00,1314.26A279.4,279.4 0 0 0 1086.36,1279.82Z" fill="#FFBBBB"/><path d="M1086.36,1279.82A279.4,279.4 0 0 1 1078.00,1314.26L1059.47,1308.50A260.0,260.0 0 0 0 1067.25,1276.45Z" fill="#FF9999"/><path d="M1048.14,1273.08A240.6,240.6 0 0 1 1040.95,1302.74L1022.42,1296.98A221.2,221.2 0 0 0 1029.04,1269.71Z" fill="#FF8800"/><path d="M1029.04,1269.71A221.2,221.2 0 0 1 1022.42,1296.98L1003.90,1291.22A201.79999999999998,201.79999999999998 0 0 0 1009.93,1266.34Z" fill="#FFFF90"/><path d="M1009.93,1266.34A201.8,201.8 0 0 1 1003.90,1291.22L985.37,1285.46A182.4,182.4 0 0 0 990.83,1262.97Z" fill="#FFFFFF"/><path d="M990.83,1262.97A182.4,182.4 0 0 1 985.37,1285.46L966.85,1279.70A163.0,163.0 0 0 0 971.72,1259.60Z" fill="#FFFFFF"/><path d="M971.72,1259.60A163.0,163.0 0 0 1 966.85,1279.70L948.32,1273.94A143.6,143.6 0 0 0 952.62,1256.24Z" fill="#FFFFFF"/><path d="M1258.30,1310.14A454.0,454.0 0 0 1 1244.73,1366.10L1226.20,1360.34A434.6,434.6 0 0 0 1239.20,1306.77Z" fill="#556B2F"/><path d="M1207.68,1354.58A415.2,415.2 0 0 1 1188.88,1403.78L1171.23,1395.72A395.8,395.8 0 0 0 1189.15,1348.82Z" fill="#D0D0FF"/><path d="M1189.15,1348.82A395.8,395.8 0 0 1 1171.23,1395.72L1153.59,1387.66A376.40000000000003,376.40000000000003 0 0 0 1170.63,1343.06Z" fill="#DDDDFF"/><path d="M1170.63,1343.06A376.4,376.4 0 0 1 1153.59,1387.66L1135.94,1379.60A357.0,357.0 0 0 0 1152.10,1337.30Z" fill="#E3E3FF"/><path d="M1152.10,1337.30A357.0,357.0 0 0 1 1135.94,1379.60L1118.29,1371.54A337.6,337.6 0 0 0 1133.57,1331.54Z" fill="#FCFCFF"/><path d="M1133.57,1331.54A337.6,337.6 0 0 1 1118.29,1371.54L1100.64,1363.49A318.20000000000005,318.20000000000005 0 0 0 1115.05,1325.78Z" fill="#D8D8FF"/><path d="M1096.52,1320.02A298.8,298.8 0 0 1 1083.00,1355.43L1065.35,1347.37A279.4,279.4 0 0 0 1078.00,1314.26Z" fill="#FFD5D5"/><path d="M1078.00,1314.26A279.4,279.4 0 0 1 1065.35,1347.37L1047.70,1339.31A260.0,260.0 0 0 0 1059.47,1308.50Z" fill="#FFC0C0"/><path d="M1040.95,1302.74A240.6,240.6 0 0 1 1030.06,1331.25L1012.41,1323.19A221.2,221.2 0 0 0 1022.42,1296.98Z" fill="#FFFFFF"/><path d="M1022.42,1296.98A221.2,221.2 0 0 1 1012.41,1323.19L994.76,1315.13A201.79999999999998,201.79999999999998 0 0 0 1003.90,1291.22Z" fill="#FFFFFF"/><path d="M1003.90,1291.22A201.8,201.8 0 0 1 994.76,1315.13L977.12,1307.07A182.4,182.4 0 0 0 985.37,1285.46Z" fill="#FFFFFF"/><path d="M985.37,1285.46A182.4,182.4 0 0 1 977.12,1307.07L959.47,1299.01A163.0,163.0 0 0 0 966.85,1279.70Z" fill="#FFFFFF"/><path d="M966.85,1279.70A163.0,163.0 0 0 1 959.47,1299.01L941.82,1290.95A143.6,143.6 0 0 0 948.32,1273.94Z" fill="#FFFFFF"/><path d="M1244.73,1366.10A454.0,454.0 0 0 1 1224.17,1419.90L1206.53,1411.84A434.6,434.6 0 0 0 1226.20,1360.34Z" fill="#EE82EE"/><path d="M1188.88,1403.78A415.2,415.2 0 0 1 1164.01,1450.20L1147.52,1439.98A395.8,395.8 0 0 0 1171.23,1395.72Z" fill="#FFF5F5"/><path d="M1171.23,1395.72A395.8,395.8 0 0 1 1147.52,1439.98L1131.04,1429.75A376.40000000000003,376.40000000000003 0 0 0 1153.59,1387.66Z" fill="#FFE0E0"/><path d="M1153.59,1387.66A376.4,376.4 0 0 1 1131.04,1429.75L1114.55,1419.52A357.0,357.0 0 0 0 1135.94,1379.60Z" fill="#FFE0E0"/><path d="M1135.94,1379.60A357.0,357.0 0 0 1 1114.55,1419.52L1098.07,1409.29A337.6,337.6 0 0 0 1118.29,1371.54Z" fill="#FFE8E8"/><path d="M1118.29,1371.54A337.6,337.6 0 0 1 1098.07,1409.29L1081.58,1399.06A318.20000000000005,318.20000000000005 0 0 0 1100.64,1363.49Z" fill="#FFF8F8"/><path d="M1083.00,1355.43A298.8,298.8 0 0 1 1065.10,1388.83L1048.61,1378.61A279.4,279.4 0 0 0 1065.35,1347.37Z" fill="#E5E5FF"/><path d="M1065.35,1347.37A279.4,279.4 0 0 1 1048.61,1378.61L1032.13,1368.38A260.0,260.0 0 0 0 1047.70,1339.31Z" fill="#E8E8FF"/><path d="M1030.06,1331.25A240.6,240.6 0 0 1 1015.64,1358.15L999.16,1347.92A221.2,221.2 0 0 0 1012.41,1323.19Z" fill="#FFCC00"/><path d="M1012.41,1323.19A221.2,221.2 0 0 1 999.16,1347.92L982.67,1337.69A201.79999999999998,201.79999999999998 0 0 0 994.76,1315.13Z" fill="#FFFFF0"/><path d="M994.76,1315.13A201.8,201.8 0 0 1 982.67,1337.69L966.19,1327.47A182.4,182.4 0 0 0 977.12,1307.07Z" fill="#FFFFFF"/><path d="M977.12,1307.07A182.4,182.4 0 0 1 966.19,1327.47L949.71,1317.24A163.0,163.0 0 0 0 959.47,1299.01Z" fill="#FFFFFF"/><path d="M959.47,1299.01A163.0,163.0 0 0 1 949.71,1317.24L933.22,1307.01A143.6,143.6 0 0 0 941.82,1290.95Z" fill="#FFFFC0"/><path d="M1224.17,1419.90A454.0,454.0 0 0 1 1196.98,1470.66L1180.49,1460.43A434.6,434.6 0 0 0 1206.53,1411.84Z" fill="#AFEEEE"/><path d="M1164.01,1450.20A415.2,415.2 0 0 1 1133.46,1493.11L1118.40,1480.87A395.8,395.8 0 0 0 1147.52,1439.98Z" fill="#FFAAAA"/><path d="M1147.52,1439.98A395.8,395.8 0 0 1 1118.40,1480.87L1103.34,1468.64A376.40000000000003,376.40000000000003 0 0 0 1131.04,1429.75Z" fill="#FFDDDD"/><path d="M1131.04,1429.75A376.4,376.4 0 0 1 1103.34,1468.64L1088.28,1456.41A357.0,357.0 0 0 0 1114.55,1419.52Z" fill="#FFE5E5"/><path d="M1114.55,1419.52A357.0,357.0 0 0 1 1088.28,1456.41L1073.23,1444.17A337.6,337.6 0 0 0 1098.07,1409.29Z" fill="#FFCCCC"/><path d="M1098.07,1409.29A337.6,337.6 0 0 1 1073.23,1444.17L1058.17,1431.94A318.20000000000005,318.20000000000005 0 0 0 1081.58,1399.06Z" fill="#FFE5E5"/><path d="M1065.10,1388.83A298.8,298.8 0 0 1 1043.11,1419.71L1028.06,1407.48A279.4,279.4 0 0 0 1048.61,1378.61Z" fill="#B8B8FF"/><path d="M1048.61,1378.61A279.4,279.4 0 0 1 1028.06,1407.48L1013.00,1395.24A260.0,260.0 0 0 0 1032.13,1368.38Z" fill="#8A8AFF"/><path d="M1015.64,1358.15A240.6,240.6 0 0 1 997.94,1383.01L982.88,1370.78A221.2,221.2 0 0 0 999.16,1347.92Z" fill="#000000"/><path d="M999.16,1347.92A221.2,221.2 0 0 1 982.88,1370.78L967.83,1358.55A201.79999999999998,201.79999999999998 0 0 0 982.67,1337.69Z" fill="#FFFFD0"/><path d="M982.67,1337.69A201.8,201.8 0 0 1 967.83,1358.55L952.77,1346.31A182.4,182.4 0 0 0 966.19,1327.47Z" fill="#FFFFF8"/><path d="M966.19,1327.47A182.4,182.4 0 0 1 952.77,1346.31L937.71,1334.08A163.0,163.0 0 0 0 949.71,1317.24Z" fill="#FFFFFF"/><path d="M949.71,1317.24A163.0,163.0 0 0 1 937.71,1334.08L922.65,1321.85A143.6,143.6 0 0 0 933.22,1307.01Z" fill="#FFFFFF"/><path d="M1196.98,1470.66A454.0,454.0 0 0 1 1163.57,1517.57L1148.51,1505.34A434.6,434.6 0 0 0 1180.49,1460.43Z" fill="#191970"/><path d="M1133.46,1493.11A415.2,415.2 0 0 1 1097.72,1531.79L1084.33,1517.75A395.8,395.8 0 0 0 1118.40,1480.87Z" fill="#FF8080"/><path d="M1118.40,1480.87A395.8,395.8 0 0 1 1084.33,1517.75L1070.95,1503.71A376.40000000000003,376.40000000000003 0 0 0 1103.34,1468.64Z" fill="#FF9898"/><path d="M1103.34,1468.64A376.4,376.4 0 0 1 1070.95,1503.71L1057.56,1489.67A357.0,357.0 0 0 0 1088.28,1456.41Z" fill="#FFA8A8"/><path d="M1088.28,1456.41A357.0,357.0 0 0 1 1057.56,1489.67L1044.17,1475.63A337.6,337.6 0 0 0 1073.23,1444.17Z" fill="#FFC5C5"/><path d="M1073.23,1444.17A337.6,337.6 0 0 1 1044.17,1475.63L1030.78,1461.59A318.20000000000005,318.20000000000005 0 0 0 1058.17,1431.94Z" fill="#FFC8C8"/><path d="M1043.11,1419.71A298.8,298.8 0 0 1 1017.40,1447.55L1004.01,1433.51A279.4,279.4 0 0 0 1028.06,1407.48Z" fill="#8A8AFF"/><path d="M1028.06,1407.48A279.4,279.4 0 0 1 1004.01,1433.51L990.62,1419.47A260.0,260.0 0 0 0 1013.00,1395.24Z" fill="#7070FF"/><path d="M997.94,1383.01A240.6,240.6 0 0 1 977.23,1405.43L963.85,1391.39A221.2,221.2 0 0 0 982.88,1370.78Z" fill="#FFFFFF"/><path d="M982.88,1370.78A221.2,221.2 0 0 1 963.85,1391.39L950.46,1377.35A201.79999999999998,201.79999999999998 0 0 0 967.83,1358.55Z" fill="#FFFFFF"/><path d="M967.83,1358.55A201.8,201.8 0 0 1 950.46,1377.35L937.07,1363.31A182.4,182.4 0 0 0 952.77,1346.31Z" fill="#FFFFE0"/><path d="M952.77,1346.31A182.4,182.4 0 0 1 937.07,1363.31L923.68,1349.27A163.0,163.0 0 0 0 937.71,1334.08Z" fill="#FFFFFF"/><path d="M937.71,1334.08A163.0,163.0 0 0 1 923.68,1349.27L910.30,1335.23A143.6,143.6 0 0 0 922.65,1321.85Z" fill="#FFFFFF"/><path d="M1163.57,1517.57A454.0,454.0 0 0 1 1124.50,1559.88L1111.11,1545.83A434.6,434.6 0 0 0 1148.51,1505.34Z" fill="#000000"/><path d="M1097.72,1531.79A415.2,415.2 0 0 1 1057.38,1565.65L1045.87,1550.03A395.8,395.8 0 0 0 1084.33,1517.75Z" fill="#FFCCCC"/><path d="M1084.33,1517.75A395.8,395.8 0 0 1 1045.87,1550.03L1034.37,1534.40A376.40000000000003,376.40000000000003 0 0 0 1070.95,1503.71Z" fill="#FFE8E8"/><path d="M1070.95,1503.71A376.4,376.4 0 0 1 1034.37,1534.40L1022.87,1518.78A357.0,357.0 0 0 0 1057.56,1489.67Z" fill="#FFF0F0"/><path d="M1057.56,1489.67A357.0,357.0 0 0 1 1022.87,1518.78L1011.37,1503.16A337.6,337.6 0 0 0 1044.17,1475.63Z" fill="#FFD0D0"/><path d="M1044.17,1475.63A337.6,337.6 0 0 1 1011.37,1503.16L999.86,1487.54A318.20000000000005,318.20000000000005 0 0 0 1030.78,1461.59Z" fill="#FFFEFE"/><path d="M1017.40,1447.55A298.8,298.8 0 0 1 988.36,1471.91L976.86,1456.29A279.4,279.4 0 0 0 1004.01,1433.51Z" fill="#D5D5FF"/><path d="M1004.01,1433.51A279.4,279.4 0 0 1 976.86,1456.29L965.36,1440.67A260.0,260.0 0 0 0 990.62,1419.47Z" fill="#B0B0FF"/><path d="M977.23,1405.43A240.6,240.6 0 0 1 953.85,1425.05L942.35,1409.43A221.2,221.2 0 0 0 963.85,1391.39Z" fill="#FFFF10"/><path d="M963.85,1391.39A221.2,221.2 0 0 1 942.35,1409.43L930.85,1393.80A201.79999999999998,201.79999999999998 0 0 0 950.46,1377.35Z" fill="#FFFFFF"/><path d="M950.46,1377.35A201.8,201.8 0 0 1 930.85,1393.80L919.35,1378.18A182.4,182.4 0 0 0 937.07,1363.31Z" fill="#FFFFFF"/><path d="M937.07,1363.31A182.4,182.4 0 0 1 919.35,1378.18L907.84,1362.56A163.0,163.0 0 0 0 923.68,1349.27Z" fill="#FFFFE8"/><path d="M923.68,1349.27A163.0,163.0 0 0 1 907.84,1362.56L896.34,1346.94A143.6,143.6 0 0 0 910.30,1335.23Z" fill="#FFFFFF"/><path d="M1124.50,1559.88A454.0,454.0 0 0 1 1080.38,1596.89L1068.88,1581.27A434.6,434.6 0 0 0 1111.11,1545.83Z" fill="#FFFFE0"/><path d="M1057.38,1565.65A415.2,415.2 0 0 1 1013.07,1594.12L1003.64,1577.17A395.8,395.8 0 0 0 1045.87,1550.03Z" fill="#FFA0A0"/><path d="M1045.87,1550.03A395.8,395.8 0 0 1 1003.64,1577.17L994.20,1560.22A376.40000000000003,376.40000000000003 0 0 0 1034.37,1534.40Z" fill="#FFA8A8"/><path d="M1034.37,1534.40A376.4,376.4 0 0 1 994.20,1560.22L984.77,1543.26A357.0,357.0 0 0 0 1022.87,1518.78Z" fill="#FFA8A8"/><path d="M1022.87,1518.78A357.0,357.0 0 0 1 984.77,1543.26L975.34,1526.31A337.6,337.6 0 0 0 1011.37,1503.16Z" fill="#FFBBBB"/><path d="M1011.37,1503.16A337.6,337.6 0 0 1 975.34,1526.31L965.91,1509.36A318.20000000000005,318.20000000000005 0 0 0 999.86,1487.54Z" fill="#FFE0E0"/><path d="M988.36,1471.91A298.8,298.8 0 0 1 956.48,1492.41L947.04,1475.45A279.4,279.4 0 0 0 976.86,1456.29Z" fill="#A5A5FF"/><path d="M976.86,1456.29A279.4,279.4 0 0 1 947.04,1475.45L937.61,1458.50A260.0,260.0 0 0 0 965.36,1440.67Z" fill="#A8A8FF"/><path d="M953.85,1425.05A240.6,240.6 0 0 1 928.18,1441.55L918.75,1424.60A221.2,221.2 0 0 0 942.35,1409.43Z" fill="#FFFFD5"/><path d="M942.35,1409.43A221.2,221.2 0 0 1 918.75,1424.60L909.31,1407.64A201.79999999999998,201.79999999999998 0 0 0 930.85,1393.80Z" fill="#FFFFFF"/><path d="M930.85,1393.80A201.8,201.8 0 0 1 909.31,1407.64L899.88,1390.69A182.4,182.4 0 0 0 919.35,1378.18Z" fill="#FFFFFF"/><path d="M919.35,1378.18A182.4,182.4 0 0 1 899.88,1390.69L890.45,1373.74A163.0,163.0 0 0 0 907.84,1362.56Z" fill="#FFFFE8"/><path d="M907.84,1362.56A163.0,163.0 0 0 1 890.45,1373.74L881.02,1356.78A143.6,143.6 0 0 0 896.34,1346.94Z" fill="#FFFFFF"/><path d="M1080.38,1596.89A454.0,454.0 0 0 1 1031.93,1628.03L1022.50,1611.07A434.6,434.6 0 0 0 1068.88,1581.27Z" fill="#A9A9A9"/><path d="M1013.07,1594.12A415.2,415.2 0 0 1 965.51,1616.76L958.30,1598.75A395.8,395.8 0 0 0 1003.64,1577.17Z" fill="#FFFFFF"/><path d="M1003.64,1577.17A395.8,395.8 0 0 1 958.30,1598.75L951.09,1580.74A376.40000000000003,376.40000000000003 0 0 0 994.20,1560.22Z" fill="#D5D5FF"/><path d="M994.20,1560.22A376.4,376.4 0 0 1 951.09,1580.74L943.88,1562.73A357.0,357.0 0 0 0 984.77,1543.26Z" fill="#C8C8FF"/><path d="M984.77,1543.26A357.0,357.0 0 0 1 943.88,1562.73L936.67,1544.72A337.6,337.6 0 0 0 975.34,1526.31Z" fill="#FFF0F0"/><path d="M975.34,1526.31A337.6,337.6 0 0 1 936.67,1544.72L929.46,1526.71A318.20000000000005,318.20000000000005 0 0 0 965.91,1509.36Z" fill="#EAEAFF"/><path d="M956.48,1492.41A298.8,298.8 0 0 1 922.25,1508.70L915.04,1490.69A279.4,279.4 0 0 0 947.04,1475.45Z" fill="#FFF8F8"/><path d="M947.04,1475.45A279.4,279.4 0 0 1 915.04,1490.69L907.83,1472.68A260.0,260.0 0 0 0 937.61,1458.50Z" fill="#DCDCFF"/><path d="M928.18,1441.55A240.6,240.6 0 0 1 900.62,1454.67L893.41,1436.65A221.2,221.2 0 0 0 918.75,1424.60Z" fill="#000000"/><path d="M918.75,1424.60A221.2,221.2 0 0 1 893.41,1436.65L886.20,1418.64A201.79999999999998,201.79999999999998 0 0 0 909.31,1407.64Z" fill="#FFEE00"/><path d="M909.31,1407.64A201.8,201.8 0 0 1 886.20,1418.64L878.99,1400.63A182.4,182.4 0 0 0 899.88,1390.69Z" fill="#FFFFE5"/><path d="M899.88,1390.69A182.4,182.4 0 0 1 878.99,1400.63L871.78,1382.62A163.0,163.0 0 0 0 890.45,1373.74Z" fill="#FFFFE0"/><path d="M890.45,1373.74A163.0,163.0 0 0 1 871.78,1382.62L864.57,1364.61A143.6,143.6 0 0 0 881.02,1356.78Z" fill="#FFFFF5"/><path d="M1031.93,1628.03A454.0,454.0 0 0 1 979.93,1652.78L972.72,1634.77A434.6,434.6 0 0 0 1022.50,1611.07Z" fill="#FFFF00"/><path d="M965.51,1616.76A415.2,415.2 0 0 1 915.48,1633.19L910.60,1614.41A395.8,395.8 0 0 0 958.30,1598.75Z" fill="#B5B5FF"/><path d="M958.30,1598.75A395.8,395.8 0 0 1 910.60,1614.41L905.73,1595.64A376.40000000000003,376.40000000000003 0 0 0 951.09,1580.74Z" fill="#9090FF"/><path d="M951.09,1580.74A376.4,376.4 0 0 1 905.73,1595.64L900.86,1576.86A357.0,357.0 0 0 0 943.88,1562.73Z" fill="#9A9AFF"/><path d="M943.88,1562.73A357.0,357.0 0 0 1 900.86,1576.86L895.99,1558.08A337.6,337.6 0 0 0 936.67,1544.72Z" fill="#DCDCFF"/><path d="M936.67,1544.72A337.6,337.6 0 0 1 895.99,1558.08L891.12,1539.30A318.20000000000005,318.20000000000005 0 0 0 929.46,1526.71Z" fill="#D0D0FF"/><path d="M922.25,1508.70A298.8,298.8 0 0 1 886.24,1520.52L881.37,1501.74A279.4,279.4 0 0 0 915.04,1490.69Z" fill="#FFB5B5"/><path d="M915.04,1490.69A279.4,279.4 0 0 1 881.37,1501.74L876.50,1482.97A260.0,260.0 0 0 0 907.83,1472.68Z" fill="#FFC8C8"/><path d="M900.62,1454.67A240.6,240.6 0 0 1 871.63,1464.19L866.75,1445.41A221.2,221.2 0 0 0 893.41,1436.65Z" fill="#000000"/><path d="M893.41,1436.65A221.2,221.2 0 0 1 866.75,1445.41L861.88,1426.63A201.79999999999998,201.79999999999998 0 0 0 886.20,1418.64Z" fill="#FFFF70"/><path d="M886.20,1418.64A201.8,201.8 0 0 1 861.88,1426.63L857.01,1407.85A182.4,182.4 0 0 0 878.99,1400.63Z" fill="#FFFFFF"/><path d="M878.99,1400.63A182.4,182.4 0 0 1 857.01,1407.85L852.14,1389.08A163.0,163.0 0 0 0 871.78,1382.62Z" fill="#FFFFFF"/><path d="M871.78,1382.62A163.0,163.0 0 0 1 852.14,1389.08L847.26,1370.30A143.6,143.6 0 0 0 864.57,1364.61Z" fill="#FFFFFF"/><path d="M979.93,1652.78A454.0,454.0 0 0 1 925.22,1670.75L920.35,1651.97A434.6,434.6 0 0 0 972.72,1634.77Z" fill="#40E0D0"/><path d="M915.48,1633.19A415.2,415.2 0 0 1 863.76,1643.16L861.31,1623.92A395.8,395.8 0 0 0 910.60,1614.41Z" fill="#FFD0D0"/><path d="M910.60,1614.41A395.8,395.8 0 0 1 861.31,1623.92L858.85,1604.67A376.40000000000003,376.40000000000003 0 0 0 905.73,1595.64Z" fill="#FFE8E8"/><path d="M905.73,1595.64A376.4,376.4 0 0 1 858.85,1604.67L856.39,1585.43A357.0,357.0 0 0 0 900.86,1576.86Z" fill="#FFEEEE"/><path d="M900.86,1576.86A357.0,357.0 0 0 1 856.39,1585.43L853.94,1566.18A337.6,337.6 0 0 0 895.99,1558.08Z" fill="#FFDCDC"/><path d="M895.99,1558.08A337.6,337.6 0 0 1 853.94,1566.18L851.48,1546.94A318.20000000000005,318.20000000000005 0 0 0 891.12,1539.30Z" fill="#FFE8E8"/><path d="M886.24,1520.52A298.8,298.8 0 0 1 849.03,1527.70L846.57,1508.45A279.4,279.4 0 0 0 881.37,1501.74Z" fill="#C8C8FF"/><path d="M881.37,1501.74A279.4,279.4 0 0 1 846.57,1508.45L844.11,1489.21A260.0,260.0 0 0 0 876.50,1482.97Z" fill="#A5A5FF"/><path d="M871.63,1464.19A240.6,240.6 0 0 1 841.66,1469.96L839.20,1450.72A221.2,221.2 0 0 0 866.75,1445.41Z" fill="#FF8800"/><path d="M866.75,1445.41A221.2,221.2 0 0 1 839.20,1450.72L836.75,1431.48A201.79999999999998,201.79999999999998 0 0 0 861.88,1426.63Z" fill="#FFFF70"/><path d="M861.88,1426.63A201.8,201.8 0 0 1 836.75,1431.48L834.29,1412.23A182.4,182.4 0 0 0 857.01,1407.85Z" fill="#FFFFFF"/><path d="M857.01,1407.85A182.4,182.4 0 0 1 834.29,1412.23L831.83,1392.99A163.0,163.0 0 0 0 852.14,1389.08Z" fill="#FFFFFF"/><path d="M852.14,1389.08A163.0,163.0 0 0 1 831.83,1392.99L829.38,1373.74A143.6,143.6 0 0 0 847.26,1370.30Z" fill="#FFFFFF"/><path d="M925.22,1670.75A454.0,454.0 0 0 1 868.67,1681.65L866.22,1662.40A434.6,434.6 0 0 0 920.35,1651.97Z" fill="#00CED1"/><path d="M863.76,1643.16A415.2,415.2 0 0 1 811.20,1646.50L811.20,1627.10A395.8,395.8 0 0 0 861.31,1623.92Z" fill="#FFF5F5"/><path d="M861.31,1623.92A395.8,395.8 0 0 1 811.20,1627.10L811.20,1607.70A376.40000000000003,376.40000000000003 0 0 0 858.85,1604.67Z" fill="#FFF5F5"/><path d="M858.85,1604.67A376.4,376.4 0 0 1 811.20,1607.70L811.20,1588.30A357.0,357.0 0 0 0 856.39,1585.43Z" fill="#FFEEEE"/><path d="M856.39,1585.43A357.0,357.0 0 0 1 811.20,1588.30L811.20,1568.90A337.6,337.6 0 0 0 853.94,1566.18Z" fill="#FFFFFF"/><path d="M853.94,1566.18A337.6,337.6 0 0 1 811.20,1568.90L811.20,1549.50A318.20000000000005,318.20000000000005 0 0 0 851.48,1546.94Z" fill="#FFE5E5"/><path d="M849.03,1527.70A298.8,298.8 0 0 1 811.20,1530.10L811.20,1510.70A279.4,279.4 0 0 0 846.57,1508.45Z" fill="#DCDCFF"/><path d="M846.57,1508.45A279.4,279.4 0 0 1 811.20,1510.70L811.20,1491.30A260.0,260.0 0 0 0 844.11,1489.21Z" fill="#DCDCFF"/><path d="M841.66,1469.96A240.6,240.6 0 0 1 811.20,1471.90L811.20,1452.50A221.2,221.2 0 0 0 839.20,1450.72Z" fill="#FFFFFF"/><path d="M839.20,1450.72A221.2,221.2 0 0 1 811.20,1452.50L811.20,1433.10A201.79999999999998,201.79999999999998 0 0 0 836.75,1431.48Z" fill="#FFFFFF"/><path d="M836.75,1431.48A201.8,201.8 0 0 1 811.20,1433.10L811.20,1413.70A182.4,182.4 0 0 0 834.29,1412.23Z" fill="#000000"/><path d="M834.29,1412.23A182.4,182.4 0 0 1 811.20,1413.70L811.20,1394.30A163.0,163.0 0 0 0 831.83,1392.99Z" fill="#FFFFFF"/><path d="M831.83,1392.99A163.0,163.0 0 0 1 811.20,1394.30L811.20,1374.90A143.6,143.6 0 0 0 829.38,1373.74Z" fill="#FFFF70"/><path d="M868.67,1681.65A454.0,454.0 0 0 1 811.20,1685.30L811.20,1665.90A434.6,434.6 0 0 0 866.22,1662.40Z" fill="#D2B48C"/><path d="M811.20,1646.50A415.2,415.2 0 0 1 758.64,1643.16L761.09,1623.92A395.8,395.8 0 0 0 811.20,1627.10Z" fill="#FF8A8A"/><path d="M811.20,1627.10A395.8,395.8 0 0 1 761.09,1623.92L763.55,1604.67A376.40000000000003,376.40000000000003 0 0 0 811.20,1607.70Z" fill="#FF8A8A"/><path d="M811.20,1607.70A376.4,376.4 0 0 1 763.55,1604.67L766.01,1585.43A357.0,357.0 0 0 0 811.20,1588.30Z" fill="#FF8A8A"/><path d="M811.20,1588.30A357.0,357.0 0 0 1 766.01,1585.43L768.46,1566.18A337.6,337.6 0 0 0 811.20,1568.90Z" fill="#FFCACA"/><path d="M811.20,1568.90A337.6,337.6 0 0 1 768.46,1566.18L770.92,1546.94A318.20000000000005,318.20000000000005 0 0 0 811.20,1549.50Z" fill="#FFB0B0"/><path d="M811.20,1530.10A298.8,298.8 0 0 1 773.37,1527.70L775.83,1508.45A279.4,279.4 0 0 0 811.20,1510.70Z" fill="#8C8CFF"/><path d="M811.20,1510.70A279.4,279.4 0 0 1 775.83,1508.45L778.29,1489.21A260.0,260.0 0 0 0 811.20,1491.30Z" fill="#8C8CFF"/><path d="M811.20,1471.90A240.6,240.6 0 0 1 780.74,1469.96L783.20,1450.72A221.2,221.2 0 0 0 811.20,1452.50Z" fill="#FFFFFF"/><path d="M811.20,1452.50A221.2,221.2 0 0 1 783.20,1450.72L785.65,1431.48A201.79999999999998,201.79999999999998 0 0 0 811.20,1433.10Z" fill="#FFFF66"/><path d="M811.20,1433.10A201.8,201.8 0 0 1 785.65,1431.48L788.11,1412.23A182.4,182.4 0 0 0 811.20,1413.70Z" fill="#000000"/><path d="M811.20,1413.70A182.4,182.4 0 0 1 788.11,1412.23L790.57,1392.99A163.0,163.0 0 0 0 811.20,1394.30Z" fill="#000000"/><path d="M811.20,1394.30A163.0,163.0 0 0 1 790.57,1392.99L793.02,1373.74A143.6,143.6 0 0 0 811.20,1374.90Z" fill="#500000"/><path d="M811.20,1685.30A454.0,454.0 0 0 1 753.73,1681.65L756.18,1662.40A434.6,434.6 0 0 0 811.20,1665.90Z" fill="#ADFF2F"/><path d="M758.64,1643.16A415.2,415.2 0 0 1 706.92,1633.19L711.80,1614.41A395.8,395.8 0 0 0 761.09,1623.92Z" fill="#FF0000"/><path d="M761.09,1623.92A395.8,395.8 0 0 1 711.80,1614.41L716.67,1595.64A376.40000000000003,376.40000000000003 0 0 0 763.55,1604.67Z" fill="#FF1E1E"/><path d="M763.55,1604.67A376.4,376.4 0 0 1 716.67,1595.64L721.54,1576.86A357.0,357.0 0 0 0 766.01,1585.43Z" fill="#FF1E1E"/><path d="M766.01,1585.43A357.0,357.0 0 0 1 721.54,1576.86L726.41,1558.08A337.6,337.6 0 0 0 768.46,1566.18Z" fill="#FFB5B5"/><path d="M768.46,1566.18A337.6,337.6 0 0 1 726.41,1558.08L731.28,1539.30A318.20000000000005,318.20000000000005 0 0 0 770.92,1546.94Z" fill="#FFAAAA"/><path d="M773.37,1527.70A298.8,298.8 0 0 1 736.16,1520.52L741.03,1501.74A279.4,279.4 0 0 0 775.83,1508.45Z" fill="#7575FF"/><path d="M775.83,1508.45A279.4,279.4 0 0 1 741.03,1501.74L745.90,1482.97A260.0,260.0 0 0 0 778.29,1489.21Z" fill="#7575FF"/><path d="M780.74,1469.96A240.6,240.6 0 0 1 750.77,1464.19L755.65,1445.41A221.2,221.2 0 0 0 783.20,1450.72Z" fill="#FFFFFF"/><path d="M783.20,1450.72A221.2,221.2 0 0 1 755.65,1445.41L760.52,1426.63A201.79999999999998,201.79999999999998 0 0 0 785.65,1431.48Z" fill="#FFFF55"/><path d="M785.65,1431.48A201.8,201.8 0 0 1 760.52,1426.63L765.39,1407.85A182.4,182.4 0 0 0 788.11,1412.23Z" fill="#FFEE00"/><path d="M788.11,1412.23A182.4,182.4 0 0 1 765.39,1407.85L770.26,1389.08A163.0,163.0 0 0 0 790.57,1392.99Z" fill="#FFFF66"/><path d="M790.57,1392.99A163.0,163.0 0 0 1 770.26,1389.08L775.14,1370.30A143.6,143.6 0 0 0 793.02,1373.74Z" fill="#FFFF66"/><path d="M753.73,1681.65A454.0,454.0 0 0 1 697.18,1670.75L702.05,1651.97A434.6,434.6 0 0 0 756.18,1662.40Z" fill="#E0FFFF"/><path d="M706.92,1633.19A415.2,415.2 0 0 1 656.89,1616.76L664.10,1598.75A395.8,395.8 0 0 0 711.80,1614.41Z" fill="#FFAEAE"/><path d="M711.80,1614.41A395.8,395.8 0 0 1 664.10,1598.75L671.31,1580.74A376.40000000000003,376.40000000000003 0 0 0 716.67,1595.64Z" fill="#FFAAAA"/><path d="M716.67,1595.64A376.4,376.4 0 0 1 671.31,1580.74L678.52,1562.73A357.0,357.0 0 0 0 721.54,1576.86Z" fill="#FFAAAA"/><path d="M721.54,1576.86A357.0,357.0 0 0 1 678.52,1562.73L685.73,1544.72A337.6,337.6 0 0 0 726.41,1558.08Z" fill="#FFDADA"/><path d="M726.41,1558.08A337.6,337.6 0 0 1 685.73,1544.72L692.94,1526.71A318.20000000000005,318.20000000000005 0 0 0 731.28,1539.30Z" fill="#FFC8C8"/><path d="M736.16,1520.52A298.8,298.8 0 0 1 700.15,1508.70L707.36,1490.69A279.4,279.4 0 0 0 741.03,1501.74Z" fill="#9E9EFF"/><path d="M741.03,1501.74A279.4,279.4 0 0 1 707.36,1490.69L714.57,1472.68A260.0,260.0 0 0 0 745.90,1482.97Z" fill="#A0A0FF"/><path d="M750.77,1464.19A240.6,240.6 0 0 1 721.78,1454.67L728.99,1436.65A221.2,221.2 0 0 0 755.65,1445.41Z" fill="#FFFF66"/><path d="M755.65,1445.41A221.2,221.2 0 0 1 728.99,1436.65L736.20,1418.64A201.79999999999998,201.79999999999998 0 0 0 760.52,1426.63Z" fill="#FFFFFF"/><path d="M760.52,1426.63A201.8,201.8 0 0 1 736.20,1418.64L743.41,1400.63A182.4,182.4 0 0 0 765.39,1407.85Z" fill="#FFFFFF"/><path d="M765.39,1407.85A182.4,182.4 0 0 1 743.41,1400.63L750.62,1382.62A163.0,163.0 0 0 0 770.26,1389.08Z" fill="#FFFFFF"/><path d="M770.26,1389.08A163.0,163.0 0 0 1 750.62,1382.62L757.83,1364.61A143.6,143.6 0 0 0 775.14,1370.30Z" fill="#FFFFFF"/><path d="M697.18,1670.75A454.0,454.0 0 0 1 642.47,1652.78L649.68,1634.77A434.6,434.6 0 0 0 702.05,1651.97Z" fill="#4169E1"/><path d="M656.89,1616.76A415.2,415.2 0 0 1 609.33,1594.12L618.76,1577.17A395.8,395.8 0 0 0 664.10,1598.75Z" fill="#FFF5F5"/><path d="M664.10,1598.75A395.8,395.8 0 0 1 618.76,1577.17L628.20,1560.22A376.40000000000003,376.40000000000003 0 0 0 671.31,1580.74Z" fill="#FFC8C8"/><path d="M671.31,1580.74A376.4,376.4 0 0 1 628.20,1560.22L637.63,1543.26A357.0,357.0 0 0 0 678.52,1562.73Z" fill="#FFD0D0"/><path d="M678.52,1562.73A357.0,357.0 0 0 1 637.63,1543.26L647.06,1526.31A337.6,337.6 0 0 0 685.73,1544.72Z" fill="#FFFFFF"/><path d="M685.73,1544.72A337.6,337.6 0 0 1 647.06,1526.31L656.49,1509.36A318.20000000000005,318.20000000000005 0 0 0 692.94,1526.71Z" fill="#FFC8C8"/><path d="M700.15,1508.70A298.8,298.8 0 0 1 665.92,1492.41L675.36,1475.45A279.4,279.4 0 0 0 707.36,1490.69Z" fill="#CCCCFF"/><path d="M707.36,1490.69A279.4,279.4 0 0 1 675.36,1475.45L684.79,1458.50A260.0,260.0 0 0 0 714.57,1472.68Z" fill="#D0D0FF"/><path d="M721.78,1454.67A240.6,240.6 0 0 1 694.22,1441.55L703.65,1424.60A221.2,221.2 0 0 0 728.99,1436.65Z" fill="#FFFFFF"/><path d="M728.99,1436.65A221.2,221.2 0 0 1 703.65,1424.60L713.09,1407.64A201.79999999999998,201.79999999999998 0 0 0 736.20,1418.64Z" fill="#FFFFFF"/><path d="M736.20,1418.64A201.8,201.8 0 0 1 713.09,1407.64L722.52,1390.69A182.4,182.4 0 0 0 743.41,1400.63Z" fill="#FFFFFF"/><path d="M743.41,1400.63A182.4,182.4 0 0 1 722.52,1390.69L731.95,1373.74A163.0,163.0 0 0 0 750.62,1382.62Z" fill="#FFFFFF"/><path d="M750.62,1382.62A163.0,163.0 0 0 1 731.95,1373.74L741.38,1356.78A143.6,143.6 0 0 0 757.83,1364.61Z" fill="#FFFFFF"/><path d="M642.47,1652.78A454.0,454.0 0 0 1 590.47,1628.03L599.90,1611.07A434.6,434.6 0 0 0 649.68,1634.77Z" fill="#FA8072"/><path d="M609.33,1594.12A415.2,415.2 0 0 1 565.02,1565.65L576.53,1550.03A395.8,395.8 0 0 0 618.76,1577.17Z" fill="#E5E5FF"/><path d="M618.76,1577.17A395.8,395.8 0 0 1 576.53,1550.03L588.03,1534.40A376.40000000000003,376.40000000000003 0 0 0 628.20,1560.22Z" fill="#FFF0F0"/><path d="M628.20,1560.22A376.4,376.4 0 0 1 588.03,1534.40L599.53,1518.78A357.0,357.0 0 0 0 637.63,1543.26Z" fill="#FFE0E0"/><path d="M637.63,1543.26A357.0,357.0 0 0 1 599.53,1518.78L611.03,1503.16A337.6,337.6 0 0 0 647.06,1526.31Z" fill="#FFF3F3"/><path d="M647.06,1526.31A337.6,337.6 0 0 1 611.03,1503.16L622.54,1487.54A318.20000000000005,318.20000000000005 0 0 0 656.49,1509.36Z" fill="#FFE0E0"/><path d="M665.92,1492.41A298.8,298.8 0 0 1 634.04,1471.91L645.54,1456.29A279.4,279.4 0 0 0 675.36,1475.45Z" fill="#E0E0FF"/><path d="M675.36,1475.45A279.4,279.4 0 0 1 645.54,1456.29L657.04,1440.67A260.0,260.0 0 0 0 684.79,1458.50Z" fill="#F0F0FF"/><path d="M694.22,1441.55A240.6,240.6 0 0 1 668.55,1425.05L680.05,1409.43A221.2,221.2 0 0 0 703.65,1424.60Z" fill="#FFFFFF"/><path d="M703.65,1424.60A221.2,221.2 0 0 1 680.05,1409.43L691.55,1393.80A201.79999999999998,201.79999999999998 0 0 0 713.09,1407.64Z" fill="#FFFFFF"/><path d="M713.09,1407.64A201.8,201.8 0 0 1 691.55,1393.80L703.05,1378.18A182.4,182.4 0 0 0 722.52,1390.69Z" fill="#FFFFFF"/><path d="M722.52,1390.69A182.4,182.4 0 0 1 703.05,1378.18L714.56,1362.56A163.0,163.0 0 0 0 731.95,1373.74Z" fill="#FFFFFF"/><path d="M731.95,1373.74A163.0,163.0 0 0 1 714.56,1362.56L726.06,1346.94A143.6,143.6 0 0 0 741.38,1356.78Z" fill="#FFFFFF"/><path d="M590.47,1628.03A454.0,454.0 0 0 1 542.02,1596.89L553.52,1581.27A434.6,434.6 0 0 0 599.90,1611.07Z" fill="#90EE90"/><path d="M565.02,1565.65A415.2,415.2 0 0 1 524.68,1531.79L538.07,1517.75A395.8,395.8 0 0 0 576.53,1550.03Z" fill="#C8C8FF"/><path d="M576.53,1550.03A395.8,395.8 0 0 1 538.07,1517.75L551.45,1503.71A376.40000000000003,376.40000000000003 0 0 0 588.03,1534.40Z" fill="#E5E5FF"/><path d="M588.03,1534.40A376.4,376.4 0 0 1 551.45,1503.71L564.84,1489.67A357.0,357.0 0 0 0 599.53,1518.78Z" fill="#F8F8FF"/><path d="M599.53,1518.78A357.0,357.0 0 0 1 564.84,1489.67L578.23,1475.63A337.6,337.6 0 0 0 611.03,1503.16Z" fill="#F0F0FF"/><path d="M611.03,1503.16A337.6,337.6 0 0 1 578.23,1475.63L591.62,1461.59A318.20000000000005,318.20000000000005 0 0 0 622.54,1487.54Z" fill="#FCFCFF"/><path d="M634.04,1471.91A298.8,298.8 0 0 1 605.00,1447.55L618.39,1433.51A279.4,279.4 0 0 0 645.54,1456.29Z" fill="#FFF0F0"/><path d="M645.54,1456.29A279.4,279.4 0 0 1 618.39,1433.51L631.78,1419.47A260.0,260.0 0 0 0 657.04,1440.67Z" fill="#FFE5E5"/><path d="M668.55,1425.05A240.6,240.6 0 0 1 645.17,1405.43L658.55,1391.39A221.2,221.2 0 0 0 680.05,1409.43Z" fill="#FFFFFF"/><path d="M680.05,1409.43A221.2,221.2 0 0 1 658.55,1391.39L671.94,1377.35A201.79999999999998,201.79999999999998 0 0 0 691.55,1393.80Z" fill="#FFFFFF"/><path d="M691.55,1393.80A201.8,201.8 0 0 1 671.94,1377.35L685.33,1363.31A182.4,182.4 0 0 0 703.05,1378.18Z" fill="#FFFFFF"/><path d="M703.05,1378.18A182.4,182.4 0 0 1 685.33,1363.31L698.72,1349.27A163.0,163.0 0 0 0 714.56,1362.56Z" fill="#FFFFFF"/><path d="M714.56,1362.56A163.0,163.0 0 0 1 698.72,1349.27L712.10,1335.23A143.6,143.6 0 0 0 726.06,1346.94Z" fill="#FFFFF8"/><path d="M542.02,1596.89A454.0,454.0 0 0 1 497.90,1559.88L511.29,1545.83A434.6,434.6 0 0 0 553.52,1581.27Z" fill="#E0FFFF"/><path d="M524.68,1531.79A415.2,415.2 0 0 1 488.94,1493.11L504.00,1480.87A395.8,395.8 0 0 0 538.07,1517.75Z" fill="#FAFAFF"/><path d="M538.07,1517.75A395.8,395.8 0 0 1 504.00,1480.87L519.06,1468.64A376.40000000000003,376.40000000000003 0 0 0 551.45,1503.71Z" fill="#FFF0F0"/><path d="M551.45,1503.71A376.4,376.4 0 0 1 519.06,1468.64L534.12,1456.41A357.0,357.0 0 0 0 564.84,1489.67Z" fill="#FFF0F0"/><path d="M564.84,1489.67A357.0,357.0 0 0 1 534.12,1456.41L549.17,1444.17A337.6,337.6 0 0 0 578.23,1475.63Z" fill="#FBFBFF"/><path d="M578.23,1475.63A337.6,337.6 0 0 1 549.17,1444.17L564.23,1431.94A318.20000000000005,318.20000000000005 0 0 0 591.62,1461.59Z" fill="#FFEEEE"/><path d="M605.00,1447.55A298.8,298.8 0 0 1 579.29,1419.71L594.34,1407.48A279.4,279.4 0 0 0 618.39,1433.51Z" fill="#DCDCFF"/><path d="M618.39,1433.51A279.4,279.4 0 0 1 594.34,1407.48L609.40,1395.24A260.0,260.0 0 0 0 631.78,1419.47Z" fill="#F5F5FF"/><path d="M645.17,1405.43A240.6,240.6 0 0 1 624.46,1383.01L639.52,1370.78A221.2,221.2 0 0 0 658.55,1391.39Z" fill="#FFFFFF"/><path d="M658.55,1391.39A221.2,221.2 0 0 1 639.52,1370.78L654.57,1358.55A201.79999999999998,201.79999999999998 0 0 0 671.94,1377.35Z" fill="#FFFF66"/><path d="M671.94,1377.35A201.8,201.8 0 0 1 654.57,1358.55L669.63,1346.31A182.4,182.4 0 0 0 685.33,1363.31Z" fill="#FFFFD0"/><path d="M685.33,1363.31A182.4,182.4 0 0 1 669.63,1346.31L684.69,1334.08A163.0,163.0 0 0 0 698.72,1349.27Z" fill="#FFFFFF"/><path d="M698.72,1349.27A163.0,163.0 0 0 1 684.69,1334.08L699.75,1321.85A143.6,143.6 0 0 0 712.10,1335.23Z" fill="#000000"/><path d="M497.90,1559.88A454.0,454.0 0 0 1 458.83,1517.57L473.89,1505.34A434.6,434.6 0 0 0 511.29,1545.83Z" fill="#FFFFFF"/><path d="M488.94,1493.11A415.2,415.2 0 0 1 458.39,1450.20L474.88,1439.98A395.8,395.8 0 0 0 504.00,1480.87Z" fill="#FFC0C0"/><path d="M504.00,1480.87A395.8,395.8 0 0 1 474.88,1439.98L491.36,1429.75A376.40000000000003,376.40000000000003 0 0 0 519.06,1468.64Z" fill="#FFCCCC"/><path d="M519.06,1468.64A376.4,376.4 0 0 1 491.36,1429.75L507.85,1419.52A357.0,357.0 0 0 0 534.12,1456.41Z" fill="#FFCCCC"/><path d="M534.12,1456.41A357.0,357.0 0 0 1 507.85,1419.52L524.33,1409.29A337.6,337.6 0 0 0 549.17,1444.17Z" fill="#FFF8F8"/><path d="M549.17,1444.17A337.6,337.6 0 0 1 524.33,1409.29L540.82,1399.06A318.20000000000005,318.20000000000005 0 0 0 564.23,1431.94Z" fill="#FFD0D0"/><path d="M579.29,1419.71A298.8,298.8 0 0 1 557.30,1388.83L573.79,1378.61A279.4,279.4 0 0 0 594.34,1407.48Z" fill="#CFCFFF"/><path d="M594.34,1407.48A279.4,279.4 0 0 1 573.79,1378.61L590.27,1368.38A260.0,260.0 0 0 0 609.40,1395.24Z" fill="#E8E8FF"/><path d="M624.46,1383.01A240.6,240.6 0 0 1 606.76,1358.15L623.24,1347.92A221.2,221.2 0 0 0 639.52,1370.78Z" fill="#FFFFFF"/><path d="M639.52,1370.78A221.2,221.2 0 0 1 623.24,1347.92L639.73,1337.69A201.79999999999998,201.79999999999998 0 0 0 654.57,1358.55Z" fill="#FFFFFF"/><path d="M654.57,1358.55A201.8,201.8 0 0 1 639.73,1337.69L656.21,1327.47A182.4,182.4 0 0 0 669.63,1346.31Z" fill="#FFFFFF"/><path d="M669.63,1346.31A182.4,182.4 0 0 1 656.21,1327.47L672.69,1317.24A163.0,163.0 0 0 0 684.69,1334.08Z" fill="#000000"/><path d="M684.69,1334.08A163.0,163.0 0 0 1 672.69,1317.24L689.18,1307.01A143.6,143.6 0 0 0 699.75,1321.85Z" fill="#FF5500"/><path d="M458.83,1517.57A454.0,454.0 0 0 1 425.42,1470.66L441.91,1460.43A434.6,434.6 0 0 0 473.89,1505.34Z" fill="#8B0000"/><path d="M458.39,1450.20A415.2,415.2 0 0 1 433.52,1403.78L451.17,1395.72A395.8,395.8 0 0 0 474.88,1439.98Z" fill="#FFDCDC"/><path d="M474.88,1439.98A395.8,395.8 0 0 1 451.17,1395.72L468.81,1387.66A376.40000000000003,376.40000000000003 0 0 0 491.36,1429.75Z" fill="#FFC0C0"/><path d="M491.36,1429.75A376.4,376.4 0 0 1 468.81,1387.66L486.46,1379.60A357.0,357.0 0 0 0 507.85,1419.52Z" fill="#FFCCCC"/><path d="M507.85,1419.52A357.0,357.0 0 0 1 486.46,1379.60L504.11,1371.54A337.6,337.6 0 0 0 524.33,1409.29Z" fill="#FFEAEA"/><path d="M524.33,1409.29A337.6,337.6 0 0 1 504.11,1371.54L521.76,1363.49A318.20000000000005,318.20000000000005 0 0 0 540.82,1399.06Z" fill="#FFD0D0"/><path d="M557.30,1388.83A298.8,298.8 0 0 1 539.40,1355.43L557.05,1347.37A279.4,279.4 0 0 0 573.79,1378.61Z" fill="#BBBBFF"/><path d="M573.79,1378.61A279.4,279.4 0 0 1 557.05,1347.37L574.70,1339.31A260.0,260.0 0 0 0 590.27,1368.38Z" fill="#C5C5FF"/><path d="M606.76,1358.15A240.6,240.6 0 0 1 592.34,1331.25L609.99,1323.19A221.2,221.2 0 0 0 623.24,1347.92Z" fill="#FFFFFF"/><path d="M623.24,1347.92A221.2,221.2 0 0 1 609.99,1323.19L627.64,1315.13A201.79999999999998,201.79999999999998 0 0 0 639.73,1337.69Z" fill="#000000"/><path d="M639.73,1337.69A201.8,201.8 0 0 1 627.64,1315.13L645.28,1307.07A182.4,182.4 0 0 0 656.21,1327.47Z" fill="#FFFFF5"/><path d="M656.21,1327.47A182.4,182.4 0 0 1 645.28,1307.07L662.93,1299.01A163.0,163.0 0 0 0 672.69,1317.24Z" fill="#FFFF55"/><path d="M672.69,1317.24A163.0,163.0 0 0 1 662.93,1299.01L680.58,1290.95A143.6,143.6 0 0 0 689.18,1307.01Z" fill="#FFFFFF"/><path d="M425.42,1470.66A454.0,454.0 0 0 1 398.23,1419.90L415.87,1411.84A434.6,434.6 0 0 0 441.91,1460.43Z" fill="#A52A2A"/><path d="M433.52,1403.78A415.2,415.2 0 0 1 414.72,1354.58L433.25,1348.82A395.8,395.8 0 0 0 451.17,1395.72Z" fill="#FFF5F5"/><path d="M451.17,1395.72A395.8,395.8 0 0 1 433.25,1348.82L451.77,1343.06A376.40000000000003,376.40000000000003 0 0 0 468.81,1387.66Z" fill="#FFF0F0"/><path d="M468.81,1387.66A376.4,376.4 0 0 1 451.77,1343.06L470.30,1337.30A357.0,357.0 0 0 0 486.46,1379.60Z" fill="#FFFFFF"/><path d="M486.46,1379.60A357.0,357.0 0 0 1 470.30,1337.30L488.83,1331.54A337.6,337.6 0 0 0 504.11,1371.54Z" fill="#F8F8FF"/><path d="M504.11,1371.54A337.6,337.6 0 0 1 488.83,1331.54L507.35,1325.78A318.20000000000005,318.20000000000005 0 0 0 521.76,1363.49Z" fill="#FFFCFC"/><path d="M539.40,1355.43A298.8,298.8 0 0 1 525.88,1320.02L544.40,1314.26A279.4,279.4 0 0 0 557.05,1347.37Z" fill="#E5E5FF"/><path d="M557.05,1347.37A279.4,279.4 0 0 1 544.40,1314.26L562.93,1308.50A260.0,260.0 0 0 0 574.70,1339.31Z" fill="#DDDDFF"/><path d="M592.34,1331.25A240.6,240.6 0 0 1 581.45,1302.74L599.98,1296.98A221.2,221.2 0 0 0 609.99,1323.19Z" fill="#FFFFFF"/><path d="M609.99,1323.19A221.2,221.2 0 0 1 599.98,1296.98L618.50,1291.22A201.79999999999998,201.79999999999998 0 0 0 627.64,1315.13Z" fill="#FFFFFF"/><path d="M627.64,1315.13A201.8,201.8 0 0 1 618.50,1291.22L637.03,1285.46A182.4,182.4 0 0 0 645.28,1307.07Z" fill="#FFFFFF"/><path d="M645.28,1307.07A182.4,182.4 0 0 1 637.03,1285.46L655.55,1279.70A163.0,163.0 0 0 0 662.93,1299.01Z" fill="#FFFFFF"/><path d="M662.93,1299.01A163.0,163.0 0 0 1 655.55,1279.70L674.08,1273.94A143.6,143.6 0 0 0 680.58,1290.95Z" fill="#FFFFFF"/><path d="M398.23,1419.90A454.0,454.0 0 0 1 377.67,1366.10L396.20,1360.34A434.6,434.6 0 0 0 415.87,1411.84Z" fill="#8968CD"/><path d="M414.72,1354.58A415.2,415.2 0 0 1 402.31,1303.40L421.41,1300.03A395.8,395.8 0 0 0 433.25,1348.82Z" fill="#FFE8E8"/><path d="M433.25,1348.82A395.8,395.8 0 0 1 421.41,1300.03L440.52,1296.66A376.40000000000003,376.40000000000003 0 0 0 451.77,1343.06Z" fill="#FFD0D0"/><path d="M451.77,1343.06A376.4,376.4 0 0 1 440.52,1296.66L459.62,1293.29A357.0,357.0 0 0 0 470.30,1337.30Z" fill="#FFD0D0"/><path d="M470.30,1337.30A357.0,357.0 0 0 1 459.62,1293.29L478.73,1289.92A337.6,337.6 0 0 0 488.83,1331.54Z" fill="#FAFAFF"/><path d="M488.83,1331.54A337.6,337.6 0 0 1 478.73,1289.92L497.83,1286.55A318.20000000000005,318.20000000000005 0 0 0 507.35,1325.78Z" fill="#F0F0FF"/><path d="M525.88,1320.02A298.8,298.8 0 0 1 516.94,1283.19L536.04,1279.82A279.4,279.4 0 0 0 544.40,1314.26Z" fill="#D8D8FF"/><path d="M544.40,1314.26A279.4,279.4 0 0 1 536.04,1279.82L555.15,1276.45A260.0,260.0 0 0 0 562.93,1308.50Z" fill="#F8F8FF"/><path d="M581.45,1302.74A240.6,240.6 0 0 1 574.26,1273.08L593.36,1269.71A221.2,221.2 0 0 0 599.98,1296.98Z" fill="#FFFFFF"/><path d="M599.98,1296.98A221.2,221.2 0 0 1 593.36,1269.71L612.47,1266.34A201.79999999999998,201.79999999999998 0 0 0 618.50,1291.22Z" fill="#FFFF70"/><path d="M618.50,1291.22A201.8,201.8 0 0 1 612.47,1266.34L631.57,1262.97A182.4,182.4 0 0 0 637.03,1285.46Z" fill="#FFFFFF"/><path d="M637.03,1285.46A182.4,182.4 0 0 1 631.57,1262.97L650.68,1259.60A163.0,163.0 0 0 0 655.55,1279.70Z" fill="#FFFFE0"/><path d="M655.55,1279.70A163.0,163.0 0 0 1 650.68,1259.60L669.78,1256.24A143.6,143.6 0 0 0 674.08,1273.94Z" fill="#FFFF40"/><path d="M377.67,1366.10A454.0,454.0 0 0 1 364.10,1310.14L383.20,1306.77A434.6,434.6 0 0 0 396.20,1360.34Z" fill="#FF8C00"/><path d="M402.31,1303.40A415.2,415.2 0 0 1 396.47,1251.06L415.85,1250.13A395.8,395.8 0 0 0 421.41,1300.03Z" fill="#E8E8FF"/><path d="M421.41,1300.03A395.8,395.8 0 0 1 415.85,1250.13L435.23,1249.21A376.40000000000003,376.40000000000003 0 0 0 440.52,1296.66Z" fill="#FFF5F5"/><path d="M440.52,1296.66A376.4,376.4 0 0 1 435.23,1249.21L454.60,1248.29A357.0,357.0 0 0 0 459.62,1293.29Z" fill="#FFF5F5"/><path d="M459.62,1293.29A357.0,357.0 0 0 1 454.60,1248.29L473.98,1247.36A337.6,337.6 0 0 0 478.73,1289.92Z" fill="#FFE5E5"/><path d="M478.73,1289.92A337.6,337.6 0 0 1 473.98,1247.36L493.36,1246.44A318.20000000000005,318.20000000000005 0 0 0 497.83,1286.55Z" fill="#F8F8FF"/><path d="M516.94,1283.19A298.8,298.8 0 0 1 512.74,1245.52L532.12,1244.59A279.4,279.4 0 0 0 536.04,1279.82Z" fill="#E8E8FF"/><path d="M536.04,1279.82A279.4,279.4 0 0 1 532.12,1244.59L551.49,1243.67A260.0,260.0 0 0 0 555.15,1276.45Z" fill="#DDDDFF"/><path d="M574.26,1273.08A240.6,240.6 0 0 1 570.87,1242.75L590.25,1241.83A221.2,221.2 0 0 0 593.36,1269.71Z" fill="#FFFFEE"/><path d="M593.36,1269.71A221.2,221.2 0 0 1 590.25,1241.83L609.63,1240.90A201.79999999999998,201.79999999999998 0 0 0 612.47,1266.34Z" fill="#FFFFFF"/><path d="M612.47,1266.34A201.8,201.8 0 0 1 609.63,1240.90L629.01,1239.98A182.4,182.4 0 0 0 631.57,1262.97Z" fill="#FFFFFF"/><path d="M631.57,1262.97A182.4,182.4 0 0 1 629.01,1239.98L648.38,1239.06A163.0,163.0 0 0 0 650.68,1259.60Z" fill="#FFFF40"/><path d="M650.68,1259.60A163.0,163.0 0 0 1 648.38,1239.06L667.76,1238.13A143.6,143.6 0 0 0 669.78,1256.24Z" fill="#FFFFFF"/><path d="M364.10,1310.14A454.0,454.0 0 0 1 357.71,1252.90L377.09,1251.98A434.6,434.6 0 0 0 383.20,1306.77Z" fill="#CAE1FF"/><path d="M396.47,1251.06A415.2,415.2 0 0 1 397.31,1198.40L416.64,1199.93A395.8,395.8 0 0 0 415.85,1250.13Z" fill="#9999FF"/><path d="M415.85,1250.13A395.8,395.8 0 0 1 416.64,1199.93L435.98,1201.47A376.40000000000003,376.40000000000003 0 0 0 435.23,1249.21Z" fill="#B0B0FF"/><path d="M435.23,1249.21A376.4,376.4 0 0 1 435.98,1201.47L455.32,1203.01A357.0,357.0 0 0 0 454.60,1248.29Z" fill="#A0A0FF"/><path d="M454.60,1248.29A357.0,357.0 0 0 1 455.32,1203.01L474.66,1204.55A337.6,337.6 0 0 0 473.98,1247.36Z" fill="#C0C0FF"/><path d="M473.98,1247.36A337.6,337.6 0 0 1 474.66,1204.55L494.00,1206.08A318.20000000000005,318.20000000000005 0 0 0 493.36,1246.44Z" fill="#D0D0FF"/><path d="M512.74,1245.52A298.8,298.8 0 0 1 513.34,1207.62L532.68,1209.16A279.4,279.4 0 0 0 532.12,1244.59Z" fill="#FFA0A0"/><path d="M532.12,1244.59A279.4,279.4 0 0 1 532.68,1209.16L552.02,1210.70A260.0,260.0 0 0 0 551.49,1243.67Z" fill="#FFA0A0"/><path d="M570.87,1242.75A240.6,240.6 0 0 1 571.36,1212.23L590.70,1213.77A221.2,221.2 0 0 0 590.25,1241.83Z" fill="#FFFFFF"/><path d="M590.25,1241.83A221.2,221.2 0 0 1 590.70,1213.77L610.03,1215.31A201.79999999999998,201.79999999999998 0 0 0 609.63,1240.90Z" fill="#FFFFFF"/><path d="M609.63,1240.90A201.8,201.8 0 0 1 610.03,1215.31L629.37,1216.84A182.4,182.4 0 0 0 629.01,1239.98Z" fill="#FFFFFF"/><path d="M629.01,1239.98A182.4,182.4 0 0 1 629.37,1216.84L648.71,1218.38A163.0,163.0 0 0 0 648.38,1239.06Z" fill="#FFFFFF"/><path d="M648.38,1239.06A163.0,163.0 0 0 1 648.71,1218.38L668.05,1219.92A143.6,143.6 0 0 0 667.76,1238.13Z" fill="#FFFFFF"/><path d="M357.71,1252.90A454.0,454.0 0 0 1 358.63,1195.32L377.97,1196.86A434.6,434.6 0 0 0 377.09,1251.98Z" fill="#8B4513"/><path d="M397.31,1198.40A415.2,415.2 0 0 1 404.80,1146.26L423.79,1150.24A395.8,395.8 0 0 0 416.64,1199.93Z" fill="#B0B0FF"/><path d="M416.64,1199.93A395.8,395.8 0 0 1 423.79,1150.24L442.78,1154.21A376.40000000000003,376.40000000000003 0 0 0 435.98,1201.47Z" fill="#D8D8FF"/><path d="M435.98,1201.47A376.4,376.4 0 0 1 442.78,1154.21L461.77,1158.18A357.0,357.0 0 0 0 455.32,1203.01Z" fill="#D8D8FF"/><path d="M455.32,1203.01A357.0,357.0 0 0 1 461.77,1158.18L480.76,1162.16A337.6,337.6 0 0 0 474.66,1204.55Z" fill="#CCCCFF"/><path d="M474.66,1204.55A337.6,337.6 0 0 1 480.76,1162.16L499.75,1166.13A318.20000000000005,318.20000000000005 0 0 0 494.00,1206.08Z" fill="#F0F0FF"/><path d="M513.34,1207.62A298.8,298.8 0 0 1 518.73,1170.10L537.72,1174.08A279.4,279.4 0 0 0 532.68,1209.16Z" fill="#FFC0C0"/><path d="M532.68,1209.16A279.4,279.4 0 0 1 537.72,1174.08L556.71,1178.05A260.0,260.0 0 0 0 552.02,1210.70Z" fill="#FFA5A5"/><path d="M571.36,1212.23A240.6,240.6 0 0 1 575.70,1182.02L594.69,1186.00A221.2,221.2 0 0 0 590.70,1213.77Z" fill="#FFFFFF"/><path d="M590.70,1213.77A221.2,221.2 0 0 1 594.69,1186.00L613.68,1189.97A201.79999999999998,201.79999999999998 0 0 0 610.03,1215.31Z" fill="#FFFFFF"/><path d="M610.03,1215.31A201.8,201.8 0 0 1 613.68,1189.97L632.67,1193.94A182.4,182.4 0 0 0 629.37,1216.84Z" fill="#FFFFFF"/><path d="M629.37,1216.84A182.4,182.4 0 0 1 632.67,1193.94L651.66,1197.92A163.0,163.0 0 0 0 648.71,1218.38Z" fill="#FFFFFF"/><path d="M648.71,1218.38A163.0,163.0 0 0 1 651.66,1197.92L670.64,1201.89A143.6,143.6 0 0 0 668.05,1219.92Z" fill="#FFAA00"/><path d="M358.63,1195.32A454.0,454.0 0 0 1 366.82,1138.32L385.81,1142.29A434.6,434.6 0 0 0 377.97,1196.86Z" fill="#87CEEB"/><path d="M404.80,1146.26A415.2,415.2 0 0 1 418.84,1095.50L437.17,1101.85A395.8,395.8 0 0 0 423.79,1150.24Z" fill="#CCCCFF"/><path d="M423.79,1150.24A395.8,395.8 0 0 1 437.17,1101.85L455.50,1108.19A376.40000000000003,376.40000000000003 0 0 0 442.78,1154.21Z" fill="#CCCCFF"/><path d="M442.78,1154.21A376.4,376.4 0 0 1 455.50,1108.19L473.83,1114.54A357.0,357.0 0 0 0 461.77,1158.18Z" fill="#CCCCFF"/><path d="M461.77,1158.18A357.0,357.0 0 0 1 473.83,1114.54L492.17,1120.88A337.6,337.6 0 0 0 480.76,1162.16Z" fill="#D5D5FF"/><path d="M480.76,1162.16A337.6,337.6 0 0 1 492.17,1120.88L510.50,1127.23A318.20000000000005,318.20000000000005 0 0 0 499.75,1166.13Z" fill="#F5F5FF"/><path d="M518.73,1170.10A298.8,298.8 0 0 1 528.83,1133.57L547.17,1139.92A279.4,279.4 0 0 0 537.72,1174.08Z" fill="#FFA5A5"/><path d="M537.72,1174.08A279.4,279.4 0 0 1 547.17,1139.92L565.50,1146.26A260.0,260.0 0 0 0 556.71,1178.05Z" fill="#FFA0A0"/><path d="M575.70,1182.02A240.6,240.6 0 0 1 583.83,1152.61L602.17,1158.95A221.2,221.2 0 0 0 594.69,1186.00Z" fill="#FFFFFF"/><path d="M594.69,1186.00A221.2,221.2 0 0 1 602.17,1158.95L620.50,1165.30A201.79999999999998,201.79999999999998 0 0 0 613.68,1189.97Z" fill="#FFFFFF"/><path d="M613.68,1189.97A201.8,201.8 0 0 1 620.50,1165.30L638.83,1171.64A182.4,182.4 0 0 0 632.67,1193.94Z" fill="#FFFFFF"/><path d="M632.67,1193.94A182.4,182.4 0 0 1 638.83,1171.64L657.16,1177.99A163.0,163.0 0 0 0 651.66,1197.92Z" fill="#FFFFFF"/><path d="M651.66,1197.92A163.0,163.0 0 0 1 657.16,1177.99L675.50,1184.33A143.6,143.6 0 0 0 670.64,1201.89Z" fill="#FF4400"/><path d="M366.82,1138.32A454.0,454.0 0 0 1 382.17,1082.81L400.50,1089.16A434.6,434.6 0 0 0 385.81,1142.29Z" fill="#FFFAF0"/><path d="M418.84,1095.50A415.2,415.2 0 0 1 439.18,1046.92L456.57,1055.54A395.8,395.8 0 0 0 437.17,1101.85Z" fill="#8080FF"/><path d="M437.17,1101.85A395.8,395.8 0 0 1 456.57,1055.54L473.95,1064.15A376.40000000000003,376.40000000000003 0 0 0 455.50,1108.19Z" fill="#8E8EFF"/><path d="M455.50,1108.19A376.4,376.4 0 0 1 473.95,1064.15L491.33,1072.77A357.0,357.0 0 0 0 473.83,1114.54Z" fill="#9A9AFF"/><path d="M473.83,1114.54A357.0,357.0 0 0 1 491.33,1072.77L508.71,1081.38A337.6,337.6 0 0 0 492.17,1120.88Z" fill="#C0C0FF"/><path d="M492.17,1120.88A337.6,337.6 0 0 1 508.71,1081.38L526.09,1090.00A318.20000000000005,318.20000000000005 0 0 0 510.50,1127.23Z" fill="#C0C0FF"/><path d="M528.83,1133.57A298.8,298.8 0 0 1 543.48,1098.61L560.86,1107.23A279.4,279.4 0 0 0 547.17,1139.92Z" fill="#FF8A8A"/><path d="M547.17,1139.92A279.4,279.4 0 0 1 560.86,1107.23L578.24,1115.84A260.0,260.0 0 0 0 565.50,1146.26Z" fill="#FF9090"/><path d="M583.83,1152.61A240.6,240.6 0 0 1 595.62,1124.46L613.01,1133.07A221.2,221.2 0 0 0 602.17,1158.95Z" fill="#550000"/><path d="M602.17,1158.95A221.2,221.2 0 0 1 613.01,1133.07L630.39,1141.69A201.79999999999998,201.79999999999998 0 0 0 620.50,1165.30Z" fill="#FFFFFF"/><path d="M620.50,1165.30A201.8,201.8 0 0 1 630.39,1141.69L647.77,1150.30A182.4,182.4 0 0 0 638.83,1171.64Z" fill="#FFFFFF"/><path d="M638.83,1171.64A182.4,182.4 0 0 1 647.77,1150.30L665.15,1158.92A163.0,163.0 0 0 0 657.16,1177.99Z" fill="#FFFFFF"/><path d="M657.16,1177.99A163.0,163.0 0 0 1 665.15,1158.92L682.54,1167.53A143.6,143.6 0 0 0 675.50,1184.33Z" fill="#FFFFFF"/><path d="M382.17,1082.81A454.0,454.0 0 0 1 404.42,1029.69L421.80,1038.31A434.6,434.6 0 0 0 400.50,1089.16Z" fill="#A020F0"/><path d="M439.18,1046.92A415.2,415.2 0 0 1 465.52,1001.31L481.67,1012.06A395.8,395.8 0 0 0 456.57,1055.54Z" fill="#8C8CFF"/><path d="M456.57,1055.54A395.8,395.8 0 0 1 481.67,1012.06L497.82,1022.80A376.40000000000003,376.40000000000003 0 0 0 473.95,1064.15Z" fill="#7878FF"/><path d="M473.95,1064.15A376.4,376.4 0 0 1 497.82,1022.80L513.97,1033.55A357.0,357.0 0 0 0 491.33,1072.77Z" fill="#8080FF"/><path d="M491.33,1072.77A357.0,357.0 0 0 1 513.97,1033.55L530.12,1044.30A337.6,337.6 0 0 0 508.71,1081.38Z" fill="#C0C0FF"/><path d="M508.71,1081.38A337.6,337.6 0 0 1 530.12,1044.30L546.28,1055.04A318.20000000000005,318.20000000000005 0 0 0 526.09,1090.00Z" fill="#C8C8FF"/><path d="M543.48,1098.61A298.8,298.8 0 0 1 562.43,1065.79L578.58,1076.53A279.4,279.4 0 0 0 560.86,1107.23Z" fill="#FF8888"/><path d="M560.86,1107.23A279.4,279.4 0 0 1 578.58,1076.53L594.73,1087.28A260.0,260.0 0 0 0 578.24,1115.84Z" fill="#FF8888"/><path d="M595.62,1124.46A240.6,240.6 0 0 1 610.88,1098.03L627.04,1108.77A221.2,221.2 0 0 0 613.01,1133.07Z" fill="#000000"/><path d="M613.01,1133.07A221.2,221.2 0 0 1 627.04,1108.77L643.19,1119.52A201.79999999999998,201.79999999999998 0 0 0 630.39,1141.69Z" fill="#FFEE00"/><path d="M630.39,1141.69A201.8,201.8 0 0 1 643.19,1119.52L659.34,1130.26A182.4,182.4 0 0 0 647.77,1150.30Z" fill="#FFFFFF"/><path d="M647.77,1150.30A182.4,182.4 0 0 1 659.34,1130.26L675.49,1141.01A163.0,163.0 0 0 0 665.15,1158.92Z" fill="#FFFFFF"/><path d="M665.15,1158.92A163.0,163.0 0 0 1 675.49,1141.01L691.64,1151.76A143.6,143.6 0 0 0 682.54,1167.53Z" fill="#FFFF70"/><path d="M404.42,1029.69A454.0,454.0 0 0 1 433.21,979.82L449.37,990.57A434.6,434.6 0 0 0 421.80,1038.31Z" fill="#00FF00"/><path d="M465.52,1001.31A415.2,415.2 0 0 1 497.41,959.40L512.07,972.11A395.8,395.8 0 0 0 481.67,1012.06Z" fill="#AAAAFF"/><path d="M481.67,1012.06A395.8,395.8 0 0 1 512.07,972.11L526.74,984.81A376.40000000000003,376.40000000000003 0 0 0 497.82,1022.80Z" fill="#A0A0FF"/><path d="M497.82,1022.80A376.4,376.4 0 0 1 526.74,984.81L541.40,997.51A357.0,357.0 0 0 0 513.97,1033.55Z" fill="#A8A8FF"/><path d="M513.97,1033.55A357.0,357.0 0 0 1 541.40,997.51L556.06,1010.22A337.6,337.6 0 0 0 530.12,1044.30Z" fill="#D8D8FF"/><path d="M530.12,1044.30A337.6,337.6 0 0 1 556.06,1010.22L570.72,1022.92A318.20000000000005,318.20000000000005 0 0 0 546.28,1055.04Z" fill="#D0D0FF"/><path d="M562.43,1065.79A298.8,298.8 0 0 1 585.38,1035.63L600.04,1048.33A279.4,279.4 0 0 0 578.58,1076.53Z" fill="#FFB8B8"/><path d="M578.58,1076.53A279.4,279.4 0 0 1 600.04,1048.33L614.71,1061.04A260.0,260.0 0 0 0 594.73,1087.28Z" fill="#FFB0B0"/><path d="M610.88,1098.03A240.6,240.6 0 0 1 629.37,1073.74L644.03,1086.44A221.2,221.2 0 0 0 627.04,1108.77Z" fill="#FFEE00"/><path d="M627.04,1108.77A221.2,221.2 0 0 1 644.03,1086.44L658.69,1099.15A201.79999999999998,201.79999999999998 0 0 0 643.19,1119.52Z" fill="#FFFFFF"/><path d="M643.19,1119.52A201.8,201.8 0 0 1 658.69,1099.15L673.35,1111.85A182.4,182.4 0 0 0 659.34,1130.26Z" fill="#FFFF80"/><path d="M659.34,1130.26A182.4,182.4 0 0 1 673.35,1111.85L688.01,1124.56A163.0,163.0 0 0 0 675.49,1141.01Z" fill="#FFFFFF"/><path d="M675.49,1141.01A163.0,163.0 0 0 1 688.01,1124.56L702.67,1137.26A143.6,143.6 0 0 0 691.64,1151.76Z" fill="#FFFFFF"/><path d="M433.21,979.82A454.0,454.0 0 0 1 468.09,933.99L482.75,946.70A434.6,434.6 0 0 0 449.37,990.57Z" fill="#006400"/><path d="M497.41,959.40A415.2,415.2 0 0 1 534.36,921.87L547.29,936.32A395.8,395.8 0 0 0 512.07,972.11Z" fill="#E5E5FF"/><path d="M512.07,972.11A395.8,395.8 0 0 1 547.29,936.32L560.23,950.78A376.40000000000003,376.40000000000003 0 0 0 526.74,984.81Z" fill="#FFF8F8"/><path d="M526.74,984.81A376.4,376.4 0 0 1 560.23,950.78L573.16,965.24A357.0,357.0 0 0 0 541.40,997.51Z" fill="#FFF0F0"/><path d="M541.40,997.51A357.0,357.0 0 0 1 573.16,965.24L586.10,979.70A337.6,337.6 0 0 0 556.06,1010.22Z" fill="#EEEEFF"/><path d="M556.06,1010.22A337.6,337.6 0 0 1 586.10,979.70L599.03,994.16A318.20000000000005,318.20000000000005 0 0 0 570.72,1022.92Z" fill="#FFFDFD"/><path d="M585.38,1035.63A298.8,298.8 0 0 1 611.97,1008.61L624.90,1023.07A279.4,279.4 0 0 0 600.04,1048.33Z" fill="#FFFFFF"/><path d="M600.04,1048.33A279.4,279.4 0 0 1 624.90,1023.07L637.84,1037.53A260.0,260.0 0 0 0 614.71,1061.04Z" fill="#FFF0F0"/><path d="M629.37,1073.74A240.6,240.6 0 0 1 650.78,1051.99L663.71,1066.45A221.2,221.2 0 0 0 644.03,1086.44Z" fill="#FFFFFF"/><path d="M644.03,1086.44A221.2,221.2 0 0 1 663.71,1066.45L676.65,1080.91A201.79999999999998,201.79999999999998 0 0 0 658.69,1099.15Z" fill="#FFFFFF"/><path d="M658.69,1099.15A201.8,201.8 0 0 1 676.65,1080.91L689.58,1095.36A182.4,182.4 0 0 0 673.35,1111.85Z" fill="#FFFFFF"/><path d="M673.35,1111.85A182.4,182.4 0 0 1 689.58,1095.36L702.52,1109.82A163.0,163.0 0 0 0 688.01,1124.56Z" fill="#FFFFFF"/><path d="M688.01,1124.56A163.0,163.0 0 0 1 702.52,1109.82L715.45,1124.28A143.6,143.6 0 0 0 702.67,1137.26Z" fill="#FFFFFF"/><path d="M468.09,933.99A454.0,454.0 0 0 1 508.49,892.95L521.42,907.41A434.6,434.6 0 0 0 482.75,946.70Z" fill="#CD6839"/><path d="M534.36,921.87A415.2,415.2 0 0 1 575.76,889.31L586.76,905.29A395.8,395.8 0 0 0 547.29,936.32Z" fill="#B5B5FF"/><path d="M547.29,936.32A395.8,395.8 0 0 1 586.76,905.29L597.76,921.27A376.40000000000003,376.40000000000003 0 0 0 560.23,950.78Z" fill="#D5D5FF"/><path d="M560.23,950.78A376.4,376.4 0 0 1 597.76,921.27L608.76,937.25A357.0,357.0 0 0 0 573.16,965.24Z" fill="#DADAFF"/><path d="M573.16,965.24A357.0,357.0 0 0 1 608.76,937.25L619.76,953.23A337.6,337.6 0 0 0 586.10,979.70Z" fill="#D0D0FF"/><path d="M586.10,979.70A337.6,337.6 0 0 1 619.76,953.23L630.76,969.21A318.20000000000005,318.20000000000005 0 0 0 599.03,994.16Z" fill="#E8E8FF"/><path d="M611.97,1008.61A298.8,298.8 0 0 1 641.76,985.19L652.76,1001.16A279.4,279.4 0 0 0 624.90,1023.07Z" fill="#FFC8C8"/><path d="M624.90,1023.07A279.4,279.4 0 0 1 652.76,1001.16L663.76,1017.14A260.0,260.0 0 0 0 637.84,1037.53Z" fill="#FFB3B3"/><path d="M650.78,1051.99A240.6,240.6 0 0 1 674.77,1033.12L685.77,1049.10A221.2,221.2 0 0 0 663.71,1066.45Z" fill="#FFFFFF"/><path d="M663.71,1066.45A221.2,221.2 0 0 1 685.77,1049.10L696.77,1065.08A201.79999999999998,201.79999999999998 0 0 0 676.65,1080.91Z" fill="#FFFFC8"/><path d="M676.65,1080.91A201.8,201.8 0 0 1 696.77,1065.08L707.77,1081.06A182.4,182.4 0 0 0 689.58,1095.36Z" fill="#FFFFFF"/><path d="M689.58,1095.36A182.4,182.4 0 0 1 707.77,1081.06L718.77,1097.04A163.0,163.0 0 0 0 702.52,1109.82Z" fill="#FFFFFF"/><path d="M702.52,1109.82A163.0,163.0 0 0 1 718.77,1097.04L729.77,1113.02A143.6,143.6 0 0 0 715.45,1124.28Z" fill="#FFFFFF"/><path d="M508.49,892.95A454.0,454.0 0 0 1 553.75,857.35L564.76,873.33A434.6,434.6 0 0 0 521.42,907.41Z" fill="#FF00FF"/><path d="M575.76,889.31A415.2,415.2 0 0 1 620.94,862.26L629.83,879.50A395.8,395.8 0 0 0 586.76,905.29Z" fill="#FFEEEE"/><path d="M586.76,905.29A395.8,395.8 0 0 1 629.83,879.50L638.72,896.74A376.40000000000003,376.40000000000003 0 0 0 597.76,921.27Z" fill="#FFC0C0"/><path d="M597.76,921.27A376.4,376.4 0 0 1 638.72,896.74L647.61,913.99A357.0,357.0 0 0 0 608.76,937.25Z" fill="#FFC0C0"/><path d="M608.76,937.25A357.0,357.0 0 0 1 647.61,913.99L656.50,931.23A337.6,337.6 0 0 0 619.76,953.23Z" fill="#FFFFFF"/><path d="M619.76,953.23A337.6,337.6 0 0 1 656.50,931.23L665.39,948.47A318.20000000000005,318.20000000000005 0 0 0 630.76,969.21Z" fill="#FFE5E5"/><path d="M641.76,985.19A298.8,298.8 0 0 1 674.28,965.72L683.17,982.96A279.4,279.4 0 0 0 652.76,1001.16Z" fill="#D8D8FF"/><path d="M652.76,1001.16A279.4,279.4 0 0 1 683.17,982.96L692.06,1000.20A260.0,260.0 0 0 0 663.76,1017.14Z" fill="#F0F0FF"/><path d="M674.77,1033.12A240.6,240.6 0 0 1 700.95,1017.45L709.84,1034.69A221.2,221.2 0 0 0 685.77,1049.10Z" fill="#FFFFFF"/><path d="M685.77,1049.10A221.2,221.2 0 0 1 709.84,1034.69L718.73,1051.93A201.79999999999998,201.79999999999998 0 0 0 696.77,1065.08Z" fill="#FFFFFF"/><path d="M696.77,1065.08A201.8,201.8 0 0 1 718.73,1051.93L727.62,1069.18A182.4,182.4 0 0 0 707.77,1081.06Z" fill="#FFFF40"/><path d="M707.77,1081.06A182.4,182.4 0 0 1 727.62,1069.18L736.51,1086.42A163.0,163.0 0 0 0 718.77,1097.04Z" fill="#FFFF20"/><path d="M718.77,1097.04A163.0,163.0 0 0 1 736.51,1086.42L745.40,1103.66A143.6,143.6 0 0 0 729.77,1113.02Z" fill="#FFFFF8"/><path d="M553.75,857.35A454.0,454.0 0 0 1 603.17,827.77L612.05,845.01A434.6,434.6 0 0 0 564.76,873.33Z" fill="#999999"/><path d="M620.94,862.26A415.2,415.2 0 0 1 669.19,841.14L675.83,859.37A395.8,395.8 0 0 0 629.83,879.50Z" fill="#BBBBFF"/><path d="M629.83,879.50A395.8,395.8 0 0 1 675.83,859.37L682.46,877.60A376.40000000000003,376.40000000000003 0 0 0 638.72,896.74Z" fill="#C8C8FF"/><path d="M638.72,896.74A376.4,376.4 0 0 1 682.46,877.60L689.10,895.83A357.0,357.0 0 0 0 647.61,913.99Z" fill="#D0D0FF"/><path d="M647.61,913.99A357.0,357.0 0 0 1 689.10,895.83L695.73,914.06A337.6,337.6 0 0 0 656.50,931.23Z" fill="#E5E5FF"/><path d="M656.50,931.23A337.6,337.6 0 0 1 695.73,914.06L702.37,932.29A318.20000000000005,318.20000000000005 0 0 0 665.39,948.47Z" fill="#DCDCFF"/><path d="M674.28,965.72A298.8,298.8 0 0 1 709.00,950.52L715.64,968.75A279.4,279.4 0 0 0 683.17,982.96Z" fill="#FFBBBB"/><path d="M683.17,982.96A279.4,279.4 0 0 1 715.64,968.75L722.27,986.98A260.0,260.0 0 0 0 692.06,1000.20Z" fill="#FF9E9E"/><path d="M700.95,1017.45A240.6,240.6 0 0 1 728.91,1005.21L735.55,1023.44A221.2,221.2 0 0 0 709.84,1034.69Z" fill="#FFFFFF"/><path d="M709.84,1034.69A221.2,221.2 0 0 1 735.55,1023.44L742.18,1041.67A201.79999999999998,201.79999999999998 0 0 0 718.73,1051.93Z" fill="#FFFFFF"/><path d="M718.73,1051.93A201.8,201.8 0 0 1 742.18,1041.67L748.82,1059.90A182.4,182.4 0 0 0 727.62,1069.18Z" fill="#FFFFC8"/><path d="M727.62,1069.18A182.4,182.4 0 0 1 748.82,1059.90L755.45,1078.13A163.0,163.0 0 0 0 736.51,1086.42Z" fill="#FFFFFF"/><path d="M736.51,1086.42A163.0,163.0 0 0 1 755.45,1078.13L762.09,1096.36A143.6,143.6 0 0 0 745.40,1103.66Z" fill="#FFFFFF"/><path d="M603.17,827.77A454.0,454.0 0 0 1 655.92,804.68L662.56,822.91A434.6,434.6 0 0 0 612.05,845.01Z" fill="#FF0000"/></g>
<text x="997.8" y="804.9" font-size="18.3" text-anchor="start" dy="3.4" transform="rotate(-66.36 997.8 804.9)">M37</text>
<text x="1050.3" y="831.9" font-size="18.3" text-anchor="start" dy="3.4" transform="rotate(-59.09 1050.3 831.9)">M30</text>
<text x="1099.0" y="865.4" font-size="18.3" text-anchor="start" dy="3.4" transform="rotate(-51.82 1099.0 865.4)">M34</text>
<text x="1143.0" y="904.8" font-size="18.3" text-anchor="start" dy="3.4" transform="rotate(-44.55 1143.0 904.8)">M8</text>
<text x="1181.6" y="949.4" font-size="18.3" text-anchor="start" dy="3.4" transform="rotate(-37.27 1181.6 949.4)">M25</text>
<text x="1214.3" y="998.5" font-size="18.3" text-anchor="start" dy="3.4" transform="rotate(-30.00 1214.3 998.5)">M14</text>
<text x="1240.6" y="1051.5" font-size="18.3" text-anchor="start" dy="3.4" transform="rotate(-22.73 1240.6 1051.5)">M43</text>
<text x="1259.9" y="1107.3" font-size="18.3" text-anchor="start" dy="3.4" transform="rotate(-15.45 1259.9 1107.3)">M39</text>
<text x="1272.0" y="1165.1" font-size="18.3" text-anchor="start" dy="3.4" transform="rotate(-8.18 1272.0 1165.1)">M38</text>
<text x="1276.6" y="1223.9" font-size="18.3" text-anchor="start" dy="3.4" transform="rotate(-0.91 1276.6 1223.9)">M36</text>
<text x="1273.8" y="1282.9" font-size="18.3" text-anchor="start" dy="3.4" transform="rotate(6.36 1273.8 1282.9)">M2</text>
<text x="1263.6" y="1341.0" font-size="18.3" text-anchor="start" dy="3.4" transform="rotate(13.64 1263.6 1341.0)">M33</text>
<text x="1246.0" y="1397.4" font-size="18.3" text-anchor="start" dy="3.4" transform="rotate(20.91 1246.0 1397.4)">M32</text>
<text x="1221.5" y="1451.1" font-size="18.3" text-anchor="start" dy="3.4" transform="rotate(28.18 1221.5 1451.1)">M31</text>
<text x="1190.4" y="1501.3" font-size="18.3" text-anchor="start" dy="3.4" transform="rotate(35.45 1190.4 1501.3)">M15</text>
<text x="1153.2" y="1547.1" font-size="18.3" text-anchor="start" dy="3.4" transform="rotate(42.73 1153.2 1547.1)">M7</text>
<text x="1110.4" y="1587.9" font-size="18.3" text-anchor="start" dy="3.4" transform="rotate(50.00 1110.4 1587.9)">M19</text>
<text x="1062.9" y="1622.9" font-size="18.3" text-anchor="start" dy="3.4" transform="rotate(57.27 1062.9 1622.9)">M24</text>
<text x="1011.3" y="1651.6" font-size="18.3" text-anchor="start" dy="3.4" transform="rotate(64.55 1011.3 1651.6)">M4</text>
<text x="956.5" y="1673.6" font-size="18.3" text-anchor="start" dy="3.4" transform="rotate(71.82 956.5 1673.6)">M1</text>
<text x="899.3" y="1688.4" font-size="18.3" text-anchor="start" dy="3.4" transform="rotate(79.09 899.3 1688.4)">M23</text>
<text x="840.7" y="1695.9" font-size="18.3" text-anchor="start" dy="3.4" transform="rotate(86.36 840.7 1695.9)">M12</text>
<text x="781.7" y="1695.9" font-size="18.3" text-anchor="end" dy="3.4" transform="rotate(-86.36 781.7 1695.9)">M11</text>
<text x="723.1" y="1688.4" font-size="18.3" text-anchor="end" dy="3.4" transform="rotate(-79.09 723.1 1688.4)">M42</text>
<text x="665.9" y="1673.6" font-size="18.3" text-anchor="end" dy="3.4" transform="rotate(-71.82 665.9 1673.6)">M20</text>
<text x="611.1" y="1651.6" font-size="18.3" text-anchor="end" dy="3.4" transform="rotate(-64.55 611.1 1651.6)">M13</text>
<text x="559.5" y="1622.9" font-size="18.3" text-anchor="end" dy="3.4" transform="rotate(-57.27 559.5 1622.9)">M18</text>
<text x="512.0" y="1587.9" font-size="18.3" text-anchor="end" dy="3.4" transform="rotate(-50.00 512.0 1587.9)">M16</text>
<text x="469.2" y="1547.1" font-size="18.3" text-anchor="end" dy="3.4" transform="rotate(-42.73 469.2 1547.1)">M27</text>
<text x="432.0" y="1501.3" font-size="18.3" text-anchor="end" dy="3.4" transform="rotate(-35.45 432.0 1501.3)">M21</text>
<text x="400.9" y="1451.1" font-size="18.3" text-anchor="end" dy="3.4" transform="rotate(-28.18 400.9 1451.1)">M3</text>
<text x="376.4" y="1397.4" font-size="18.3" text-anchor="end" dy="3.4" transform="rotate(-20.91 376.4 1397.4)">M40</text>
<text x="358.8" y="1341.0" font-size="18.3" text-anchor="end" dy="3.4" transform="rotate(-13.64 358.8 1341.0)">M26</text>
<text x="348.6" y="1282.9" font-size="18.3" text-anchor="end" dy="3.4" transform="rotate(-6.36 348.6 1282.9)">M41</text>
<text x="345.8" y="1223.9" font-size="18.3" text-anchor="end" dy="3.4" transform="rotate(0.91 345.8 1223.9)">M29</text>
<text x="350.4" y="1165.1" font-size="18.3" text-anchor="end" dy="3.4" transform="rotate(8.18 350.4 1165.1)">M28</text>
<text x="362.5" y="1107.3" font-size="18.3" text-anchor="end" dy="3.4" transform="rotate(15.45 362.5 1107.3)">M44</text>
<text x="381.8" y="1051.5" font-size="18.3" text-anchor="end" dy="3.4" transform="rotate(22.73 381.8 1051.5)">M10</text>
<text x="408.1" y="998.5" font-size="18.3" text-anchor="end" dy="3.4" transform="rotate(30.00 408.1 998.5)">M5</text>
<text x="440.8" y="949.4" font-size="18.3" text-anchor="end" dy="3.4" transform="rotate(37.27 440.8 949.4)">M22</text>
<text x="479.4" y="904.8" font-size="18.3" text-anchor="end" dy="3.4" transform="rotate(44.55 479.4 904.8)">M35</text>
<text x="523.4" y="865.4" font-size="18.3" text-anchor="end" dy="3.4" transform="rotate(51.82 523.4 865.4)">M9</text>
<text x="572.1" y="831.9" font-size="18.3" text-anchor="end" dy="3.4" transform="rotate(59.09 572.1 831.9)">M17</text>
<text x="624.6" y="804.9" font-size="18.3" text-anchor="end" dy="3.4" transform="rotate(66.36 624.6 804.9)">M6</text>
<text x="668.3" y="816.4" font-size="18.5" transform="rotate(-19.0 668.3 816.4)">Module ID</text>
<text x="681.0" y="853.1" font-size="18.5" transform="rotate(-19.0 681.0 853.1)">Global pathology</text>
<text x="687.3" y="871.4" font-size="18.5" transform="rotate(-19.0 687.3 871.4)">CERAD score</text>
<text x="693.6" y="889.8" font-size="18.5" transform="rotate(-19.0 693.6 889.8)">Braak stage</text>
<text x="699.9" y="908.1" font-size="18.5" transform="rotate(-19.0 699.9 908.1)">Lewy body stage</text>
<text x="706.2" y="926.5" font-size="18.5" transform="rotate(-19.0 706.2 926.5)">TDP-43 stage</text>
<text x="718.9" y="963.2" font-size="18.5" transform="rotate(-19.0 718.9 963.2)">MMSE</text>
<text x="725.2" y="981.5" font-size="18.5" transform="rotate(-19.0 725.2 981.5)">Global cognitive level</text>
<text x="737.8" y="1018.2" font-size="18.5" transform="rotate(-19.0 737.8 1018.2)">Neuron</text>
<text x="744.1" y="1036.5" font-size="18.5" transform="rotate(-19.0 744.1 1036.5)">Oligodendrocyte</text>
<text x="750.4" y="1054.9" font-size="18.5" transform="rotate(-19.0 750.4 1054.9)">Astrocyte</text>
<text x="756.8" y="1073.2" font-size="18.5" transform="rotate(-19.0 756.8 1073.2)">Microglia</text>
<text x="763.1" y="1091.6" font-size="18.5" transform="rotate(-19.0 763.1 1091.6)">Endothelia</text>
<g transform="translate(1028.3,744.4) rotate(-63.5)"><text font-size="24" text-anchor="start"><tspan x="0" y="0.0">Endosome</tspan></text></g>
<g transform="translate(1088.5,776.9) rotate(-59.0)"><text font-size="24" text-anchor="start"><tspan x="0" y="0.0">Proteasome</tspan></text></g>
<g transform="translate(1191.1,860.8) rotate(-44.6)"><text font-size="24" font-weight="bold" text-anchor="start"><tspan x="0" y="0.0">Protein transport</tspan></text></g>
<g transform="translate(1234.2,911.5) rotate(-37.6)"><text font-size="24" font-weight="bold" text-anchor="start"><tspan x="0" y="0.0">Sugar metabolism</tspan></text></g>
<g transform="translate(1281.6,964.2) rotate(-29.9)"><text font-size="24" text-anchor="start"><tspan x="0" y="0.0">Protein folding</tspan></text></g>
<g transform="translate(1307.4,1018.7) rotate(-20.6)"><text font-size="24" text-anchor="start"><tspan x="0" y="0.0">Ribonucleoprotein</tspan><tspan x="0" y="29.0">binding</tspan></text></g>
<g transform="translate(1326.4,1091.4) rotate(-14.3)"><text font-size="24" text-anchor="start"><tspan x="0" y="0.0">Translation initiation</tspan></text></g>
<g transform="translate(1342.8,1142.8) rotate(-5.3)"><text font-size="24" text-anchor="start"><tspan x="0" y="0.0">Heat shock/</tspan><tspan x="0" y="29.0">protein folding</tspan></text></g>
<g transform="translate(1344.8,1216.1) rotate(-1.0)"><text font-size="24" text-anchor="start"><tspan x="0" y="0.0">Neurotransmitter</tspan><tspan x="0" y="29.0">regulation</tspan></text></g>
<g transform="translate(1343.4,1296.5) rotate(5.6)"><text font-size="24" font-weight="bold" text-anchor="start"><tspan x="0" y="0.0">Mitochondria</tspan></text></g>
<g transform="translate(1290.4,1476.3) rotate(28.5)"><text font-size="24" text-anchor="start"><tspan x="0" y="0.0">Axon node/</tspan><tspan x="0" y="29.0">ion channel</tspan></text></g>
<g transform="translate(1210.1,1590.6) rotate(42.0)"><text font-size="24" font-weight="bold" fill="#FF0000" text-anchor="start"><tspan x="0" y="0.0">MAPK signaling</tspan><tspan x="0" y="29.0">and metabolism</tspan></text></g>
<g transform="translate(1150.4,1645.1) rotate(46.7)"><text font-size="24" text-anchor="start"><tspan x="0" y="0.0">Axonogenesis</tspan></text></g>
<g transform="translate(1094.3,1685.3) rotate(52.6)"><text font-size="24" font-weight="bold" text-anchor="start"><tspan x="0" y="0.0">Ubiquitination</tspan></text></g>
<g transform="translate(1023.9,1734.1) rotate(65.0)"><text font-size="24" font-weight="bold" text-anchor="start"><tspan x="0" y="0.0">Synapse/</tspan><tspan x="0" y="29.0">neuron</tspan></text></g>
<g transform="translate(839.2,1764.7) rotate(86.3)"><text font-size="24" text-anchor="start"><tspan x="0" y="0.0">Cytoskeleton</tspan></text></g>
<g transform="translate(761.9,1878.4) rotate(-86.7)"><text font-size="24" font-weight="bold" fill="#FF0000" text-anchor="start"><tspan x="0" y="0.0">Cell–ECM</tspan><tspan x="0" y="29.0">interaction</tspan></text></g>
<g transform="translate(687.1,1873.0) rotate(-79.8)"><text font-size="24" font-weight="bold" fill="#FF0000" text-anchor="start"><tspan x="0" y="0.0">Matrisome</tspan></text></g>
<g transform="translate(500.6,1866.5) rotate(-61.6)"><text font-size="24" font-weight="bold" text-anchor="start"><tspan x="0" y="0.0">RNA splicing</tspan></text></g>
<g transform="translate(376.9,1743.7) rotate(-45.6)"><text font-size="24" text-anchor="start"><tspan x="0" y="0.0">RNA binding</tspan></text></g>
<g transform="translate(261.1,1733.1) rotate(-41.3)"><text font-size="24" text-anchor="start"><tspan x="0" y="0.0">Extracellular matrix</tspan></text></g>
<g transform="translate(234.5,1639.0) rotate(-35.0)"><text font-size="24" text-anchor="start"><tspan x="0" y="0.0">MHC complex/</tspan><tspan x="0" y="29.0">immune</tspan></text></g>
<g transform="translate(159.4,1573.9) rotate(-29.5)"><text font-size="24" font-weight="bold" text-anchor="start"><tspan x="0" y="0.0">Oligodendrocyte/</tspan><tspan x="0" y="29.0">myelination</tspan></text></g>
<g transform="translate(154.2,1389.7) rotate(-12.5)"><text font-size="24" text-anchor="start"><tspan x="0" y="0.0">Complement/</tspan><tspan x="0" y="29.0">acute phase</tspan></text></g>
<g transform="translate(83.1,1225.5) rotate(1.3)"><text font-size="24" font-weight="bold" text-anchor="start"><tspan x="0" y="0.0">Glycosylation/ER</tspan></text></g>
<g transform="translate(39.5,1059.0) rotate(10.0)"><text font-size="24" text-anchor="start"><tspan x="0" y="0.0">Ribosome/translation</tspan><tspan x="0" y="29.0">and viral transcription</tspan></text></g>
<g transform="translate(219.5,841.6) rotate(32.0)"><text font-size="24" font-weight="bold" fill="#FF0000" text-anchor="start"><tspan x="0" y="0.0">Post-synaptic</tspan><tspan x="0" y="29.0">density</tspan></text></g>
<g transform="translate(560.1,668.2) rotate(65.6)"><text font-size="24" text-anchor="start"><tspan x="0" y="0.0">Ribosome</tspan></text></g>
<g transform="translate(508.0,727.5) rotate(60.4)"><text font-size="24" text-anchor="middle"><tspan x="0" y="0.0">Transcription</tspan></text></g>
<g transform="translate(470.0,803.0) rotate(52.0)"><text font-size="24" text-anchor="middle"><tspan x="0" y="0.0">Golgi</tspan></text></g>
<path d="M403.4,920.2 L390.0,911.3 L352.5,966.6 L367.7,976.4" fill="none" stroke="#000" stroke-width="2.2"/>
<path d="M313.9,1092.3 L298.9,1088.9 L284.0,1154.3 L301.2,1157.7" fill="none" stroke="#000" stroke-width="2.2"/>
<path d="M519.2,1666.3 L512.6,1682.9 L637.2,1740.6 L646.5,1722.7" fill="none" stroke="#000" stroke-width="2.2"/>
<path d="M1035.1,1691.2 L1041.2,1706.5 L978.0,1730.0 L972.9,1715.7" fill="none" stroke="#000" stroke-width="2.2"/>
<defs><linearGradient id="gCor" x1="0" y1="0" x2="0" y2="1"><stop offset="0" stop-color="#FF0000"/><stop offset="0.5" stop-color="#FFFFFF"/><stop offset="1" stop-color="#0000FF"/></linearGradient><linearGradient id="gP" x1="0" y1="0" x2="0" y2="1"><stop offset="0" stop-color="#000000"/><stop offset="0.03" stop-color="#0A0000"/><stop offset="0.175" stop-color="#5A0000"/><stop offset="0.25" stop-color="#900000"/><stop offset="0.324" stop-color="#FF0000"/><stop offset="0.474" stop-color="#FF5000"/><stop offset="0.533" stop-color="#FF8C00"/><stop offset="0.623" stop-color="#FFC000"/><stop offset="0.683" stop-color="#FFFF00"/><stop offset="0.772" stop-color="#FFFF60"/><stop offset="0.846" stop-color="#FFFFB0"/><stop offset="0.921" stop-color="#FFFFF6"/><stop offset="1" stop-color="#FFFFFF"/></linearGradient></defs>
<path d="M1610.5,792.1 L1616.6,816.3 L1616.6,1227.3 L1610.5,1246.6 L1604.5,1227.3 L1604.5,816.3Z" fill="url(#gCor)" stroke="#000" stroke-width="1"/>
<path d="M1610.5,1246.6 L1616.6,1267.8 L1616.6,1700.7 L1610.5,1718.8 L1604.5,1700.7 L1604.5,1267.8Z" fill="url(#gP)" stroke="#000" stroke-width="1"/>
<line x1="1616.6" y1="854.7" x2="1622.6" y2="854.7" stroke="#555" stroke-width="1.2"/>
<text x="1632.7" y="862.7" font-size="22.5">0.6</text>
<line x1="1616.6" y1="909.7" x2="1622.6" y2="909.7" stroke="#555" stroke-width="1.2"/>
<text x="1632.7" y="917.7" font-size="22.5">0.4</text>
<line x1="1616.6" y1="964.7" x2="1622.6" y2="964.7" stroke="#555" stroke-width="1.2"/>
<text x="1632.7" y="972.7" font-size="22.5">0.2</text>
<line x1="1616.6" y1="1019.7" x2="1622.6" y2="1019.7" stroke="#555" stroke-width="1.2"/>
<text x="1632.7" y="1027.7" font-size="22.5">0</text>
<line x1="1616.6" y1="1074.7" x2="1622.6" y2="1074.7" stroke="#555" stroke-width="1.2"/>
<text x="1632.7" y="1082.7" font-size="22.5">−0.2</text>
<line x1="1616.6" y1="1129.7" x2="1622.6" y2="1129.7" stroke="#555" stroke-width="1.2"/>
<text x="1632.7" y="1137.7" font-size="22.5">−0.4</text>
<line x1="1616.6" y1="1184.7" x2="1622.6" y2="1184.7" stroke="#555" stroke-width="1.2"/>
<text x="1632.7" y="1192.7" font-size="22.5">−0.6</text>
<line x1="1616.6" y1="1681.4" x2="1622.6" y2="1681.4" stroke="#555" stroke-width="1.2"/>
<text x="1632.7" y="1689.4" font-size="22.5">0</text>
<line x1="1616.6" y1="1611.0" x2="1622.6" y2="1611.0" stroke="#555" stroke-width="1.2"/>
<text x="1632.7" y="1619.0" font-size="22.5">0.5</text>
<line x1="1616.6" y1="1540.6" x2="1622.6" y2="1540.6" stroke="#555" stroke-width="1.2"/>
<text x="1632.7" y="1548.6" font-size="22.5">1.0</text>
<line x1="1616.6" y1="1470.2" x2="1622.6" y2="1470.2" stroke="#555" stroke-width="1.2"/>
<text x="1632.7" y="1478.2" font-size="22.5">1.5</text>
<line x1="1616.6" y1="1399.8" x2="1622.6" y2="1399.8" stroke="#555" stroke-width="1.2"/>
<text x="1632.7" y="1407.8" font-size="22.5">2.0</text>
<line x1="1616.6" y1="1329.4" x2="1622.6" y2="1329.4" stroke="#555" stroke-width="1.2"/>
<text x="1632.7" y="1337.4" font-size="22.5">2.5</text>
<line x1="1587.5" y1="990.7" x2="1634.7" y2="990.7" stroke="#000" stroke-width="1.6" stroke-dasharray="3.5 2.5"/>
<line x1="1587.5" y1="1047.1" x2="1634.7" y2="1047.1" stroke="#000" stroke-width="1.6" stroke-dasharray="3.5 2.5"/>
<line x1="1585" y1="1500" x2="1633" y2="1500" stroke="#000" stroke-width="1.6" stroke-dasharray="3.5 2.5"/>
<text x="1591.5" y="897" font-size="24" text-anchor="middle" transform="rotate(-90 1591.5 897)">Significant</text>
<text x="1591.5" y="1128" font-size="24" text-anchor="middle" transform="rotate(-90 1591.5 1128)">Significant</text>
<text x="1591.5" y="1413" font-size="24" text-anchor="middle" transform="rotate(-90 1591.5 1413)">Significant</text>
<text x="1699" y="1019.7" font-size="24" text-anchor="middle" transform="rotate(90 1699 1019.7)">Correlation</text>
<text x="1699" y="1452.8" font-size="24" text-anchor="middle" transform="rotate(90 1699 1452.8)">−log<tspan font-size="16" dy="5">10</tspan><tspan dy="-5">(</tspan><tspan font-style="italic">P</tspan>)</text>
<text x="0" y="1951" font-size="32" font-weight="bold">c</text>
<text x="352" y="1959.4" font-size="20.6" text-anchor="middle">Change in AsymAD</text>
<line x1="130" y1="1972.8" x2="574" y2="1972.8" stroke="#B5B5B5" stroke-width="2.2"/>
<text x="26.8" y="2416.1" font-size="28" transform="rotate(-90 26.8 2416.1)">Eigenprotein</text>
<text x="227.5" y="2010.5" font-size="20.5" text-anchor="middle" fill="#FF0000">M42 matrisome</text>
<text x="227.5" y="2035.1" font-size="20.5" text-anchor="middle" fill="#FF0000"><tspan font-style="italic">P</tspan> = 6.1 × 10<tspan font-size="14" dy="-9">−50</tspan></text>
<line x1="121.8" y1="2053.9" x2="130.2" y2="2053.9" stroke="#444" stroke-width="1.2"/>
<text x="108.5" y="2061.1" font-size="20" text-anchor="end">0.15</text>
<line x1="121.8" y1="2089.2" x2="130.2" y2="2089.2" stroke="#444" stroke-width="1.2"/>
<text x="108.5" y="2096.4" font-size="20" text-anchor="end">0.10</text>
<line x1="121.8" y1="2124.5" x2="130.2" y2="2124.5" stroke="#444" stroke-width="1.2"/>
<text x="108.5" y="2131.7" font-size="20" text-anchor="end">0.05</text>
<line x1="121.8" y1="2159.8" x2="130.2" y2="2159.8" stroke="#444" stroke-width="1.2"/>
<text x="108.5" y="2167.0" font-size="20" text-anchor="end">0</text>
<line x1="121.8" y1="2195.1" x2="130.2" y2="2195.1" stroke="#444" stroke-width="1.2"/>
<text x="108.5" y="2202.3" font-size="20" text-anchor="end">−0.05</text>
<line x1="121.8" y1="2230.4" x2="130.2" y2="2230.4" stroke="#444" stroke-width="1.2"/>
<text x="108.5" y="2237.6" font-size="20" text-anchor="end">−0.10</text>
<line x1="167.4" y1="2258.2" x2="167.4" y2="2266.2" stroke="#444" stroke-width="1.2"/>
<line x1="227.8" y1="2258.2" x2="227.8" y2="2266.2" stroke="#444" stroke-width="1.2"/>
<line x1="287.4" y1="2258.2" x2="287.4" y2="2266.2" stroke="#444" stroke-width="1.2"/>
<text x="164.4" y="2295.2" font-size="20" text-anchor="middle">Cntl</text>
<text x="224.8" y="2295.2" font-size="20" text-anchor="middle">AsymAD</text>
<text x="288.4" y="2295.2" font-size="20" text-anchor="middle">AD</text>
<rect x="143.4" y="2185.5" width="48.0" height="18.8" fill="#D6F6F8" stroke="#555" stroke-width="0.8"/>
<rect x="203.8" y="2139.3" width="48.0" height="40.2" fill="#D6F6F8" stroke="#555" stroke-width="0.8"/>
<rect x="263.4" y="2126.6" width="48.0" height="27.2" fill="#D6F6F8" stroke="#555" stroke-width="0.8"/>
<defs><marker id="m25" markerUnits="userSpaceOnUse" markerWidth="10.4" markerHeight="10.4" refX="5.20" refY="5.20" overflow="visible"><circle cx="5.20" cy="5.20" r="3.3" fill="#FFFFFF" fill-opacity="0.35" stroke="#333" stroke-width="0.9" stroke-opacity="0.85"/></marker></defs><path d="M172.8 2186.0l-19.1 -3.0l-4.3 9.8l29.9 25.7l-16 -20.9l5.5 13.7l-2.5 -21.1l-3.9 22.8l3.4 -31.3l-10.6 6.3l13.6 -24.7l-10.9 22.4l-3.4 -2.4l.9 16.8l8.6 4.8l14.6 -32.4l-7.1 20.7l14.7 -6.2l-22.9 3.7l-4.6 -7.4l13.5 38.9l-11.7 .4l26.4 -35.7l-21.1 -26.5l-2.9 65.0l-4.2 -18.9l.6 -14.3l25.4 11.5l3 -3.4l-17.9 1.6l-11.7 -20.8l-11.3 14.2l3.1 -2.3l11.3 21.5l11.7 -28.6l-2.6 -16.3l10.8 17.0l-.6 14.8l-17.5 14.1l11.4 -26.4l-9.3 .5l11.7 10.6l-13.9 31.9l21.8 -23.5l-32.3 5.2l19.1 -3.3l-10.3 -17.4l15.9 19.9l-24.4 -12.4l26.6 -23.7l-29.7 32.1l27.6 -10.8l-1.8 -10.8l-7.7 19.4l-8.3 13.6l3.1 -27.1l2.9 -9.5l-4 40.3l-7.7 -21.8l27 2.6l-11.8 -27.5l-6.8 44.6l10.4 -20.7l-1.8 18.8l-15.1 -7.3l15.3 -15.5l-.1 5.7l-19.5 -3.1l8.9 8.9l15.6 13.0l-5.5 -38.5l-10.7 -8.5l3.3 23.0l2.8 5.2l8.1 -25.9l8.2 12.5l-31.8 3.8l.6 -9.9l14.6 27.7l-14.6 -.8l2.1 -14.4l2.5 18.7l-5.3 -17.7l22.5 -3.2l-21.4 -5.2l18.9 .9l9.5 29.3l-27.1 -19.3l25.6 -7.4l-7.7 -10.3l-14.7 .4l30 19.4l-8.6 -1.1l-13.3 15.1l18.8 -10.9l-29.1 5.1l23.1 7.8l4.7 -15.4l-27.5 -20.3l24.9 -8.3l.5 19.0l5.4 6.5l-26.3 -6.8l18.2 -7.0l2.2 3.8l-11.9 -61.1l-1.3 .7l0 11.3l1.9 10.6l.2 99.6l51.1 -100.0l6.4 -21.7l19.5 .0l-20.6 -2.5l-4.8 22.3l10.3 32.6l4 -19.7l-.7 -66.1l3.1 44.8l-1.7 -5.1l-9.4 58.4l1 -71.0l22 30.6l-20.1 -45.0l10.7 64.3l-16.5 -8.9l-14.3 4.8l16 11.9l5.1 -9.3l-5.1 -15.4l-8 5.0l-1.7 -11.4l5 -52.6l16.9 44.3l-6.9 1.2l10.9 40.6l-4.4 -83.2l1.8 84.9l2.9 -29.0l4.1 -7.8l-1.8 42.1l-5.4 -74.0l.4 98.2l-13.6 -3.9l24.8 -46.8l-4.8 9.6l-3 -4.2l.6 -27.8l-3.3 24.6l-8.2 -51.3l-1.6 95.5l16.5 -67.7l-20.8 -49.9l9.8 61.3l9.8 -20.1l-22.6 -17.0l-7.5 38.9l6.4 12.7l5.7 14.8l2.4 -59.1l-11.4 35.0l1.8 29.1l-4.9 -41.3l13.1 7.1l-12.9 -11.8l7.9 20.8l-6.3 -24.0l17.7 40.2l-2.9 -83.3l-12.5 41.8l30.9 30.8l-28.8 -32.0l25.1 20.1l-25.2 -7.9l10.7 27.4l1.2 -8.0l-.5 4.5l-9.8 -.3l18.3 -26.8l-7 37.7l-2.3 -2.3l-3.2 -25.7l-6.1 43.0l3.1 -32.0l13.6 -9.1l-1 -1.0l11.8 12.2l-11 -8.1l10.8 -6.8l-26.6 35.8l-2.3 -50.3l28.9 32.2l-22.8 25.4l5.5 -15.6l12.3 -15.4l-29.3 20.7l-.6 -3.2l13.2 -38.8l-7.2 -28.1l-7.8 69.7l23.9 3.9l-6.2 -74.5l-3.2 63.0l7.3 -1.5l-13.4 -1.7l3.5 -14.3l-2.5 -2.9l12.8 -9.2l-7.2 -25.7l4.3 16.9l-1.2 -7.6l-.1 80.7l-20 -66.8l28.8 39.1l1.8 -65.7l-27.6 70.7l24.7 -9.3l-6.7 4.4l2.3 36.7l-24.7 -48.8l4.4 22.8l16.8 -68.6l.2 73.1l-9.8 21.6l13.7 -123.1l-22.3 69.1l33.1 -12.4l-4.6 22.1l-6.1 33.9l8.9 -39.4l-23.3 -6.8l13.2 8.8l-24 -26.0l26.9 54.7l-17.9 -77.1l-8.2 42.6l29.5 1.6l-21.6 -62.2l13.8 113.0l14.7 -39.3l-16.6 -66.7l.9 33.3l8.3 -4.2l-.3 27.5l-10 -41.3l-17.4 11.0l35.3 44.8l-10.5 11.1l-8.2 -8.3l7.8 -22.7l-16.4 17.6l.2 8.5l-10.2 -30.2l15.4 -20.4l6.8 23.0l-12.1 51.5l-2.6 -32.3l7.4 -36.1l-8.4 63.4l25.4 -36.0l-24.3 16.8l28.9 -32.8l-14.2 2.1l-9.5 30.0l-10.5 -46.2l22.5 21.0l-21.7 20.1l9.5 -36.3l23.8 -21.3l-4.8 57.5l-4.7 3.8l-4.4 -54.0l1.3 50.1l5.6 -37.6l1 -30.6l-27.8 48.5l33.3 -9.9l2.9 16.8l-16 -21.1l-8.3 52.2l-6.3 8.6l4.7 -43.5l-8.4 -45.6l19.8 -9.5l-.9 44.6l4.7 25.1l5.7 -4.1l-22.1 -22.2l17.8 17.1l-2.3 -49.5l-5.6 59.4l-19.2 -43.8l31.9 31.4l-13.5 34.3l-2.6 -76.1l14 3.3l-28.9 25.7l-3.2 9.3l26.2 -7.8l2.1 6.3l-7.9 21.3l1.3 -41.1l8.7 1.2l2.6 10.6l-7.7 13.5l2.9 9.7l-8.6 -3.1l-14.3 -16.3l21.1 52.5l-19.1 -6.0l-1.9 -49.2l16.4 30.4l-7.3 -58.0l20.9 35.7l-16.9 -112.1l.8 18.4l68.9 51.1l-16.6 -22.5l5.8 59.3l4.1 -47.4l9.7 27.9l-22.8 21.0l4.4 -64.1l12.6 4.9l-2.1 -2.4l-12.3 29.5l-2.1 -3.3l8.1 -6.4l-14.3 39.6l21.3 -28.5l3.8 34.6l-19.5 -10.1l26.5 -13.4l-1.7 3.6l-32.2 2.4l28.4 -19.4l-1.6 -15.9l-4.9 31.1l-14.4 -19.8l9.7 15.5l18.9 9.2l-14.7 13.4l15.6 -17.0l-6.5 -18.6l-10 47.2l7.3 -8.1l-10.7 -1.6l-14.2 -26.5l17 -14.4l-14.4 20.9l6.5 20.8l-4.4 -61.2l11.4 29.8l10.4 2.3l8.2 15.4l-10.6 8.2l-1.8 -43.7l2.8 38.1l-21.1 -9.7l14.3 -36.2l9.2 58.7l-6 -38.1l-11.2 7.6l14.2 -4.7l.4 -27.1l-12.4 56.2l-8.7 -27.8l5.1 -2.2l14.8 -7.5l-17.2 44.9l2.2 9.7l24.4 -52.0l-35.1 -3.1l7.4 52.1l17.8 -69.0l-2.4 52.8l5.1 -50.0l7.2 29.8l-25.5 -36.8l15.1 12.2l-16.6 12.2l14.4 38.7l-18.3 3.9l23.4 -42.2l-22.4 21.7l16.2 -40.2l-6.1 25.2l8.5 7.1l-9.4 28.2l-12.8 -53.9l7.5 15.9l-1 -9.4l28.8 6.6l-34.4 36.4l26 -23.5l-24 -23.0l6.3 38.0l13.8 -35.7l-5.2 3.1l-21.9 16.6l11.9 19.0l3.3 -59.6l8.5 70.3l-3.6 -32.8l-2.3 -4.1l-18.2 13.7l17.5 -12.3l1 -5.4l-13.4 7.2l17.5 -3.5l-17.5 2.9l12.9 -43.0l-9.7 20.9l6.6 45.1l-5.3 15.8l13.1 -31.4l1 -20.1l14.7 21.3l-26.5 -3.3l-7.3 9.6l12 8.0l12.1 -36.5l-19.3 27.6l28.8 .3l-27.9 .5l15.5 -17.6l-18.5 31.5l15 -53.9l9 27.9l-11.2 -17.6l-8.7 29.9l11.4 -2.9l16.2 -22.0l-28.2 26.5l19.2 -6.8l-8.6 -23.5l15.2 39.8l-25.9 -28.8l22 24.7l-31.2 -30.4l36.9 9.7l-36.9 -4.7l13.2 -19.3l-2.5 56.7l-1.4 -29.1l21.6 23.4l-23.9 -35.2l14.9 13.4l-1.6 -48.5l-18.5 30.6l25.1 40.8l10.8 -18.4l-18.7 26.4l-13 -30.0l5.3 14.6l9.4 11.7l8.7 7.4l-.5 -34.0l-17.9 17.5l-1.7 13.5l18.9 -35.9l-10 12.7l-4.9 18.7l17.8 -40.4l-20.5 15.8l16.8 17.3l-2.5 14.3l3 -12.4l-20 -27.3l10.3 -13.4l16.6 20.4l-24.9 -15.3l-5.1 34.2l-2.9 -6.6l20.8 -42.2l-4.8 28.2l9.8 -3.1l8.1 -9.1l-14.2 19.6l-6.1 -3.0l17.4 -22.5l-7.5 -1.7l-25.1 10.9l9.6 22.9l13.1 -15.4l-16 -7.7l23.2 -30.2l-30.1 45.4l34.7 -.1l2 -6.9l-21.8 -28.6l-2 36.5l8.6 -1.2l-10.3 22.2l24.6 -9.9l-11.5 -12.8l-5.3 -8.3l-10.1 9.9l12.9 -5.3l-.1 -30.8l4.3 51.1l1.8 -30.6l0 15.8l-26.7 -5.4l16.5 -4.9l-3.8 -.8l15.7 17.0l-19.7 10.9l1.6 -39.9l-2.2 12.0l2.4 19.3l18.3 -50.8l-10 -23.2l.4 118.6l-2.5 3.5l.4 2.1" fill="none" stroke="none" marker-start="url(#m25)" marker-mid="url(#m25)" marker-end="url(#m25)"/>
<line x1="167.4" y1="2185.5" x2="167.4" y2="2157.0" stroke="#111" stroke-width="3.2" stroke-dasharray="9 4"/>
<line x1="167.4" y1="2204.3" x2="167.4" y2="2232.5" stroke="#111" stroke-width="3.2" stroke-dasharray="9 4"/>
<line x1="155.4" y1="2157.0" x2="179.4" y2="2157.0" stroke="#111" stroke-width="2.2"/>
<line x1="155.4" y1="2232.5" x2="179.4" y2="2232.5" stroke="#111" stroke-width="2.2"/>
<rect x="143.4" y="2191.8" width="48.0" height="8" fill="#000"/>
<line x1="227.8" y1="2139.3" x2="227.8" y2="2087.1" stroke="#111" stroke-width="3.2" stroke-dasharray="9 4"/>
<line x1="227.8" y1="2179.6" x2="227.8" y2="2228.3" stroke="#111" stroke-width="3.2" stroke-dasharray="9 4"/>
<line x1="215.8" y1="2087.1" x2="239.8" y2="2087.1" stroke="#111" stroke-width="2.2"/>
<line x1="215.8" y1="2228.3" x2="239.8" y2="2228.3" stroke="#111" stroke-width="2.2"/>
<rect x="203.8" y="2155.8" width="48.0" height="8" fill="#000"/>
<line x1="287.4" y1="2126.6" x2="287.4" y2="2089.9" stroke="#111" stroke-width="3.2" stroke-dasharray="9 4"/>
<line x1="287.4" y1="2153.8" x2="287.4" y2="2193.7" stroke="#111" stroke-width="3.2" stroke-dasharray="9 4"/>
<line x1="275.4" y1="2089.9" x2="299.4" y2="2089.9" stroke="#111" stroke-width="2.2"/>
<line x1="275.4" y1="2193.7" x2="299.4" y2="2193.7" stroke="#111" stroke-width="2.2"/>
<rect x="263.4" y="2136.0" width="48.0" height="8" fill="#000"/>
<rect x="130.2" y="2047.7" width="194.7" height="210.5" fill="none" stroke="#222" stroke-width="1.5"/>
<line x1="160.5" y1="2073" x2="216.7" y2="2073" stroke="#222" stroke-width="1.3"/>
<text x="180.7" y="2078" font-size="24" text-anchor="middle" letter-spacing="1">***</text>
<text x="524.3" y="2010.5" font-size="20.5" text-anchor="middle" fill="#FF0000">M11 cell-ECM interaction</text>
<text x="524.3" y="2035.1" font-size="20.5" text-anchor="middle" fill="#FF0000"><tspan font-style="italic">P</tspan> = 5.2 × 10<tspan font-size="14" dy="-9">−17</tspan></text>
<line x1="418.3" y1="2081.1" x2="426.7" y2="2081.1" stroke="#444" stroke-width="1.2"/>
<text x="405.0" y="2088.3" font-size="20" text-anchor="end">0.3</text>
<line x1="418.3" y1="2120.1" x2="426.7" y2="2120.1" stroke="#444" stroke-width="1.2"/>
<text x="405.0" y="2127.3" font-size="20" text-anchor="end">0.2</text>
<line x1="418.3" y1="2159.1" x2="426.7" y2="2159.1" stroke="#444" stroke-width="1.2"/>
<text x="405.0" y="2166.3" font-size="20" text-anchor="end">0.1</text>
<line x1="418.3" y1="2198.1" x2="426.7" y2="2198.1" stroke="#444" stroke-width="1.2"/>
<text x="405.0" y="2205.3" font-size="20" text-anchor="end">0</text>
<line x1="418.3" y1="2237.1" x2="426.7" y2="2237.1" stroke="#444" stroke-width="1.2"/>
<text x="405.0" y="2244.3" font-size="20" text-anchor="end">−0.1</text>
<line x1="464.1" y1="2257.3" x2="464.1" y2="2265.3" stroke="#444" stroke-width="1.2"/>
<line x1="524.3" y1="2257.3" x2="524.3" y2="2265.3" stroke="#444" stroke-width="1.2"/>
<line x1="584.7" y1="2257.3" x2="584.7" y2="2265.3" stroke="#444" stroke-width="1.2"/>
<text x="461.1" y="2294.3" font-size="20" text-anchor="middle">Cntl</text>
<text x="521.3" y="2294.3" font-size="20" text-anchor="middle">AsymAD</text>
<text x="585.7" y="2294.3" font-size="20" text-anchor="middle">AD</text>
<rect x="440.1" y="2198.1" width="48.0" height="17.2" fill="#ADFF2F" stroke="#555" stroke-width="0.8"/>
<rect x="500.3" y="2192.4" width="48.0" height="20.5" fill="#ADFF2F" stroke="#555" stroke-width="0.8"/>
<rect x="560.7" y="2182.5" width="48.0" height="15.6" fill="#ADFF2F" stroke="#555" stroke-width="0.8"/>
<defs><marker id="m26" markerUnits="userSpaceOnUse" markerWidth="10.4" markerHeight="10.4" refX="5.20" refY="5.20" overflow="visible"><circle cx="5.20" cy="5.20" r="3.3" fill="#F2F6E4" fill-opacity="0.35" stroke="#333" stroke-width="0.9" stroke-opacity="0.85"/></marker></defs><path d="M457.6 2215.0l24.5 -3.4l-21.6 -33.9l10.8 36.2l3.9 12.7l-15.2 -23.3l-14.5 1.9l7.9 -7.1l-7 14.1l8 -24.8l-5.1 11.6l8.6 .4l.8 4.2l3.9 -15.7l7.4 7.3l.7 22.2l.3 -21.3l-12.1 20.0l10.2 -25.7l-3 24.4l-17.2 -12.7l16.9 15.5l-9.1 -15.1l12.4 -14.3l2.5 3.2l-17.6 24.3l8.2 9.5l.2 -27.8l-6.1 18.9l-9.5 1.2l.2 -19.8l32.6 26.0l-6.7 -27.6l-10.8 -3.7l9 14.3l-15.3 12.6l17.1 -9.3l3.2 -23.4l-.6 17.8l-12.5 -14.3l21.4 16.2l-2.7 -1.0l-36 -.9l14.7 .8l1.7 -2.4l-6.1 -7.3l11.8 -4.7l-18.6 18.2l23.7 10.9l5 -3.9l-29.4 3.7l19.3 14.9l-13.5 -27.6l15 10.4l-1 -35.1l14.7 32.3l-10.3 11.6l-15.1 -24.5l16.2 5.4l-22.4 -11.9l21.6 9.6l-10.6 -23.2l-7.3 34.8l-1.8 -12.6l-.7 9.2l23.4 .6l-22 15.9l-.3 -30.8l2.7 30.7l-6.2 -27.4l23.1 -1.2l-5.7 .7l.8 26.9l10.3 -32.4l-16.6 20.4l-16.8 -14.7l6.1 10.3l13 -31.4l8.2 34.1l8.9 -4.8l-16.9 -6.9l-8.2 23.8l11.4 -13.4l14.4 -3.4l-25 -6.4l24.6 8.2l-8.7 -29.0l-7.4 -2.0l-2.2 9.6l-15 16.9l.6 -9.0l6.7 -19.6l10.8 4.2l5.6 14.9l11.6 16.3l-16.4 -22.8l14.9 5.0l-22.3 9.4l-11.2 3.0l2 16.3l7.4 1.8l6.9 -2.7l19 -21.2l-28.4 1.1l-1.7 12.6l19.4 -6.4l-12.4 -22.3l5 35.1l-3.3 -68.6l2.8 17.2l77.8 37.5l-31.3 -29.8l23.1 36.4l-12 -26.2l-7 18.8l-.1 -18.9l-3.5 10.5l24.1 -11.6l-23.7 25.2l30.7 -13.6l-18.6 -5.9l-9.2 -.1l18.6 -5.9l-8.3 -14.9l11.8 44.5l-28.5 -16.2l19.6 28.1l-23.1 -36.8l10.3 -15.8l4.5 22.6l-2.3 -16.0l1.7 -13.8l7 26.0l6 -7.8l-11.7 -.7l3.2 27.5l8.6 7.5l-20.1 -13.2l29.2 7.7l-36.6 -23.9l15.8 39.8l16.4 -33.1l-24.6 7.6l4 -1.1l-6.4 2.9l32.3 1.9l-5 5.0l-31.4 -16.0l19.1 6.7l-16 -8.3l-5.8 6.1l8.5 -2.7l20.2 .7l-8 -32.5l-4.5 -.2l6.6 14.9l-11.5 48.8l2.7 -40.1l-5.4 -12.9l24.7 15.2l-16.2 31.9l12 -19.5l-15.8 -1.9l4.6 20.7l5.4 -20.5l-11.5 -19.2l10.4 14.8l6.7 20.1l-26.5 -21.9l10.6 30.4l-9.7 -42.8l16.5 -3.7l-15.6 13.1l16.9 6.2l-15.1 1.8l15.3 2.0l-9.3 8.1l16.9 3.3l2.3 .1l1.1 -40.9l-12.9 -3.9l17.2 28.6l-2 -8.2l-21.1 14.0l26.8 -7.4l-6.6 -19.7l-25.3 5.6l20.4 -.2l-1.5 4.8l-2.8 -1.7l3.7 24.8l-16.4 -23.4l16.4 39.4l1.2 -30.9l-22.2 -2.2l31.9 -1.3l-14.1 38.1l-20.5 -46.5l1.2 35.4l.7 -17.7l20.6 -.8l-1.4 25.3l12.4 -31.5l-1.8 7.3l-28.4 -1.6l3.2 19.9l-6.4 -33.3l11 11.2l1.4 5.2l-.6 15.0l15.9 -7.1l-7.4 -7.1l1.9 25.0l6.7 -16.6l-5.1 -33.5l-7.6 22.6l-4.4 -1.7l5.3 6.0l-3 -19.8l7.4 -2.8l8.7 12.1l-7.5 10.8l-16.5 -18.4l11.7 -3.7l-4.1 18.0l-13.2 -11.3l-.5 -.8l13.7 -5.0l20.2 11.5l-10.4 12.0l-26.6 -11.6l35.6 8.1l-7.6 -5.8l-6.5 -23.8l-20.7 9.6l9.8 13.5l1.2 -5.9l6.1 -3.0l-14.5 2.4l20.5 13.2l-.8 .5l1.4 -7.4l-6 -31.0l2.3 43.6l-12.5 -36.6l22.4 37.8l2.8 -5.8l-3.5 -25.8l-2.2 34.8l-19.4 -7.4l3.6 -27.7l-12.1 22.5l29.3 -16.2l-5.7 -27.7l10.1 56.7l-11.8 -35.9l3.4 -10.3l7.9 30.3l-30.4 1.8l0 -15.6l30.4 2.6l-1.9 -14.0l-6.1 45.8l-1.5 -21.0l-8.5 -17.4l17.5 7.5l-22.9 14.8l-7.5 -18.1l28.2 3.0l-27.8 23.8l20.8 15.7l1.5 -31.1l-22.6 3.4l13.7 -5.5l-6.6 -3.7l20.5 20.9l-.4 -4.2l-16.3 -28.7l-8 29.8l8.3 8.0l3 -2.2l6.2 -25.6l4.6 -23.0l-14.4 13.4l-4.3 41.8l15.3 -24.7l-8.2 11.6l11.6 -24.0l-2 9.4l-4.7 7.2l10.2 8.3l-21.3 -31.9l17.1 44.5l-21 -17.1l12.3 11.4l2.6 -34.4l-.7 -6.6l-16.6 14.9l14 -7.8l-7.8 15.3l2.8 23.9l3.1 -25.6l1.6 -29.8l-10.2 39.9l18.5 -22.3l5.6 38.1l5.4 -32.4l-26.9 -12.7l-1.7 16.6l8.9 34.1l6.1 -30.8l3 16.0l-6.6 -69.1l-.4 3.9l2 98.3l-.2 -195.0l42.7 123.6l9.8 8.7l.9 11.8l-10.6 -9.1l1.1 3.7l18.5 -21.2l11.8 24.0l-25.5 -17.5l18.8 17.2l-12.5 -3.6l-14.9 6.7l35.6 -15.7l-33.2 10.2l15.4 -13.2l-19.6 9.2l11.9 8.3l3.5 5.2l.1 -19.4l5.4 23.7l18.3 -22.7l-17.1 34.0l-3.8 -33.8l15.9 3.0l-15.8 3.8l9.9 -7.8l-9.5 24.6l11.4 -12.1l-26.2 -12.1l5.3 -7.0l19.3 12.8l1.7 -2.2l-15.8 3.2l-11.3 -10.4l21 21.7l-9.7 17.4l2 -42.5l16.2 7.1l-3.6 22.4l4.5 -20.4l-24.2 -14.3l15.5 -6.3l-24.2 26.9l34.3 -18.3l-6.5 28.9l2.2 -21.6l2 -3.8l-1.1 23.8l-3.5 4.7l.4 -41.4l-22.4 11.4l7.2 -13.6l15.4 31.6l-23.1 3.9l20.8 -32.4l-9.6 26.4l9.2 19.9l-22.2 -20.8l18.4 -9.3l6.9 2.7l-5.2 34.3l-16.7 -32.8l8.3 29.6l10.5 -53.3l2.7 44.5l-8.1 -7.6l-20.5 -10.6l28.9 7.6l-.5 -20.5l-2.5 22.1l13.5 -12.9l-13.8 .2l7.5 .0l-20.9 19.6l3.1 -36.4l22.3 32.2l-.1 1.4l-33.5 -8.2l21.3 -6.3l2.4 7.6l-3.9 -18.9l-8.2 11.1l-1.5 .2l21.3 -8.4l-29.9 6.5l3.3 22.3l18.8 -1.6l-27.8 -16.3l15.6 .8l6 -24.6l6 28.9l-16 -15.7l13.7 21.6l1.5 -6.9l7 -5.0l-14.4 11.4l16.2 -22.2l-17.2 14.5l18.6 3.6l-20.9 -4.8l13.2 -8.8l-16.1 19.3l12.6 -11.1l4.6 5.1l-24.7 -19.2l26.2 12.7l-23.6 17.2l24.2 -15.6l-24.4 11.1l1.8 -17.7l2.8 8.1l-2 -7.6l14.2 2.5l-10 13.1l19 -12.0l-18.5 .8l16.6 -.9l-19.3 .4l9 5.1l.8 17.3l-5.3 1.8l15.2 -23.0l-8.2 -16.4l-1.8 6.5l4.2 18.4l-17.5 -11.5l3.8 4.4l17.5 17.3l-2.7 -9.7l-8.1 13.6l21.7 -23.7l-11.4 -22.1l-.8 25.7l-19 15.7l5.8 -20.9l.8 -9.2l5.7 24.0l-9.9 -20.2l6.4 5.5l17.3 7.0l-31.8 -.8l4.4 -21.4l12.1 -9.7l-20.8 27.7l15.4 -11.5l-2 29.2l17.4 -10.4l-23.4 -12.0l13.9 -3.6l14.3 4.4l-10.2 20.1l-9.6 -16.9l-7.5 -7.6l28 -3.0l-8.2 27.8l-2.7 -35.3l-14.7 25.3l3.7 -29.0l16.4 39.6l-3.1 4.9l6.5 -20.6l-21.2 -11.3l15.4 18.9l5.1 -10.2l-5.1 24.8l-2.2 -6.1l-22.7 -10.1l-1.9 -6.2l12.2 -17.8l18.5 10.6l-18.8 7.2l-12.1 -2.2l17.9 15.3l-9.2 -30.7l6.8 23.7l11.4 .1l-7.9 .7l1.5 -17.1l-1.1 7.1l17.2 10.0l-.9 -1.5l-16.4 -12.1l-9.4 -16.2l15.9 9.7l-20.6 19.7l-1.4 -23.6l-1.7 19.0l14.6 6.5l15.1 .6l-13 -18.0l5.5 32.5l-4.4 -11.3l8.4 -13.7l-8.6 -6.4l4.3 28.7l-11 -18.5l-3.4 2.1l20.7 -14.0l-10.3 -45.1l.1 16.3l-.5 72.2" fill="none" stroke="none" marker-start="url(#m26)" marker-mid="url(#m26)" marker-end="url(#m26)"/>
<line x1="464.1" y1="2198.1" x2="464.1" y2="2177.0" stroke="#111" stroke-width="3.2" stroke-dasharray="9 4"/>
<line x1="464.1" y1="2215.3" x2="464.1" y2="2234.8" stroke="#111" stroke-width="3.2" stroke-dasharray="9 4"/>
<line x1="452.1" y1="2177.0" x2="476.1" y2="2177.0" stroke="#111" stroke-width="2.2"/>
<line x1="452.1" y1="2234.8" x2="476.1" y2="2234.8" stroke="#111" stroke-width="2.2"/>
<rect x="440.1" y="2203.3" width="48.0" height="8" fill="#000"/>
<line x1="524.3" y1="2192.4" x2="524.3" y2="2161.0" stroke="#111" stroke-width="3.2" stroke-dasharray="9 4"/>
<line x1="524.3" y1="2212.9" x2="524.3" y2="2235.2" stroke="#111" stroke-width="3.2" stroke-dasharray="9 4"/>
<line x1="512.3" y1="2161.0" x2="536.3" y2="2161.0" stroke="#111" stroke-width="2.2"/>
<line x1="512.3" y1="2235.2" x2="536.3" y2="2235.2" stroke="#111" stroke-width="2.2"/>
<rect x="500.3" y="2198.7" width="48.0" height="8" fill="#000"/>
<line x1="584.7" y1="2182.5" x2="584.7" y2="2161.4" stroke="#111" stroke-width="3.2" stroke-dasharray="9 4"/>
<line x1="584.7" y1="2198.1" x2="584.7" y2="2220.7" stroke="#111" stroke-width="3.2" stroke-dasharray="9 4"/>
<line x1="572.7" y1="2161.4" x2="596.7" y2="2161.4" stroke="#111" stroke-width="2.2"/>
<line x1="572.7" y1="2220.7" x2="596.7" y2="2220.7" stroke="#111" stroke-width="2.2"/>
<rect x="560.7" y="2186.0" width="48.0" height="8" fill="#000"/>
<rect x="426.7" y="2047.3" width="195.2" height="210.0" fill="none" stroke="#222" stroke-width="1.5"/>
<line x1="463.5" y1="2073" x2="520.4" y2="2073" stroke="#222" stroke-width="1.3"/>
<text x="489.4" y="2079" font-size="24" text-anchor="middle" letter-spacing="1">*</text>
<text x="817.8" y="2010.5" font-size="20.5" text-anchor="middle" fill="#000">M24 ubiquitination</text>
<text x="817.8" y="2035.1" font-size="20.5" text-anchor="middle" fill="#000"><tspan font-style="italic">P</tspan> = 9.1 × 10<tspan font-size="14" dy="-9">−11</tspan></text>
<line x1="712.1" y1="2068.6" x2="720.5" y2="2068.6" stroke="#444" stroke-width="1.2"/>
<text x="698.8" y="2075.8" font-size="20" text-anchor="end">0.15</text>
<line x1="712.1" y1="2101.8" x2="720.5" y2="2101.8" stroke="#444" stroke-width="1.2"/>
<text x="698.8" y="2109.0" font-size="20" text-anchor="end">0.10</text>
<line x1="712.1" y1="2135.0" x2="720.5" y2="2135.0" stroke="#444" stroke-width="1.2"/>
<text x="698.8" y="2142.2" font-size="20" text-anchor="end">0.05</text>
<line x1="712.1" y1="2168.2" x2="720.5" y2="2168.2" stroke="#444" stroke-width="1.2"/>
<text x="698.8" y="2175.4" font-size="20" text-anchor="end">0</text>
<line x1="712.1" y1="2201.4" x2="720.5" y2="2201.4" stroke="#444" stroke-width="1.2"/>
<text x="698.8" y="2208.6" font-size="20" text-anchor="end">−0.05</text>
<line x1="712.1" y1="2234.6" x2="720.5" y2="2234.6" stroke="#444" stroke-width="1.2"/>
<text x="698.8" y="2241.8" font-size="20" text-anchor="end">−0.10</text>
<line x1="757.3" y1="2258.9" x2="757.3" y2="2266.9" stroke="#444" stroke-width="1.2"/>
<line x1="817.4" y1="2258.9" x2="817.4" y2="2266.9" stroke="#444" stroke-width="1.2"/>
<line x1="877.8" y1="2258.9" x2="877.8" y2="2266.9" stroke="#444" stroke-width="1.2"/>
<text x="754.3" y="2295.9" font-size="20" text-anchor="middle">Cntl</text>
<text x="814.4" y="2295.9" font-size="20" text-anchor="middle">AsymAD</text>
<text x="878.8" y="2295.9" font-size="20" text-anchor="middle">AD</text>
<rect x="733.3" y="2158.6" width="48.0" height="35.5" fill="#A9A9A9" stroke="#555" stroke-width="0.8"/>
<rect x="793.4" y="2153.8" width="48.0" height="32.8" fill="#A9A9A9" stroke="#555" stroke-width="0.8"/>
<rect x="853.8" y="2137.3" width="48.0" height="40.2" fill="#A9A9A9" stroke="#555" stroke-width="0.8"/>
<defs><marker id="m27" markerUnits="userSpaceOnUse" markerWidth="10.4" markerHeight="10.4" refX="5.20" refY="5.20" overflow="visible"><circle cx="5.20" cy="5.20" r="3.3" fill="#FFFFFF" fill-opacity="0.35" stroke="#333" stroke-width="0.9" stroke-opacity="0.85"/></marker></defs><path d="M739.2 2156.4l10.7 -7.8l-3.1 9.6l14.9 -17.1l3.2 59.4l8.8 -4.1l-9.2 9.3l9.5 -2.4l-12.3 -56.7l-5.4 23.6l13.2 33.5l-20.5 -1.5l17.2 -55.7l-1.4 63.8l7.1 -16.8l-32.2 -28.0l8 -21.2l23.2 -1.3l-27.9 50.3l12.8 21.2l4.9 -4.8l-4.1 -42.1l16.5 5.7l-1.4 -27.5l-20.2 9.9l-6.4 -6.9l26.5 58.7l-15.9 1.8l-9 -30.3l-4 -11.9l-3.8 33.2l20.9 -57.6l-8 82.4l7.9 -43.0l12.8 22.5l-15.8 -37.0l18.7 -2.3l-35.9 23.2l28.4 -19.0l-2.8 -25.8l9.6 55.6l-34.9 1.6l17.7 6.2l2.1 -17.2l1.1 17.7l-4 22.2l-8.2 -68.4l21.2 53.1l2.9 -47.7l-9.3 49.1l12.5 -49.3l-16.7 -15.7l-15.7 59.2l19.9 4.4l-19.4 -64.1l19.2 78.5l-1.3 -13.4l-15.1 -11.8l-2 -.6l-1.1 -57.2l.2 38.9l23.8 46.8l-18.2 -91.1l23 22.8l-30.3 21.8l11.4 -54.9l2.8 25.1l-4.4 3.8l23.3 38.5l-28.8 -17.1l10.5 -43.2l-11 24.2l-4.8 24.8l21.7 31.6l-12 -51.7l6 7.9l7.1 -23.0l-22.3 8.5l-.3 -5.0l23.9 23.3l12.2 -9.9l-39.6 23.4l17.5 -22.2l22.1 -1.5l-6.5 .9l4.8 31.7l-17.2 -33.0l18.5 15.9l-34.9 24.4l14 -29.1l14.7 -17.0l-17.9 31.1l2.8 -56.9l-.5 34.3l-2 -20.2l16.2 11.3l-1 67.0l-17 2.9l-1.3 -64.2l19.5 24.9l-2.7 3.1l3 -29.6l-5.1 4.8l9.7 2.4l-5.1 33.5l-8.2 -64.4l-11.4 10.6l-8.9 42.3l17.8 -99.2l0 156.0l69.8 -94.4l-19.2 28.2l7.8 -8.3l-7.5 54.5l20.3 -60.3l-9.9 -3.9l-15.7 -2.9l30.3 -7.7l-27.9 36.2l-.8 22.7l20.2 -59.3l-20.9 51.8l18.7 -26.2l-13.3 44.3l-10.7 -74.9l27.4 25.1l-5.6 15.1l2.1 -5.4l2.2 -5.4l-2.6 29.8l-16.9 -65.3l8.5 -4.1l6.3 29.6l9.9 21.1l-7.8 -27.3l-6.4 -20.4l13.2 16.3l1.5 18.1l-24.5 -15.8l.2 41.3l-7.9 -53.7l27.9 -16.9l-20.6 17.8l13.3 -3.5l-1.7 10.6l3.8 48.1l7.4 -71.2l-7.4 4.8l-16.1 58.7l8.4 -19.8l-8.6 -28.0l6.8 8.0l12.8 41.0l-3 -.2l-1 3.7l10.8 -39.7l2.9 -14.5l-26.8 1.5l17.4 28.5l-2.4 -15.1l-25 20.6l34.8 -42.1l-20 27.4l11.4 9.8l-15.4 -40.7l5 32.7l-12.6 8.0l32.2 17.6l-35.6 -24.8l8.1 -40.8l18.7 68.3l-5.2 -58.9l-8.3 59.3l22.3 -7.5l-9.9 -49.4l-8.3 52.6l10.6 -16.8l9.1 2.5l-7.1 -45.0l-16.1 20.7l16.4 26.6l-22.5 -2.3l6.8 -21.0l23.6 28.5l-10.1 -35.7l-12.1 -11.6l4.8 10.2l-3.8 46.1l7.9 -64.2l-4.8 36.6l-2.1 -39.6l-2 26.1l19.1 17.4l-8.9 44.7l-12.4 -96.3l1.5 68.3l19.9 -31.7l-8.3 -14.4l-5 -12.1l1.9 63.6l-11.3 -70.8l9.4 61.7l7.5 -9.3l-11.3 -60.5l-2.7 57.3l.9 -2.2l5.8 34.3l-14.7 -36.1l25.2 -4.7l-30 -11.8l28.1 15.9l-10.7 28.6l-6.2 -74.7l-5 52.7l1.3 10.4l-5.1 -12.9l31 24.4l-24.8 -4.0l-3.3 16.4l17.1 -17.4l3.2 32.0l-17.8 -61.0l-2 20.1l14.3 -4.0l-10.7 -15.2l5.6 20.7l3.2 -62.4l13.7 81.0l-20.4 -38.4l-.2 -10.3l13.9 24.4l-6.2 18.6l9.7 3.1l-14.2 -60.2l7.7 37.1l-5.2 -18.5l1.8 61.2l-2.6 -33.1l-13.2 -28.2l-2.2 14.7l11.5 -2.4l22.3 22.0l-17.7 -47.6l-.3 29.6l-2 -22.9l12.9 4.5l-16.6 29.6l1.1 -14.3l-2.3 -4.4l9.5 25.5l-3.5 -21.7l4.8 17.6l8.3 18.9l-18.8 -39.5l11.8 -3.6l13.1 -14.6l-8.7 6.6l3 35.3l-1 -1.1l-21.6 -49.3l15.1 47.2l-8.5 29.2l.1 -1.6l-10.6 -26.1l20.4 -65.6l5.6 82.1l-1.3 -70.8l-13.2 53.4l19.6 -10.6l-6.4 15.5l-8.1 -69.2l6 9.5l1.6 55.7l-30 -31.8l22.8 52.7l2.9 -27.8l-11.9 -19.1l18.4 17.1l-3 -23.8l-16 72.2l4.8 -119.8l-18.5 68.7l17.5 39.9l-11.2 -24.8l1.3 18.3l5.7 -14.9l14.5 -51.5l-21.2 26.3l28.6 -31.9l-25.1 .5l16.7 -21.4l-15.1 72.2l21.2 6.1l-12.4 -33.6l9.6 -28.9l-11.5 .2l-7.6 37.0l24.6 -14.7l-26 -34.5l-.3 12.2l1.2 74.3l11.9 -62.0l6.7 -3.6l-19.1 14.0l13.6 13.6l5.1 42.7l-28.6 -54.6l29 -16.4l-22.1 5.5l4 73.8l9 -80.3l-4.1 9.2l.8 -8.3l4 -59.9l-2.4 156.0l2.3 1.4l48.1 -56.4l13.3 -73.4l4.6 -14.0l-10.2 80.9l-6.5 -24.9l17.8 35.4l2.2 -26.9l-22.4 -52.6l19.6 24.7l-6 77.4l17.5 -79.9l-13.7 22.4l-1.8 61.5l-18.3 -83.4l15 32.7l-13.6 29.6l1.3 -21.2l13.2 22.1l11.6 -3.3l7.9 -38.8l-10 49.1l-9.7 -14.1l-1.8 -7.5l9.7 -39.3l-13.4 -3.7l-11 -11.4l25.4 2.0l8.9 46.3l-2 -3.8l-11.7 31.5l4.7 -88.7l-20.2 21.9l2.4 -10.6l21.2 67.4l-11.5 -32.5l-11.4 14.1l13 -92.1l5.2 109.5l8.1 -20.4l-31.1 -21.5l7.3 3.6l8.8 28.1l13.8 -28.7l4.6 24.4l-30.2 25.3l5.2 -73.4l2.6 17.1l20.6 28.2l-12.5 -58.9l-9 98.7l7.3 -31.5l-13.1 -59.8l25.2 25.8l-18.4 11.4l5.9 16.0l7.6 -51.5l-9.6 24.4l-18.7 7.5l12 -8.5l-11 -20.5l15.1 71.7l19.1 -11.3l-10.9 25.2l13.8 -52.4l-31.8 30.4l19.5 -40.2l-3 78.4l-5.8 -131.8l13.4 81.5l-27.7 -42.1l20.9 100.0l8.4 -120.8l-25.7 56.6l-.8 26.8l26.6 -65.2l-10.5 9.4l17 15.9l-18.4 13.5l-13.2 -22.5l3.3 -25.2l14 7.0l-12.7 19.4l26.1 -7.8l-10.4 48.3l-6 -15.6l12.3 -12.2l-2.8 -7.2l-16.9 -25.7l8.1 -3.2l-6.7 15.2l-16.1 8.0l7.4 47.1l7 -104.4l-15 57.0l26.6 71.2l-6.8 -67.9l-10.3 17.2l-6.9 -6.4l22 38.0l-8.2 -55.7l18.3 14.9l-9.9 -12.8l-21.4 -6.9l33.6 39.8l-1.9 -38.4l-21.3 20.8l13 -61.1l-4.8 -14.5l-16.7 96.4l3.9 -45.1l3 7.9l9 59.5l-1.5 -68.1l2.7 12.9l-12.9 64.0l5.2 -87.8l-8.3 .1l9.9 -17.0l23.2 29.8l-36.2 2.3l-2 36.9l14.4 -14.9l-1 -17.3l-11.2 -12.1l30.1 40.3l-1.4 -14.2l-1.2 -35.8l-7.7 -21.4l-3.6 -27.3l2 42.8l-14.9 51.3l-4.1 13.8l34.5 -50.5l-1.1 13.9l-25.8 10.8l10.4 -12.0l-11.8 -37.3l23.8 60.2l.4 -48.0l3.9 6.6l-33.3 8.4l29.6 -25.1l-29.1 64.0l22 30.4l9 -16.0l-27.8 -56.5l14.9 -21.7l8.2 14.4l1.3 36.2l-2.7 -49.4l-2.5 38.4l-6.7 -8.9l1.3 20.8l9.3 -.2l-4.2 -55.8l-.1 65.7l6.7 10.9l-22.7 -19.1l3.1 13.5l2.7 -51.1l-6.1 17.8l15 62.3l-22.7 -23.4l35.6 -39.6l-32 26.4l20 -2.0l2.5 15.6l-18.1 -31.2l-3.4 -44.4l33.1 41.5l-4.6 -16.9l-15.7 8.5l-6.8 64.2l6.5 -13.1l3.2 12.2l-10.8 11.4l10.5 -116.8l5.6 48.2l-20.1 10.9l8 45.7l-.9 -60.3l-4.3 14.3l8 -70.0l-10.5 28.4l4.7 26.9l22.1 21.7l-11.7 52.0l-5.4 -77.0l-13.5 21.6l8.7 -2.3l15.5 -16.5l-9.3 -45.8l11 43.8l-3.1 -6.9l-7.4 12.5l7.6 26.6l-7.5 -1.5l-.7 -118.2l2.6 14.7l-1.1 177.9" fill="none" stroke="none" marker-start="url(#m27)" marker-mid="url(#m27)" marker-end="url(#m27)"/>
<line x1="757.3" y1="2158.6" x2="757.3" y2="2121.9" stroke="#111" stroke-width="3.2" stroke-dasharray="9 4"/>
<line x1="757.3" y1="2194.1" x2="757.3" y2="2233.3" stroke="#111" stroke-width="3.2" stroke-dasharray="9 4"/>
<line x1="745.3" y1="2121.9" x2="769.3" y2="2121.9" stroke="#111" stroke-width="2.2"/>
<line x1="745.3" y1="2233.3" x2="769.3" y2="2233.3" stroke="#111" stroke-width="2.2"/>
<rect x="733.3" y="2175.3" width="48.0" height="8" fill="#000"/>
<line x1="817.4" y1="2153.8" x2="817.4" y2="2105.1" stroke="#111" stroke-width="3.2" stroke-dasharray="9 4"/>
<line x1="817.4" y1="2186.6" x2="817.4" y2="2233.7" stroke="#111" stroke-width="3.2" stroke-dasharray="9 4"/>
<line x1="805.4" y1="2105.1" x2="829.4" y2="2105.1" stroke="#111" stroke-width="2.2"/>
<line x1="805.4" y1="2233.7" x2="829.4" y2="2233.7" stroke="#111" stroke-width="2.2"/>
<rect x="793.4" y="2168.4" width="48.0" height="8" fill="#000"/>
<line x1="877.8" y1="2137.3" x2="877.8" y2="2077.9" stroke="#111" stroke-width="3.2" stroke-dasharray="9 4"/>
<line x1="877.8" y1="2177.4" x2="877.8" y2="2237.9" stroke="#111" stroke-width="3.2" stroke-dasharray="9 4"/>
<line x1="865.8" y1="2077.9" x2="889.8" y2="2077.9" stroke="#111" stroke-width="2.2"/>
<line x1="865.8" y1="2237.9" x2="889.8" y2="2237.9" stroke="#111" stroke-width="2.2"/>
<rect x="853.8" y="2154.4" width="48.0" height="8" fill="#000"/>
<rect x="720.5" y="2048.2" width="194.5" height="210.7" fill="none" stroke="#222" stroke-width="1.5"/>
<text x="1113.2" y="2010.5" font-size="20.5" text-anchor="middle" fill="#FF0000">M7 MAPK/metabolism</text>
<text x="1113.2" y="2035.1" font-size="20.5" text-anchor="middle" fill="#FF0000"><tspan font-style="italic">P</tspan> = 8.4 × 10<tspan font-size="14" dy="-9">−19</tspan></text>
<line x1="1007.5" y1="2057.2" x2="1015.9" y2="2057.2" stroke="#444" stroke-width="1.2"/>
<text x="994.2" y="2064.3" font-size="20" text-anchor="end">0.15</text>
<line x1="1007.5" y1="2092.1" x2="1015.9" y2="2092.1" stroke="#444" stroke-width="1.2"/>
<text x="994.2" y="2099.3" font-size="20" text-anchor="end">0.10</text>
<line x1="1007.5" y1="2127.1" x2="1015.9" y2="2127.1" stroke="#444" stroke-width="1.2"/>
<text x="994.2" y="2134.2" font-size="20" text-anchor="end">0.05</text>
<line x1="1007.5" y1="2162.0" x2="1015.9" y2="2162.0" stroke="#444" stroke-width="1.2"/>
<text x="994.2" y="2169.2" font-size="20" text-anchor="end">0</text>
<line x1="1007.5" y1="2196.9" x2="1015.9" y2="2196.9" stroke="#444" stroke-width="1.2"/>
<text x="994.2" y="2204.1" font-size="20" text-anchor="end">−0.05</text>
<line x1="1007.5" y1="2231.9" x2="1015.9" y2="2231.9" stroke="#444" stroke-width="1.2"/>
<text x="994.2" y="2239.1" font-size="20" text-anchor="end">−0.10</text>
<line x1="1053.1" y1="2256.2" x2="1053.1" y2="2264.2" stroke="#444" stroke-width="1.2"/>
<line x1="1113.5" y1="2256.2" x2="1113.5" y2="2264.2" stroke="#444" stroke-width="1.2"/>
<line x1="1173.2" y1="2256.2" x2="1173.2" y2="2264.2" stroke="#444" stroke-width="1.2"/>
<text x="1050.1" y="2293.2" font-size="20" text-anchor="middle">Cntl</text>
<text x="1110.5" y="2293.2" font-size="20" text-anchor="middle">AsymAD</text>
<text x="1174.2" y="2293.2" font-size="20" text-anchor="middle">AD</text>
<rect x="1029.1" y="2162.0" width="48.0" height="33.3" fill="#3A3A3A" stroke="#555" stroke-width="0.8"/>
<rect x="1089.5" y="2148.7" width="48.0" height="42.5" fill="#3A3A3A" stroke="#555" stroke-width="0.8"/>
<rect x="1149.2" y="2126.2" width="48.0" height="42.0" fill="#3A3A3A" stroke="#555" stroke-width="0.8"/>
<defs><marker id="m28" markerUnits="userSpaceOnUse" markerWidth="10.4" markerHeight="10.4" refX="5.20" refY="5.20" overflow="visible"><circle cx="5.20" cy="5.20" r="3.3" fill="#D8D8D8" fill-opacity="0.35" stroke="#333" stroke-width="0.9" stroke-opacity="0.85"/></marker></defs><path d="M1047.1 2148.3l-4.4 32.1l11.3 4.5l-3.5 33.3l6.5 -43.8l-10.9 -7.9l19 20.7l-15.3 -2.6l-6.4 32.3l17.6 -77.0l8.3 27.7l-8.8 18.5l-5.6 -25.4l13.4 6.9l3 6.3l-38.7 7.9l20 -7.0l-18.9 -10.3l13.3 -9.8l-3.3 -.7l7.8 11.9l7.9 -13.6l8.8 28.8l-21.3 36.9l-7.1 -2.1l31.3 -62.4l-11 66.8l-5.1 -22.2l-18.2 -21.6l.6 -24.7l29.7 55.2l-12.9 -8.6l12.4 -1.8l-1.6 -19.8l-2.6 -21.2l2.6 4.9l-18.3 -25.5l-1 77.7l5.6 4.1l12.9 -32.8l1 1.2l-3.5 -37.0l-5.5 11.9l-4 -4.9l-11.9 21.7l19.5 -12.1l-.4 1.6l-5.7 16.0l8.3 -21.2l4.7 52.6l1.9 -62.4l-30.8 9.2l6.4 18.1l11.9 39.1l4.3 -23.8l-16.3 -11.8l25 15.3l-17.2 12.5l12 -22.5l-23.4 26.9l5.4 -67.4l-5.4 70.2l24.1 -55.3l-10.7 -11.1l17.5 14.7l-15.2 -24.8l-10.2 25.7l1.9 -12.4l.7 46.0l-4.8 9.9l-6.2 -18.8l21.8 -17.8l-12.8 -22.0l5.1 58.3l9.4 -15.2l-16.3 3.8l6.1 -41.8l-4.7 36.3l1.1 -44.9l12.6 39.3l-21.7 10.3l11.1 -.7l-5.2 26.3l15.6 -29.8l-14.1 4.8l16.3 -75.6l-9.5 44.0l6.6 -12.2l-4.9 19.8l12.3 8.8l-7.9 33.4l-1.2 -4.9l-17.6 -71.5l-.9 50.4l24.3 -.3l-13.3 -32.5l23 25.8l-14.1 .6l.7 -59.9l3.7 43.4l8.8 20.2l-12.4 .3l10.1 8.2l-19.5 -28.6l-6.2 -5.2l-6.1 30.1l5 -8.8l20.3 35.5l-9.4 -111.5l-2.4 140.5l63.3 -110.7l-20 29.8l31.3 36.5l-6.5 -21.4l-9.6 -34.2l16.9 22.3l-23.8 -34.8l23.4 75.2l2 -48.1l-15.8 34.8l-14.9 -13.0l13.9 8.2l-12.6 7.4l15.3 -104.9l-15.6 72.2l15.6 -20.6l-4.4 13.4l.1 -51.8l6.9 82.2l-2.2 23.9l13.6 -62.8l-16.6 51.7l3.9 -79.3l6.2 78.4l-22.2 -21.5l15.4 -30.5l-12.2 58.1l10.6 -26.6l.6 -20.3l11.3 58.5l7.7 -44.5l-25.2 42.9l20.6 -40.2l-18 -59.2l-4 7.6l11.2 52.3l-12.2 .4l25.2 17.5l-2.1 -50.0l-32.6 2.3l32.1 68.7l-.4 -14.8l-25.4 11.3l18.1 -47.6l-4.3 -2.1l-16.7 3.4l22.3 -15.5l-27.2 .9l12.7 19.3l6.8 -17.6l11.8 34.2l-15.6 -41.3l-3.7 -9.3l6.4 -19.3l2.5 56.1l-5.5 -26.4l-13.1 22.6l26 -49.3l-21.4 51.4l-.4 -14.2l1.4 31.0l30.8 -18.1l-36.6 -14.1l21.5 46.2l-1.4 -26.3l-13.8 12.9l22.7 -21.1l-23.1 -28.9l-4.9 27.0l1.7 -37.8l20.6 64.5l-24.6 -10.7l23.2 -5.6l.9 23.8l-21.9 -41.9l34.1 35.8l-31.6 1.7l6.5 -33.0l18.5 33.6l-21.1 -24.7l21.5 2.7l-5.1 -39.0l.8 -11.2l-12.4 30.0l-3.6 39.4l7.5 -49.2l2.9 -53.1l-21.3 91.9l2.5 -4.1l10 -50.5l-11.8 45.6l29.2 9.0l5.1 -49.4l-15 67.1l-6.4 -61.4l3.2 59.3l17.7 -44.1l-5.6 19.7l-7.3 24.9l3 -54.6l6.6 74.5l-7 -65.9l-16.7 24.6l25.4 -40.3l-27.9 73.7l1.6 -70.1l6.8 -36.3l1.5 87.0l7.8 -20.4l8.4 -31.2l-21.8 23.2l24.6 30.6l6.2 -30.0l-5 12.9l-3 9.7l-10.6 28.7l-3.3 -93.4l-13 56.6l9.7 -24.8l-3.1 65.7l2.4 -71.0l-12.8 22.5l34.1 33.9l-19.1 -56.0l-8.4 70.0l-2.7 -71.4l12.5 -13.3l-10.9 81.4l19.8 -48.4l-12.4 -46.5l11 41.2l-10.7 52.5l1 -75.8l19.9 32.3l-17.8 -6.4l13.8 52.9l-4.7 -56.3l3 2.8l-3 47.9l-4.8 -55.0l-10.1 27.9l14.5 -37.5l-24.6 .5l8.7 54.5l17.7 16.1l2.1 -88.0l-29.8 23.1l29.7 41.6l-12.4 -56.6l-9.9 16.8l28.8 4.7l-14.2 31.0l-12.6 3.2l23.1 -61.8l-31.6 44.8l26.5 6.6l.6 -29.7l-1.4 56.3l-8.7 -32.6l-7.3 -3.1l-3.3 -.3l21.5 22.0l-9.8 -92.7l-12.6 16.4l20.4 67.4l1.6 -4.7l2.6 -2.1l-13 -3.0l8.4 6.9l-3 -20.3l5.5 -27.5l-19.4 23.7l-.6 -18.8l19.8 76.9l-15.9 -100.1l-12.2 75.5l24.6 10.5l4 -2.9l4.4 -47.1l5.6 21.3l-33.5 36.7l31.9 -36.0l-22.8 -72.4l-11 61.2l6.3 18.9l-6.2 14.4l-5.3 -37.7l8.6 46.6l14.2 -30.0l-16 35.1l23.4 -66.3l-27.6 55.2l9.8 -77.6l-3.9 17.3l-4.1 24.9l.8 -37.6l15.5 -5.6l-17 70.1l7.5 -79.0l-9.3 30.7l29.6 -9.5l-25.3 43.9l10.5 -6.7l4.8 -95.1l-2.5 1.4l.8 1.4l60.3 25.7l-2.4 13.3l5 63.3l9.3 -66.2l-15.8 -3.7l-6.6 9.0l-2.9 55.8l30.1 -31.8l2.1 -25.5l-7.6 -4.7l-7.5 45.4l2.6 -27.1l-.8 -16.0l-16.8 77.6l5.1 -16.1l1.5 -12.8l-5.2 13.8l11.1 -23.6l15.5 -33.4l-5.7 33.2l-16.7 13.4l3.5 -11.2l12.8 -67.6l-9 -3.9l-9 86.2l11.2 -71.0l-14.7 1.9l23.4 50.0l-17.4 -8.8l-.2 -17.6l15 52.9l-23.9 -26.1l13.2 -13.5l-11.7 36.4l7.1 -22.2l.2 -45.9l15.2 96.4l-2.9 -111.6l-14.6 -4.6l-7.5 57.6l1.1 -8.4l11.5 2.8l6 60.5l13.5 -64.8l-17.6 23.3l-14 -12.6l-.5 -35.2l18.5 38.6l4.7 -17.7l5.1 22.0l-25.6 -46.2l-2.8 61.3l1 1.1l14.1 17.6l12.4 -45.7l-18.2 -24.9l-1.6 -24.0l-6.9 27.3l13.9 13.6l-9.1 5.2l15.3 23.5l-7 9.3l6.8 -49.1l-20.1 18.5l17 20.3l-1.9 -16.8l5.9 -30.8l-15.7 10.8l-5.4 19.3l2 1.3l16.8 36.1l9.6 -69.3l-12.1 7.6l-.1 28.6l-1.4 43.7l17.5 -38.3l-24.9 -17.0l-11.1 25.0l12.6 -40.6l-.2 66.5l-4.2 -12.9l4.9 -3.4l12.4 -60.8l13.3 29.5l-41.4 -2.2l7.1 21.3l3.9 -45.5l20.3 23.6l-17.9 -24.2l.9 -5.5l8.7 60.5l-10.1 -81.7l8.3 47.9l-17 37.4l11.4 -88.3l17.5 90.7l-11.8 -2.4l3.4 16.5l-12.1 -71.8l-6.1 30.3l23.6 -53.8l-9.7 36.0l-6.7 16.1l10.7 5.1l4.7 -54.8l1.2 55.9l-18.6 20.3l24.7 -53.4l-19.4 39.3l-2.7 -33.9l-9 -.3l34.5 13.5l-16.8 -3.8l-.2 -19.6l12.5 -6.6l-29 67.1l8.4 12.1l-9.8 -70.7l15.5 69.4l-19.4 -50.2l37.6 9.0l-17.4 -37.7l13.1 40.9l1.7 -8.8l-2.6 46.8l-20.8 -49.5l12.1 53.7l2 -70.8l9.1 -11.1l-23.3 14.0l14.9 21.1l4.1 26.2l-8.9 -14.2l-17.7 -39.4l26.7 -3.9l-27.6 2.1l13.7 36.5l-4.3 20.0l6.1 30.6l15.6 -86.8l4.9 33.2l-3.5 11.6l-1.7 -28.3l-33.2 23.1l22.8 1.9l-2 16.9l5.3 -37.0l-8.6 56.2l10.9 -9.8l-27.7 -48.4l30.3 34.5l4.5 -26.9l-17.2 -14.5l3 21.1l-14.5 -53.3l25.1 67.8l-1.6 12.9l-27.7 -33.3l16.6 14.8l-14.4 -24.8l33.3 -7.5l-9 29.0l.5 34.3l-9.3 -.2l7.5 -92.2l-19.7 60.1l10.3 -30.3l5.1 28.4l9.8 8.5l-18.8 21.3l-15.6 -41.1l19.4 -25.8l-9.4 1.6l-1.1 .7l-.7 19.2l25.3 33.5l-16.2 -37.1l-2.9 37.7l-1.7 -18.1l10.9 14.7l-3.2 9.5l5.6 -6.7l4.6 -3.2l3.9 -27.9l-19.7 -15.5l5.9 6.7l10.7 44.2l-1.4 -14.3l-19.8 -66.7l10.8 27.2l-5.1 3.8l9.4 6.9l-13.9 -16.1l13.8 48.1l-3.2 16.9l3 -64.9l1.9 53.8l-12.9 -30.8l-.5 -44.0l5.2 -45.5" fill="none" stroke="none" marker-start="url(#m28)" marker-mid="url(#m28)" marker-end="url(#m28)"/>
<line x1="1053.1" y1="2162.0" x2="1053.1" y2="2115.2" stroke="#111" stroke-width="3.2" stroke-dasharray="9 4"/>
<line x1="1053.1" y1="2195.3" x2="1053.1" y2="2226.3" stroke="#111" stroke-width="3.2" stroke-dasharray="9 4"/>
<line x1="1041.1" y1="2115.2" x2="1065.1" y2="2115.2" stroke="#111" stroke-width="2.2"/>
<line x1="1041.1" y1="2226.3" x2="1065.1" y2="2226.3" stroke="#111" stroke-width="2.2"/>
<rect x="1029.1" y="2172.7" width="48.0" height="8" fill="#000"/>
<line x1="1113.5" y1="2148.7" x2="1113.5" y2="2088.6" stroke="#111" stroke-width="3.2" stroke-dasharray="9 4"/>
<line x1="1113.5" y1="2191.2" x2="1113.5" y2="2224.2" stroke="#111" stroke-width="3.2" stroke-dasharray="9 4"/>
<line x1="1101.5" y1="2088.6" x2="1125.5" y2="2088.6" stroke="#111" stroke-width="2.2"/>
<line x1="1101.5" y1="2224.2" x2="1125.5" y2="2224.2" stroke="#111" stroke-width="2.2"/>
<rect x="1089.5" y="2169.5" width="48.0" height="8" fill="#000"/>
<line x1="1173.2" y1="2126.2" x2="1173.2" y2="2086.5" stroke="#111" stroke-width="3.2" stroke-dasharray="9 4"/>
<line x1="1173.2" y1="2168.2" x2="1173.2" y2="2214.4" stroke="#111" stroke-width="3.2" stroke-dasharray="9 4"/>
<line x1="1161.2" y1="2086.5" x2="1185.2" y2="2086.5" stroke="#111" stroke-width="2.2"/>
<line x1="1161.2" y1="2214.4" x2="1185.2" y2="2214.4" stroke="#111" stroke-width="2.2"/>
<rect x="1149.2" y="2140.5" width="48.0" height="8" fill="#000"/>
<rect x="1015.9" y="2046.1" width="194.7" height="210.1" fill="none" stroke="#222" stroke-width="1.5"/>
<text x="1412.2" y="2010.5" font-size="20.5" text-anchor="middle" fill="#000">M25 sugar metabolism</text>
<text x="1412.2" y="2035.1" font-size="20.5" text-anchor="middle" fill="#000"><tspan font-style="italic">P</tspan> = 1.2 × 10<tspan font-size="14" dy="-9">−9</tspan></text>
<line x1="1306.2" y1="2053.6" x2="1314.6" y2="2053.6" stroke="#444" stroke-width="1.2"/>
<text x="1292.9" y="2060.8" font-size="20" text-anchor="end">0.15</text>
<line x1="1306.2" y1="2086.6" x2="1314.6" y2="2086.6" stroke="#444" stroke-width="1.2"/>
<text x="1292.9" y="2093.8" font-size="20" text-anchor="end">0.10</text>
<line x1="1306.2" y1="2119.6" x2="1314.6" y2="2119.6" stroke="#444" stroke-width="1.2"/>
<text x="1292.9" y="2126.8" font-size="20" text-anchor="end">0.05</text>
<line x1="1306.2" y1="2152.6" x2="1314.6" y2="2152.6" stroke="#444" stroke-width="1.2"/>
<text x="1292.9" y="2159.8" font-size="20" text-anchor="end">0</text>
<line x1="1306.2" y1="2185.6" x2="1314.6" y2="2185.6" stroke="#444" stroke-width="1.2"/>
<text x="1292.9" y="2192.8" font-size="20" text-anchor="end">−0.05</text>
<line x1="1306.2" y1="2218.6" x2="1314.6" y2="2218.6" stroke="#444" stroke-width="1.2"/>
<text x="1292.9" y="2225.8" font-size="20" text-anchor="end">−0.10</text>
<line x1="1306.2" y1="2251.6" x2="1314.6" y2="2251.6" stroke="#444" stroke-width="1.2"/>
<text x="1292.9" y="2258.8" font-size="20" text-anchor="end">−0.15</text>
<line x1="1352.0" y1="2256.2" x2="1352.0" y2="2264.2" stroke="#444" stroke-width="1.2"/>
<line x1="1412.1" y1="2256.2" x2="1412.1" y2="2264.2" stroke="#444" stroke-width="1.2"/>
<line x1="1472.5" y1="2256.2" x2="1472.5" y2="2264.2" stroke="#444" stroke-width="1.2"/>
<text x="1349.0" y="2293.2" font-size="20" text-anchor="middle">Cntl</text>
<text x="1409.1" y="2293.2" font-size="20" text-anchor="middle">AsymAD</text>
<text x="1473.5" y="2293.2" font-size="20" text-anchor="middle">AD</text>
<rect x="1328.0" y="2146.4" width="48.0" height="31.3" fill="#FFA500" stroke="#555" stroke-width="0.8"/>
<rect x="1388.1" y="2141.2" width="48.0" height="36.5" fill="#FFA500" stroke="#555" stroke-width="0.8"/>
<rect x="1448.5" y="2124.2" width="48.0" height="36.3" fill="#FFA500" stroke="#555" stroke-width="0.8"/>
<defs><marker id="m29" markerUnits="userSpaceOnUse" markerWidth="10.4" markerHeight="10.4" refX="5.20" refY="5.20" overflow="visible"><circle cx="5.20" cy="5.20" r="3.3" fill="#FFF4DC" fill-opacity="0.35" stroke="#333" stroke-width="0.9" stroke-opacity="0.85"/></marker></defs><path d="M1343.2 2114.7l24.2 60.1l-12.8 -10.3l-6.6 15.4l5.9 1.3l11.1 -52.4l-13.2 32.1l-4.2 5.8l-5.2 -30.1l6.9 -18.9l11.9 18.6l-5.3 2.2l-12.5 40.8l20.9 -47.6l-25.7 10.0l8.4 45.3l15.6 -7.9l5.8 -30.2l-17.8 38.4l-15.7 -1.1l19.3 -.7l-5.1 -37.7l-14.8 33.0l11.4 -14.0l21.4 -17.8l-30 -15.0l4.1 1.9l-1.6 7.2l24.1 4.8l-16.2 57.9l12.3 -42.9l-1.8 -25.6l-24 5.2l15.5 30.5l-12.2 -26.7l27.3 17.1l-13 -4.7l-5.1 9.7l16.7 15.9l-2.7 16.5l-21.3 -5.4l-3.7 -22.7l12.3 31.8l-3.3 -54.7l5.5 -14.0l-.6 3.7l22.2 17.1l-12.6 -2.9l11.6 -2.6l-13.7 18.6l-15.9 .0l13.8 -9.1l-17 -.9l17.7 -4.3l-17.2 23.9l27.1 -47.3l-21.1 15.6l24 21.9l-24.5 26.7l-1.2 -4.9l-1 -20.0l23.9 -4.8l-1.5 16.6l-3 -41.2l-6.7 51.9l-13 -63.5l4.1 72.0l-11.5 -55.5l32.9 40.6l-24.4 14.3l18.6 -33.7l-29.8 -.4l11.8 -2.3l13.1 -16.9l-17.1 22.2l-1.4 18.5l31 -29.2l-23.7 -24.1l-11.6 9.0l24.2 55.3l11.5 -13.6l-15.3 -8.1l-20.1 -2.4l15.5 10.9l6.3 6.3l-10.6 4.8l5 -72.7l12.3 34.6l-3.5 -.9l6.4 -10.6l5.6 21.5l-17.9 -20.7l18.2 -1.1l-34.6 5.8l16.4 6.3l5.9 -16.0l11.3 15.2l-19.1 12.8l-1.5 -12.2l18.8 -5.3l-17.2 25.4l-17.5 -16.9l16.8 16.9l-7.8 -14.2l16 -12.7l4.2 -17.3l-12.4 -75.7l1.1 4.6l2.3 21.8l-.4 3.3l53.3 64.7l-8.9 33.5l8.9 -80.5l-10.6 68.6l5.2 -30.6l15.1 47.2l-1.7 -22.7l11.8 2.1l-11.5 -16.5l-9.4 3.7l1.7 -30.9l18.5 20.7l-28.6 -23.7l1.5 47.6l11.4 -23.8l-6.8 57.5l5.2 -67.8l-10.3 29.3l16 56.8l13.5 -65.7l-19.5 22.3l12.2 -59.7l-28.1 52.5l3.8 -22.5l1.6 .7l24.8 -17.9l-14.6 -32.0l7.3 47.2l11.8 23.5l-12.2 -29.6l-6.4 15.7l5.9 3.8l4.6 -5.2l-3.5 33.3l-1.5 -55.1l-16.1 8.8l34 7.3l-10 8.7l6.4 3.1l-4.6 -21.2l-22.4 33.3l8.8 -5.6l6.2 -26.0l-16 37.8l24.9 -35.8l-13.2 18.2l3.9 -5.3l13.8 -5.7l-24.4 -10.9l.4 12.4l9.9 35.6l-18.6 -11.8l5.1 -15.7l-.8 17.4l18.5 46.2l-4 -18.9l8.9 -38.8l-7 -27.7l-11.5 -10.2l4.2 -38.8l18.9 89.4l-12.8 3.4l.2 -13.5l-7.3 -11.9l19.8 -6.5l-24.1 -36.7l23.1 43.9l-9.5 -34.5l2.9 19.2l11 25.1l-20.5 37.3l1.7 -55.8l-4.9 10.3l7.3 51.1l7.8 -84.6l-1.5 51.4l-21.3 -25.0l21.2 -28.4l-28.3 16.6l24.3 25.3l-19.6 -3.3l6.6 -23.2l9.8 8.8l-17.5 18.2l22.9 -31.5l-2.8 -9.1l6.2 35.6l-12.3 25.6l15 -29.1l-7.9 44.1l-4.5 -35.9l4.6 -15.6l-16.3 21.3l12.7 22.6l-8.8 -79.6l-8.7 54.0l18.7 -28.6l13.6 10.1l-18.9 23.5l-8 -59.0l15 50.2l-17.5 -26.8l17.8 10.5l2.9 -12.0l-16.7 65.4l-.8 -45.4l6.2 -6.7l9 18.2l-4.1 61.5l13.9 -47.6l-12.4 -13.0l13.7 -20.5l-27.5 39.1l3 13.4l25.8 -55.2l-7.1 8.7l-16.4 12.3l-11.3 -34.7l5.5 16.4l6.4 1.0l-4.6 70.3l11.8 -96.1l12.3 54.6l-22.4 -11.6l1 -31.7l-3.4 28.4l5 -15.2l8.4 -2.1l-7.9 -51.2l-15 53.2l1.5 25.4l34.4 -5.5l-10.7 -7.8l-21 15.2l11.1 -36.9l13.8 12.6l-15.4 -3.4l10.9 30.9l4.8 32.3l-16.1 -72.7l3.3 27.6l-11.8 7.8l21.8 -1.7l-8.7 -49.4l1.5 87.1l-8.2 -70.6l12.5 17.1l-3 -53.5l5.8 114.0l3.2 -65.2l-28.4 14.5l6.4 30.9l6.9 -10.7l-6.1 3.4l-2.6 -16.8l-.8 -16.8l27.5 11.3l-19.8 59.1l15.3 -36.8l-10.6 -6.5l10.9 -17.3l-10.9 -47.6l-6 -5.7l3.8 79.2l10.5 27.9l.2 -104.5l-1.2 52.1l-9.1 -41.6l9.7 73.4l-21.5 -40.2l13.5 28.2l-4.1 -7.4l3.2 22.4l15.2 -39.5l-21.1 -54.7l-.2 71.9l10.7 -5.5l-6.4 41.5l18.3 -83.9l-16.8 17.9l-18.4 4.4l11.8 16.9l-.3 -13.6l6.7 -39.1l-9.1 89.5l28.6 -33.8l-19.8 -37.1l9.7 52.0l-7.7 18.5l-.3 -10.9l-3.8 6.9l20.7 -28.5l-28.2 -44.1l13.1 44.7l-6.7 25.2l-1.2 -23.5l-8.3 -37.5l32.2 -6.2l-22.6 58.6l13.6 -13.4l-6.6 -108.3l.7 1.3l-1.9 5.3l.1 1.3l6.4 137.3l-6.1 29.7l42.2 -101.9l19.7 -7.1l-9.2 -23.8l-2.3 6.2l29.9 33.8l-31.9 25.3l2.6 -9.5l5.7 -41.7l-4.5 49.8l-5.1 -50.3l5.3 38.8l7.9 -28.0l5.8 39.4l10.4 -65.3l-19.6 9.3l-6.6 -33.0l25.6 53.1l-10.2 -17.8l13.9 19.7l-7.8 21.3l-31 -25.4l25.5 19.8l-11.1 -15.4l8.7 -35.1l-21.2 39.6l2.8 26.5l14.8 -97.7l-1.1 81.5l13.5 -55.9l-20.1 -1.3l10.6 15.5l-.7 23.4l-3.9 31.0l6.5 -49.4l1.7 -3.2l-6 23.6l-6.4 14.8l-2.3 -71.0l-9.5 70.3l18.5 -78.9l-2.5 40.1l-2.4 32.6l13.6 -34.5l-16.3 20.2l2.7 55.1l2.3 -45.1l17.8 15.6l-18.4 24.0l-12.3 -36.8l21.9 -4.6l9.6 -7.9l-11.2 45.9l-1.8 -31.6l5.3 29.9l-5.7 -55.1l5.6 41.3l-24.8 -7.8l19.4 11.4l-12.6 -57.3l3.4 16.1l1.8 18.5l4 -32.5l-9.1 -28.5l3.1 45.6l-10.5 22.8l19.8 -46.1l-17 19.6l0 -18.1l29.7 28.3l-17.8 41.9l-11.7 -42.1l8.9 43.1l17 -78.1l-.9 44.2l-1.8 -14.7l-23 -2.2l6.4 -25.5l-3.4 47.7l8.8 19.2l5.6 .2l-2.3 -31.2l8.8 25.2l-18.9 -29.2l2.3 -32.1l21.1 54.4l-9.3 -48.0l-4 88.0l-7.6 -108.2l3.8 8.9l-7 55.3l21.4 -44.8l-25.7 53.5l15.3 -7.1l-2.2 -35.3l3.4 38.2l-19.7 -50.3l22.8 20.1l10.5 6.4l-7.4 -13.0l-27.9 18.8l24.5 -14.9l-11.3 -27.4l8 86.7l-4 -50.8l18.8 -.6l-33.2 4.5l29.6 33.4l-14.3 -70.2l19.5 32.2l-13.6 -25.1l13.4 17.6l-29.1 57.1l-.1 -30.3l-1.9 -15.5l12.9 -8.3l5.3 -4.5l-17.3 -25.6l16.5 30.8l-1.7 -33.4l6 42.7l-21.8 29.1l1.7 -33.3l12.2 19.1l-19.1 -26.1l3.3 12.7l-1.8 4.1l30.1 -12.8l4.7 6.5l-11.2 -8.3l3.9 31.6l.9 -16.9l-18.9 -39.8l18.8 36.8l-12.5 -50.2l9.7 11.4l-6.1 .9l-20.9 26.7l27.8 18.2l2.9 -29.0l1.8 31.8l-31.9 -11.5l22.7 34.8l-5.9 -38.0l-13.8 32.5l22.6 5.9l-5 -84.7l-9.5 32.3l9.5 41.4l-3.5 -44.0l-14.2 -6.6l14.7 16.9l11.6 27.0l-10.8 -64.6l-1.8 87.9l-13.2 -3.9l3.7 -34.9l-.3 -22.2l11.7 28.1l-13.3 -11.7l15.1 -18.8l-19 3.2l12.4 -33.3l-.6 55.8l-6.3 -4.8l28.6 -3.3l-6.9 -4.1l-32.4 -1.7l2.2 -12.2l18.6 30.7l5 -5.4l-1.2 -62.4l-6.6 96.3l20.7 -33.6l-34.8 -12.1l-3.5 6.0l17 .7l-7.5 -22.9l23.9 61.8l-2.7 -48.6l3 33.7l-33.2 -8.1l.5 -32.2l7.1 17.5l-2.4 -22.7l9.4 25.3l-12.2 -10.0l21.7 33.3l-1.1 -14.6l-16.2 -3.7l3.9 -7.7l-6.4 27.5l28.4 -43.7l-18.9 70.3l20.6 -51.1l-11.7 -46.9l-3.3 14.0l1.3 -57.9l-2.3 13.2l2.3 148.5l-1 11.2" fill="none" stroke="none" marker-start="url(#m29)" marker-mid="url(#m29)" marker-end="url(#m29)"/>
<line x1="1352.0" y1="2146.4" x2="1352.0" y2="2110.4" stroke="#111" stroke-width="3.2" stroke-dasharray="9 4"/>
<line x1="1352.0" y1="2177.7" x2="1352.0" y2="2213.3" stroke="#111" stroke-width="3.2" stroke-dasharray="9 4"/>
<line x1="1340.0" y1="2110.4" x2="1364.0" y2="2110.4" stroke="#111" stroke-width="2.2"/>
<line x1="1340.0" y1="2213.3" x2="1364.0" y2="2213.3" stroke="#111" stroke-width="2.2"/>
<rect x="1328.0" y="2158.5" width="48.0" height="8" fill="#000"/>
<line x1="1412.1" y1="2141.2" x2="1412.1" y2="2091.9" stroke="#111" stroke-width="3.2" stroke-dasharray="9 4"/>
<line x1="1412.1" y1="2177.7" x2="1412.1" y2="2233.1" stroke="#111" stroke-width="3.2" stroke-dasharray="9 4"/>
<line x1="1400.1" y1="2091.9" x2="1424.1" y2="2091.9" stroke="#111" stroke-width="2.2"/>
<line x1="1400.1" y1="2233.1" x2="1424.1" y2="2233.1" stroke="#111" stroke-width="2.2"/>
<rect x="1388.1" y="2156.5" width="48.0" height="8" fill="#000"/>
<line x1="1472.5" y1="2124.2" x2="1472.5" y2="2078.7" stroke="#111" stroke-width="3.2" stroke-dasharray="9 4"/>
<line x1="1472.5" y1="2160.5" x2="1472.5" y2="2201.4" stroke="#111" stroke-width="3.2" stroke-dasharray="9 4"/>
<line x1="1460.5" y1="2078.7" x2="1484.5" y2="2078.7" stroke="#111" stroke-width="2.2"/>
<line x1="1460.5" y1="2201.4" x2="1484.5" y2="2201.4" stroke="#111" stroke-width="2.2"/>
<rect x="1448.5" y="2138.0" width="48.0" height="8" fill="#000"/>
<rect x="1314.6" y="2046.1" width="195.1" height="210.1" fill="none" stroke="#222" stroke-width="1.5"/>
<text x="1700.9" y="2010.5" font-size="20.5" text-anchor="middle" fill="#000">M3 oligo/myelination</text>
<text x="1700.9" y="2035.1" font-size="20.5" text-anchor="middle" fill="#000"><tspan font-style="italic">P</tspan> = 0.0044</text>
<line x1="1595.2" y1="2056.4" x2="1603.6" y2="2056.4" stroke="#444" stroke-width="1.2"/>
<text x="1581.9" y="2063.6" font-size="20" text-anchor="end">0.25</text>
<line x1="1595.2" y1="2085.6" x2="1603.6" y2="2085.6" stroke="#444" stroke-width="1.2"/>
<text x="1581.9" y="2092.8" font-size="20" text-anchor="end">0.20</text>
<line x1="1595.2" y1="2114.8" x2="1603.6" y2="2114.8" stroke="#444" stroke-width="1.2"/>
<text x="1581.9" y="2121.9" font-size="20" text-anchor="end">0.15</text>
<line x1="1595.2" y1="2143.9" x2="1603.6" y2="2143.9" stroke="#444" stroke-width="1.2"/>
<text x="1581.9" y="2151.1" font-size="20" text-anchor="end">0.10</text>
<line x1="1595.2" y1="2173.0" x2="1603.6" y2="2173.0" stroke="#444" stroke-width="1.2"/>
<text x="1581.9" y="2180.2" font-size="20" text-anchor="end">0.05</text>
<line x1="1595.2" y1="2202.2" x2="1603.6" y2="2202.2" stroke="#444" stroke-width="1.2"/>
<text x="1581.9" y="2209.4" font-size="20" text-anchor="end">0</text>
<line x1="1595.2" y1="2231.3" x2="1603.6" y2="2231.3" stroke="#444" stroke-width="1.2"/>
<text x="1581.9" y="2238.5" font-size="20" text-anchor="end">−0.05</text>
<line x1="1640.6" y1="2256.2" x2="1640.6" y2="2264.2" stroke="#444" stroke-width="1.2"/>
<line x1="1700.7" y1="2256.2" x2="1700.7" y2="2264.2" stroke="#444" stroke-width="1.2"/>
<line x1="1761.1" y1="2256.2" x2="1761.1" y2="2264.2" stroke="#444" stroke-width="1.2"/>
<text x="1637.6" y="2293.2" font-size="20" text-anchor="middle">Cntl</text>
<text x="1697.7" y="2293.2" font-size="20" text-anchor="middle">AsymAD</text>
<text x="1762.1" y="2293.2" font-size="20" text-anchor="middle">AD</text>
<rect x="1616.6" y="2198.1" width="48.0" height="26.8" fill="#A52A2A" stroke="#555" stroke-width="0.8"/>
<rect x="1676.7" y="2194.6" width="48.0" height="26.8" fill="#A52A2A" stroke="#555" stroke-width="0.8"/>
<rect x="1737.1" y="2185.5" width="48.0" height="26.9" fill="#A52A2A" stroke="#555" stroke-width="0.8"/>
<defs><marker id="m30" markerUnits="userSpaceOnUse" markerWidth="10.4" markerHeight="10.4" refX="5.20" refY="5.20" overflow="visible"><circle cx="5.20" cy="5.20" r="3.3" fill="#FBE4E4" fill-opacity="0.35" stroke="#333" stroke-width="0.9" stroke-opacity="0.85"/></marker></defs><path d="M1628.7 2196.4l17.5 27.3l-11.9 -26.4l18.3 26.6l-19 -46.6l-2.8 39.3l-6.7 -17.1l8.8 31.0l15.9 -48.6l3.6 10.0l1.6 -6.1l-32.4 32.1l26.4 -17.8l-5.2 28.9l-8.3 -27.5l23.7 -1.8l-10.5 -2.5l-14.8 20.3l17.4 -35.8l-12.1 30.8l1.7 -39.4l-.2 46.8l0 6.1l-19 -13.1l28.1 31.1l-16.3 -26.3l6.1 -.1l-10.2 -23.1l14 47.7l-10.5 -73.5l-3.4 7.9l.1 38.9l25.3 14.9l-6.5 -36.2l2.5 17.1l-21.6 26.4l10.8 .4l8.6 -.1l3.1 -25.0l-11.4 -38.7l-16 44.4l13.7 -37.8l20.8 43.0l-2.6 -29.1l-10.4 .2l-10.4 19.4l9.9 -19.9l-.7 8.8l-4.7 -.2l16.3 2.9l-13.2 -32.4l-18.4 39.8l26.6 -1.3l-1.4 -4.4l-24.7 -4.1l17.4 -5.7l17.5 25.9l-12.4 -9.7l-.3 18.8l-6.6 -2.1l-2.3 -16.0l23.1 2.4l-28.5 6.0l7.1 1.8l-13.7 -31.0l15.7 18.7l6.2 -4.8l-3.6 -44.7l16.4 54.5l-29.5 -11.9l-1.4 -8.9l5.8 26.0l-1.4 -13.2l23 -12.1l-27.3 26.9l10 -14.4l21.8 -6.0l-24.2 -5.0l1.9 21.6l-1.4 -24.8l-3.7 .8l.7 35.5l19.9 -28.9l-28.2 -21.1l-3.6 33.3l24.3 -46.4l-.2 72.8l-9.3 -34.1l2.4 -11.0l-.1 35.5l-9.3 -19.2l7.4 -3.3l-2.6 -15.7l8.1 -11.5l-9.6 25.8l9.6 29.2l-14.7 -60.3l31.6 22.5l-35.5 -13.5l15.2 57.4l-4.5 -33.5l-5.1 30.9l29 -19.2l-20.6 -27.6l.6 -140.8l.6 13.4l-.5 47.9l1.4 21.5l1.8 10.5l-.1 8.8l44.1 49.5l14.4 -28.5l-2.3 65.3l15.2 -18.9l-10.8 -17.3l18.3 -1.8l-11.3 -27.6l2 1.5l.2 25.6l-27.9 3.8l.3 9.2l35.8 -8.9l-30.1 -22.0l2.8 -22.3l11.8 31.0l-1.9 -17.0l-15.3 19.2l10.4 31.9l-1 -5.6l1.8 -18.6l-3.8 17.1l-6.8 -34.8l17.4 46.1l-11.7 -12.2l17.2 17.2l2.1 -61.3l-29.1 52.7l27.6 -24.9l-1.3 -.8l-16.1 33.3l8.9 -6.4l-11.1 -29.9l21.7 26.4l-20.2 -15.8l12.7 7.6l-13.9 13.9l23.2 -25.4l-26.3 12.0l29.5 -17.7l-32.1 1.8l10.5 24.3l11.4 -9.9l-12.3 -14.7l12.7 -21.3l-17.4 59.1l28.9 -39.9l-19.4 -10.3l15.7 21.8l-29 -16.1l9.2 -.8l3.6 39.2l13.5 -52.1l4.6 44.1l-21.9 .9l.9 -49.8l-2.4 9.9l-10.4 4.5l.9 25.7l25.7 -7.6l-27.2 5.1l26.7 -30.5l-13.6 18.5l-9.7 .1l8.5 43.8l-4.4 -.7l14.1 -27.4l-15.4 -10.6l14.4 -10.8l-6.1 -8.1l5.5 -7.0l-16.3 54.0l19.6 -54.7l-19.8 31.8l9.5 -5.1l17.1 27.2l5 -39.6l-17.4 -9.2l-3 29.1l2.1 -44.3l5.6 31.4l11.8 19.6l-26.4 -25.0l-10.9 -1.2l21.7 -.8l-9.1 11.9l6.7 -43.9l-.3 58.2l-7.8 27.0l2.5 -57.1l16.9 -11.6l-9.3 55.1l5.6 -13.7l-3.4 -11.9l-13.3 -2.7l-2.1 30.7l13.5 -20.9l-15.5 2.9l15.1 24.2l15.2 -38.8l-36.5 6.3l34 1.7l-10.7 4.4l14.4 -22.9l-22.8 35.7l.1 -42.0l-8.4 20.0l21.4 -22.5l-18.8 60.0l-1.2 -58.6l2.5 33.9l27 .5l-5.6 16.8l-9.4 6.6l2.5 -37.3l-13.5 -6.2l14.8 -5.1l6.8 38.5l-18.4 -2.5l-10 -30.7l2.8 8.6l8.8 -18.9l-3.9 18.1l.8 21.5l7.6 -45.8l15 10.0l-10.6 14.9l-9.9 34.3l3.6 -63.0l-12.9 15.5l27.9 30.1l-34 -13.6l20.9 -41.5l9.8 31.2l-5 -12.8l-24.5 4.4l29.7 13.4l-13.5 24.6l14.1 -31.2l-29.3 4.4l17.1 32.1l18.8 -31.5l-31.4 -18.0l28.9 20.3l-15.7 -10.7l-2.5 -16.5l-4 -17.0l6 32.7l-8.7 50.7l-7.3 -35.6l-.7 13.0l1.8 -15.1l17.9 25.0l-8.2 -32.6l16.3 33.3l-23.2 -19.8l2.1 1.5l18.5 -29.7l-6.9 46.0l-17.4 -10.0l17.3 -8.1l-11.3 4.5l25.6 7.4l-8.6 -24.8l-3.3 -28.8l-12.4 46.9l16.2 24.1l2 -57.0l-3.7 21.9l-9.5 6.1l15.2 -2.0l-16.1 15.9l-5.7 11.9l4.7 -29.0l-1.5 -5.8l11.9 6.9l-17.4 15.4l23.1 -33.4l-20.2 -19.0l10.6 53.0l-6.9 -34.3l23.7 32.0l-15.4 -5.0l-12.6 -5.9l.9 7.9l1.3 -18.6l12.2 -20.1l-11.7 16.6l25 24.0l-6.3 -23.5l-23.2 -9.0l-8 22.0l2.5 -16.2l15.7 36.2l-8.4 -32.2l6.1 -3.8l-.1 9.4l21.6 .8l-29.4 -13.3l26 41.5l-4.4 -58.2l-7.9 -87.7l-1.8 17.5l-.1 5.8l.2 10.5l1.4 17.5l-1.5 2.9l46.8 38.2l19.9 8.9l-25.4 4.3l3.8 1.3l6.6 31.6l12 -6.3l-1.1 -7.8l3.6 -33.3l-15.5 23.1l28.6 -7.5l-20.6 40.4l-11.9 -59.2l20.7 31.1l12.7 -19.9l-24.6 -17.6l12 53.9l-7.8 -4.6l7 -5.6l5.7 -15.7l-12.8 -30.8l-4.1 28.8l-13.8 8.1l2.8 3.6l27.3 -24.7l2.4 9.4l-13.6 -25.0l-.8 17.6l6.1 5.6l-15.3 25.3l3.2 -21.9l-3.6 14.6l.7 -9.0l22.9 17.8l-16.1 -57.7l17.6 43.2l-14.6 -10.8l-.4 -29.4l-11.6 38.8l25.7 9.2l-24.6 14.6l27.6 -25.0l-23.9 25.1l22.1 -33.8l3.4 1.4l-24.3 -38.6l-6.3 30.9l0 -4.1l-7.8 7.3l34.9 -4.7l-28.1 21.8l-7.1 -3.8l20.6 1.0l10.3 -31.0l-18.8 17.4l-7.8 8.9l20.7 5.0l3.5 -21.9l-21.5 37.9l17.2 -7.6l-4 -7.8l5 -29.5l2.4 8.8l-16.1 9.8l20 22.8l-4 -3.0l3.9 -40.3l-3.8 16.3l-15.4 3.6l21.7 29.7l-26.3 -35.6l21.6 17.4l2.9 -6.0l-10.3 41.7l7.7 -51.8l-16.7 -28.4l-5.1 3.2l12.3 80.6l-5.1 -26.0l-3.2 -32.8l10.5 -7.5l6.6 15.4l-3.7 -21.8l3.6 18.4l5.5 23.0l-8.6 24.0l10.1 -17.9l-28.6 -7.7l9.7 2.9l-13.7 -33.9l25.2 -28.0l3.5 29.1l-22.5 19.1l7.8 7.0l9.9 -56.2l6 54.8l-2.6 -24.9l-11.8 48.5l8.5 -10.9l-17.7 -44.5l20.2 6.0l-19.6 -12.9l2.9 9.1l12.4 4.3l-12.3 -8.2l21.4 45.4l-18.9 -34.8l-9.8 12.7l11.4 1.1l11.4 -7.4l-5.3 22.8l.1 -4.9l-2.8 1.1l19.9 -9.8l-4.2 -17.0l-27.9 23.7l29.8 -8.8l-36.8 10.6l8.2 20.9l-7.4 -30.2l13.4 10.2l-.4 2.7l-7.6 15.1l21.4 -30.7l-17.7 13.0l9.7 5.3l-2.1 -10.2l9.3 -47.6l-3 58.9l15.5 -20.3l-29.4 -13.8l-6.7 25.5l23.1 -46.0l-.7 63.6l13 -33.0l-34.7 -4.5l30 2.6l-19.9 -16.6l-8.8 49.7l16.3 -25.8l-19.3 -17.2l24.1 35.9l-12.5 -12.2l-.1 -21.6l23 10.2l-10.4 -10.7l-16.7 3.9l12.1 2.4l-9.3 19.1l5 -12.2l-10.4 36.7l5.7 -51.7l6.9 20.5l-5.4 -.1l13.3 -46.0l-20.6 12.9l17.1 -3.0l-1.9 50.8l-14 -29.1l3.2 -15.9l22.5 23.5l-1.8 5.9l-24.9 -8.8l12 -6.2l-16.1 4.7l10.9 19.0l8.5 -50.5l-1.3 35.7l10.5 6.8l-15.8 30.5l16.5 -44.5l-16.7 -27.1l-10 38.0l25.9 -13.4l-27.4 22.4l.6 -.1l24.1 -14.5l8.4 9.8l-24.6 -11.8l-6.9 31.9l-1.2 -19.6l.4 -33.7l18.1 78.0l5.9 -30.6l1.2 -35.6l-19 32.5l10.3 -7.1l-9.2 -28.1l-7.6 -.7l3.8 -19.1l19.3 6.1l9 46.1l-33 8.3l16.8 -13.3l0 13.4l-9.5 -43.9l-6.2 43.0l15.9 -112.7l-2.5 26.2l2 1.2l-.5 7.6" fill="none" stroke="none" marker-start="url(#m30)" marker-mid="url(#m30)" marker-end="url(#m30)"/>
<line x1="1640.6" y1="2198.1" x2="1640.6" y2="2162.0" stroke="#111" stroke-width="3.2" stroke-dasharray="9 4"/>
<line x1="1640.6" y1="2224.9" x2="1640.6" y2="2244.2" stroke="#111" stroke-width="3.2" stroke-dasharray="9 4"/>
<line x1="1628.6" y1="2162.0" x2="1652.6" y2="2162.0" stroke="#111" stroke-width="2.2"/>
<line x1="1628.6" y1="2244.2" x2="1652.6" y2="2244.2" stroke="#111" stroke-width="2.2"/>
<rect x="1616.6" y="2206.3" width="48.0" height="8" fill="#000"/>
<line x1="1700.7" y1="2194.6" x2="1700.7" y2="2155.0" stroke="#111" stroke-width="3.2" stroke-dasharray="9 4"/>
<line x1="1700.7" y1="2221.4" x2="1700.7" y2="2248.8" stroke="#111" stroke-width="3.2" stroke-dasharray="9 4"/>
<line x1="1688.7" y1="2155.0" x2="1712.7" y2="2155.0" stroke="#111" stroke-width="2.2"/>
<line x1="1688.7" y1="2248.8" x2="1712.7" y2="2248.8" stroke="#111" stroke-width="2.2"/>
<rect x="1676.7" y="2205.2" width="48.0" height="8" fill="#000"/>
<line x1="1761.1" y1="2185.5" x2="1761.1" y2="2152.6" stroke="#111" stroke-width="3.2" stroke-dasharray="9 4"/>
<line x1="1761.1" y1="2212.3" x2="1761.1" y2="2248.3" stroke="#111" stroke-width="3.2" stroke-dasharray="9 4"/>
<line x1="1749.1" y1="2152.6" x2="1773.1" y2="2152.6" stroke="#111" stroke-width="2.2"/>
<line x1="1749.1" y1="2248.3" x2="1773.1" y2="2248.3" stroke="#111" stroke-width="2.2"/>
<rect x="1737.1" y="2195.3" width="48.0" height="8" fill="#000"/>
<rect x="1603.6" y="2046.6" width="194.7" height="209.6" fill="none" stroke="#222" stroke-width="1.5"/>
<text x="227.9" y="2374.6" font-size="20.5" text-anchor="middle" fill="#FF0000">M5 post-synaptic density</text>
<text x="227.9" y="2399.2" font-size="20.5" text-anchor="middle" fill="#FF0000"><tspan font-style="italic">P</tspan> = 4 × 10<tspan font-size="14" dy="-9">−23</tspan></text>
<line x1="122.0" y1="2436.8" x2="130.4" y2="2436.8" stroke="#444" stroke-width="1.2"/>
<text x="108.7" y="2444.0" font-size="20" text-anchor="end">0.10</text>
<line x1="122.0" y1="2467.7" x2="130.4" y2="2467.7" stroke="#444" stroke-width="1.2"/>
<text x="108.7" y="2474.9" font-size="20" text-anchor="end">0.05</text>
<line x1="122.0" y1="2498.6" x2="130.4" y2="2498.6" stroke="#444" stroke-width="1.2"/>
<text x="108.7" y="2505.8" font-size="20" text-anchor="end">0</text>
<line x1="122.0" y1="2529.5" x2="130.4" y2="2529.5" stroke="#444" stroke-width="1.2"/>
<text x="108.7" y="2536.7" font-size="20" text-anchor="end">−0.05</text>
<line x1="122.0" y1="2560.4" x2="130.4" y2="2560.4" stroke="#444" stroke-width="1.2"/>
<text x="108.7" y="2567.6" font-size="20" text-anchor="end">−0.10</text>
<line x1="122.0" y1="2591.3" x2="130.4" y2="2591.3" stroke="#444" stroke-width="1.2"/>
<text x="108.7" y="2598.5" font-size="20" text-anchor="end">−0.15</text>
<line x1="122.0" y1="2622.2" x2="130.4" y2="2622.2" stroke="#444" stroke-width="1.2"/>
<text x="108.7" y="2629.4" font-size="20" text-anchor="end">−0.20</text>
<line x1="167.7" y1="2635.6" x2="167.7" y2="2643.6" stroke="#444" stroke-width="1.2"/>
<line x1="227.8" y1="2635.6" x2="227.8" y2="2643.6" stroke="#444" stroke-width="1.2"/>
<line x1="287.9" y1="2635.6" x2="287.9" y2="2643.6" stroke="#444" stroke-width="1.2"/>
<text x="164.7" y="2672.6" font-size="20" text-anchor="middle">Cntl</text>
<text x="224.8" y="2672.6" font-size="20" text-anchor="middle">AsymAD</text>
<text x="288.9" y="2672.6" font-size="20" text-anchor="middle">AD</text>
<rect x="143.7" y="2466.5" width="48.0" height="30.9" fill="#00EE00" stroke="#555" stroke-width="0.8"/>
<rect x="203.8" y="2472.0" width="48.0" height="35.2" fill="#00EE00" stroke="#555" stroke-width="0.8"/>
<rect x="263.9" y="2499.2" width="48.0" height="29.7" fill="#00EE00" stroke="#555" stroke-width="0.8"/>
<defs><marker id="m31" markerUnits="userSpaceOnUse" markerWidth="10.4" markerHeight="10.4" refX="5.20" refY="5.20" overflow="visible"><circle cx="5.20" cy="5.20" r="3.3" fill="#D8F6D8" fill-opacity="0.35" stroke="#333" stroke-width="0.9" stroke-opacity="0.85"/></marker></defs><path d="M155.4 2496.7l13.7 37.5l.9 -56.2l2.3 2.5l-8.1 11.0l-14 -22.5l13.1 55.8l-5.9 -65.2l16.6 41.8l-16 -37.2l19.1 40.8l-8.3 9.4l-5.7 -29.9l8.8 19.0l11.2 -6.4l-22.4 -14.3l-11.5 5.6l30.3 -31.9l-19.5 7.7l23.6 9.8l-16.9 4.1l-2.6 19.8l17.8 -7.8l-30.4 -8.7l31.5 3.5l-24.3 10.2l19.6 -27.6l1.9 -19.6l-1.7 64.7l-17.4 -39.4l23.4 32.7l-15.7 -4.0l-9.2 -5.5l2.5 -18.7l-11.2 -3.8l22 -2.5l-7.5 12.0l4.6 -20.5l13 8.2l-17.3 23.5l-16.8 -23.5l22.7 -1.0l-16.6 -16.6l15.5 -2.7l-1.7 -6.0l-3.2 51.1l7.2 -40.9l-22 37.8l11.9 14.0l-7.1 -29.6l.6 17.1l-3.4 4.3l5.2 9.1l24.5 -20.1l1.8 20.4l-13.9 18.5l8.7 -35.2l-31 3.8l14.8 21.4l12.7 -10.8l8.8 -13.0l-35.4 -6.5l35.5 -27.0l1.2 8.2l-35 22.4l13.8 21.8l20.5 -23.5l-22.2 26.1l-8.9 -37.6l17 22.5l1.4 -34.6l3 54.4l-18.6 -47.8l11.2 1.7l-12.5 22.7l23 -52.1l6.2 46.5l1.8 1.1l-34 -5.0l3.6 18.6l24.3 -33.2l-13.7 27.3l14.4 -31.9l-7.5 4.4l-21.8 37.6l0 -30.8l25.1 17.3l-18.6 -8.6l5.4 -1.6l9 -8.0l-19.4 -20.7l-2.3 30.0l16.3 1.0l-18.4 -17.5l12.4 16.1l1.8 -.5l-10.1 -21.0l1.8 -10.3l20 67.0l.7 -30.6l-8.1 -18.8l-1.4 29.7l19.1 -21.0l-18 46.9l-12 -57.2l12.9 40.3l-.6 -27.0l2.6 6.9l-2.8 68.8l.6 18.5l71.4 -127.7l-10.2 29.3l-.8 -23.8l2.5 63.0l-14.9 -69.6l14.9 105.0l9 -35.5l-31.7 -30.0l37.3 2.1l-14.2 18.5l-3 -6.8l-14.1 -47.3l18.7 18.4l1.5 -13.5l8.9 43.6l-26.2 4.5l2 -.9l27.3 -5.5l2.6 -15.0l-23.2 13.6l9.1 -24.9l-16.4 47.5l20.1 -56.0l9.1 15.8l-32.2 15.9l7.2 -34.1l20.3 -3.2l-24.7 -4.0l21.5 46.0l-10 40.7l9.7 -47.6l-13.6 -7.1l21.8 -1.2l-10.2 38.2l-3.2 -35.3l-14.7 -31.2l22.9 .9l-.3 68.2l-13.3 -5.0l-18.6 -29.0l12.9 -13.9l10.1 5.9l9.2 -16.9l2.7 38.8l-16.6 -53.8l-3.6 45.5l8.9 -38.2l2.5 -21.0l-1.6 45.6l-.8 -1.9l-9.3 -29.6l16 33.4l-17.9 -42.5l-1.2 77.3l-6 -4.9l17.9 -15.5l-24.5 -22.6l32.5 32.5l-17.3 -71.9l16 65.7l-9.8 -16.9l-16.8 -29.5l31.4 13.6l-13.1 -4.6l-.4 56.2l12.2 -37.9l1.6 11.7l-19.1 11.9l1.7 -30.0l5.8 1.1l-19.1 -8.3l-1.3 35.8l8.8 -38.9l22.8 20.0l-.6 -16.2l-1.8 41.5l.1 -60.6l-7.5 22.7l-16.6 52.1l8.8 -19.3l4.7 11.7l-6.2 -51.5l1.9 56.7l1.7 -16.3l2.8 -51.7l-19.8 45.9l10.7 -25.0l-5 -43.0l19.5 20.3l-14.3 60.2l15.6 -45.1l-23.5 -2.3l9 -10.3l-11.3 -4.7l24.6 59.8l-14.1 -6.7l-4.7 10.3l18.4 -33.1l-4.3 3.1l-14.3 -29.6l1.4 7.2l21.6 -12.8l-20.1 92.7l23.9 -52.1l-14.8 38.7l13.4 -47.7l-1.9 -5.6l-.1 6.9l-21.3 23.7l19.6 13.9l-20.3 11.7l17 -91.0l4.8 25.3l-9.8 35.0l-10.4 -47.0l13.4 74.8l-12.9 -68.8l3.8 47.8l6.5 32.5l2.5 -43.1l-7.3 36.0l17 -56.6l-28.7 39.4l20.3 2.6l-3.8 -27.0l-7.7 -12.2l-13.9 1.0l4.6 14.0l5.5 -36.0l-6.8 -12.8l30.2 22.8l-7.6 25.9l-4.7 -39.7l-7.4 -14.8l1.3 73.3l-8.7 1.2l17.5 -40.3l-8.6 3.9l7 5.4l-14.2 9.9l-4.2 -5.8l2.2 2.8l16.9 8.2l-23.2 -20.9l8.7 -37.7l3.9 17.6l5.6 -8.7l15.3 4.7l-8.6 28.6l-3.1 22.0l3.1 -27.2l-6.9 32.5l-8.1 -71.1l23.5 42.9l-1.4 -14.4l-27 43.9l4.2 -36.3l14.8 40.8l-6.7 -44.7l17.9 32.8l-16.7 -8.9l6.4 25.4l-23 -31.1l2.2 -12.4l-1.9 28.3l19 -36.0l-17.3 -2.1l23.4 9.0l-7.5 38.0l1 -7.2l-2.6 -48.6l10.6 7.9l-28.5 9.2l5.3 -18.7l7.4 42.0l23.3 -6.0l-13 4.2l.4 -50.1l-17.5 -1.4l-3 18.2l15.1 -4.9l12.6 1.6l-8.1 43.7l-21.2 -21.5l22.8 -43.5l-20.6 83.1l4.7 -12.5l26.4 -24.9l-16.3 36.7l-1.3 -41.0l-5 21.8l23.5 -25.6l-19 8.6l-3 -46.0l-6.2 .4l-6.6 47.0l20.5 -36.3l-16.2 36.5l3.9 6.7l2.5 -41.4l21.3 26.9l-31.5 3.0l30.4 -27.4l-12.8 103.7l-.8 1.2l-2.4 63.6l55.7 -124.0l9.7 40.3l7.3 -25.5l2.4 21.8l-8.4 -34.6l-7.4 47.4l-12.7 -53.4l24.3 32.2l-19.8 11.4l27.6 -15.9l-31.4 -26.4l21.5 28.3l13.2 -10.2l-34.6 17.0l31.1 -26.3l-7.5 7.4l-10.9 -31.3l-6.8 50.0l25.7 -38.2l-27 43.4l-2.7 -55.6l29.1 18.8l-25.5 30.4l-1.2 5.0l5.8 6.6l14.6 -71.9l6.8 62.2l-25.4 -50.2l11.6 1.0l8 27.1l-13.6 -.6l19.4 18.1l-32.1 -14.5l26.3 -32.3l-16.5 21.5l16.2 -5.3l-3.2 27.8l8.7 -4.8l-28.8 12.5l13.2 -6.9l1.8 -51.4l-18.5 24.3l15.2 30.5l-10 -42.0l-.6 -.3l21.9 8.8l-12 37.2l10.6 -53.4l-2.2 56.3l-22.2 -32.1l17.7 -12.6l10.4 25.9l-12.7 6.6l-6.1 38.2l10.9 -75.5l15.2 20.7l-11.1 -3.2l-5.4 -35.5l10.5 53.4l-15.1 -4.5l8.9 -18.8l5.1 22.1l-4.4 -32.2l1.3 30.1l8.6 -3.6l-19.2 -.4l-17.8 -8.4l16.9 24.6l6.9 -11.9l-12.7 15.1l.6 -18.4l15.1 2.2l-18.9 -49.6l4.5 91.5l1.4 -60.3l23.8 1.0l-6 13.8l-1.2 31.3l-3.8 15.1l-17.4 -54.0l5.4 53.3l-3.7 -25.4l18.5 -56.9l-9.2 25.2l-7.4 -28.0l24.5 50.6l-18.6 -32.1l-4 17.4l-10 -17.0l10.2 15.2l8.9 -18.5l-5.2 -15.6l-7.8 47.4l21.7 -12.9l-25.5 13.6l10.9 -41.9l19 17.5l-28.2 46.5l1.8 16.6l-5.4 -37.8l-6.3 -8.9l21.1 -6.7l14.8 18.9l-1.5 -1.4l3.2 -19.1l-20.9 -24.5l-16.2 44.6l6.3 -40.7l28.4 38.3l-29.1 -6.2l29.8 12.3l-27.3 -5.1l8.9 -9.6l9.6 12.0l1.3 -35.5l-4 58.8l14.6 -47.9l-5.7 5.4l-4 23.8l-23.1 13.4l-2.7 -48.5l32.1 12.8l-12 -23.0l-1.1 9.2l4.3 31.6l-20 -31.3l27.8 -11.8l-23.1 10.5l0 -7.3l12.9 26.3l-18.5 -6.5l22.3 12.7l-9.3 -32.0l7.4 32.2l-14.8 4.5l13 -42.3l-20.8 14.2l22.1 -15.6l4.9 53.1l1.9 2.2l-14.1 -5.2l9.5 -25.5l-19.1 -7.7l27.2 -1.1l-30.1 -21.0l-1.2 48.4l25.7 8.1l-14.6 -1.2l12.8 -31.7l-24 -18.3l9.8 47.3l-5.2 -2.4l4.4 33.3l-4.3 -70.1l-1.2 50.1l-5.6 -28.4l34.5 -18.0l-3.4 45.2l-20.6 -39.8l-13 20.3l5.2 -17.9l-2.6 9.6l8.1 -9.3l21.2 -2.2l1 22.1l-.4 16.1l-5.3 -35.2l-12.5 -9.9l12.3 9.2l-18.2 -1.9l29.4 8.8l-13.7 14.0l4.9 4.6l-12.9 -14.3l21.9 2.7l-5.2 -1.2l1.9 -26.9l-34 44.2l32.5 10.7l-1 -25.4l-9.3 -9.2l-2 10.0l-9 -8.4l7.5 -3.6l-5.3 17.1l-11.6 -24.0l14 -2.9l4.1 29.6l.4 1.0l-4.3 12.4l2.5 -26.0l14.3 -1.9l-24.1 3.0l19.2 6.4l0 32.6l-26.2 -29.5l33 -36.9l-16.2 -57.4l-.8 141.5l-.2 .6" fill="none" stroke="none" marker-start="url(#m31)" marker-mid="url(#m31)" marker-end="url(#m31)"/>
<line x1="167.7" y1="2466.5" x2="167.7" y2="2436.8" stroke="#111" stroke-width="3.2" stroke-dasharray="9 4"/>
<line x1="167.7" y1="2497.4" x2="167.7" y2="2543.1" stroke="#111" stroke-width="3.2" stroke-dasharray="9 4"/>
<line x1="155.7" y1="2436.8" x2="179.7" y2="2436.8" stroke="#111" stroke-width="2.2"/>
<line x1="155.7" y1="2543.1" x2="179.7" y2="2543.1" stroke="#111" stroke-width="2.2"/>
<rect x="143.7" y="2480.1" width="48.0" height="8" fill="#000"/>
<line x1="227.8" y1="2472.0" x2="227.8" y2="2433.7" stroke="#111" stroke-width="3.2" stroke-dasharray="9 4"/>
<line x1="227.8" y1="2507.3" x2="227.8" y2="2554.6" stroke="#111" stroke-width="3.2" stroke-dasharray="9 4"/>
<line x1="215.8" y1="2433.7" x2="239.8" y2="2433.7" stroke="#111" stroke-width="2.2"/>
<line x1="215.8" y1="2554.6" x2="239.8" y2="2554.6" stroke="#111" stroke-width="2.2"/>
<rect x="203.8" y="2485.6" width="48.0" height="8" fill="#000"/>
<line x1="287.9" y1="2499.2" x2="287.9" y2="2459.7" stroke="#111" stroke-width="3.2" stroke-dasharray="9 4"/>
<line x1="287.9" y1="2528.9" x2="287.9" y2="2566.0" stroke="#111" stroke-width="3.2" stroke-dasharray="9 4"/>
<line x1="275.9" y1="2459.7" x2="299.9" y2="2459.7" stroke="#111" stroke-width="2.2"/>
<line x1="275.9" y1="2566.0" x2="299.9" y2="2566.0" stroke="#111" stroke-width="2.2"/>
<rect x="263.9" y="2511.1" width="48.0" height="8" fill="#000"/>
<rect x="130.4" y="2425.0" width="194.9" height="210.6" fill="none" stroke="#222" stroke-width="1.5"/>
<line x1="168" y1="2604.8" x2="225" y2="2604.8" stroke="#222" stroke-width="1.3"/>
<text x="193.2" y="2624" font-size="24" text-anchor="middle" letter-spacing="1">*</text>
<text x="523.5" y="2374.6" font-size="20.5" text-anchor="middle" fill="#000">M8 protein transport</text>
<text x="523.5" y="2399.2" font-size="20.5" text-anchor="middle" fill="#000"><tspan font-style="italic">P</tspan> = 3 × 10<tspan font-size="14" dy="-9">−12</tspan></text>
<line x1="417.9" y1="2425.0" x2="426.3" y2="2425.0" stroke="#444" stroke-width="1.2"/>
<text x="404.6" y="2432.2" font-size="20" text-anchor="end">0.15</text>
<line x1="417.9" y1="2456.4" x2="426.3" y2="2456.4" stroke="#444" stroke-width="1.2"/>
<text x="404.6" y="2463.6" font-size="20" text-anchor="end">0.10</text>
<line x1="417.9" y1="2487.9" x2="426.3" y2="2487.9" stroke="#444" stroke-width="1.2"/>
<text x="404.6" y="2495.1" font-size="20" text-anchor="end">0.05</text>
<line x1="417.9" y1="2519.3" x2="426.3" y2="2519.3" stroke="#444" stroke-width="1.2"/>
<text x="404.6" y="2526.5" font-size="20" text-anchor="end">0</text>
<line x1="417.9" y1="2550.7" x2="426.3" y2="2550.7" stroke="#444" stroke-width="1.2"/>
<text x="404.6" y="2557.9" font-size="20" text-anchor="end">−0.05</text>
<line x1="417.9" y1="2582.2" x2="426.3" y2="2582.2" stroke="#444" stroke-width="1.2"/>
<text x="404.6" y="2589.4" font-size="20" text-anchor="end">−0.10</text>
<line x1="417.9" y1="2613.6" x2="426.3" y2="2613.6" stroke="#444" stroke-width="1.2"/>
<text x="404.6" y="2620.8" font-size="20" text-anchor="end">−0.15</text>
<line x1="463.5" y1="2633.4" x2="463.5" y2="2641.4" stroke="#444" stroke-width="1.2"/>
<line x1="523.4" y1="2633.4" x2="523.4" y2="2641.4" stroke="#444" stroke-width="1.2"/>
<line x1="583.5" y1="2633.4" x2="583.5" y2="2641.4" stroke="#444" stroke-width="1.2"/>
<text x="460.5" y="2670.4" font-size="20" text-anchor="middle">Cntl</text>
<text x="520.4" y="2670.4" font-size="20" text-anchor="middle">AsymAD</text>
<text x="584.5" y="2670.4" font-size="20" text-anchor="middle">AD</text>
<rect x="439.5" y="2492.6" width="48.0" height="28.6" fill="#FFB6C1" stroke="#555" stroke-width="0.8"/>
<rect x="499.4" y="2499.2" width="48.0" height="35.2" fill="#FFB6C1" stroke="#555" stroke-width="0.8"/>
<rect x="559.5" y="2513.6" width="48.0" height="34.3" fill="#FFB6C1" stroke="#555" stroke-width="0.8"/>
<defs><marker id="m32" markerUnits="userSpaceOnUse" markerWidth="10.4" markerHeight="10.4" refX="5.20" refY="5.20" overflow="visible"><circle cx="5.20" cy="5.20" r="3.3" fill="#FFFFFF" fill-opacity="0.35" stroke="#333" stroke-width="0.9" stroke-opacity="0.85"/></marker></defs><path d="M449.2 2507.0l28.7 -28.8l-2.7 -2.7l-14.8 37.8l18.4 13.3l-3.5 -21.1l-25.3 1.6l27 17.4l-2 12.1l-20.4 -9.4l15.4 -34.6l-14.4 25.0l-11.7 -4.4l18 -18.8l-6.2 55.7l17.8 -15.6l-1.6 -25.7l-18.7 11.0l6.3 -6.0l-14 -12.6l12.4 -7.4l9.1 -8.2l9.8 11.9l4.9 -4.4l-13.1 13.5l-7 -22.3l17.1 13.3l-11.9 22.9l8.4 4.2l-17.3 -2.4l21.8 -9.9l-27.5 -22.9l7 10.4l-1.6 49.8l.7 -36.9l7.4 41.2l16 -43.9l-35.1 16.1l20.3 -21.5l-12 -25.7l18.1 58.8l-1.5 -5.5l4.9 -57.8l3.2 55.2l-12 -55.1l-14.1 38.0l18.3 11.4l-9.4 20.0l-4.3 3.4l-11.1 -40.6l30.9 -18.1l-16.7 37.7l-12 -6.8l4 -30.2l-2.4 40.1l-3.6 -3.2l24.9 3.4l-9.9 -22.8l-7 3.2l3.6 31.2l-3.1 -11.6l8.2 -44.5l2.4 20.5l-20.8 3.1l15.4 26.4l17.6 -14.9l-6.5 -1.1l-8.1 21.6l-3.4 -62.4l-3.2 51.2l-1.9 18.1l4 -83.7l-8.6 68.3l-.2 -57.5l3.5 69.9l20.3 -78.1l2.4 71.8l-29.8 -11.3l10.7 -31.2l-4.1 47.5l4 -48.4l8.9 -20.3l-13.8 37.5l8.6 3.7l-11.3 -12.3l14.1 -1.6l-15.1 -.5l6.9 5.7l4 -.1l-5 15.8l8.2 -26.6l11.5 -.9l-13.8 16.2l10.7 -43.8l-18.7 13.6l17.8 2.7l5.9 36.1l3.3 7.0l-8.4 -14.7l-15.1 9.6l14.8 -25.4l-4.3 -25.6l-6.3 6.7l5.8 62.7l-19.4 -51.8l.5 -6.5l7.3 -7.3l25.2 19.6l-31.4 -14.5l14 88.3l74.4 -71.4l1.8 10.4l-13.8 61.8l-12.3 -28.1l23 -44.5l-22.7 -2.5l14.1 31.2l4.7 -29.8l-17.1 3.9l-7.9 17.5l13.2 20.1l-13 -14.5l34.1 -4.7l-8.5 -37.3l-8.4 94.3l-11 -74.8l4 22.3l21.3 4.1l-.5 -17.9l-1.4 -23.8l-28 14.0l8.6 -7.9l14.8 20.9l3.7 13.3l-24.1 14.3l16.4 14.5l11.7 -56.2l-16.1 9.9l16.4 -4.7l-25.8 59.6l17 -36.4l9.8 -10.4l-7.2 .8l9.5 -1.5l-15.6 15.1l-4.5 9.2l6.5 -69.5l-7.5 -8.2l-14.7 46.7l15.4 27.8l-3.2 -52.4l8.7 38.8l6.6 -44.1l-.4 29.1l-5.7 -30.5l-10.6 71.3l22.1 -48.8l-27 -31.0l2 44.2l-9.4 -7.6l14.7 -42.3l2.2 90.5l21.2 -46.4l-11 19.1l-18.9 -18.7l5.2 -37.5l.8 49.3l14.5 -46.4l-13 47.3l-7.2 16.7l4.5 -37.6l10.3 .9l4 63.5l-16.9 -53.7l20.7 21.9l-22.9 -17.2l17.1 -28.5l-12.7 9.5l8.3 13.1l9.1 15.1l-30.3 -22.4l-1.3 7.0l8.8 -29.7l15.8 42.9l.7 14.4l11.2 -26.1l-15.6 7.8l7.3 -21.3l8.6 11.2l-36.2 1.9l17.8 22.7l2.1 -17.9l6.6 22.2l-14.3 -33.4l18.1 40.0l-15.5 -50.1l-14.1 20.4l3.5 33.8l10.1 -46.4l-13.3 19.1l22.3 -58.5l8.7 78.1l-31.6 -49.7l20.6 77.7l12.7 -20.7l-20.1 -7.2l-6.4 -36.2l8.5 -3.0l22 19.2l-37.1 -29.0l-2.6 14.9l13.7 -7.2l-1.4 66.8l3.1 -53.6l11.5 -26.8l14 18.3l-8.5 9.2l-13.7 3.7l17.7 -12.0l-22 76.4l15.8 -75.8l-11.7 21.4l-11.4 19.7l20.5 -34.3l-2.8 53.7l-7.5 -57.8l23.6 12.9l-19.6 -23.3l-5.8 -16.0l-13.4 46.0l6.3 3.9l13.1 11.9l-2.3 -18.9l-6.4 -1.9l7.6 -20.3l4.7 1.6l-10.3 19.4l10.8 -12.4l-5.1 -6.3l9.5 21.3l.7 -34.4l-18.4 57.6l-2.2 -44.4l6.9 -10.7l11.3 74.4l-.1 6.3l-10.5 -46.7l-5.8 -28.6l1.9 -3.2l1.8 -27.8l14.6 39.3l-2.2 -1.5l-3 30.3l-7.5 16.6l23.1 -50.8l-3.5 -18.7l-7.5 2.9l-2.9 27.2l-10.4 -35.2l6.7 28.5l-.6 36.2l5.7 -47.3l10.4 -5.7l-11.9 39.4l1 -16.9l6.6 -8.8l-4.9 46.7l8.9 -26.3l-27 -15.2l-3.2 33.3l24.3 -1.4l-14 -49.7l21.9 25.7l-20.9 19.8l7 -10.2l-12.5 -65.2l12.4 44.2l2.9 -6.8l7 46.9l-33.8 -42.9l7.9 24.3l20.7 -61.3l-10.7 31.9l-11.9 -11.1l22.8 9.1l-27.5 19.6l11.7 -48.6l23 35.5l1.8 11.7l-26.3 14.6l23.4 -24.8l-1.6 3.5l-14 21.5l-8.9 -13.3l21.8 -6.9l-5.6 25.9l-14.3 12.5l-5.5 .4l19.5 -33.6l-13.7 -5.0l14.5 -16.7l-13.3 6.0l13.2 -2.9l7.4 45.8l-33.2 -8.9l1.7 -45.5l-.1 39.0l17.4 5.2l-.5 -98.3l-3.3 9.4l0 3.2l1.2 147.7l-.8 3.1l3.1 5.1l-2.6 4.4l1.5 6.2l70.2 -126.6l4.8 30.5l-16.8 37.2l-1.1 -48.2l-17.9 22.2l34.3 38.7l-17.3 -72.3l-8.7 22.4l25.5 39.2l-26.9 -28.5l.3 1.3l10.7 39.8l10.1 2.4l1.5 -66.0l-20.5 14.7l0 39.5l.8 -70.5l22.9 38.7l-3.9 33.6l-3.2 -31.1l-4 .3l-6.2 4.9l2.7 17.1l6.8 22.8l-9.3 .9l6.8 -49.6l.9 -15.3l11.4 52.3l-28 -59.0l27 12.1l-22.7 35.3l27.1 -34.5l-28.4 29.2l-3.9 -15.6l5.8 -27.9l24.3 55.2l-.9 3.8l-23.8 -39.2l8.5 -3.1l17.6 31.0l-27.8 -45.9l16.7 19.7l-14.4 45.1l8.3 -50.5l21 19.2l-9.4 -20.9l2.2 26.5l-13.4 -50.0l-4.6 -10.7l15.3 42.8l6.4 24.3l-3.2 -12.6l-15.4 33.1l7 -56.1l-17.4 54.6l-4 -50.6l4 -26.6l-7.5 24.9l36 -11.5l-33.9 36.3l.3 -21.2l14.3 50.4l3.2 3.6l10.8 -19.0l-18.8 -10.7l13.5 -44.6l-1.1 76.1l-9.7 -44.4l-.5 -48.8l23.4 58.7l-1.7 -29.5l-16 11.9l-3.5 9.9l19 21.9l-18.6 -35.3l11.1 17.1l-24.7 -9.0l19.9 57.7l16.7 -58.0l-27.8 23.3l5.7 -1.6l-6.4 -76.1l14.3 90.8l-15.3 -59.2l17.4 -.2l-5 36.5l-8.2 12.1l11.2 .9l-9.4 -36.0l8.7 26.3l-5 19.7l-4.6 25.9l8 -118.6l1.8 47.6l2.8 -12.1l7.6 12.2l-11.4 49.9l.2 -69.9l5.4 18.6l4.1 24.5l.3 20.5l-26.3 -62.2l21.1 75.1l.5 -25.4l1.8 12.1l-20.8 -44.9l16.2 4.4l3.5 54.2l1.1 -11.0l2.9 -42.8l-18.1 32.7l-15.8 -14.9l34.6 11.9l-26.5 15.1l15.5 13.4l-15.2 1.9l-.3 -5.2l29 -43.0l-22 -9.8l16.6 5.7l-10.1 -13.3l12.5 37.1l-30.5 .2l4.4 -18.6l24.3 -22.3l1.6 29.4l-26.6 18.6l27 -32.9l-13.3 -5.0l13.7 7.6l-3.5 -9.7l-5.3 25.1l4.5 29.0l-11.8 -70.0l8.8 2.9l-16 -1.9l3.5 6.0l-8 15.2l16.1 12.5l-1.8 20.8l3.1 11.5l-12.3 -96.1l-9.3 61.6l8.7 -58.9l20.1 71.0l5.7 -37.0l-25.3 16.7l2.9 -26.8l19.7 16.5l-34.9 25.1l9.9 -3.8l13.3 2.5l-3.4 39.2l18.1 -70.0l-26.8 73.6l.9 -114.4l6.5 66.9l6.2 -4.5l-8 -42.7l11.4 10.7l-19.7 48.8l-.5 17.7l3.3 -31.3l12 3.4l6.1 23.1l-28.6 -47.2l12.9 70.6l-5.4 -82.2l16.6 12.9l-8.2 22.5l7.1 8.3l-21 -36.7l4.8 -2.8l8.4 12.4l-11.7 10.0l6.2 4.6l10.7 4.1l5.5 8.5l-6 -23.8l9.5 -5.6l-1.1 8.2l-24.2 -16.1l5 9.7l22.7 25.7l-25.5 -.7l23.6 -23.5l-9.6 41.5l-11.2 -31.6l.8 55.0l10.2 -46.3l7.5 28.5l-.1 -53.2l-29 4.8l40.5 17.5l-25.5 -62.2l-6.9 27.3l10.9 -6.4l1.9 107.2l.8 9.4l-3 12.6" fill="none" stroke="none" marker-start="url(#m32)" marker-mid="url(#m32)" marker-end="url(#m32)"/>
<line x1="463.5" y1="2492.6" x2="463.5" y2="2462.7" stroke="#111" stroke-width="3.2" stroke-dasharray="9 4"/>
<line x1="463.5" y1="2521.2" x2="463.5" y2="2560.8" stroke="#111" stroke-width="3.2" stroke-dasharray="9 4"/>
<line x1="451.5" y1="2462.7" x2="475.5" y2="2462.7" stroke="#111" stroke-width="2.2"/>
<line x1="451.5" y1="2560.8" x2="475.5" y2="2560.8" stroke="#111" stroke-width="2.2"/>
<rect x="439.5" y="2503.6" width="48.0" height="8" fill="#000"/>
<line x1="523.4" y1="2499.2" x2="523.4" y2="2459.6" stroke="#111" stroke-width="3.2" stroke-dasharray="9 4"/>
<line x1="523.4" y1="2534.4" x2="523.4" y2="2580.9" stroke="#111" stroke-width="3.2" stroke-dasharray="9 4"/>
<line x1="511.4" y1="2459.6" x2="535.4" y2="2459.6" stroke="#111" stroke-width="2.2"/>
<line x1="511.4" y1="2580.9" x2="535.4" y2="2580.9" stroke="#111" stroke-width="2.2"/>
<rect x="499.4" y="2508.8" width="48.0" height="8" fill="#000"/>
<line x1="583.5" y1="2513.6" x2="583.5" y2="2461.5" stroke="#111" stroke-width="3.2" stroke-dasharray="9 4"/>
<line x1="583.5" y1="2548.0" x2="583.5" y2="2591.6" stroke="#111" stroke-width="3.2" stroke-dasharray="9 4"/>
<line x1="571.5" y1="2461.5" x2="595.5" y2="2461.5" stroke="#111" stroke-width="2.2"/>
<line x1="571.5" y1="2591.6" x2="595.5" y2="2591.6" stroke="#111" stroke-width="2.2"/>
<rect x="559.5" y="2526.5" width="48.0" height="8" fill="#000"/>
<rect x="426.3" y="2423.3" width="194.4" height="210.1" fill="none" stroke="#222" stroke-width="1.5"/>
<line x1="458.9" y1="2444" x2="514.6" y2="2444" stroke="#222" stroke-width="1.3"/>
<text x="483.7" y="2448" font-size="24" text-anchor="middle" letter-spacing="1">*</text>
<text x="816.2" y="2374.6" font-size="20.5" text-anchor="middle" fill="#000">M1 synapse/neuron</text>
<text x="816.2" y="2399.2" font-size="20.5" text-anchor="middle" fill="#000"><tspan font-style="italic">P</tspan> = 2.4 × 10<tspan font-size="14" dy="-9">−8</tspan></text>
<line x1="710.3" y1="2453.0" x2="718.7" y2="2453.0" stroke="#444" stroke-width="1.2"/>
<text x="697.0" y="2460.2" font-size="20" text-anchor="end">0.1</text>
<line x1="710.3" y1="2506.4" x2="718.7" y2="2506.4" stroke="#444" stroke-width="1.2"/>
<text x="697.0" y="2513.6" font-size="20" text-anchor="end">0</text>
<line x1="710.3" y1="2559.8" x2="718.7" y2="2559.8" stroke="#444" stroke-width="1.2"/>
<text x="697.0" y="2567.0" font-size="20" text-anchor="end">−0.1</text>
<line x1="710.3" y1="2613.2" x2="718.7" y2="2613.2" stroke="#444" stroke-width="1.2"/>
<text x="697.0" y="2620.4" font-size="20" text-anchor="end">−0.2</text>
<line x1="756.1" y1="2634.0" x2="756.1" y2="2642.0" stroke="#444" stroke-width="1.2"/>
<line x1="816.3" y1="2634.0" x2="816.3" y2="2642.0" stroke="#444" stroke-width="1.2"/>
<line x1="876.2" y1="2634.0" x2="876.2" y2="2642.0" stroke="#444" stroke-width="1.2"/>
<text x="753.1" y="2671.0" font-size="20" text-anchor="middle">Cntl</text>
<text x="813.3" y="2671.0" font-size="20" text-anchor="middle">AsymAD</text>
<text x="877.2" y="2671.0" font-size="20" text-anchor="middle">AD</text>
<rect x="732.1" y="2481.3" width="48.0" height="31.1" fill="#40E0D0" stroke="#555" stroke-width="0.8"/>
<rect x="792.3" y="2487.7" width="48.0" height="30.9" fill="#40E0D0" stroke="#555" stroke-width="0.8"/>
<rect x="852.2" y="2498.4" width="48.0" height="32.8" fill="#40E0D0" stroke="#555" stroke-width="0.8"/>
<defs><marker id="m33" markerUnits="userSpaceOnUse" markerWidth="10.4" markerHeight="10.4" refX="5.20" refY="5.20" overflow="visible"><circle cx="5.20" cy="5.20" r="3.3" fill="#E2F8F8" fill-opacity="0.35" stroke="#333" stroke-width="0.9" stroke-opacity="0.85"/></marker></defs><path d="M759.3 2465.9l-14.7 -2.2l10.7 15.1l6 33.7l-22.6 -13.6l32 -18.4l-6.3 1.1l-21 6.5l-4 -5.9l14.6 -31.2l7.4 39.5l-.3 -8.9l-12.6 -33.9l10.9 72.2l-1.4 -40.8l-14.9 4.4l13.1 -11.3l5.4 25.8l2.3 24.0l-20.7 .9l-4.9 -21.7l26.3 1.6l11.6 1.0l-18.7 36.2l12.8 -22.6l-19.2 -28.3l-8.6 19.6l20 -27.6l-15.6 20.9l24.3 -7.3l-7.1 29.6l-26.7 -22.8l15.3 46.6l15.6 -57.1l-30.4 -3.6l6.8 16.7l2.2 40.8l14.9 -81.3l13.8 30.2l-12.5 -23.4l8.2 41.4l-26.8 .8l24.5 -19.7l6.3 18.3l-8.2 10.1l-21.5 -7.4l5.7 -59.9l23 35.0l-10.5 -4.6l-9.6 57.7l-7.8 -56.7l-5.3 -16.9l24.7 4.8l-6.8 -9.0l-12.3 70.3l-1.4 -4.8l30.4 -45.6l-3.2 -1.9l-25.9 -35.8l-2 25.6l27.1 32.3l-17.7 2.4l17.1 -8.7l-15.5 24.4l-2.9 8.2l19.2 -58.9l-23.7 27.7l22.3 24.4l-3 -21.3l-24.5 -29.5l30.4 35.0l1.1 -21.8l-33.2 -4.6l16 -12.8l-1.5 -4.1l-10 37.2l20.2 -.8l7.8 -8.3l-3.5 -15.2l-1.7 28.7l-16 .5l7.5 -47.7l10.7 28.4l-21.9 16.5l17.1 -23.1l-12.6 8.0l15.6 -21.8l-19 30.0l7.6 -29.0l-3.3 7.0l-12.5 32.5l13.8 -11.3l9 -21.5l-3.4 11.9l9.9 -15.6l-2.8 30.1l-25.4 -28.5l13.2 24.7l-2.2 3.8l-17.4 -15.0l37.5 21.3l-12.1 -2.5l-11.2 -41.0l10.4 42.7l-.3 -43.9l6.6 28.9l-.3 39.5l-10.7 -99.7l-.2 136.2l.2 58.8l53 -129.5l14.5 5.0l4.5 -5.0l-23.4 8.3l12.6 36.0l-4.3 -57.7l10.6 7.7l-20.2 10.3l16.8 -10.4l-17.6 19.7l27.2 14.9l-27.4 -6.9l10.3 -51.9l6.6 29.7l5.9 24.5l6.1 -1.0l-32.6 -10.0l2.3 -6.2l16 -19.9l12.6 23.2l5.7 -19.1l-11.4 -36.1l-6.5 41.4l15.2 28.8l-7.4 -19.9l6.4 .5l-8.8 -38.7l4.2 10.6l-10.8 29.7l1.8 -6.4l-12.1 -14.3l30.8 22.2l-.7 -12.4l-40.8 13.7l30.8 -29.1l4.8 -1.9l-5.8 5.1l2.9 -14.6l1 8.3l-7.9 59.0l-24 -47.4l32.8 25.6l-29.6 -29.6l18.9 39.4l-22.5 -14.0l36.5 13.3l-20 -7.9l17.6 2.8l-.3 -10.1l-26.1 5.3l20.9 -28.5l9.2 9.1l-10.8 -15.9l-5.9 30.1l-19.2 16.5l11.2 18.8l18.5 -59.5l-5.4 46.6l-12.1 -41.9l-8 -14.8l15.3 41.3l-7.5 -18.4l-.7 -13.4l-3.7 -10.9l26.7 32.2l-28.6 -19.6l4.3 36.9l20.2 -28.9l-1.9 28.5l-5.8 -13.5l-4.6 -19.7l5.6 -15.7l1.3 -10.8l-24.6 20.3l29.4 11.1l4.5 14.9l-20.1 32.1l12.6 -5.5l-3.9 -47.9l14.7 23.0l-1.4 -11.4l-7.1 -12.8l-7.4 12.7l-4.7 15.3l9.7 -43.0l-5.4 74.0l9.8 -22.5l-21.6 -.2l24.1 -3.7l-26 -56.8l18.5 24.3l-20.2 38.4l13.1 -65.9l7.9 29.9l-19.2 9.7l-3.3 -26.8l20.8 57.7l-15.2 -55.7l-8 11.2l-1.6 3.2l20 50.7l1.8 -31.6l13.8 16.2l-21.1 23.3l17.2 -54.3l-16.1 16.0l-12.4 1.5l15.4 -12.1l-6 -11.6l-11.9 6.2l33.7 -3.7l-21.2 -15.3l-2 -8.3l25.7 50.4l-8.1 -19.2l2.7 27.7l-26.8 -32.5l15 -34.0l-3.3 73.0l6 -52.4l5.2 30.4l-15.6 25.8l23.7 -17.7l-31.7 21.2l8.4 -19.2l22.3 -6.8l-14.4 -24.7l-3.5 52.5l-.3 -56.4l4.6 9.3l-23.9 6.3l27.4 -21.3l-11.5 36.7l-4.5 -25.5l5.9 -3.8l-7.6 -14.0l28.3 39.3l-10.7 -8.6l-15.2 31.5l-1.6 19.9l13.5 -76.8l7.1 54.0l-22.8 5.5l15.4 -31.7l11 -9.5l-27 18.1l15.1 8.6l-2.4 -14.0l-17.2 -.2l23.5 -23.4l-18 33.8l19.9 -53.8l-17.3 57.8l2.3 -53.3l8.8 80.8l-1.5 -79.0l12.1 19.7l-21.3 2.1l4.9 -7.7l-13.7 36.7l17.8 -1.7l11.5 -1.8l-12.6 -6.9l3 -26.7l13.7 35.6l-18.3 -48.0l-7 -.6l7.1 47.6l-1.4 -52.8l-16.7 38.2l29.9 17.4l-29.2 -29.4l9.5 9.6l22.8 -10.8l-.7 -11.4l-28 33.9l14.4 -8.7l-12.2 6.2l26.3 -20.1l-.1 47.6l-14.1 -60.4l-8.6 49.1l5.2 -32.6l7.1 28.9l13.1 -48.5l-33 42.4l33.2 -35.6l4.4 22.7l-14.5 .5l-22.3 13.8l12.9 -38.9l13.2 22.3l-20.6 40.0l15.2 -53.1l-1.3 47.7l-22.1 -26.1l25.1 -.8l3.1 -12.6l-20.7 26.9l.3 -39.4l6.4 60.1l-13.4 -23.3l14 15.6l.5 -4.2l-6.4 3.4l11.3 64.8l63.3 -96.7l-5.3 10.2l7.9 26.3l-15.5 -19.6l27.1 14.4l-14.3 -69.6l8.6 58.0l-6.3 -29.3l2.9 16.6l2.7 31.3l-16.9 11.7l19.6 -36.6l-17.2 20.7l2.8 -51.9l3.6 51.4l-7.6 .1l-7.3 19.1l1.6 -75.2l1 60.2l-5.2 -2.9l26.4 1.3l-11.2 -29.5l-8.3 5.6l26.8 3.6l-13.4 37.3l-15.5 -62.8l17.2 16.3l4.1 -34.1l1.7 72.2l-15.1 -13.0l.5 4.6l4.6 -34.0l-4.6 41.6l-17.7 -31.4l13.5 20.6l17.5 -41.0l-13.9 29.5l-10.7 13.0l-1.8 15.5l21.2 -22.1l4.3 -33.8l-25.6 11.7l20.2 34.8l-14.6 -35.6l-7.7 3.0l4.5 -3.3l-4.4 -1.4l13.4 -28.6l-16.6 29.3l30.4 40.7l-21.6 -6.7l20.5 -43.6l-20.4 69.9l-4.4 -53.2l5.6 25.4l7.1 -41.6l15.9 18.5l-26.5 .4l9.3 41.4l15.7 -37.3l-27.2 -4.5l4.7 -33.2l-4.8 15.9l15.7 40.8l-7.6 -46.3l10.8 -12.3l-1.9 -17.2l2.5 13.5l-4.8 8.1l14.7 44.6l-6.9 20.3l10.5 -31.1l-7.3 16.0l-7.8 -32.4l7.6 58.0l5.3 -60.3l-1.3 37.8l-11.8 12.3l-1.8 -4.5l-9.8 22.9l-.8 -78.7l-7.5 14.4l24.6 15.7l9.2 -10.1l-36 19.7l31.5 -3.6l-16.1 -6.3l15.6 36.4l-12.1 -10.5l-7 -71.6l-4.4 59.5l28.5 3.8l-10.1 3.7l-26.3 -24.9l31.4 37.8l-25.3 -39.0l-1.8 21.3l10 -34.5l19.1 24.9l-25.5 -22.1l16.7 14.9l-14.8 31.2l6 -71.7l-.9 46.1l17.8 -32.8l-6.7 40.7l-9.1 -33.9l19.8 17.7l-7.2 21.9l-2.1 -18.8l-22.1 -36.9l6.5 11.2l14.1 43.9l14.2 -27.6l-30.7 3.8l21.1 17.0l5.2 5.7l-30.9 -12.9l26.3 17.3l2.3 -47.1l-13 52.1l9.6 -22.9l-6 -3.3l9.7 -18.0l-10.6 11.7l-17.4 15.2l5.9 -33.2l4.4 -1.5l6.7 -19.8l.7 60.9l-13.9 -14.0l7 -2.4l14.3 12.3l-11.1 -15.7l13.7 -20.5l-4.5 46.6l-22.3 9.7l16.7 -33.5l-21.7 11.7l27.6 28.3l-27.2 -58.4l23.8 -1.9l-7.9 -7.3l-15.3 22.5l4.5 11.5l23.9 14.9l-28.9 -43.8l9.7 50.6l-7 -4.4l5.1 19.6l.6 -51.5l3 -6.9l20.5 -4.1l-10.2 -.2l9 19.7l.5 11.3l-4.2 -34.2l1.4 56.0l-25.2 -21.6l5.8 -50.4l22 57.4l-11.8 -35.3l-20.5 -3.3l3.5 -1.0l22.5 51.0l-2.3 -25.9l.8 -.3l-18.6 -13.3l16.2 -3.9l.3 18.9l-9.8 20.3l16.1 -.4l-17.1 -73.1l-4.4 12.1l25 62.9l-13.6 -31.7l1.9 -29.0l11.9 7.9l-21.6 32.1l-8.3 -19.9l11.1 4.7l-5.2 -30.0l-1.8 69.2l15.4 -46.8l-20 16.7l20.3 8.8l-13.2 10.0l-7.2 -3.2l-3.9 -16.9l40.1 13.8l-12.2 5.6l-10.1 -8.1l-4.3 18.6l12.5 -8.1l1.8 -25.8l-1 -18.3l-11.8 -1.9l1.6 18.8l3.4 -77.0l2 150.6" fill="none" stroke="none" marker-start="url(#m33)" marker-mid="url(#m33)" marker-end="url(#m33)"/>
<line x1="756.1" y1="2481.3" x2="756.1" y2="2443.4" stroke="#111" stroke-width="3.2" stroke-dasharray="9 4"/>
<line x1="756.1" y1="2512.4" x2="756.1" y2="2551.3" stroke="#111" stroke-width="3.2" stroke-dasharray="9 4"/>
<line x1="744.1" y1="2443.4" x2="768.1" y2="2443.4" stroke="#111" stroke-width="2.2"/>
<line x1="744.1" y1="2551.3" x2="768.1" y2="2551.3" stroke="#111" stroke-width="2.2"/>
<rect x="732.1" y="2492.3" width="48.0" height="8" fill="#000"/>
<line x1="816.3" y1="2487.7" x2="816.3" y2="2451.9" stroke="#111" stroke-width="3.2" stroke-dasharray="9 4"/>
<line x1="816.3" y1="2518.6" x2="816.3" y2="2555.8" stroke="#111" stroke-width="3.2" stroke-dasharray="9 4"/>
<line x1="804.3" y1="2451.9" x2="828.3" y2="2451.9" stroke="#111" stroke-width="2.2"/>
<line x1="804.3" y1="2555.8" x2="828.3" y2="2555.8" stroke="#111" stroke-width="2.2"/>
<rect x="792.3" y="2499.0" width="48.0" height="8" fill="#000"/>
<line x1="876.2" y1="2498.4" x2="876.2" y2="2451.4" stroke="#111" stroke-width="3.2" stroke-dasharray="9 4"/>
<line x1="876.2" y1="2531.2" x2="876.2" y2="2570.5" stroke="#111" stroke-width="3.2" stroke-dasharray="9 4"/>
<line x1="864.2" y1="2451.4" x2="888.2" y2="2451.4" stroke="#111" stroke-width="2.2"/>
<line x1="864.2" y1="2570.5" x2="888.2" y2="2570.5" stroke="#111" stroke-width="2.2"/>
<rect x="852.2" y="2512.3" width="48.0" height="8" fill="#000"/>
<rect x="718.7" y="2423.3" width="195.1" height="210.7" fill="none" stroke="#222" stroke-width="1.5"/>
<text x="1113.2" y="2374.6" font-size="20.5" text-anchor="middle" fill="#000">M20 RNA splicing</text>
<text x="1113.2" y="2399.2" font-size="20.5" text-anchor="middle" fill="#000"><tspan font-style="italic">P</tspan> = 1.6 × 10<tspan font-size="14" dy="-9">−12</tspan></text>
<line x1="1007.5" y1="2425.2" x2="1015.9" y2="2425.2" stroke="#444" stroke-width="1.2"/>
<text x="994.2" y="2432.4" font-size="20" text-anchor="end">0.2</text>
<line x1="1007.5" y1="2468.8" x2="1015.9" y2="2468.8" stroke="#444" stroke-width="1.2"/>
<text x="994.2" y="2476.0" font-size="20" text-anchor="end">0.1</text>
<line x1="1007.5" y1="2512.4" x2="1015.9" y2="2512.4" stroke="#444" stroke-width="1.2"/>
<text x="994.2" y="2519.6" font-size="20" text-anchor="end">0</text>
<line x1="1007.5" y1="2556.0" x2="1015.9" y2="2556.0" stroke="#444" stroke-width="1.2"/>
<text x="994.2" y="2563.2" font-size="20" text-anchor="end">−0.1</text>
<line x1="1007.5" y1="2599.6" x2="1015.9" y2="2599.6" stroke="#444" stroke-width="1.2"/>
<text x="994.2" y="2606.8" font-size="20" text-anchor="end">−0.2</text>
<line x1="1053.1" y1="2635.7" x2="1053.1" y2="2643.7" stroke="#444" stroke-width="1.2"/>
<line x1="1113.0" y1="2635.7" x2="1113.0" y2="2643.7" stroke="#444" stroke-width="1.2"/>
<line x1="1173.2" y1="2635.7" x2="1173.2" y2="2643.7" stroke="#444" stroke-width="1.2"/>
<text x="1050.1" y="2672.7" font-size="20" text-anchor="middle">Cntl</text>
<text x="1110.0" y="2672.7" font-size="20" text-anchor="middle">AsymAD</text>
<text x="1174.2" y="2672.7" font-size="20" text-anchor="middle">AD</text>
<rect x="1029.1" y="2508.7" width="48.0" height="22.9" fill="#4169E1" stroke="#555" stroke-width="0.8"/>
<rect x="1089.0" y="2504.8" width="48.0" height="24.6" fill="#4169E1" stroke="#555" stroke-width="0.8"/>
<rect x="1149.2" y="2495.2" width="48.0" height="19.8" fill="#4169E1" stroke="#555" stroke-width="0.8"/>
<defs><marker id="m34" markerUnits="userSpaceOnUse" markerWidth="10.4" markerHeight="10.4" refX="5.20" refY="5.20" overflow="visible"><circle cx="5.20" cy="5.20" r="3.3" fill="#E2E8FA" fill-opacity="0.35" stroke="#333" stroke-width="0.9" stroke-opacity="0.85"/></marker></defs><path d="M1038.2 2523.9l12.2 -23.1l10 27.3l4.3 -5.4l-10 -1.8l4.7 19.2l-.2 -11.6l-17.3 -13.1l1.9 23.7l28.3 -13.5l-24.3 -39.0l19.2 15.0l-24 -13.8l3.5 15.7l13 31.8l-17.5 -8.5l32 -5.9l-16.2 -14.9l5.5 -12.9l-3.1 30.5l3.3 21.3l-22.9 -43.2l8.2 -3.2l-.7 -14.3l0 38.5l-10 7.3l2.1 6.9l13.3 -7.5l18.2 -13.9l-13.1 -7.1l-.1 25.9l10.7 -24.7l-12.8 5.6l-1.2 -18.3l1.6 37.3l-2.6 -18.6l-11.9 25.9l-2.9 -2.4l23.7 6.7l-11.3 -22.7l13.6 2.0l-26 18.3l13.7 -28.3l13.9 24.6l-23.4 16.9l29.1 -40.1l-24.7 21.9l5.5 12.6l4.9 -34.8l-1.5 3.3l-10.2 17.6l21 2.7l-22.1 -34.4l-6.2 41.3l-6.6 -27.4l38.7 -10.4l-28 26.0l3.4 -4.2l9.8 -4.8l-3 -16.3l-5 36.1l12.8 -12.7l-5.3 -2.8l-18.3 -21.4l23.5 4.3l.1 9.5l-2.5 -32.7l-1 61.4l-22 -14.9l.3 -28.9l32.4 18.8l-24.7 -22.4l23.9 -7.2l-2.6 53.7l1 -45.0l-5.3 27.0l-27.1 -16.4l28.4 -23.4l-13.3 37.8l18.1 -18.4l-2.2 34.8l-21 -61.3l4.6 45.8l-4.6 -17.6l-4.6 3.6l25.5 -25.5l-4.2 20.9l-5.6 35.6l9.2 -28.3l-8.6 -8.8l-22 2.7l21.4 -11.9l4.4 35.1l2.1 -22.0l4.3 -2.3l-21.1 -3.2l10.8 43.0l2.3 -69.9l-6.3 4.9l19 19.8l-24 .6l7.2 35.5l-3.1 -.5l19.5 -25.3l-2.4 5.1l-4.8 -2.4l-2.1 -9.9l-5 -13.7l-1.8 -34.5l-1.6 9.6l74.1 31.5l-19.1 -4.6l5.4 8.2l-15.7 2.7l5 8.4l22.7 7.6l-11.4 -3.7l-10.2 -34.8l29.7 24.5l-25.9 11.8l-9.6 6.3l2 8.4l31.4 -9.0l-23.6 17.8l16.9 -32.9l-25.1 -5.7l25.7 40.9l-16.6 6.2l-6.7 -16.0l12 -54.0l-3.9 36.8l15.4 -3.1l1.8 -14.0l-5.6 24.2l2 18.5l-27.5 -27.0l36.1 2.1l-37.6 -11.2l36.3 20.6l-9.9 2.2l-2.3 -11.1l-8.1 3.8l-11.4 10.8l-.8 -4.7l17.5 -24.9l10.1 7.6l-14 26.9l-8.2 -35.7l28.7 5.4l-33.7 15.3l4.3 -24.1l16.4 16.3l-19.4 -16.8l1 15.6l20.5 20.0l3.9 10.1l-5.9 -38.2l4.2 -11.9l-17.5 -10.3l3.3 44.4l-9 -18.3l27.5 9.9l-12.8 -25.4l-1.7 28.6l-17.4 -22.0l26.4 -23.4l-3.2 68.4l-14.3 -41.2l1.5 4.7l-6.2 6.4l-.8 -4.2l1 -27.6l22 19.3l-24.1 .7l7.3 34.7l12.5 -1.1l4.4 -30.9l-6.1 -4.8l3.3 6.3l-19.6 22.4l-3 -1.2l15 -34.6l13.8 -10.7l-31.8 29.3l10.4 15.5l15.4 -28.5l-13.4 -13.5l6.9 40.6l3.5 -2.8l1.1 -6.0l-11.2 -10.4l7.3 12.9l-16.7 1.5l36.3 -17.0l-14.3 3.7l-15.3 -7.7l-7.4 .0l10.4 -22.5l15.8 13.5l-25.3 15.2l20.7 -1.7l5.5 4.1l-23.5 10.9l24.2 -24.1l-10.8 .0l14.3 26.2l-9.1 22.8l7.1 -12.8l-27.9 -21.8l22.3 -26.7l.9 58.5l-26.2 -45.3l36.2 14.4l-20.4 11.0l16.2 -33.2l-16.9 38.7l2.1 -14.3l17.8 -15.5l-2.1 -1.8l.9 .8l-7.7 26.7l-16.7 10.4l4.5 -60.2l-12.4 22.3l2.4 7.9l18.8 -1.1l-21 -6.4l31.9 -.9l-9.1 23.1l-17.4 -.2l12.6 -19.8l13.2 17.6l-6.5 -7.6l-2.7 38.4l.5 -52.2l-19.7 .3l33.2 23.9l-7.6 -13.2l2.6 1.6l1.2 16.0l-30.4 -21.1l-4.7 7.6l16.4 14.4l-2.8 1.9l18.3 -23.7l-19.1 33.7l-11.6 -36.1l9.3 -12.4l-.9 58.7l9 -16.6l-6.4 -4.4l1.8 -42.6l2.9 63.6l7.5 -14.9l-4 9.8l-11.6 -10.8l18.4 -30.5l-13.7 16.4l5.7 4.1l15.2 5.2l-7.5 3.7l-11.1 -39.7l8.2 -2.1l-24.8 21.6l14.1 -29.4l-3.5 3.2l6.6 25.2l.3 37.0l-8.3 -24.1l-3.3 -1.8l12.7 -20.9l-13.9 7.8l27.9 -19.8l-19.9 61.2l15.5 -66.4l-7.3 24.5l12.6 -19.9l-21 34.7l18.4 -13.6l-26.4 -15.3l19.6 -5.0l-21.6 25.3l-.5 -12.1l30.9 29.2l-18.8 -12.0l10.6 -16.4l-3.1 -23.2l5.8 47.1l-22.4 -34.6l13.6 -2.6l-1.7 33.4l-.4 -6.1l7.7 -13.5l7.2 38.0l-.4 -41.3l-1.6 -19.0l-17.2 1.5l24.5 49.7l-24.8 -13.9l2 -6.0l-2.2 -27.9l18.6 18.4l-22 5.0l-2.6 10.1l22.6 24.7l-11.4 -21.1l6.3 10.5l5 -11.4l-21.9 -12.9l25.1 11.0l6.5 -20.6l-21.4 16.1l-3 16.5l7.1 -79.1l.7 8.7l-.5 163.5l64.7 -138.2l-13 21.9l-9.8 -15.1l10.6 -9.3l25.1 26.2l-18.8 20.8l1.1 -3.9l-.8 9.6l-8.4 -12.5l16.3 -24.2l-12 -13.5l8.1 25.5l-6.7 -30.1l-5.3 15.9l26.5 -8.9l-26.6 13.2l13.3 -11.3l2.2 6.5l-18 15.0l21.7 -11.4l-9.5 18.2l-11.5 -33.3l1.5 -6.8l23.4 21.2l-31.5 9.1l4.8 -23.1l25.6 18.7l-.6 17.3l-25.5 -22.2l17.3 -6.8l5.8 7.4l-3.8 21.1l8.6 -30.5l-22.6 12.5l9.5 -1.1l-21.1 -7.8l22.8 14.4l10.9 -24.0l-24.2 5.1l20.3 -5.4l-31.8 15.6l23.4 18.3l-20.3 -30.6l15.8 21.4l-6.3 -39.8l-2.4 24.4l1.6 10.3l-.5 13.8l15.8 -7.4l12.5 -16.1l-25.9 1.1l-8.3 -4.6l13.3 13.0l4.3 -28.1l12.3 24.0l-25 .3l20.6 -1.7l-22.1 5.4l13.7 -7.6l10.4 -6.7l2.7 29.6l-32.4 -26.3l13.1 -9.2l5.2 47.8l-15.4 -33.7l-4.1 10.9l26.1 -34.4l-12.6 7.0l13.3 16.2l-5.7 23.5l-12.9 -27.5l30.3 8.7l-14.8 -17.2l-7.9 33.3l-14.8 -4.4l13.8 4.0l-6.1 -3.3l2.3 -12.0l13.6 15.8l-7.2 -9.7l9.2 3.6l-3.8 .3l-13.8 -23.0l19.8 42.9l6.9 -30.3l-5.7 13.7l-11.6 -48.3l5.8 27.9l-7.7 30.7l-3 -1.3l-11 -11.7l35.4 -5.8l-19.9 30.1l12.3 -34.6l-25.7 .3l10.3 -10.1l.1 30.0l-8.4 -27.4l19.1 13.8l-4.8 -37.5l-14.4 51.6l14.6 -23.0l5.5 9.6l-15.9 -14.3l-3.9 -6.8l14.9 22.6l12.6 -20.8l-29.2 19.5l.2 -6.9l19.5 26.2l1.9 -9.5l-13.6 -7.0l-2.8 -27.4l19.7 2.7l-18 35.2l12.8 -19.3l11.6 -16.8l-22.7 21.4l9.3 -13.7l-1.7 2.2l7.5 -4.1l-30.1 3.6l24.9 24.6l5.8 -10.1l-2.9 2.8l-1.4 15.6l-16.3 -12.8l-3.3 -25.2l-5.8 15.2l26.9 19.9l-21.6 -36.0l34.2 17.0l-6.4 8.2l-5 -12.1l-10 8.4l-5.4 -15.8l11.5 -33.5l8.5 49.8l-9.5 -12.1l-17.5 -9.6l3.3 33.1l6.5 -17.4l2 4.3l-11.8 -19.6l-1.5 4.0l-1 7.1l26 -27.5l-16.8 25.4l18.6 -5.5l-6.5 -11.8l9.8 16.9l-11.5 -5.2l6.7 2.4l-30.1 7.8l37.8 -1.6l-3.2 -3.2l-15.8 1.9l-9.1 4.1l24.6 -19.9l-6.5 2.2l.1 -7.2l-13.1 50.3l11.9 -.1l-4.1 -34.3l4.2 39.0l-21.8 -28.1l9.3 18.7l.6 -29.5l16.9 22.6l-3.1 -9.3l-14.6 -25.6l-.4 7.4l2.1 5.9l7.5 -4.7l-11.4 6.6l13.1 -18.4l9.6 39.6l-24.6 10.1l1.8 -25.9l-1.3 -34.2l5.4 53.3l14.6 -11.0l-22.2 -2.8l.3 -4.3l9.2 -10.2l.9 40.4l-18.1 -39.7l13.7 -16.6l-12.3 11.8l4.5 -10.6l22.8 43.3l.3 -24.3l-10.4 -17.6l2.2 14.0l-9.5 -11.3l8.8 -22.5l-3.9 19.7l-2.8 39.0l4.3 -91.9l1.8 23.1" fill="none" stroke="none" marker-start="url(#m34)" marker-mid="url(#m34)" marker-end="url(#m34)"/>
<line x1="1053.1" y1="2508.7" x2="1053.1" y2="2476.6" stroke="#111" stroke-width="3.2" stroke-dasharray="9 4"/>
<line x1="1053.1" y1="2531.6" x2="1053.1" y2="2558.6" stroke="#111" stroke-width="3.2" stroke-dasharray="9 4"/>
<line x1="1041.1" y1="2476.6" x2="1065.1" y2="2476.6" stroke="#111" stroke-width="2.2"/>
<line x1="1041.1" y1="2558.6" x2="1065.1" y2="2558.6" stroke="#111" stroke-width="2.2"/>
<rect x="1029.1" y="2516.2" width="48.0" height="8" fill="#000"/>
<line x1="1113.0" y1="2504.8" x2="1113.0" y2="2473.2" stroke="#111" stroke-width="3.2" stroke-dasharray="9 4"/>
<line x1="1113.0" y1="2529.4" x2="1113.0" y2="2556.4" stroke="#111" stroke-width="3.2" stroke-dasharray="9 4"/>
<line x1="1101.0" y1="2473.2" x2="1125.0" y2="2473.2" stroke="#111" stroke-width="2.2"/>
<line x1="1101.0" y1="2556.4" x2="1125.0" y2="2556.4" stroke="#111" stroke-width="2.2"/>
<rect x="1089.0" y="2512.8" width="48.0" height="8" fill="#000"/>
<line x1="1173.2" y1="2495.2" x2="1173.2" y2="2466.2" stroke="#111" stroke-width="3.2" stroke-dasharray="9 4"/>
<line x1="1173.2" y1="2515.0" x2="1173.2" y2="2545.4" stroke="#111" stroke-width="3.2" stroke-dasharray="9 4"/>
<line x1="1161.2" y1="2466.2" x2="1185.2" y2="2466.2" stroke="#111" stroke-width="2.2"/>
<line x1="1161.2" y1="2545.4" x2="1185.2" y2="2545.4" stroke="#111" stroke-width="2.2"/>
<rect x="1149.2" y="2500.8" width="48.0" height="8" fill="#000"/>
<rect x="1015.9" y="2424.9" width="194.7" height="210.8" fill="none" stroke="#222" stroke-width="1.5"/>
<text x="1410.9" y="2374.6" font-size="20.5" text-anchor="middle" fill="#000">M2 mitochondria</text>
<text x="1410.9" y="2399.2" font-size="20.5" text-anchor="middle" fill="#000"><tspan font-style="italic">P</tspan> = 1.3 × 10<tspan font-size="14" dy="-9">−14</tspan></text>
<line x1="1305.2" y1="2426.3" x2="1313.6" y2="2426.3" stroke="#444" stroke-width="1.2"/>
<text x="1291.9" y="2433.5" font-size="20" text-anchor="end">0.15</text>
<line x1="1305.2" y1="2454.3" x2="1313.6" y2="2454.3" stroke="#444" stroke-width="1.2"/>
<text x="1291.9" y="2461.5" font-size="20" text-anchor="end">0.10</text>
<line x1="1305.2" y1="2482.3" x2="1313.6" y2="2482.3" stroke="#444" stroke-width="1.2"/>
<text x="1291.9" y="2489.5" font-size="20" text-anchor="end">0.05</text>
<line x1="1305.2" y1="2510.3" x2="1313.6" y2="2510.3" stroke="#444" stroke-width="1.2"/>
<text x="1291.9" y="2517.5" font-size="20" text-anchor="end">0</text>
<line x1="1305.2" y1="2538.3" x2="1313.6" y2="2538.3" stroke="#444" stroke-width="1.2"/>
<text x="1291.9" y="2545.5" font-size="20" text-anchor="end">−0.05</text>
<line x1="1305.2" y1="2566.3" x2="1313.6" y2="2566.3" stroke="#444" stroke-width="1.2"/>
<text x="1291.9" y="2573.5" font-size="20" text-anchor="end">−0.10</text>
<line x1="1305.2" y1="2594.3" x2="1313.6" y2="2594.3" stroke="#444" stroke-width="1.2"/>
<text x="1291.9" y="2601.5" font-size="20" text-anchor="end">−0.15</text>
<line x1="1305.2" y1="2622.3" x2="1313.6" y2="2622.3" stroke="#444" stroke-width="1.2"/>
<text x="1291.9" y="2629.5" font-size="20" text-anchor="end">−0.20</text>
<line x1="1350.8" y1="2634.0" x2="1350.8" y2="2642.0" stroke="#444" stroke-width="1.2"/>
<line x1="1411.2" y1="2634.0" x2="1411.2" y2="2642.0" stroke="#444" stroke-width="1.2"/>
<line x1="1471.6" y1="2634.0" x2="1471.6" y2="2642.0" stroke="#444" stroke-width="1.2"/>
<text x="1347.8" y="2671.0" font-size="20" text-anchor="middle">Cntl</text>
<text x="1408.2" y="2671.0" font-size="20" text-anchor="middle">AsymAD</text>
<text x="1472.6" y="2671.0" font-size="20" text-anchor="middle">AD</text>
<rect x="1326.8" y="2489.4" width="48.0" height="25.0" fill="#0000FF" stroke="#555" stroke-width="0.8"/>
<rect x="1387.2" y="2486.9" width="48.0" height="31.7" fill="#0000FF" stroke="#555" stroke-width="0.8"/>
<rect x="1447.6" y="2509.9" width="48.0" height="27.8" fill="#0000FF" stroke="#555" stroke-width="0.8"/>
<defs><marker id="m35" markerUnits="userSpaceOnUse" markerWidth="10.4" markerHeight="10.4" refX="5.20" refY="5.20" overflow="visible"><circle cx="5.20" cy="5.20" r="3.3" fill="#DCDCFA" fill-opacity="0.35" stroke="#333" stroke-width="0.9" stroke-opacity="0.85"/></marker></defs><path d="M1333.5 2484.4l2.5 25.3l24.5 -14.1l-27 19.6l25 2.3l1 -17.2l-22.3 9.1l12.6 -5.4l4.9 12.7l14 -23.2l-15.3 -26.1l-17.3 25.7l-3.1 -.5l4.4 15.2l.1 10.3l24.6 1.5l-.2 5.6l-26.4 -35.0l26.3 20.1l4.5 5.0l-25.9 1.8l10.5 -32.7l-4.4 -27.3l1.1 46.7l14.2 -5.4l-21 24.8l10.1 -66.5l3.4 74.6l11.3 -38.8l3.9 18.1l-2.9 3.2l-19.8 -19.2l.7 43.8l19.4 -47.8l-3.1 28.8l-.1 -17.9l-8.4 -4.9l13.8 -3.8l-30.6 -12.0l-.9 19.9l24.1 2.4l-20.4 .1l14.7 -11.8l-2.1 23.3l1.8 -15.6l-12.8 24.1l27.3 -22.9l-17.1 17.6l-20.2 1.3l10.4 -11.3l8.3 -5.8l12 -19.3l-8.3 26.5l13 -19.1l-24.2 24.3l-4.4 -44.7l9.1 44.0l19.4 -12.3l-16.7 -42.9l13.3 53.6l-6.7 -46.8l3.2 6.1l-10.5 23.6l-19.4 -.6l21.7 -16.1l-12.4 -8.4l5.8 51.5l-5.6 -4.2l4.1 -10.2l4.9 10.3l8.5 -22.7l11.5 4.4l-4.5 .8l-5 -23.6l-23.8 20.4l17.5 2.7l-8.2 1.7l2.3 -1.8l-13.9 -7.2l14.7 6.3l19.6 -9.1l-3.1 .7l-2.8 -4.9l-24.7 40.3l26.8 -30.8l-18 7.1l-2.2 11.5l6.1 -29.6l-5.6 41.6l-4.3 -30.0l26.7 11.7l-14.2 22.3l-4.2 -27.4l2.8 -15.3l-14.7 -8.1l-3.5 24.6l7.6 -39.6l4.8 61.0l19.8 -32.6l-29.1 35.5l5.3 -24.3l22.6 15.1l-26.4 -21.3l12.7 -13.4l16.4 14.0l-6.3 -6.8l-14.6 2.1l-3.8 1.5l7.2 -63.4l.2 132.7l47.3 -92.3l18.7 35.3l12.1 -24.6l-29.4 35.7l24.6 -25.2l-16.2 23.2l-15.5 -10.9l18 -2.6l15 2.0l-16.5 3.9l-14.9 -8.8l8.6 -6.4l8.7 -38.0l8.9 24.5l-19.7 -10.8l15.6 39.4l-12.1 2.4l8.3 -14.4l18.5 9.6l-7.9 -31.3l-27.5 49.1l25.8 -33.5l-8.4 41.3l-1.1 -53.4l18.2 35.9l-8 .6l-28 -20.1l23.4 -1.2l10.9 1.0l-29.6 4.3l13 18.5l-19.6 -13.7l30.1 9.8l-19.9 9.9l14 -27.8l-3.7 11.6l11.8 16.6l-16.6 -.7l-14.5 -18.6l15.2 5.7l19.2 -29.0l-16.1 -30.1l-12.4 75.9l7.3 -27.5l-3.6 -23.3l8 11.3l12.2 -17.0l9.5 40.5l-13.5 -40.5l4.1 43.3l-15.4 -43.5l17.7 30.3l-9.3 28.9l-5.3 -35.5l4.7 47.4l-14.8 -54.7l-7.2 -2.3l20.5 18.4l8.3 32.2l-18.6 -21.8l20.6 -3.8l-22.5 5.3l6.5 -8.3l3.8 -41.7l3 34.1l-5.2 19.6l-8.8 -23.0l24.7 18.7l-5.7 -12.0l-14.7 46.7l15.7 1.8l10 -61.9l-28 43.5l17.2 -17.3l-11.4 -16.4l.6 4.3l21.9 -1.7l-33.6 .0l2.7 -8.6l1 -9.8l1.5 -13.9l26.9 51.2l-31.8 -31.4l16.9 -15.2l1.2 2.3l11.5 30.4l-11.4 -53.5l-1.7 48.5l14.3 .9l-10 -10.3l1.2 38.1l-25.5 -48.1l13 53.8l-10.5 -25.9l3.6 13.1l27 -11.8l-16 2.8l3.3 -50.6l-17.1 67.0l17.8 -17.6l-11.6 .9l25.8 -14.9l-18.2 -20.8l-3 -18.0l-5.8 -1.8l4.6 21.1l13.4 38.1l-19.9 -14.8l24.6 -27.3l-4.3 2.4l-29.1 28.3l5.5 -.1l11.5 25.8l-6.3 -41.2l18.4 -1.5l-23.2 49.2l.3 -50.2l24.2 29.9l-1.5 -24.7l-5.7 -38.1l-1.2 19.6l11.9 15.5l-.1 36.1l-3.6 -21.9l-2.1 25.6l6.5 -24.3l-5.5 -10.8l4.2 11.8l-.5 .0l1.6 -13.8l-.3 20.0l-12 -30.3l16 33.3l-20.4 -4.2l-14.1 7.2l9.5 -26.3l16.4 -28.7l-17 70.9l-.1 -21.3l-2.8 12.9l0 -48.0l11 33.8l-4.6 -29.6l-3.9 43.8l8.2 22.3l-1.7 -63.4l-4 8.3l-12.5 32.7l31.2 -19.2l-4.6 -2.2l-19.1 19.6l-.4 1.8l4.1 -62.8l16.5 -2.1l-22.1 49.6l8.3 21.9l1.1 -43.4l-6.4 42.9l-6.9 -23.2l14 -4.3l2.6 7.7l8.6 19.4l-11.5 4.7l-6.3 -26.7l10.9 -2.5l2.8 35.3l4.1 -1.9l-19.3 -75.6l18.2 -1.3l-18.4 14.1l11.2 49.4l-12.9 -6.7l15.4 -15.5l-7.8 -14.8l-13.9 35.0l-.2 -40.2l8.6 -19.1l9.7 36.8l-17.5 -20.8l26.5 45.8l-6.4 -20.0l3.6 8.0l-25.7 -8.6l37.6 -7.4l-10.4 -53.5l-2.4 65.5l7.1 9.6l-13.4 -22.2l-7.6 35.7l-3.7 -1.8l18.4 -34.7l-5.7 -11.1l10.8 4.1l-10 48.2l-11.9 -48.1l26.4 -4.8l-8 4.8l-3.4 43.9l-9.2 -86.6l-10.7 56.1l32.8 -21.6l-15.3 86.6l-1.8 5.6l0 1.7l0 10.1l-.8 39.7l67.9 -116.8l-1.1 60.8l7.3 -25.1l-23.5 -25.9l11.8 -5.2l12.7 4.1l-2.5 19.1l-12.4 -27.0l7.2 44.7l-11 -33.5l23.7 -14.5l-12.6 16.6l-10 11.8l-3.6 25.5l2.8 -5.5l2.5 -48.2l18.8 7.9l-13.9 -.4l-8.8 -20.6l-6.7 58.1l7.9 -17.8l17.5 -35.6l-19 48.2l-3.9 -65.6l-5.2 56.3l26.7 .8l-.7 -3.6l-7 5.0l-12.6 20.8l11.1 -18.8l12.8 -24.3l1.1 3.4l-7.9 -43.5l-8.3 48.8l18.5 -12.4l-20.2 52.6l9.6 -56.9l.9 19.2l-8.6 -51.4l8.7 57.1l-10.7 -35.6l4.4 47.6l-3.6 -23.4l-4 31.6l15.9 -14.6l-14.7 -28.7l17.6 5.1l-5 29.7l-17.8 -13.9l10.2 -.9l-13.9 7.8l9.8 -63.5l-10 51.6l30.9 -4.6l-33.8 -19.5l16.3 -29.1l7 62.9l-.9 -35.3l-26.5 26.5l33.3 -3.5l-7.1 1.1l4.3 -18.1l-16.3 49.0l10.3 .2l4.2 -31.9l-2.5 -6.7l14.7 1.0l-5.9 .8l-14 32.3l10.8 -14.2l-15.6 -11.5l-.4 -19.2l16.8 32.4l-11.6 -2.3l16.1 -6.7l-8.8 -37.5l-15.8 13.8l18.1 9.4l-8.2 11.2l5.4 29.2l6.4 -33.6l-21.1 -16.8l-5.1 27.6l9.4 -41.2l4.9 -16.9l-4.7 22.1l10 60.0l-.3 -1.1l8.3 -33.2l-8.8 22.0l-.9 8.4l4.5 -52.5l-8.6 10.5l-9.6 .4l-11.6 -.9l11.2 21.9l17 -8.9l-6.5 21.0l-19.1 -16.7l26.2 -11.6l-6.3 35.4l-8 -26.6l-5.6 -6.6l24.3 16.8l-33.1 -10.3l-1.1 -2.2l11.6 28.4l-9.6 -19.1l21.1 -2.6l-20.2 7.7l31.5 -16.3l-12.3 -17.7l1.5 -15.7l-9 23.2l-1.2 21.7l-7.2 -19.1l-5.7 8.7l23.2 -2.3l-6.9 22.9l16 -17.1l-13 -16.9l-13.6 -17.5l1.1 31.3l12.2 -22.5l9.2 34.5l-1.1 22.7l-6 -1.2l15.1 -22.3l-8.9 1.8l6.9 -41.2l-22.6 52.7l3.5 5.2l18.6 -16.5l-28.5 13.1l17.9 -32.1l11.3 -20.7l-14.8 57.2l.4 -64.6l-3.9 5.0l18.4 50.9l2.9 -5.3l-19.8 -32.7l6.6 40.3l11.1 -24.8l3.3 14.9l-29.4 -1.9l20.2 -32.0l-15.6 47.6l13 -1.4l-5.8 -16.2l7.4 20.4l-1.7 -49.4l-23.5 -1.6l28 23.7l-12.5 9.4l-14.6 -33.1l17.5 17.2l-5.9 3.6l8.7 -3.1l-12.1 38.1l1 -22.0l-1.4 -4.6l-1.7 -36.7l22.1 9.9l-10.9 24.9l-5 -35.2l17.5 10.8l-19 27.3l2.1 -4.7l13.9 -6.3l-13.5 -29.3l-12.8 51.5l3.5 3.9l-4.2 -46.2l29.8 -11.2l-3.5 28.0l-18.8 44.1l22.8 -68.4l1 15.3l-10.2 27.6l-18.3 -20.0l-2.9 22.4l11.1 -13.2l-2.6 -20.8l-5 14.9l13.5 -4.2l13.6 6.7l-23 16.5l16.3 -44.9l-3.2 24.8l12.3 10.9l-19.2 -26.0l-11.2 7.7l-4.9 12.2l23 -16.8l-20.9 -4.2l14.1 8.3l3.4 -59.0l-1.5 6.7l.9 6.7" fill="none" stroke="none" marker-start="url(#m35)" marker-mid="url(#m35)" marker-end="url(#m35)"/>
<line x1="1350.8" y1="2489.4" x2="1350.8" y2="2453.2" stroke="#111" stroke-width="3.2" stroke-dasharray="9 4"/>
<line x1="1350.8" y1="2514.4" x2="1350.8" y2="2541.5" stroke="#111" stroke-width="3.2" stroke-dasharray="9 4"/>
<line x1="1338.8" y1="2453.2" x2="1362.8" y2="2453.2" stroke="#111" stroke-width="2.2"/>
<line x1="1338.8" y1="2541.5" x2="1362.8" y2="2541.5" stroke="#111" stroke-width="2.2"/>
<rect x="1326.8" y="2498.0" width="48.0" height="8" fill="#000"/>
<line x1="1411.2" y1="2486.9" x2="1411.2" y2="2443.1" stroke="#111" stroke-width="3.2" stroke-dasharray="9 4"/>
<line x1="1411.2" y1="2518.6" x2="1411.2" y2="2551.2" stroke="#111" stroke-width="3.2" stroke-dasharray="9 4"/>
<line x1="1399.2" y1="2443.1" x2="1423.2" y2="2443.1" stroke="#111" stroke-width="2.2"/>
<line x1="1399.2" y1="2551.2" x2="1423.2" y2="2551.2" stroke="#111" stroke-width="2.2"/>
<rect x="1387.2" y="2499.6" width="48.0" height="8" fill="#000"/>
<line x1="1471.6" y1="2509.9" x2="1471.6" y2="2471.7" stroke="#111" stroke-width="3.2" stroke-dasharray="9 4"/>
<line x1="1471.6" y1="2537.6" x2="1471.6" y2="2575.5" stroke="#111" stroke-width="3.2" stroke-dasharray="9 4"/>
<line x1="1459.6" y1="2471.7" x2="1483.6" y2="2471.7" stroke="#111" stroke-width="2.2"/>
<line x1="1459.6" y1="2575.5" x2="1483.6" y2="2575.5" stroke="#111" stroke-width="2.2"/>
<rect x="1447.6" y="2518.6" width="48.0" height="8" fill="#000"/>
<rect x="1313.6" y="2423.8" width="194.7" height="210.2" fill="none" stroke="#222" stroke-width="1.5"/>
<text x="1700.4" y="2374.6" font-size="20.5" text-anchor="middle" fill="#000">M29 glycosylation/ER</text>
<text x="1700.4" y="2399.2" font-size="20.5" text-anchor="middle" fill="#000"><tspan font-style="italic">P</tspan> = 3 × 10<tspan font-size="14" dy="-9">−10</tspan></text>
<line x1="1594.7" y1="2429.6" x2="1603.1" y2="2429.6" stroke="#444" stroke-width="1.2"/>
<text x="1581.4" y="2436.8" font-size="20" text-anchor="end">0.15</text>
<line x1="1594.7" y1="2461.7" x2="1603.1" y2="2461.7" stroke="#444" stroke-width="1.2"/>
<text x="1581.4" y="2468.9" font-size="20" text-anchor="end">0.10</text>
<line x1="1594.7" y1="2493.8" x2="1603.1" y2="2493.8" stroke="#444" stroke-width="1.2"/>
<text x="1581.4" y="2501.0" font-size="20" text-anchor="end">0.05</text>
<line x1="1594.7" y1="2525.9" x2="1603.1" y2="2525.9" stroke="#444" stroke-width="1.2"/>
<text x="1581.4" y="2533.1" font-size="20" text-anchor="end">0</text>
<line x1="1594.7" y1="2558.0" x2="1603.1" y2="2558.0" stroke="#444" stroke-width="1.2"/>
<text x="1581.4" y="2565.2" font-size="20" text-anchor="end">−0.05</text>
<line x1="1594.7" y1="2590.1" x2="1603.1" y2="2590.1" stroke="#444" stroke-width="1.2"/>
<text x="1581.4" y="2597.3" font-size="20" text-anchor="end">−0.10</text>
<line x1="1594.7" y1="2622.2" x2="1603.1" y2="2622.2" stroke="#444" stroke-width="1.2"/>
<text x="1581.4" y="2629.4" font-size="20" text-anchor="end">−0.15</text>
<line x1="1640.3" y1="2633.8" x2="1640.3" y2="2641.8" stroke="#444" stroke-width="1.2"/>
<line x1="1700.2" y1="2633.8" x2="1700.2" y2="2641.8" stroke="#444" stroke-width="1.2"/>
<line x1="1760.4" y1="2633.8" x2="1760.4" y2="2641.8" stroke="#444" stroke-width="1.2"/>
<text x="1637.3" y="2670.8" font-size="20" text-anchor="middle">Cntl</text>
<text x="1697.2" y="2670.8" font-size="20" text-anchor="middle">AsymAD</text>
<text x="1761.4" y="2670.8" font-size="20" text-anchor="middle">AD</text>
<rect x="1616.3" y="2495.2" width="48.0" height="40.6" fill="#8B4513" stroke="#555" stroke-width="0.8"/>
<rect x="1676.2" y="2503.7" width="48.0" height="34.9" fill="#8B4513" stroke="#555" stroke-width="0.8"/>
<rect x="1736.4" y="2520.4" width="48.0" height="35.5" fill="#8B4513" stroke="#555" stroke-width="0.8"/>
<defs><marker id="m36" markerUnits="userSpaceOnUse" markerWidth="10.4" markerHeight="10.4" refX="5.20" refY="5.20" overflow="visible"><circle cx="5.20" cy="5.20" r="3.3" fill="#F4E8E0" fill-opacity="0.35" stroke="#333" stroke-width="0.9" stroke-opacity="0.85"/></marker></defs><path d="M1633.0 2509.5l10.9 29.5l-17.1 -53.8l26.9 47.5l-12.3 22.0l2.3 -61.3l-.9 16.2l-17.7 -8.1l29.9 38.3l-34.8 -30.9l7.8 26.5l11.7 13.0l17.2 -9.8l-8.7 -36.0l8.7 7.9l-20.8 -40.1l6.1 25.3l2.1 40.8l-15 -25.9l-4 34.9l8.3 -27.4l-8.9 24.9l-1.9 6.0l4.4 -15.8l24.8 -50.3l-8.1 75.5l6.6 -50.0l-7.1 2.2l-3.8 30.4l16.9 -26.8l-22.7 -.4l-3.5 .3l1.2 7.7l-3.6 -46.0l-7.7 37.7l11.3 27.6l14.1 -3.3l-13.5 30.4l7.4 -12.1l-8 -40.4l19.2 -5.4l-21.1 21.2l8.8 8.9l8.9 25.1l.7 -76.1l3.6 -14.7l-26.1 4.4l13.4 37.5l-8.9 37.8l21.8 8.2l-21.6 -28.6l22.3 -30.2l-11.6 41.2l4.8 38.0l5.1 -93.2l-.1 -14.7l2.1 81.4l-15.8 -67.8l10.4 19.9l6.2 48.9l-1.4 -54.0l-14.3 20.0l11.1 -53.1l2.2 69.5l-13 -45.9l.1 -6.9l-.6 33.9l20.6 -11.1l-27.7 -18.3l28.4 17.5l-33.7 1.9l4.9 17.4l15.8 46.4l1.4 -22.2l-13.7 -.1l.2 -71.0l8.3 82.7l7.3 -14.9l-13.9 -39.9l3.5 27.9l-1.6 -30.6l15.8 -4.6l3 .7l-13 -38.5l-9.4 4.6l4.1 10.2l-.1 -4.3l7.6 40.4l-11.3 39.7l10.3 -55.4l-3.2 13.5l.5 -23.4l17.5 42.9l-22.5 -16.0l-6.4 19.2l-7.8 -44.6l-2.6 19.8l27.9 21.4l8 -29.9l-9.6 43.6l-16 5.7l-7.3 -6.5l15.2 -15.4l-14.5 11.0l-.7 -34.4l22 42.9l-18.9 -19.5l13.7 37.3l7 18.4l-6.5 -152.7l46.7 111.1l6.3 -45.8l-5.9 6.6l12.8 23.5l16 -3.8l-11.3 14.6l-1.9 -13.8l-21.3 -.7l12.4 -22.5l23.1 12.1l-11 10.3l7.5 14.6l-26 -15.8l-4.1 19.5l3 -57.2l8.2 80.8l-.3 -46.4l3.3 18.2l-4 -46.1l19.9 16.1l-8.2 12.2l.8 -6.4l-25 13.0l29.7 43.3l-10.7 -85.1l-3.6 83.2l10.8 -19.6l9.6 -14.3l-24.7 -41.4l10.8 28.1l3 -3.4l-13.4 24.3l-2.6 -57.5l-3.4 48.9l7.3 -66.8l26.2 54.0l-12.5 23.0l-12.7 -2.0l24.9 -31.2l-27.3 -6.4l16.4 -17.4l-7.1 15.9l-19.4 16.0l34.4 -3.8l-32.1 38.7l30.2 -11.7l-19.9 -39.5l10.3 7.2l-21.2 -22.0l10.3 59.1l21.1 -31.6l-.2 25.0l-7.9 -58.3l-2.9 26.3l-2.5 44.1l-17.7 -16.3l17.7 -51.3l10.3 21.4l2.9 -3.1l-30.1 43.3l21 -10.2l-24.4 -14.5l3.3 12.0l23.1 -26.7l-14.4 -17.4l5.2 32.9l19 -16.1l-5.9 29.3l2.6 -6.9l-3.4 -16.2l1.9 24.5l-18.4 -5.2l4.1 -31.1l-4.3 -28.4l23.7 34.9l-10.9 43.6l-25.8 -9.4l9.4 -34.6l15.8 16.9l-26.1 -10.9l31 29.1l-21.4 -75.1l15.5 100.7l-11.2 -4.4l6.9 -72.8l-14.6 39.6l8.5 -17.6l6.6 41.0l-4.6 -51.7l12.7 49.1l-11.2 -28.3l5.5 -32.2l3 6.2l-2.7 32.6l4.2 27.7l-29.5 -42.8l7.8 -36.5l25.8 37.0l-10.5 29.1l-3.3 -13.9l13.5 -36.8l-1.3 61.1l-23.1 -34.4l12.5 4.4l-7.2 3.3l2 -42.7l-4.4 -.1l7.9 52.4l.8 -26.0l3.2 23.7l1.6 -13.4l4.6 -24.4l-20.7 -11.0l-2.6 7.9l2.7 54.9l27.2 2.1l-6.8 -18.1l-3 27.1l2.5 -72.1l-24.1 25.5l34.6 25.9l-9.8 -13.5l-25.3 -7.6l8.2 -50.4l26.9 48.0l-12.9 2.0l-6 -37.8l-5.1 80.1l2.7 -17.5l5.8 -37.0l7.6 1.0l-13.6 49.0l18.9 -11.3l-6.1 -34.3l-27.7 32.3l28.5 -1.3l-8.2 -14.0l-3.2 17.8l-12.5 -18.3l-2.4 -1.4l5.5 12.4l-7 -21.3l15.1 -26.7l17.1 3.1l-2.3 21.9l-20.7 -33.1l10.7 16.6l-13.8 67.7l11.8 -18.9l-5.4 -35.0l-4.6 -3.4l-5.5 43.0l26.7 -10.8l-18.8 -16.6l23.8 -12.2l-7 3.4l-23.5 4.8l15.7 13.0l5 9.8l-8.8 17.7l2.9 -37.8l-9.8 -14.3l27.4 11.4l-34.5 6.7l12.9 .7l-13.6 -4.2l22.4 -18.3l3.8 32.4l-23.3 19.7l26.4 -20.0l.9 18.6l-24.2 -13.3l-.4 -28.5l-10.2 -1.7l14.5 9.7l11 6.6l-15.6 -31.6l-5.1 .2l25.1 22.2l-20.3 13.9l31.6 -10.7l-11.2 -6.5l-14.6 1.1l17.1 19.6l-15 6.8l9.8 -31.6l-14.2 -15.9l5.6 20.9l8.5 -.7l4.6 9.8l-12.4 .9l14.8 1.5l-19.6 -32.0l18.8 59.0l-7.4 -83.6l9.9 19.3l-.2 53.9l-4.7 11.8l1.9 -23.3l-18 -34.8l22.4 35.7l-31.8 20.4l28.6 -60.6l-20.1 47.0l-9.8 -36.6l25.8 26.6l51 40.4l6.8 -72.5l2.9 29.1l-13.7 63.3l.9 -50.1l21.4 -26.0l-17.1 -7.5l7.9 21.2l-17.7 -1.8l18.5 26.7l-20.2 -51.9l4.5 -21.3l2.8 40.5l4.3 -6.2l-14.5 5.9l2.6 18.6l27.9 12.1l-20.3 -54.1l-10.3 .1l-2.1 10.5l32.4 22.7l-34.7 25.0l3.8 -4.4l10.9 -64.4l-13.7 65.0l13.2 -9.9l-3.2 -19.8l4.7 39.4l-.1 -23.6l-12.2 16.9l.7 19.0l11.6 -23.6l16.7 6.8l-29.3 -19.6l30.1 1.2l-11 35.9l-12.1 -89.6l5.8 68.9l-16.8 4.8l32.2 -47.7l-5.4 14.4l-25.3 18.8l6.8 -2.0l9.9 -13.2l12.4 -31.7l-24.7 24.7l7.4 -23.8l4.2 16.5l8.3 -38.3l-2 13.1l-2.1 31.8l5.3 26.5l-3.2 -47.5l-15.7 60.5l-5.5 -27.8l17.7 26.9l14 -51.8l-21.7 1.9l14.4 37.6l4.1 -3.5l4.8 -33.8l-7.2 46.1l-18.9 -48.3l-.6 -2.2l1.2 47.4l-1.7 34.7l-8.2 -49.4l26.4 -7.1l-10.4 45.7l-.8 -85.7l8.5 95.4l12.4 -55.4l-12.5 -4.2l-20.1 -.2l2.5 -5.0l5 60.5l17.4 -27.3l-22.8 -22.1l-2 .0l22 -51.5l-18.2 78.1l23.2 -56.9l-4.1 82.6l2.5 -4.2l-25.6 -29.4l2.3 -7.6l4.5 9.2l7.4 -35.4l-5.2 56.9l.4 -8.4l12.7 -15.2l-3.8 3.9l-19.1 14.0l12.2 16.4l11.9 -24.6l-6.1 -28.5l5.1 37.1l-9.7 -18.0l10.7 -35.9l-27.9 25.0l21.7 -31.0l-1.6 26.4l-2.8 30.9l1.1 -70.5l-12.5 12.5l23.6 3.9l6 53.6l-9.2 -81.7l-7.9 .6l7 73.4l-11.1 -1.3l-10.6 -3.9l34.9 -22.4l-18.6 43.3l-4.6 11.6l11.1 -89.7l-11.1 33.5l13.8 10.8l-6.3 46.6l-9.6 -15.7l23.6 -58.5l-4.4 60.8l-21.7 -18.0l10.6 -27.7l16.8 4.7l-31 -15.0l8.1 9.5l21.9 -2.1l-12.9 -19.6l13.8 48.6l-1.7 -20.5l-32.6 -3.5l16.9 1.4l4.1 -1.5l3.1 -14.1l-6.8 17.4l-2.9 38.2l18.2 -61.4l-8.5 40.1l6 -11.4l-19.5 -35.4l9.1 19.2l-9.8 -20.7l13.2 37.5l-15.3 -21.4l14.2 4.6l12.5 14.5l-7.9 -39.0l6.5 59.9l1.5 -38.0l-28.9 13.1l-7.5 .0l30.6 4.9l-3.7 -37.7l-29 30.4l7.1 -21.1l6.2 16.9l11.6 4.3l-8.6 51.8l-3.1 -46.6l20.2 15.9l-20.6 -48.0l0 14.2l14.6 48.7l-16.2 -46.4l26.7 1.4l-14.5 43.0l1.2 -11.0l-26 -12.6l19.6 -45.7l2.9 41.2l11.1 4.8l-19.9 -16.5l-3.6 14.6l8.7 -7.0l2.5 9.4l-14.3 -25.0l5.2 -19.7l24.8 21.1l3.9 19.3l-14 2.0l-20.2 -22.7l5.9 -18.2l20.6 39.5l-20.3 20.1l8.5 -39.4l-3.2 75.2l7.4 -78.4l-23.6 21.8l15.6 13.6l-9.7 3.0l13 -19.8l7.5 36.3l-24.7 -31.1l28 4.7l-9.8 -112.9l-1.3 11.5l.2 12.9l0 1.3l1.1 168.8" fill="none" stroke="none" marker-start="url(#m36)" marker-mid="url(#m36)" marker-end="url(#m36)"/>
<line x1="1640.3" y1="2495.2" x2="1640.3" y2="2461.7" stroke="#111" stroke-width="3.2" stroke-dasharray="9 4"/>
<line x1="1640.3" y1="2535.8" x2="1640.3" y2="2586.2" stroke="#111" stroke-width="3.2" stroke-dasharray="9 4"/>
<line x1="1628.3" y1="2461.7" x2="1652.3" y2="2461.7" stroke="#111" stroke-width="2.2"/>
<line x1="1628.3" y1="2586.2" x2="1652.3" y2="2586.2" stroke="#111" stroke-width="2.2"/>
<rect x="1616.3" y="2515.7" width="48.0" height="8" fill="#000"/>
<line x1="1700.2" y1="2503.7" x2="1700.2" y2="2461.7" stroke="#111" stroke-width="3.2" stroke-dasharray="9 4"/>
<line x1="1700.2" y1="2538.6" x2="1700.2" y2="2577.1" stroke="#111" stroke-width="3.2" stroke-dasharray="9 4"/>
<line x1="1688.2" y1="2461.7" x2="1712.2" y2="2461.7" stroke="#111" stroke-width="2.2"/>
<line x1="1688.2" y1="2577.1" x2="1712.2" y2="2577.1" stroke="#111" stroke-width="2.2"/>
<rect x="1676.2" y="2515.7" width="48.0" height="8" fill="#000"/>
<line x1="1760.4" y1="2520.4" x2="1760.4" y2="2472.2" stroke="#111" stroke-width="3.2" stroke-dasharray="9 4"/>
<line x1="1760.4" y1="2555.9" x2="1760.4" y2="2603.6" stroke="#111" stroke-width="3.2" stroke-dasharray="9 4"/>
<line x1="1748.4" y1="2472.2" x2="1772.4" y2="2472.2" stroke="#111" stroke-width="2.2"/>
<line x1="1748.4" y1="2603.6" x2="1772.4" y2="2603.6" stroke="#111" stroke-width="2.2"/>
<rect x="1736.4" y="2531.3" width="48.0" height="8" fill="#000"/>
<rect x="1603.1" y="2423.8" width="194.7" height="210.0" fill="none" stroke="#222" stroke-width="1.5"/></svg></body></html>
